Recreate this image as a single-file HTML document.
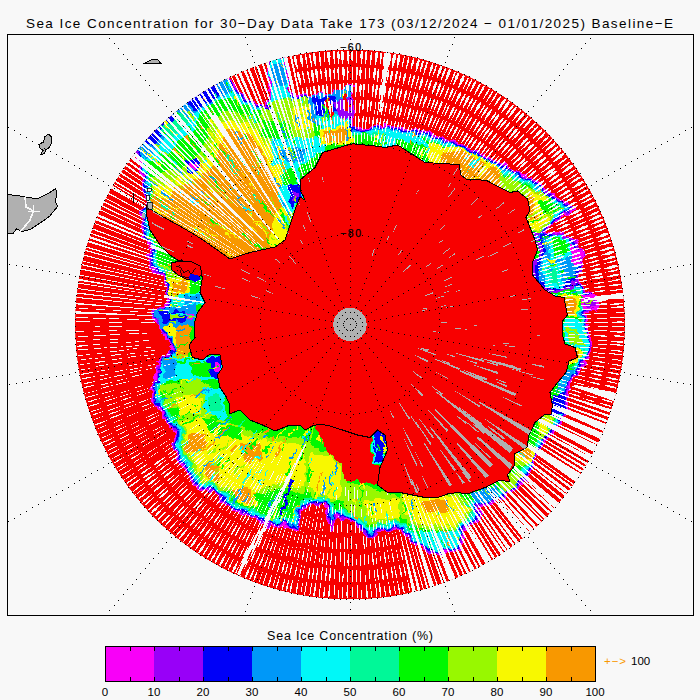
<!DOCTYPE html><html><head><meta charset="utf-8"><title>Sea Ice Concentration</title>
<style>html,body{margin:0;padding:0;background:#f8f8f8;}svg{display:block;font-family:"Liberation Sans",sans-serif;}</style></head><body>
<svg width="700" height="700" viewBox="0 0 700 700" shape-rendering="crispEdges">
<rect width="700" height="700" fill="#f8f8f8"/>
<defs><clipPath id="fr"><rect x="7" y="34" width="686" height="581"/></clipPath>
<clipPath id="disc"><circle cx="350" cy="324.5" r="275"/></clipPath>
<clipPath id="ocean"><path clip-rule="evenodd" d="M0 0H700V700H0Z M146.0 205.0 L150.0 209.0 L165.0 218.0 L182.5 227.5 L200.0 238.0 L217.5 250.0 L230.0 259.0 L250.0 252.5 L275.0 247.0 L285.0 240.0 L290.0 225.0 L295.0 210.0 L300.0 197.0 L305.0 200.0 L301.0 192.0 L300.0 180.0 L315.0 167.5 L322.5 152.5 L347.5 145.0 L352.5 143.8 L375.0 146.0 L385.0 147.5 L397.5 145.0 L415.0 156.0 L425.0 162.5 L450.0 164.0 L459.0 164.0 L461.0 175.0 L467.5 180.0 L475.0 179.0 L487.5 181.0 L500.0 187.5 L510.0 192.5 L517.5 191.0 L527.5 199.0 L530.0 210.0 L526.0 217.5 L530.0 227.5 L535.0 240.0 L537.5 250.0 L532.5 262.5 L532.5 275.0 L545.0 290.0 L555.0 296.0 L564.0 297.5 L567.5 315.0 L562.5 321.0 L562.5 335.0 L565.0 344.0 L575.0 347.5 L577.5 357.5 L569.0 361.0 L566.0 372.5 L557.5 382.5 L550.0 392.5 L552.5 405.0 L551.0 414.0 L544.0 415.0 L535.0 422.5 L529.0 435.0 L527.0 447.5 L514.0 454.0 L515.0 465.0 L507.5 475.0 L510.0 482.0 L500.0 480.0 L485.0 487.5 L475.0 491.0 L467.5 494.0 L457.5 492.5 L447.5 494.0 L437.5 497.5 L425.0 497.5 L412.5 495.0 L400.0 492.5 L387.5 492.5 L377.5 485.0 L380.0 467.5 L387.5 450.0 L385.0 435.0 L377.5 430.0 L370.0 437.5 L357.5 435.0 L342.5 430.0 L330.0 426.0 L320.0 424.0 L312.5 426.0 L305.0 430.0 L300.0 425.0 L290.0 425.0 L275.0 431.0 L262.5 425.0 L250.0 420.0 L240.0 410.0 L229.0 414.0 L230.0 405.0 L225.0 395.0 L220.0 387.5 L217.5 375.0 L222.5 367.5 L220.0 355.0 L210.0 354.0 L202.5 360.0 L192.5 357.5 L189.0 345.0 L195.0 337.5 L194.0 325.0 L197.5 312.5 L205.0 302.5 L200.0 292.5 L202.5 277.5 L198.0 268.0 L188.0 262.0 L177.5 260.0 L170.0 255.0 L160.0 245.0 L150.0 230.0 L146.0 212.0 Z"/></clipPath>
<clipPath id="contclip"><polygon points="146.0,205.0 150.0,209.0 165.0,218.0 182.5,227.5 200.0,238.0 217.5,250.0 230.0,259.0 250.0,252.5 275.0,247.0 285.0,240.0 290.0,225.0 295.0,210.0 300.0,197.0 305.0,200.0 301.0,192.0 300.0,180.0 315.0,167.5 322.5,152.5 347.5,145.0 352.5,143.8 375.0,146.0 385.0,147.5 397.5,145.0 415.0,156.0 425.0,162.5 450.0,164.0 459.0,164.0 461.0,175.0 467.5,180.0 475.0,179.0 487.5,181.0 500.0,187.5 510.0,192.5 517.5,191.0 527.5,199.0 530.0,210.0 526.0,217.5 530.0,227.5 535.0,240.0 537.5,250.0 532.5,262.5 532.5,275.0 545.0,290.0 555.0,296.0 564.0,297.5 567.5,315.0 562.5,321.0 562.5,335.0 565.0,344.0 575.0,347.5 577.5,357.5 569.0,361.0 566.0,372.5 557.5,382.5 550.0,392.5 552.5,405.0 551.0,414.0 544.0,415.0 535.0,422.5 529.0,435.0 527.0,447.5 514.0,454.0 515.0,465.0 507.5,475.0 510.0,482.0 500.0,480.0 485.0,487.5 475.0,491.0 467.5,494.0 457.5,492.5 447.5,494.0 437.5,497.5 425.0,497.5 412.5,495.0 400.0,492.5 387.5,492.5 377.5,485.0 380.0,467.5 387.5,450.0 385.0,435.0 377.5,430.0 370.0,437.5 357.5,435.0 342.5,430.0 330.0,426.0 320.0,424.0 312.5,426.0 305.0,430.0 300.0,425.0 290.0,425.0 275.0,431.0 262.5,425.0 250.0,420.0 240.0,410.0 229.0,414.0 230.0,405.0 225.0,395.0 220.0,387.5 217.5,375.0 222.5,367.5 220.0,355.0 210.0,354.0 202.5,360.0 192.5,357.5 189.0,345.0 195.0,337.5 194.0,325.0 197.5,312.5 205.0,302.5 200.0,292.5 202.5,277.5 198.0,268.0 188.0,262.0 177.5,260.0 170.0,255.0 160.0,245.0 150.0,230.0 146.0,212.0"/></clipPath>
<clipPath id="ext"><polygon points="149.0,206.6 149.0,207.0 149.0,207.4 148.9,207.8 148.8,208.2 148.7,208.5 148.5,208.9 148.3,209.2 148.1,209.5 147.8,209.8 144.2,213.4 146.9,233.9 153.6,248.3 153.8,248.7 153.9,249.1 154.0,249.5 154.0,249.9 154.0,250.3 153.9,250.7 151.8,263.4 165.1,274.4 165.3,274.7 165.6,275.0 165.8,275.3 166.0,275.6 166.2,276.0 166.3,276.3 166.4,276.7 171.4,301.7 171.5,302.1 171.5,302.5 171.5,302.9 171.4,303.2 171.3,303.6 171.2,304.0 171.1,304.3 170.9,304.7 170.6,305.0 170.4,305.3 170.1,305.5 169.8,305.8 169.5,306.0 155.6,313.9 165.9,330.4 166.0,330.5 176.0,348.0 176.2,348.4 176.3,348.7 176.4,349.1 176.5,349.5 176.5,349.9 176.5,350.3 176.4,350.7 176.3,351.1 176.2,351.5 176.0,351.9 175.8,352.2 175.6,352.5 175.3,352.8 175.0,353.1 174.7,353.3 161.2,362.3 159.0,380.5 158.9,380.9 158.8,381.3 154.3,394.7 156.0,398.1 165.8,415.2 178.1,429.9 178.3,430.2 178.5,430.6 178.7,430.9 178.8,431.2 178.9,431.6 179.0,432.0 179.0,432.3 179.0,432.7 179.0,433.1 176.7,449.2 185.9,465.4 199.9,486.3 213.2,488.6 213.6,488.6 214.0,488.8 214.3,488.9 214.7,489.2 215.0,489.4 215.3,489.7 232.2,506.6 251.3,513.7 259.2,516.2 259.5,516.3 259.8,516.4 260.1,516.6 271.7,523.7 282.0,521.1 282.4,521.0 282.8,521.0 283.2,521.0 283.6,521.1 284.0,521.1 284.4,521.3 284.8,521.4 294.6,526.3 301.2,505.8 301.3,505.4 301.5,505.1 301.7,504.7 301.9,504.4 302.2,504.1 302.5,503.9 302.8,503.7 303.1,503.5 303.5,503.3 303.8,503.2 304.2,503.1 304.6,503.0 324.6,501.0 325.0,501.0 325.4,501.0 325.8,501.1 326.2,501.2 326.6,501.3 326.9,501.5 327.3,501.7 327.6,501.9 327.9,502.2 328.1,502.5 328.4,502.9 328.6,503.2 328.7,503.6 328.9,504.0 328.9,504.3 331.6,520.0 333.3,515.6 333.4,515.2 333.6,514.8 333.9,514.5 334.1,514.2 334.4,513.9 334.8,513.7 335.1,513.5 335.5,513.3 335.9,513.2 336.3,513.1 336.7,513.0 337.1,513.0 337.5,513.0 337.9,513.1 338.2,513.2 338.6,513.3 356.6,521.3 357.0,521.5 357.3,521.7 357.6,521.9 357.8,522.2 370.3,534.6 377.5,528.9 377.8,528.7 378.1,528.5 378.5,528.3 378.9,528.2 379.2,528.1 379.6,528.0 399.6,526.0 400.0,526.0 400.4,526.0 400.7,526.1 401.1,526.2 401.5,526.3 401.8,526.4 402.1,526.6 402.4,526.8 402.7,527.1 403.0,527.4 417.3,543.6 437.3,550.9 458.5,546.6 461.0,529.4 461.1,529.0 461.2,528.7 461.4,528.3 461.6,528.0 461.8,527.6 462.0,527.3 462.3,527.1 462.6,526.8 477.2,515.7 474.3,508.5 474.2,508.1 474.1,507.7 474.0,507.4 474.0,507.0 474.0,506.6 474.1,506.2 474.2,505.8 474.3,505.5 474.5,505.1 474.7,504.8 474.9,504.5 475.2,504.2 475.4,503.9 475.7,503.7 476.1,503.5 476.4,503.3 476.8,503.2 498.3,496.4 509.7,488.7 521.9,479.3 531.3,463.3 536.2,448.7 536.4,448.3 536.6,447.9 536.8,447.6 546.8,434.6 546.9,434.4 556.7,422.7 563.9,411.0 563.0,400.3 563.0,400.0 563.0,399.6 563.1,399.2 566.1,384.2 566.2,383.9 566.3,383.5 566.4,383.2 566.6,382.9 566.8,382.6 576.7,369.7 584.3,358.3 587.9,344.7 586.1,330.7 582.1,312.9 582.0,312.5 582.0,312.1 582.0,311.7 582.1,311.3 582.1,310.9 582.3,310.6 582.4,310.2 582.6,309.9 582.8,309.5 583.1,309.2 583.4,309.0 583.7,308.7 584.0,308.5 584.4,308.3 584.7,308.2 594.5,304.9 595.5,300.0 586.0,294.5 585.6,294.2 585.3,294.0 575.3,285.0 575.1,284.7 574.8,284.4 574.6,284.1 574.4,283.8 574.3,283.4 574.1,283.1 574.1,282.7 574.0,282.3 574.0,281.9 574.0,281.6 574.1,281.2 574.2,280.8 574.3,280.5 579.0,269.1 579.9,251.2 572.5,241.3 559.2,236.0 546.0,236.0 545.6,236.0 545.2,235.9 544.8,235.8 544.5,235.7 544.1,235.5 543.8,235.3 543.5,235.1 543.2,234.8 542.9,234.5 542.7,234.2 542.5,233.9 542.3,233.5 542.2,233.2 542.1,232.8 542.0,232.4 542.0,232.0 542.0,231.6 542.1,231.2 542.2,230.8 542.3,230.5 542.5,230.1 542.7,229.8 542.9,229.5 543.2,229.2 548.2,224.2 548.5,223.9 559.5,214.9 559.8,214.7 569.2,208.4 560.1,203.5 559.8,203.3 547.8,195.3 547.5,195.1 532.8,183.4 518.2,175.6 488.2,160.6 463.5,148.7 448.7,143.8 448.5,143.7 424.0,133.9 399.6,131.0 380.0,129.0 353.4,132.0 353.0,132.0 352.7,132.0 352.3,131.9 351.9,131.8 351.5,131.7 351.1,131.5 350.8,131.3 350.5,131.1 350.2,130.8 349.9,130.6 349.7,130.2 349.5,129.9 349.3,129.5 349.2,129.2 349.1,128.8 349.0,128.4 349.0,128.0 349.0,89.9 331.3,95.8 330.9,95.9 330.6,96.0 310.6,99.0 310.3,99.0 309.9,99.0 309.6,99.0 289.6,97.0 289.2,96.9 288.8,96.8 288.5,96.7 288.1,96.5 287.8,96.3 287.5,96.1 287.2,95.8 286.9,95.6 286.7,95.2 286.5,94.9 286.3,94.6 286.2,94.2 286.1,93.8 286.0,93.4 284.0,75.4 284.0,75.0 284.0,60.1 272.0,63.1 272.0,85.0 272.0,85.4 270.0,106.4 269.9,106.8 269.8,107.1 269.7,107.5 269.5,107.9 269.4,108.2 269.1,108.5 268.9,108.8 268.6,109.1 268.3,109.3 268.0,109.5 267.6,109.7 267.2,109.8 266.9,109.9 266.5,110.0 266.1,110.0 265.7,110.0 265.3,109.9 265.0,109.9 264.6,109.7 248.6,103.7 248.3,103.6 248.0,103.4 247.7,103.3 247.4,103.0 233.4,91.0 233.1,90.8 232.9,90.5 232.6,90.2 232.4,89.8 232.3,89.5 229.1,81.4 223.9,80.2 216.7,84.0 208.4,88.8 200.2,93.9 192.3,99.2 184.5,104.9 176.9,110.8 169.6,117.0 162.5,123.4 155.5,130.0 148.9,137.0 142.5,144.1 137.8,149.6 141.7,158.4 141.8,158.8 141.9,159.2 146.9,184.2 147.0,184.6 149.0,206.6"/></clipPath>
<filter id="rough" x="0" y="0" width="700" height="700" filterUnits="userSpaceOnUse"><feTurbulence type="fractalNoise" baseFrequency="0.12" numOctaves="2" seed="4"/><feDisplacementMap in="SourceGraphic" scale="9" xChannelSelector="R" yChannelSelector="G"/></filter>
</defs>
<text x="26" y="28" font-size="13.5" textLength="647" lengthAdjust="spacing" fill="#000">Sea Ice Concentration for 30&#8722;Day Data Take 173 (03/12/2024 &#8722; 01/01/2025) Baseline&#8722;E</text>
<g clip-path="url(#fr)">
<polygon points="7.0,194.3 24.2,196.6 37.2,199.0 48.3,193.4 55.8,188.4 56.7,194.3 55.4,201.8 57.6,206.4 53.0,212.0 50.2,215.7 45.5,219.4 37.2,225.0 29.7,229.7 22.3,231.5 16.7,228.7 13.0,233.4 7.0,233.8" fill="#b0b0b0" stroke="#000" stroke-width="1"/>
<polygon points="44.6,136.7 48.7,134.1 52.0,137.7 51.1,144.2 48.7,147.9 45.5,149.7 44.6,153.5 40.5,154.6 43.1,150.7 40.0,147.9 39.4,144.2 43.7,141.9" fill="#b0b0b0" stroke="#000" stroke-width="1"/>
<polygon points="145.0,63.2 151.2,60.0 157.5,59.5 161.2,63.7 155.0,63.0 150.0,63.7" fill="#b0b0b0" stroke="#000" stroke-width="1"/>
<g clip-path="url(#disc)">
<circle cx="350" cy="324.5" r="275" fill="#f80000"/>
<g filter="url(#rough)">
<polygon points="145.0,207.0 140.0,212.0 143.0,235.0 150.0,250.0 147.5,265.0 162.5,277.5 167.5,302.5 150.0,312.5 162.5,332.5 172.5,350.0 157.5,360.0 155.0,380.0 150.0,395.0 152.5,400.0 162.5,417.5 175.0,432.5 172.5,450.0 182.5,467.5 197.5,490.0 212.5,492.5 230.0,510.0 250.0,517.5 258.0,520.0 271.0,528.0 283.0,525.0 297.0,532.0 305.0,507.0 325.0,505.0 330.0,535.0 337.0,517.0 355.0,525.0 370.0,540.0 380.0,532.0 400.0,530.0 415.0,547.0 437.0,555.0 462.0,550.0 465.0,530.0 482.0,517.0 478.0,507.0 500.0,500.0 512.0,492.0 525.0,482.0 535.0,465.0 540.0,450.0 550.0,437.0 560.0,425.0 568.0,412.0 567.0,400.0 570.0,385.0 580.0,372.0 588.0,360.0 592.0,345.0 590.0,330.0 586.0,312.0 598.0,308.0 600.0,298.0 588.0,291.0 578.0,282.0 583.0,270.0 584.0,250.0 575.0,238.0 560.0,232.0 546.0,232.0 551.0,227.0 562.0,218.0 577.0,208.0 562.0,200.0 550.0,192.0 535.0,180.0 520.0,172.0 490.0,157.0 465.0,145.0 450.0,140.0 425.0,130.0 400.0,127.0 380.0,125.0 353.0,128.0 353.0,84.0 348.0,86.0 330.0,92.0 310.0,95.0 290.0,93.0 288.0,75.0 288.0,55.0 268.0,60.0 268.0,85.0 266.0,106.0 250.0,100.0 236.0,88.0 232.0,78.0 223.3,75.9 214.7,80.5 206.3,85.4 198.0,90.5 190.0,96.0 182.1,101.7 174.4,107.7 167.0,113.9 159.7,120.5 152.7,127.2 146.0,134.2 139.4,141.5 133.2,148.9 138.0,160.0 143.0,185.0 145.0,207.0" fill="#f800f8" />
<polygon points="146.2,206.9 146.2,207.0 146.2,207.1 146.2,207.2 146.1,207.4 146.1,207.5 146.1,207.6 146.0,207.7 145.9,207.8 145.8,207.8 141.3,212.4 144.2,234.7 151.1,249.5 151.1,249.6 151.2,249.7 151.2,249.8 151.2,250.0 151.2,250.1 151.2,250.2 148.8,264.5 163.3,276.6 163.4,276.7 163.4,276.7 163.5,276.8 163.6,276.9 163.6,277.0 163.6,277.2 163.7,277.3 168.7,302.3 168.7,302.4 168.7,302.5 168.7,302.6 168.7,302.7 168.7,302.8 168.6,302.9 168.6,303.0 168.5,303.1 168.4,303.2 168.4,303.3 168.3,303.4 168.2,303.5 168.1,303.5 151.7,312.9 163.5,331.9 163.5,331.9 173.5,349.4 173.6,349.5 173.6,349.6 173.7,349.7 173.7,349.9 173.7,350.0 173.7,350.1 173.7,350.2 173.7,350.3 173.6,350.4 173.6,350.6 173.5,350.7 173.4,350.8 173.4,350.8 173.3,350.9 173.2,351.0 158.6,360.7 156.2,380.1 156.2,380.3 156.1,380.4 151.3,394.9 153.6,399.4 163.5,416.8 175.9,431.7 176.0,431.8 176.0,431.9 176.1,432.0 176.1,432.1 176.2,432.2 176.2,432.3 176.2,432.4 176.2,432.6 176.2,432.7 173.7,449.8 183.5,466.9 198.2,488.9 212.7,491.3 212.8,491.3 212.9,491.4 213.0,491.4 213.2,491.5 213.3,491.6 213.3,491.7 230.7,509.0 250.4,516.4 258.4,518.9 258.5,518.9 258.5,518.9 258.6,519.0 271.2,526.7 282.7,523.8 282.8,523.8 282.9,523.8 283.1,523.8 283.2,523.8 283.3,523.8 283.4,523.9 283.5,523.9 296.3,530.3 303.9,506.6 303.9,506.5 303.9,506.4 304.0,506.3 304.1,506.2 304.2,506.1 304.2,506.1 304.3,506.0 304.4,505.9 304.5,505.9 304.7,505.9 304.8,505.8 304.9,505.8 324.9,503.8 325.0,503.8 325.1,503.8 325.2,503.8 325.4,503.9 325.5,503.9 325.6,503.9 325.7,504.0 325.8,504.1 325.9,504.2 325.9,504.3 326.0,504.4 326.1,504.5 326.1,504.6 326.2,504.7 326.2,504.8 330.5,530.5 335.9,516.6 335.9,516.5 336.0,516.3 336.1,516.3 336.1,516.2 336.2,516.1 336.3,516.0 336.4,515.9 336.5,515.9 336.7,515.9 336.8,515.8 336.9,515.8 337.0,515.8 337.1,515.8 337.3,515.8 337.4,515.9 337.5,515.9 355.5,523.9 355.6,524.0 355.7,524.0 355.8,524.1 355.8,524.2 370.1,538.4 379.3,531.1 379.3,531.0 379.4,530.9 379.5,530.9 379.7,530.9 379.8,530.8 379.9,530.8 399.9,528.8 400.0,528.8 400.1,528.8 400.2,528.8 400.3,528.8 400.4,528.9 400.5,528.9 400.6,529.0 400.7,529.1 400.8,529.1 400.9,529.2 415.7,546.0 437.1,553.8 460.9,549.0 463.8,529.8 463.8,529.7 463.9,529.6 463.9,529.5 464.0,529.4 464.0,529.3 464.1,529.2 464.2,529.1 464.3,529.0 480.5,516.6 476.9,507.4 476.8,507.3 476.8,507.2 476.8,507.1 476.8,507.0 476.8,506.9 476.8,506.8 476.9,506.6 476.9,506.5 476.9,506.4 477.0,506.3 477.1,506.2 477.1,506.2 477.2,506.1 477.3,506.0 477.4,505.9 477.5,505.9 477.6,505.9 499.5,498.9 511.3,491.0 524.1,481.2 533.9,464.5 538.9,449.6 538.9,449.5 539.0,449.4 539.0,449.3 549.0,436.3 549.1,436.2 559.0,424.3 566.8,411.7 565.8,400.1 565.8,400.0 565.8,399.9 565.8,399.8 568.8,384.8 568.8,384.7 568.9,384.6 568.9,384.5 569.0,384.4 569.0,384.3 579.0,371.3 586.9,359.5 590.8,344.9 588.8,330.2 584.8,312.3 584.8,312.1 584.8,312.0 584.8,311.9 584.8,311.8 584.8,311.7 584.9,311.6 584.9,311.5 585.0,311.4 585.1,311.3 585.1,311.2 585.2,311.1 585.3,311.0 585.4,311.0 585.5,310.9 585.6,310.9 597.0,307.1 598.7,298.6 587.4,292.0 587.3,292.0 587.2,291.9 577.2,282.9 577.1,282.8 577.0,282.7 577.0,282.6 576.9,282.5 576.9,282.4 576.8,282.3 576.8,282.2 576.8,282.1 576.8,282.0 576.8,281.9 576.8,281.8 576.9,281.6 576.9,281.5 581.8,269.7 582.8,250.4 574.2,239.0 559.8,233.2 546.0,233.2 545.9,233.2 545.8,233.2 545.7,233.1 545.5,233.1 545.4,233.1 545.3,233.0 545.2,232.9 545.2,232.8 545.1,232.8 545.0,232.7 544.9,232.6 544.9,232.5 544.9,232.3 544.8,232.2 544.8,232.1 544.8,232.0 544.8,231.9 544.8,231.8 544.9,231.7 544.9,231.5 544.9,231.4 545.0,231.3 545.1,231.2 545.2,231.2 550.2,226.2 550.2,226.1 561.2,217.1 561.3,217.0 574.7,208.1 561.4,201.1 561.3,201.0 549.3,193.0 549.3,192.9 534.3,181.0 519.4,173.1 489.5,158.1 464.5,146.1 449.6,141.1 449.6,141.1 424.7,131.2 399.9,128.2 380.0,126.2 353.1,129.2 353.0,129.2 352.9,129.2 352.8,129.2 352.7,129.2 352.6,129.1 352.4,129.1 352.3,129.0 352.2,128.9 352.2,128.9 352.1,128.8 352.0,128.7 351.9,128.6 351.9,128.5 351.9,128.4 351.8,128.2 351.8,128.1 351.8,128.0 351.8,85.8 348.4,87.1 348.4,87.1 330.4,93.1 330.3,93.2 330.2,93.2 310.2,96.2 310.1,96.2 310.0,96.2 309.9,96.2 289.9,94.2 289.8,94.2 289.7,94.1 289.5,94.1 289.4,94.1 289.3,94.0 289.2,93.9 289.2,93.9 289.1,93.8 289.0,93.7 288.9,93.6 288.9,93.5 288.9,93.4 288.8,93.2 288.8,93.1 286.8,75.1 286.8,75.0 286.8,56.5 269.2,60.9 269.2,85.0 269.2,85.1 267.2,106.1 267.2,106.2 267.2,106.3 267.1,106.5 267.1,106.6 267.0,106.7 266.9,106.7 266.9,106.8 266.8,106.9 266.7,107.0 266.6,107.0 266.5,107.1 266.4,107.1 266.3,107.2 266.1,107.2 266.0,107.2 265.9,107.2 265.8,107.2 265.7,107.2 265.6,107.1 249.6,101.1 249.5,101.1 249.4,101.0 249.3,101.0 249.2,100.9 235.2,88.9 235.1,88.8 235.1,88.7 235.0,88.7 234.9,88.6 234.9,88.4 231.1,79.0 223.5,77.2 215.3,81.5 206.9,86.4 198.7,91.5 190.7,96.9 182.8,102.6 175.2,108.6 167.7,114.8 160.5,121.3 153.6,128.1 146.8,135.0 140.3,142.2 134.6,149.1 139.1,159.5 139.1,159.6 139.2,159.8 144.2,184.8 144.2,184.9 146.2,206.9" fill="#9800f8" />
<polygon points="147.4,206.8 147.4,207.0 147.4,207.2 147.4,207.5 147.3,207.7 147.2,207.9 147.1,208.1 147.0,208.3 146.9,208.5 146.7,208.7 142.5,212.9 145.3,234.3 152.2,249.0 152.3,249.2 152.3,249.4 152.4,249.7 152.4,249.9 152.4,250.2 152.4,250.4 150.1,264.0 164.0,275.7 164.2,275.8 164.4,276.0 164.5,276.2 164.6,276.4 164.7,276.6 164.8,276.8 164.9,277.0 169.9,302.0 169.9,302.3 169.9,302.5 169.9,302.7 169.9,302.9 169.8,303.2 169.7,303.4 169.6,303.6 169.5,303.8 169.4,304.0 169.2,304.2 169.1,304.3 168.9,304.5 168.7,304.6 153.4,313.3 164.5,331.2 164.6,331.3 174.6,348.8 174.7,349.0 174.8,349.2 174.8,349.5 174.9,349.7 174.9,350.0 174.9,350.2 174.9,350.4 174.8,350.7 174.7,350.9 174.6,351.1 174.5,351.3 174.4,351.5 174.2,351.7 174.0,351.9 173.8,352.0 159.7,361.4 157.4,380.3 157.3,380.5 157.3,380.8 152.6,394.8 154.6,398.9 164.5,416.1 176.8,431.0 177.0,431.1 177.1,431.3 177.2,431.5 177.3,431.7 177.3,432.0 177.4,432.2 177.4,432.4 177.4,432.6 177.4,432.8 175.0,449.5 184.5,466.2 198.9,487.8 212.9,490.1 213.1,490.2 213.4,490.3 213.6,490.4 213.8,490.5 214.0,490.6 214.2,490.8 231.3,507.9 250.8,515.2 258.7,517.7 258.9,517.8 259.1,517.9 259.3,518.0 271.4,525.4 282.4,522.7 282.7,522.6 282.9,522.6 283.1,522.6 283.4,522.6 283.6,522.7 283.9,522.8 284.1,522.9 295.6,528.6 302.7,506.3 302.8,506.1 302.9,505.8 303.0,505.6 303.2,505.5 303.3,505.3 303.5,505.1 303.7,505.0 303.9,504.9 304.1,504.8 304.3,504.7 304.5,504.6 304.8,504.6 324.8,502.6 325.0,502.6 325.2,502.6 325.5,502.6 325.7,502.7 325.9,502.8 326.2,502.9 326.4,503.0 326.6,503.2 326.7,503.3 326.9,503.5 327.0,503.7 327.1,503.9 327.2,504.1 327.3,504.4 327.4,504.6 330.9,526.0 334.8,516.1 334.9,515.9 335.0,515.7 335.1,515.5 335.3,515.3 335.5,515.2 335.7,515.0 335.9,514.9 336.1,514.8 336.3,514.7 336.6,514.6 336.8,514.6 337.0,514.6 337.3,514.6 337.5,514.7 337.7,514.7 338.0,514.8 356.0,522.8 356.2,522.9 356.4,523.0 356.5,523.2 356.7,523.3 370.2,536.8 378.5,530.1 378.7,530.0 378.9,529.9 379.1,529.8 379.3,529.7 379.5,529.6 379.8,529.6 399.8,527.6 400.0,527.6 400.2,527.6 400.4,527.6 400.7,527.7 400.9,527.8 401.1,527.9 401.3,528.0 401.5,528.1 401.6,528.2 401.8,528.4 416.4,545.0 437.2,552.5 459.9,548.0 462.6,529.6 462.7,529.4 462.7,529.2 462.8,529.0 462.9,528.8 463.1,528.6 463.2,528.4 463.4,528.2 463.5,528.1 479.1,516.2 475.8,507.9 475.7,507.7 475.6,507.4 475.6,507.2 475.6,507.0 475.6,506.8 475.6,506.5 475.7,506.3 475.8,506.1 475.9,505.9 476.0,505.7 476.1,505.5 476.3,505.3 476.5,505.2 476.6,505.0 476.8,504.9 477.1,504.8 477.3,504.7 499.0,497.8 510.6,490.0 523.2,480.4 532.8,464.0 537.7,449.2 537.8,449.0 537.9,448.8 538.1,448.5 548.1,435.5 548.2,435.5 558.0,423.6 565.5,411.4 564.6,400.2 564.6,400.0 564.6,399.8 564.6,399.5 567.6,384.5 567.7,384.3 567.8,384.1 567.9,383.9 568.0,383.7 568.1,383.5 578.0,370.6 585.8,359.0 589.6,344.8 587.6,330.4 583.7,312.5 583.6,312.3 583.6,312.1 583.6,311.8 583.6,311.6 583.7,311.4 583.8,311.1 583.9,310.9 584.0,310.7 584.1,310.5 584.3,310.3 584.4,310.2 584.6,310.0 584.8,309.9 585.0,309.8 585.2,309.7 595.9,306.2 597.3,299.2 586.8,293.1 586.6,292.9 586.4,292.8 576.4,283.8 576.2,283.6 576.1,283.4 576.0,283.3 575.8,283.1 575.8,282.9 575.7,282.6 575.6,282.4 575.6,282.2 575.6,282.0 575.6,281.7 575.7,281.5 575.7,281.3 575.8,281.1 580.6,269.5 581.6,250.7 573.5,240.0 559.5,234.4 546.0,234.4 545.8,234.4 545.5,234.4 545.3,234.3 545.1,234.2 544.9,234.1 544.7,234.0 544.5,233.9 544.3,233.7 544.1,233.5 544.0,233.3 543.9,233.1 543.8,232.9 543.7,232.7 543.6,232.5 543.6,232.2 543.6,232.0 543.6,231.8 543.6,231.5 543.7,231.3 543.8,231.1 543.9,230.9 544.0,230.7 544.1,230.5 544.3,230.3 549.3,225.3 549.5,225.1 560.5,216.1 560.7,216.0 572.3,208.2 560.9,202.1 560.7,202.0 548.7,194.0 548.5,193.9 533.7,182.0 518.9,174.1 488.9,159.2 464.1,147.2 449.2,142.3 449.1,142.2 424.4,132.3 399.7,129.4 380.0,127.4 353.3,130.4 353.0,130.4 352.8,130.4 352.6,130.4 352.3,130.3 352.1,130.2 351.9,130.1 351.7,130.0 351.5,129.9 351.3,129.7 351.2,129.5 351.0,129.3 350.9,129.1 350.8,128.9 350.7,128.7 350.6,128.5 350.6,128.2 350.6,128.0 350.6,87.5 348.9,88.2 348.8,88.3 330.8,94.3 330.6,94.3 330.4,94.4 310.4,97.4 310.2,97.4 310.0,97.4 309.8,97.4 289.8,95.4 289.5,95.4 289.3,95.3 289.1,95.2 288.9,95.1 288.7,95.0 288.5,94.9 288.3,94.7 288.2,94.5 288.0,94.3 287.9,94.1 287.8,93.9 287.7,93.7 287.7,93.5 287.6,93.3 285.6,75.3 285.6,75.0 285.6,58.1 270.4,61.9 270.4,85.0 270.4,85.2 268.4,106.2 268.4,106.5 268.3,106.7 268.2,106.9 268.1,107.1 268.0,107.3 267.9,107.5 267.7,107.7 267.6,107.8 267.4,108.0 267.2,108.1 267.0,108.2 266.7,108.3 266.5,108.3 266.3,108.4 266.1,108.4 265.8,108.4 265.6,108.4 265.4,108.3 265.2,108.2 249.2,102.2 249.0,102.2 248.8,102.1 248.6,102.0 248.4,101.8 234.4,89.8 234.3,89.7 234.1,89.5 234.0,89.3 233.9,89.1 233.8,88.9 230.2,80.0 223.7,78.5 215.9,82.6 207.5,87.4 199.4,92.5 191.3,97.9 183.5,103.6 175.9,109.5 168.5,115.7 161.4,122.2 154.4,128.9 147.7,135.9 141.2,143.0 136.0,149.3 140.2,159.0 140.3,159.3 140.4,159.5 145.4,184.5 145.4,184.8 147.4,206.8" fill="#0000f8" />
<polygon points="148.6,206.7 148.6,207.0 148.6,207.4 148.5,207.7 148.4,208.1 148.3,208.4 148.2,208.7 148.0,209.0 147.8,209.3 147.5,209.5 143.8,213.3 146.5,234.0 153.3,248.5 153.4,248.8 153.5,249.2 153.6,249.5 153.6,249.9 153.6,250.2 153.6,250.6 151.4,263.6 164.8,274.7 165.1,275.0 165.3,275.2 165.5,275.5 165.7,275.8 165.8,276.1 165.9,276.5 166.0,276.8 171.0,301.8 171.1,302.1 171.1,302.5 171.1,302.8 171.0,303.2 171.0,303.5 170.8,303.8 170.7,304.1 170.5,304.4 170.3,304.7 170.1,305.0 169.9,305.2 169.6,305.4 169.3,305.6 155.0,313.8 165.6,330.6 165.6,330.7 175.6,348.2 175.8,348.5 175.9,348.9 176.0,349.2 176.1,349.6 176.1,349.9 176.1,350.3 176.0,350.7 176.0,351.0 175.8,351.3 175.7,351.7 175.5,352.0 175.3,352.3 175.1,352.5 174.8,352.8 174.5,353.0 160.9,362.1 158.6,380.4 158.5,380.8 158.4,381.1 153.9,394.7 155.7,398.3 165.5,415.4 177.8,430.2 178.0,430.5 178.1,430.7 178.3,431.0 178.4,431.4 178.5,431.7 178.6,432.0 178.6,432.3 178.6,432.7 178.6,433.0 176.2,449.3 185.6,465.6 199.6,486.7 213.1,488.9 213.5,489.0 213.8,489.1 214.1,489.3 214.5,489.5 214.8,489.7 215.0,490.0 232.0,506.9 251.2,514.1 259.1,516.6 259.4,516.7 259.6,516.8 259.9,516.9 271.6,524.1 282.1,521.5 282.5,521.4 282.8,521.4 283.2,521.4 283.6,521.4 283.9,521.5 284.3,521.6 284.6,521.8 294.9,526.9 301.6,505.9 301.7,505.6 301.8,505.3 302.0,505.0 302.2,504.7 302.5,504.4 302.7,504.2 303.0,504.0 303.3,503.8 303.6,503.7 304.0,503.6 304.3,503.5 304.6,503.4 324.6,501.4 325.0,501.4 325.4,501.4 325.7,501.5 326.1,501.6 326.4,501.7 326.7,501.8 327.0,502.0 327.3,502.3 327.6,502.5 327.8,502.8 328.0,503.1 328.2,503.4 328.4,503.7 328.5,504.1 328.6,504.4 331.4,521.5 333.6,515.7 333.8,515.4 334.0,515.0 334.2,514.8 334.4,514.5 334.7,514.2 335.0,514.0 335.3,513.8 335.6,513.7 336.0,513.6 336.3,513.5 336.7,513.4 337.0,513.4 337.4,513.4 337.8,513.5 338.1,513.6 338.5,513.7 356.5,521.7 356.8,521.9 357.0,522.0 357.3,522.2 357.5,522.5 370.3,535.2 377.8,529.2 378.0,529.0 378.3,528.8 378.6,528.7 379.0,528.6 379.3,528.5 379.6,528.4 399.6,526.4 400.0,526.4 400.3,526.4 400.7,526.5 401.0,526.5 401.3,526.6 401.6,526.8 401.9,527.0 402.2,527.2 402.5,527.4 402.7,527.6 417.1,543.9 437.3,551.3 458.8,547.0 461.4,529.5 461.5,529.1 461.6,528.8 461.7,528.5 461.9,528.2 462.1,527.9 462.3,527.6 462.5,527.4 462.8,527.1 477.6,515.8 474.7,508.3 474.5,508.0 474.5,507.7 474.4,507.3 474.4,507.0 474.4,506.6 474.5,506.3 474.6,505.9 474.7,505.6 474.8,505.3 475.0,505.0 475.2,504.7 475.4,504.5 475.7,504.2 476.0,504.0 476.3,503.8 476.6,503.7 476.9,503.6 498.4,496.7 509.9,489.1 522.3,479.6 531.7,463.5 536.6,448.9 536.7,448.5 536.9,448.1 537.1,447.8 547.1,434.8 547.2,434.7 557.1,422.9 564.3,411.1 563.4,400.3 563.4,400.0 563.4,399.6 563.5,399.3 566.5,384.3 566.5,384.0 566.7,383.7 566.8,383.4 567.0,383.1 567.1,382.8 577.1,369.9 584.7,358.5 588.3,344.8 586.5,330.6 582.5,312.8 582.4,312.4 582.4,312.1 582.4,311.7 582.5,311.4 582.5,311.0 582.6,310.7 582.8,310.4 583.0,310.1 583.2,309.8 583.4,309.5 583.6,309.3 583.9,309.1 584.2,308.9 584.5,308.7 584.9,308.6 594.9,305.2 596.0,299.8 586.2,294.1 585.9,293.9 585.6,293.7 575.6,284.7 575.3,284.4 575.1,284.2 574.9,283.9 574.8,283.6 574.6,283.3 574.5,283.0 574.5,282.6 574.4,282.3 574.4,281.9 574.4,281.6 574.5,281.3 574.6,280.9 574.7,280.6 579.4,269.2 580.3,251.1 572.7,241.0 559.3,235.6 546.0,235.6 545.6,235.6 545.3,235.5 545.0,235.4 544.6,235.3 544.3,235.2 544.0,235.0 543.7,234.8 543.5,234.5 543.2,234.3 543.0,234.0 542.8,233.7 542.7,233.4 542.6,233.0 542.5,232.7 542.4,232.4 542.4,232.0 542.4,231.6 542.5,231.3 542.6,231.0 542.7,230.6 542.8,230.3 543.0,230.0 543.2,229.7 543.5,229.5 548.5,224.5 548.7,224.2 559.7,215.2 560.0,215.0 570.0,208.3 560.3,203.2 560.0,203.0 548.0,195.0 547.8,194.8 533.0,183.0 518.3,175.2 488.4,160.2 463.6,148.3 448.9,143.4 448.7,143.3 424.1,133.5 399.6,130.6 380.0,128.6 353.4,131.6 353.0,131.6 352.7,131.6 352.3,131.5 352.0,131.5 351.7,131.3 351.3,131.2 351.0,131.0 350.7,130.8 350.5,130.6 350.2,130.3 350.0,130.0 349.8,129.7 349.7,129.4 349.6,129.1 349.5,128.7 349.4,128.4 349.4,128.0 349.4,89.3 349.3,89.3 349.1,89.4 331.1,95.4 330.8,95.5 330.5,95.6 310.5,98.6 310.2,98.6 309.9,98.6 309.6,98.6 289.6,96.6 289.3,96.5 289.0,96.4 288.6,96.3 288.3,96.2 288.0,96.0 287.7,95.8 287.5,95.6 287.2,95.3 287.0,95.0 286.8,94.7 286.7,94.4 286.6,94.1 286.5,93.7 286.4,93.4 284.4,75.4 284.4,75.0 284.4,59.6 271.6,62.8 271.6,85.0 271.6,85.3 269.6,106.3 269.5,106.7 269.5,107.0 269.3,107.4 269.2,107.7 269.0,108.0 268.8,108.2 268.6,108.5 268.3,108.7 268.1,109.0 267.8,109.1 267.4,109.3 267.1,109.4 266.8,109.5 266.4,109.6 266.1,109.6 265.8,109.6 265.4,109.6 265.1,109.5 264.7,109.4 248.7,103.4 248.4,103.2 248.2,103.1 247.9,102.9 247.7,102.7 233.7,90.7 233.4,90.5 233.2,90.2 233.0,90.0 232.8,89.7 232.7,89.3 229.3,81.1 223.8,79.7 216.5,83.6 208.2,88.4 200.0,93.5 192.0,98.9 184.3,104.6 176.7,110.5 169.3,116.7 162.2,123.1 155.3,129.8 148.6,136.7 142.2,143.8 137.4,149.5 141.3,158.6 141.4,158.9 141.5,159.3 146.5,184.3 146.6,184.7 148.6,206.7" fill="#0098f8" />
<polygon points="149.8,206.6 149.8,207.0 149.8,207.5 149.7,208.0 149.6,208.4 149.4,208.9 149.2,209.3 149.0,209.7 148.7,210.0 148.4,210.4 145.1,213.7 147.7,233.6 154.3,248.0 154.5,248.4 154.7,248.9 154.8,249.4 154.8,249.8 154.8,250.3 154.7,250.8 152.7,263.1 165.6,273.8 165.9,274.1 166.2,274.5 166.5,274.8 166.7,275.2 166.9,275.7 167.1,276.1 167.2,276.6 172.2,301.6 172.3,302.0 172.3,302.5 172.3,302.9 172.2,303.4 172.1,303.8 172.0,304.3 171.8,304.7 171.5,305.1 171.3,305.5 171.0,305.8 170.6,306.1 170.3,306.4 169.9,306.7 156.7,314.2 166.6,330.0 166.7,330.1 176.7,347.6 176.9,348.0 177.1,348.5 177.2,349.0 177.3,349.4 177.3,349.9 177.3,350.4 177.2,350.9 177.1,351.3 177.0,351.8 176.8,352.2 176.5,352.6 176.2,353.0 175.9,353.4 175.5,353.7 175.2,354.0 162.0,362.8 159.8,380.6 159.7,381.1 159.6,381.5 155.2,394.6 156.7,397.7 166.5,414.8 178.7,429.4 179.0,429.8 179.2,430.2 179.4,430.6 179.6,431.0 179.7,431.4 179.8,431.8 179.8,432.3 179.8,432.7 179.8,433.2 177.5,449.0 186.6,465.0 200.3,485.6 213.3,487.8 213.8,487.9 214.2,488.0 214.7,488.2 215.1,488.5 215.5,488.8 215.9,489.1 232.7,505.9 251.6,513.0 259.4,515.4 259.8,515.6 260.2,515.7 260.5,515.9 271.8,522.9 281.8,520.3 282.3,520.2 282.8,520.2 283.3,520.2 283.8,520.3 284.2,520.4 284.7,520.5 285.1,520.7 294.1,525.2 300.4,505.5 300.6,505.1 300.8,504.7 301.0,504.3 301.3,503.9 301.6,503.6 302.0,503.3 302.4,503.0 302.8,502.8 303.2,502.6 303.6,502.4 304.1,502.3 304.5,502.2 324.5,500.2 325.0,500.2 325.5,500.2 326.0,500.3 326.4,500.4 326.9,500.6 327.3,500.8 327.7,501.0 328.1,501.3 328.5,501.7 328.8,502.0 329.0,502.4 329.3,502.8 329.5,503.3 329.6,503.7 329.7,504.2 331.9,517.0 332.5,515.3 332.7,514.8 333.0,514.4 333.3,514.0 333.6,513.6 333.9,513.3 334.3,513.0 334.7,512.8 335.2,512.6 335.6,512.4 336.1,512.3 336.6,512.2 337.1,512.2 337.5,512.2 338.0,512.3 338.5,512.4 338.9,512.6 356.9,520.6 357.3,520.8 357.7,521.0 358.1,521.3 358.4,521.6 370.4,533.6 377.0,528.3 377.4,528.0 377.8,527.7 378.2,527.6 378.6,527.4 379.1,527.3 379.5,527.2 399.5,525.2 400.0,525.2 400.4,525.2 400.9,525.3 401.3,525.4 401.8,525.5 402.2,525.7 402.6,525.9 402.9,526.2 403.3,526.5 403.6,526.8 417.8,542.9 437.4,550.0 457.8,546.0 460.3,529.3 460.3,528.8 460.5,528.4 460.7,528.0 460.9,527.6 461.1,527.2 461.4,526.8 461.7,526.5 462.1,526.2 476.2,515.4 473.5,508.8 473.4,508.3 473.3,507.9 473.2,507.4 473.2,507.0 473.2,506.5 473.3,506.0 473.4,505.6 473.6,505.2 473.8,504.7 474.0,504.3 474.3,504.0 474.6,503.6 474.9,503.3 475.3,503.0 475.7,502.8 476.1,502.6 476.5,502.4 497.9,495.6 509.2,488.1 521.3,478.8 530.6,463.0 535.4,448.5 535.6,448.0 535.9,447.5 536.2,447.1 546.2,434.1 546.3,433.9 556.1,422.2 563.1,410.8 562.2,400.4 562.2,400.0 562.2,399.5 562.3,399.1 565.3,384.1 565.4,383.6 565.5,383.2 565.7,382.8 565.9,382.4 566.2,382.1 576.1,369.2 583.6,358.0 587.1,344.7 585.3,330.8 581.3,313.0 581.2,312.6 581.2,312.1 581.2,311.6 581.3,311.2 581.4,310.7 581.5,310.3 581.7,309.8 581.9,309.4 582.2,309.0 582.5,308.7 582.9,308.4 583.2,308.1 583.6,307.8 584.0,307.6 584.5,307.4 593.8,304.3 594.6,300.4 585.6,295.1 585.2,294.9 584.8,294.6 574.8,285.6 574.5,285.2 574.2,284.9 573.9,284.5 573.7,284.1 573.5,283.7 573.4,283.3 573.3,282.8 573.2,282.4 573.2,281.9 573.2,281.5 573.3,281.0 573.4,280.6 573.6,280.2 578.2,268.9 579.1,251.5 572.0,242.0 559.1,236.8 546.0,236.8 545.5,236.8 545.1,236.7 544.6,236.6 544.2,236.4 543.7,236.2 543.3,236.0 543.0,235.7 542.6,235.4 542.3,235.0 542.0,234.7 541.8,234.3 541.6,233.8 541.4,233.4 541.3,232.9 541.2,232.5 541.2,232.0 541.2,231.5 541.3,231.1 541.4,230.6 541.6,230.2 541.8,229.7 542.0,229.3 542.3,229.0 542.6,228.6 547.6,223.6 548.0,223.3 559.0,214.3 559.3,214.0 567.7,208.5 559.7,204.2 559.3,204.0 547.3,196.0 547.0,195.7 532.3,184.0 517.8,176.3 487.9,161.3 463.2,149.5 448.5,144.6 448.2,144.5 423.8,134.7 399.5,131.8 380.0,129.8 353.5,132.8 353.1,132.8 352.6,132.8 352.1,132.7 351.7,132.6 351.2,132.5 350.8,132.3 350.4,132.0 350.0,131.7 349.6,131.4 349.3,131.1 349.0,130.7 348.8,130.3 348.6,129.8 348.4,129.4 348.3,128.9 348.2,128.5 348.2,128.0 348.2,91.0 331.5,96.6 331.1,96.7 330.7,96.7 310.7,99.7 310.3,99.8 309.9,99.8 309.5,99.8 289.5,97.8 289.1,97.7 288.6,97.6 288.2,97.4 287.7,97.2 287.3,97.0 287.0,96.7 286.6,96.4 286.3,96.1 286.0,95.7 285.8,95.3 285.6,94.9 285.4,94.4 285.3,94.0 285.2,93.5 283.2,75.5 283.2,75.0 283.2,61.1 272.8,63.7 272.8,85.0 272.8,85.5 270.8,106.5 270.7,106.9 270.6,107.4 270.4,107.8 270.3,108.2 270.0,108.6 269.7,109.0 269.4,109.3 269.1,109.7 268.7,109.9 268.3,110.2 267.9,110.4 267.5,110.6 267.1,110.7 266.6,110.8 266.1,110.8 265.7,110.8 265.2,110.7 264.8,110.6 264.3,110.5 248.3,104.5 247.9,104.3 247.6,104.1 247.2,103.9 246.9,103.6 232.9,91.6 232.5,91.3 232.2,91.0 232.0,90.6 231.7,90.2 231.5,89.8 228.5,82.1 224.0,81.0 217.1,84.7 208.8,89.5 200.7,94.5 192.7,99.9 185.0,105.5 177.4,111.4 170.1,117.6 163.0,124.0 156.1,130.6 149.5,137.5 143.1,144.6 138.8,149.7 142.4,158.1 142.6,158.6 142.7,159.1 147.7,184.1 147.8,184.6 149.8,206.6" fill="#00f8f8" />
<polygon points="151.5,206.4 151.5,207.0 151.5,207.7 151.4,208.3 151.2,208.9 151.0,209.5 150.7,210.1 150.4,210.6 150.0,211.1 149.6,211.6 146.9,214.3 149.3,233.2 155.9,247.3 156.1,247.9 156.3,248.5 156.4,249.1 156.5,249.8 156.5,250.4 156.4,251.1 154.5,262.4 166.7,272.5 167.1,272.9 167.5,273.4 167.9,273.9 168.2,274.5 168.5,275.0 168.7,275.6 168.9,276.2 173.9,301.2 174.0,301.8 174.0,302.5 174.0,303.1 173.9,303.7 173.7,304.3 173.5,304.9 173.3,305.5 173.0,306.0 172.6,306.5 172.2,307.0 171.7,307.4 171.3,307.8 170.7,308.1 159.1,314.8 168.0,329.1 168.1,329.3 178.1,346.8 178.4,347.4 178.7,348.0 178.8,348.6 179.0,349.2 179.0,349.9 179.0,350.5 178.9,351.2 178.7,351.8 178.5,352.4 178.3,353.0 177.9,353.6 177.5,354.1 177.1,354.6 176.6,355.0 176.1,355.4 163.6,363.8 161.4,380.8 161.3,381.4 161.2,382.1 157.0,394.5 158.2,396.9 167.9,413.8 180.0,428.3 180.4,428.8 180.7,429.3 180.9,429.9 181.2,430.4 181.3,431.0 181.4,431.6 181.5,432.2 181.5,432.8 181.4,433.4 179.3,448.7 188.0,464.1 201.3,484.1 213.6,486.1 214.2,486.2 214.9,486.4 215.5,486.7 216.1,487.1 216.6,487.5 217.1,487.9 233.6,504.4 252.1,511.4 259.9,513.8 260.4,514.0 260.9,514.2 261.4,514.5 272.1,521.0 281.4,518.7 282.1,518.6 282.7,518.5 283.4,518.5 284.0,518.6 284.7,518.7 285.3,518.9 285.9,519.2 293.1,522.8 298.8,505.0 299.0,504.4 299.3,503.9 299.6,503.3 300.0,502.8 300.4,502.4 300.9,501.9 301.4,501.6 302.0,501.3 302.5,501.0 303.1,500.8 303.7,500.6 304.4,500.5 324.4,498.5 325.0,498.5 325.7,498.5 326.3,498.6 326.9,498.8 327.5,499.0 328.1,499.3 328.7,499.6 329.2,500.0 329.7,500.5 330.1,501.0 330.5,501.5 330.8,502.1 331.1,502.7 331.3,503.3 331.4,503.9 332.8,512.1 332.8,512.0 333.4,511.6 333.9,511.3 334.5,511.0 335.1,510.8 335.8,510.6 336.4,510.5 337.1,510.5 337.7,510.5 338.4,510.7 339.0,510.8 339.6,511.1 357.6,519.1 358.2,519.3 358.7,519.6 359.2,520.0 359.6,520.4 370.5,531.3 375.9,526.9 376.4,526.6 377.0,526.2 377.5,526.0 378.1,525.8 378.7,525.6 379.4,525.5 399.4,523.5 400.0,523.5 400.6,523.5 401.2,523.6 401.8,523.8 402.4,523.9 402.9,524.2 403.5,524.5 404.0,524.9 404.4,525.3 404.9,525.7 418.8,541.5 437.5,548.3 456.2,544.5 458.6,529.0 458.7,528.4 458.9,527.8 459.1,527.2 459.4,526.7 459.7,526.2 460.1,525.7 460.6,525.2 461.1,524.8 474.1,514.8 472.0,509.4 471.8,508.8 471.6,508.2 471.5,507.6 471.5,507.0 471.5,506.3 471.6,505.7 471.8,505.1 472.0,504.5 472.3,503.9 472.6,503.4 473.0,502.9 473.4,502.4 473.8,502.0 474.3,501.6 474.9,501.3 475.4,501.0 476.0,500.8 497.2,494.1 508.2,486.7 520.0,477.6 529.1,462.3 533.8,447.9 534.1,447.3 534.4,446.6 534.8,446.0 544.8,433.0 545.0,432.8 554.7,421.2 561.3,410.4 560.5,400.5 560.5,399.9 560.5,399.3 560.6,398.7 563.6,383.7 563.8,383.1 564.0,382.6 564.2,382.0 564.5,381.5 564.8,381.0 574.7,368.2 582.0,357.3 585.4,344.6 583.6,331.1 579.7,313.4 579.5,312.8 579.5,312.1 579.5,311.5 579.6,310.9 579.7,310.3 579.9,309.7 580.2,309.1 580.5,308.5 580.9,308.0 581.3,307.5 581.7,307.1 582.2,306.7 582.8,306.4 583.4,306.1 583.9,305.8 592.4,303.0 592.7,301.3 584.7,296.6 584.2,296.3 583.7,295.8 573.7,286.8 573.2,286.4 572.8,285.9 572.5,285.4 572.2,284.9 571.9,284.3 571.7,283.7 571.6,283.1 571.5,282.5 571.5,281.9 571.5,281.3 571.6,280.7 571.8,280.1 572.0,279.5 576.6,268.5 577.4,252.0 570.9,243.4 558.7,238.5 546.0,238.5 545.4,238.5 544.7,238.4 544.1,238.2 543.5,238.0 542.9,237.7 542.4,237.4 541.9,237.0 541.4,236.6 541.0,236.1 540.6,235.6 540.3,235.1 540.0,234.5 539.8,233.9 539.6,233.3 539.5,232.6 539.5,232.0 539.5,231.4 539.6,230.7 539.8,230.1 540.0,229.5 540.3,228.9 540.6,228.4 541.0,227.9 541.4,227.4 546.4,222.4 546.9,222.0 557.9,213.0 558.4,212.6 564.4,208.6 558.9,205.7 558.4,205.4 546.4,197.4 545.9,197.1 531.4,185.5 517.0,177.8 487.1,162.8 462.6,151.0 447.9,146.2 447.6,146.0 423.4,136.4 399.3,133.5 380.0,131.5 353.7,134.5 353.1,134.5 352.4,134.5 351.8,134.4 351.2,134.2 350.6,134.0 350.0,133.8 349.4,133.4 348.9,133.1 348.4,132.6 348.0,132.1 347.6,131.6 347.3,131.1 347.0,130.5 346.8,129.9 346.6,129.3 346.5,128.6 346.5,128.0 346.5,93.4 332.1,98.2 331.5,98.3 331.0,98.4 311.0,101.4 310.4,101.5 309.9,101.5 309.4,101.5 289.4,99.5 288.7,99.4 288.1,99.2 287.5,99.0 287.0,98.7 286.4,98.4 285.9,98.0 285.4,97.6 285.0,97.2 284.6,96.7 284.3,96.1 284.0,95.5 283.8,95.0 283.6,94.3 283.5,93.7 281.5,75.7 281.5,75.0 281.5,63.3 274.5,65.1 274.5,85.0 274.5,85.6 272.5,106.6 272.4,107.2 272.2,107.8 272.0,108.4 271.8,109.0 271.4,109.5 271.1,110.1 270.7,110.5 270.2,111.0 269.7,111.3 269.2,111.7 268.6,112.0 268.0,112.2 267.4,112.3 266.8,112.5 266.2,112.5 265.6,112.5 264.9,112.4 264.3,112.3 263.7,112.1 247.7,106.1 247.2,105.9 246.7,105.6 246.2,105.3 245.8,104.9 231.8,92.9 231.3,92.5 230.9,92.0 230.5,91.5 230.2,91.0 230.0,90.4 227.2,83.5 224.2,82.8 217.9,86.2 209.7,90.9 201.6,96.0 193.7,101.3 186.0,106.9 178.5,112.7 171.2,118.8 164.2,125.2 157.3,131.8 150.7,138.7 144.3,145.7 140.7,150.0 144.0,157.4 144.2,158.1 144.4,158.7 149.4,183.7 149.5,184.4 151.5,206.4" fill="#00f898" />
<polygon points="153.5,206.2 153.5,207.1 153.5,207.9 153.3,208.7 153.1,209.5 152.8,210.3 152.5,211.0 152.1,211.7 151.6,212.4 151.0,213.0 149.0,215.1 151.3,232.6 157.7,246.4 158.0,247.2 158.3,248.0 158.4,248.8 158.5,249.7 158.5,250.6 158.4,251.4 156.7,261.6 167.9,271.0 168.5,271.5 169.1,272.1 169.6,272.8 170.0,273.5 170.4,274.3 170.6,275.0 170.8,275.8 175.8,300.8 176.0,301.6 176.0,302.5 176.0,303.3 175.9,304.1 175.7,304.9 175.4,305.6 175.1,306.4 174.7,307.1 174.2,307.8 173.6,308.4 173.0,308.9 172.4,309.4 171.7,309.9 161.9,315.5 169.7,328.0 169.9,328.3 179.9,345.8 180.3,346.5 180.6,347.3 180.8,348.2 180.9,349.0 181.0,349.8 181.0,350.7 180.9,351.5 180.7,352.4 180.4,353.2 180.0,353.9 179.6,354.7 179.1,355.4 178.5,356.0 177.9,356.6 177.2,357.1 165.5,364.9 163.4,381.1 163.3,381.9 163.1,382.7 159.2,394.3 160.0,396.0 169.5,412.6 181.5,427.1 182.0,427.7 182.4,428.4 182.8,429.1 183.1,429.8 183.3,430.6 183.4,431.3 183.5,432.1 183.5,432.9 183.4,433.7 181.3,448.3 189.7,463.0 202.5,482.2 213.9,484.1 214.8,484.3 215.6,484.6 216.4,484.9 217.1,485.4 217.9,485.9 218.5,486.5 234.7,502.7 252.8,509.5 260.5,511.9 261.2,512.1 261.8,512.4 262.5,512.8 272.4,518.9 280.9,516.8 281.8,516.6 282.6,516.5 283.5,516.5 284.4,516.6 285.2,516.8 286.0,517.1 286.8,517.4 291.9,520.0 296.9,504.4 297.2,503.6 297.6,502.9 298.0,502.2 298.5,501.5 299.0,500.9 299.7,500.4 300.3,499.9 301.0,499.5 301.8,499.1 302.5,498.9 303.3,498.7 304.2,498.5 324.2,496.5 325.0,496.5 325.9,496.5 326.7,496.7 327.5,496.9 328.3,497.2 329.1,497.6 329.8,498.0 330.5,498.5 331.1,499.1 331.7,499.7 332.2,500.4 332.6,501.2 332.9,502.0 333.2,502.8 333.4,503.6 334.3,509.0 334.6,508.9 335.4,508.7 336.3,508.5 337.1,508.5 338.0,508.6 338.8,508.7 339.7,508.9 340.5,509.2 358.5,517.2 359.1,517.6 359.8,518.0 360.4,518.5 361.0,519.0 370.6,528.6 374.7,525.4 375.3,524.9 376.1,524.5 376.8,524.1 377.6,523.9 378.3,523.7 379.2,523.5 399.2,521.5 400.0,521.5 400.8,521.5 401.6,521.6 402.3,521.8 403.1,522.1 403.8,522.4 404.5,522.8 405.2,523.3 405.8,523.8 406.4,524.4 419.9,539.8 437.7,546.2 454.5,542.8 456.6,528.7 456.8,527.9 457.0,527.2 457.3,526.4 457.7,525.7 458.1,525.0 458.6,524.4 459.2,523.8 459.8,523.2 471.7,514.2 470.1,510.2 469.8,509.4 469.6,508.6 469.5,507.8 469.5,506.9 469.5,506.1 469.7,505.3 469.9,504.5 470.1,503.7 470.5,503.0 470.9,502.3 471.4,501.6 472.0,501.0 472.6,500.5 473.2,500.0 473.9,499.5 474.7,499.2 475.4,498.9 496.3,492.3 507.0,485.1 518.5,476.3 527.2,461.5 531.9,447.3 532.3,446.4 532.7,445.6 533.3,444.8 543.3,431.8 543.5,431.6 553.1,420.0 559.3,409.9 558.5,400.7 558.5,399.9 558.5,399.1 558.7,398.3 561.7,383.3 561.9,382.6 562.1,381.8 562.4,381.1 562.8,380.5 563.3,379.8 573.1,367.0 580.1,356.5 583.4,344.4 581.6,331.5 577.7,313.8 577.6,313.0 577.5,312.2 577.5,311.4 577.6,310.5 577.8,309.7 578.1,308.9 578.4,308.2 578.8,307.5 579.3,306.8 579.8,306.1 580.4,305.6 581.1,305.1 581.8,304.6 582.5,304.2 583.3,303.9 589.7,301.8 583.7,298.3 583.0,297.9 582.3,297.3 572.3,288.3 571.7,287.8 571.2,287.1 570.8,286.5 570.4,285.8 570.1,285.0 569.8,284.3 569.6,283.5 569.5,282.7 569.5,281.9 569.6,281.1 569.7,280.3 569.9,279.5 570.2,278.7 574.6,268.1 575.4,252.6 569.6,245.0 558.4,240.5 546.0,240.5 545.2,240.5 544.3,240.3 543.5,240.1 542.7,239.9 542.0,239.5 541.3,239.1 540.6,238.6 540.0,238.0 539.4,237.4 538.9,236.7 538.5,236.0 538.1,235.3 537.9,234.5 537.7,233.7 537.5,232.8 537.5,232.0 537.5,231.2 537.7,230.3 537.9,229.5 538.1,228.7 538.5,228.0 538.9,227.3 539.4,226.6 540.0,226.0 545.0,221.0 545.6,220.4 556.6,211.4 557.3,210.9 560.5,208.8 558.0,207.5 557.3,207.1 545.3,199.1 544.7,198.6 530.3,187.1 516.1,179.6 486.3,164.6 461.8,152.9 447.3,148.1 446.8,147.9 422.9,138.3 399.1,135.4 380.0,133.5 353.9,136.4 353.1,136.5 352.3,136.5 351.4,136.4 350.6,136.2 349.8,135.9 349.1,135.5 348.3,135.1 347.7,134.6 347.0,134.0 346.5,133.4 346.0,132.8 345.5,132.0 345.2,131.3 344.9,130.5 344.7,129.7 344.5,128.8 344.5,128.0 344.5,96.1 332.7,100.1 332.0,100.3 331.3,100.4 311.3,103.4 310.6,103.5 309.9,103.5 309.2,103.5 289.2,101.5 288.3,101.3 287.5,101.1 286.8,100.9 286.0,100.5 285.3,100.1 284.6,99.6 284.0,99.0 283.5,98.4 283.0,97.8 282.5,97.1 282.2,96.3 281.9,95.6 281.7,94.8 281.6,93.9 279.6,75.9 279.5,75.0 279.5,65.9 276.5,66.6 276.5,85.0 276.5,85.8 274.5,106.8 274.3,107.6 274.1,108.4 273.9,109.2 273.5,109.9 273.1,110.6 272.6,111.3 272.1,111.9 271.5,112.5 270.8,113.0 270.2,113.4 269.4,113.8 268.7,114.1 267.9,114.3 267.1,114.4 266.2,114.5 265.4,114.5 264.6,114.4 263.8,114.2 263.0,114.0 247.0,108.0 246.3,107.7 245.7,107.3 245.1,106.9 244.5,106.5 230.5,94.5 229.9,93.9 229.3,93.3 228.9,92.6 228.4,91.9 228.1,91.2 225.7,85.2 224.5,84.9 218.9,87.9 210.7,92.6 202.7,97.6 194.8,102.9 187.2,108.5 179.8,114.3 172.5,120.4 165.5,126.7 158.7,133.2 152.2,140.0 145.9,147.0 143.1,150.4 145.8,156.6 146.1,157.5 146.3,158.3 151.3,183.3 151.5,184.2 153.5,206.2" fill="#00f800" />
<polygon points="155.7,167.2 161.3,160.5 167.2,154.0 173.2,147.7 179.5,141.7 186.0,135.8 192.7,130.2 199.5,124.8 206.6,119.7 213.8,114.8 221.2,110.2 228.8,105.8 236.5,101.7 225.1,79.4 223.7,79.1 216.2,83.1 207.8,87.9 199.7,93.0 191.7,98.4 183.9,104.1 176.3,110.0 168.9,116.2 161.8,122.6 154.8,129.3 148.1,136.3 141.7,143.4 136.7,149.4 138.2,153.0 155.7,167.2" fill="#00f8f8" />
<polygon points="146.4,159.6 152.3,152.6 158.4,145.8 164.7,139.2 171.3,132.9 178.1,126.8 185.1,120.9 192.3,115.3 199.7,109.9 207.3,104.8 215.1,99.9 223.0,95.3 231.1,91.1 223.9,77.1 223.5,77.0 215.2,81.4 206.8,86.2 198.6,91.3 190.5,96.8 182.7,102.5 175.0,108.5 167.6,114.7 160.4,121.2 153.4,127.9 146.7,134.9 140.2,142.1 134.3,149.1 134.9,150.3 146.4,159.6" fill="#0098f8" />
<polygon points="152.3,146.5 158.7,139.7 165.2,133.2 172.0,126.8 179.0,120.7 171.3,111.6 167.6,114.7 160.4,121.2 153.4,127.9 146.7,134.9 143.4,138.5 152.3,146.5" fill="#0000f8" />
<polygon points="194.8,110.9 203.6,104.8 212.7,99.0 222.0,93.6 215.2,81.4 206.8,86.2 198.6,91.3 190.5,96.8 186.6,99.6 194.8,110.9" fill="#0000f8" />
<polygon points="170.8,138.9 177.4,132.8 184.2,126.9 191.2,121.2 182.5,110.2 175.2,116.1 168.0,122.4 161.1,128.8 170.8,138.9" fill="#00f898" />
<polygon points="182.6,274.4 183.4,275.0 213.4,295.0 216.0,296.6 218.9,297.9 221.8,298.9 224.9,299.6 228.0,299.9 231.1,300.0 234.2,299.7 237.3,299.1 256.6,294.3 280.9,289.4 283.7,288.7 286.4,287.7 289.0,286.5 291.5,285.1 293.8,283.4 296.0,281.4 297.9,279.3 299.7,277.0 301.2,274.6 302.5,272.0 303.5,269.3 304.3,266.5 304.8,263.7 305.0,260.8 304.9,257.9 304.6,255.0 304.0,252.2 303.1,249.5 300.2,241.6 301.8,233.7 308.9,216.1 309.8,213.4 310.5,210.7 310.9,207.8 311.0,205.0 311.0,192.0 310.9,189.3 310.5,186.7 309.9,184.1 309.1,181.6 308.1,179.2 299.6,161.3 294.1,146.5 292.7,143.3 291.0,140.4 283.0,128.4 281.2,126.0 279.2,123.8 268.1,112.7 267.5,112.8 266.9,112.9 266.2,113.0 265.5,113.0 264.8,112.9 264.2,112.8 263.5,112.6 247.5,106.6 247.0,106.3 246.4,106.0 245.9,105.7 245.4,105.3 240.8,101.4 231.9,99.6 228.9,99.1 226.0,99.0 223.0,99.2 220.0,99.6 217.2,100.3 214.4,101.4 211.7,102.6 209.1,104.2 206.8,106.0 204.6,108.0 202.6,110.2 200.8,112.7 199.3,115.2 198.1,117.9 197.2,120.8 191.9,139.1 188.0,147.0 181.8,152.1 177.1,155.4 167.3,158.0 164.6,158.9 161.9,160.0 159.4,161.3 157.1,162.9 156.9,163.1 156.0,163.0 153.0,163.1 150.0,163.4 147.1,164.1 146.0,164.4 149.9,183.6 150.0,184.4 152.0,206.4 152.0,207.0 152.0,207.7 151.9,208.4 151.7,209.1 151.5,209.7 151.2,210.3 150.8,210.9 150.4,211.4 149.9,211.9 147.4,214.5 149.8,233.0 156.3,247.0 156.6,247.7 156.8,248.4 156.9,249.1 157.0,249.8 157.0,250.5 156.9,251.2 156.2,255.6 182.6,274.4" fill="#00f800" />
<polygon points="153.8,237.8 155.1,238.8 190.1,263.8 190.6,264.1 220.6,284.1 222.1,285.0 223.7,285.8 225.4,286.4 227.1,286.8 228.9,287.0 230.6,287.0 232.4,286.8 234.1,286.5 253.7,281.6 278.3,276.7 279.9,276.3 281.5,275.7 282.9,275.0 284.3,274.2 285.7,273.2 286.9,272.1 288.0,270.9 289.0,269.6 289.9,268.3 290.6,266.8 291.2,265.3 291.6,263.7 291.9,262.1 292.0,260.4 292.0,258.8 291.8,257.2 291.4,255.6 290.9,254.0 286.7,242.7 289.3,229.9 296.8,211.3 297.3,209.8 297.7,208.2 297.9,206.6 298.0,205.0 298.0,192.0 297.9,190.5 297.7,189.0 297.4,187.5 296.9,186.1 296.4,184.7 287.7,166.4 281.9,151.0 281.1,149.2 280.1,147.6 272.1,135.6 271.1,134.2 270.0,133.0 258.0,121.0 256.8,119.9 255.4,118.9 254.0,118.0 252.5,117.3 250.9,116.7 249.3,116.3 229.3,112.3 227.7,112.1 226.0,112.0 224.3,112.1 222.6,112.3 221.0,112.8 219.4,113.3 217.9,114.1 216.4,114.9 215.1,116.0 213.9,117.1 212.7,118.4 211.7,119.7 210.9,121.2 210.2,122.7 209.7,124.3 204.1,143.8 198.4,155.2 189.7,162.5 182.7,167.3 170.6,170.6 169.1,171.1 167.6,171.7 166.2,172.5 164.8,173.4 163.6,174.4 162.5,175.5 161.4,176.8 161.1,177.2 160.5,176.9 158.9,176.4 157.2,176.1 155.5,176.0 153.9,176.0 152.2,176.2 150.5,176.6 150.0,176.8 151.3,183.3 151.5,184.2 153.5,206.2 153.5,207.1 153.5,207.9 153.3,208.7 153.1,209.5 152.8,210.3 152.5,211.0 152.1,211.7 151.6,212.4 151.0,213.0 149.0,215.1 151.3,232.6 153.6,237.6 153.8,237.8" fill="#98f800" />
<polygon points="157.9,230.5 158.4,231.2 159.1,231.8 159.8,232.3 194.8,257.3 195.0,257.5 225.0,277.5 225.8,278.0 226.7,278.4 227.6,278.7 228.5,278.9 229.4,279.0 230.3,279.0 231.3,278.9 232.2,278.7 252.0,273.8 276.8,268.8 277.6,268.6 278.4,268.3 279.2,268.0 279.9,267.5 280.6,267.0 281.3,266.4 281.9,265.8 282.4,265.1 282.9,264.4 283.3,263.6 283.6,262.8 283.8,262.0 283.9,261.1 284.0,260.2 284.0,259.4 283.9,258.5 283.7,257.7 283.4,256.8 278.3,243.3 281.6,227.6 289.4,208.3 289.6,207.5 289.8,206.7 290.0,205.9 290.0,205.0 290.0,192.0 290.0,191.2 289.9,190.4 289.7,189.6 289.4,188.9 289.1,188.1 280.3,169.5 274.4,153.8 274.0,152.9 273.5,152.0 265.5,140.0 265.0,139.3 264.4,138.6 252.4,126.6 251.7,126.0 251.0,125.5 250.2,125.1 249.4,124.7 248.6,124.4 247.8,124.2 227.8,120.2 226.9,120.0 226.0,120.0 225.1,120.0 224.2,120.2 223.3,120.4 222.5,120.7 221.7,121.1 220.9,121.6 220.2,122.1 219.6,122.7 219.0,123.4 218.5,124.1 218.0,124.9 217.6,125.7 217.3,126.5 211.6,146.7 204.8,160.3 194.5,168.8 186.1,174.7 172.7,178.3 171.9,178.6 171.1,178.9 170.3,179.3 169.6,179.8 169.0,180.3 168.4,180.9 167.8,181.6 167.3,182.3 163.9,187.8 159.5,185.2 158.7,184.8 157.9,184.5 157.1,184.2 156.2,184.1 155.3,184.0 154.4,184.0 153.5,184.1 153.0,184.2 155.0,206.1 155.0,207.1 154.9,208.0 154.8,209.0 154.6,209.9 154.2,210.9 153.8,211.7 153.3,212.6 152.7,213.4 152.1,214.1 150.6,215.6 151.4,222.1 157.9,230.5" fill="#f8f800" />
<polygon points="165.0,225.0 200.0,250.0 230.0,270.0 250.0,265.0 275.0,260.0 269.0,244.0 273.0,225.0 281.0,205.0 281.0,192.0 272.0,173.0 266.0,157.0 258.0,145.0 246.0,133.0 226.0,129.0 220.0,150.0 212.0,166.0 200.0,176.0 190.0,183.0 175.0,187.0 167.0,200.0 155.0,193.0 151.2,198.4 152.0,206.4 152.0,207.0 152.0,207.7 151.9,208.1 165.0,225.0" fill="#f89800" />
<polygon points="289.0,95.0 289.0,94.7 288.9,94.7 288.7,94.6 288.6,94.4 288.5,94.3 288.3,94.1 288.2,94.0 288.2,93.8 288.1,93.6 288.0,93.4 288.0,93.2 286.0,75.2 286.0,75.0 286.0,57.6 270.0,61.6 270.0,85.0 270.0,85.2 268.2,103.9 289.0,95.0" fill="#00f8f8" />
<polygon points="274.0,88.0 285.0,85.0 284.0,63.0 272.0,66.0 274.0,88.0" fill="#0098f8" />
<polygon points="262.0,139.0 300.0,142.0 314.0,139.0 312.0,97.7 310.4,98.0 310.2,98.0 309.9,98.0 309.7,98.0 305.1,97.5 269.6,100.3 269.0,106.3 268.9,106.6 268.9,106.9 268.8,107.1 268.7,107.4 268.5,107.6 268.3,107.9 268.2,108.1 267.9,108.3 267.7,108.5 267.5,108.6 267.2,108.7 266.9,108.9 266.7,108.9 266.4,109.0 266.1,109.0 265.8,109.0 265.5,109.0 265.2,108.9 264.9,108.8 260.3,107.1 262.0,139.0" fill="#98f800" />
<polygon points="264.0,139.0 292.0,139.0 290.0,125.0 262.0,118.0 264.0,139.0" fill="#00f800" />
<polygon points="296.0,130.0 311.0,129.0 310.0,106.0 294.0,107.0 296.0,130.0" fill="#f8f800" />
<polygon points="274.0,165.0 300.0,165.0 326.0,150.0 324.0,137.0 270.0,139.0 274.0,165.0" fill="#00f8f8" />
<polygon points="284.0,162.0 300.0,162.0 310.0,148.0 282.0,150.0 284.0,162.0" fill="#0098f8" />
<polygon points="281.0,206.0 294.0,214.0 302.0,200.0 300.0,164.0 282.0,166.0 281.0,206.0" fill="#00f8f8" />
<polygon points="284.0,186.0 295.0,185.0 294.0,168.0 283.0,170.0 284.0,186.0" fill="#00f800" />
<polygon points="288.0,202.0 294.0,210.0 301.0,202.0 300.0,184.0 289.0,186.0 288.0,202.0" fill="#0000f8" />
<polygon points="293.0,202.0 297.0,202.0 298.0,192.0 292.0,192.0 293.0,202.0" fill="#9800f8" />
<polygon points="276.0,248.0 288.0,244.0 285.0,212.0 274.0,214.0 276.0,248.0" fill="#f8f800" />
<polygon points="308.0,120.0 325.0,128.0 352.0,127.0 352.0,86.2 349.2,86.6 348.4,86.9 348.3,86.9 330.3,92.9 330.2,93.0 330.1,93.0 310.1,96.0 310.1,96.0 310.0,96.0 309.9,96.0 308.0,95.8 308.0,120.0" fill="#0098f8" />
<polygon points="318.0,116.0 338.0,112.0 335.0,95.0 312.0,98.0 318.0,116.0" fill="#0000f8" />
<polygon points="338.0,120.0 352.0,118.0 352.0,97.0 335.0,100.0 338.0,120.0" fill="#9800f8" />
<polygon points="322.0,128.0 350.0,127.0 350.0,118.0 315.0,116.0 322.0,128.0" fill="#00f8f8" />
<polygon points="325.0,100.0 331.0,99.0 333.0,118.0 328.0,118.0" fill="#f80000" />
<polygon points="343.0,95.0 348.0,95.0 349.0,112.0 345.0,112.0" fill="#f80000" />
<polygon points="188.7,160.0 188.4,160.1 188.1,160.1 187.8,160.2 187.6,160.4 187.3,160.5 187.1,160.7 186.8,160.9 186.6,161.2 186.5,161.4 186.3,161.7 186.2,161.9 186.1,162.2 186.0,162.5 186.0,162.8 186.0,163.1 186.0,163.4 187.0,170.4 187.1,170.7 187.2,171.0 187.3,171.3 187.4,171.5 187.6,171.8 187.8,172.0 188.0,172.2 188.2,172.4 188.5,172.6 188.7,172.7 189.0,172.8 189.3,172.9 189.6,173.0 189.9,173.0 190.2,173.0 190.5,173.0 196.5,172.0 196.8,171.9 197.1,171.8 197.3,171.7 197.6,171.5 197.8,171.4 198.1,171.2 198.3,171.0 198.4,170.7 198.6,170.5 198.7,170.2 198.8,170.0 198.9,169.7 199.0,169.4 199.0,169.1 199.0,168.8 199.0,168.5 198.0,162.5 197.9,162.2 197.8,161.9 197.7,161.7 197.5,161.4 197.4,161.1 197.2,160.9 196.9,160.7 196.7,160.5 196.4,160.4 196.2,160.2 195.9,160.1 195.6,160.1 195.3,160.0 195.0,160.0 189.0,160.0 188.7,160.0" fill="#0000f8" />
<polygon points="190.0,170.0 196.0,169.0 195.0,163.0 189.0,163.0 190.0,170.0" fill="#f800f8" />
<polygon points="323.6,127.0 323.3,127.1 323.0,127.2 322.7,127.3 322.4,127.4 322.2,127.6 322.0,127.8 321.8,128.0 321.6,128.2 321.4,128.5 321.3,128.8 321.2,129.0 321.1,129.3 321.0,129.6 321.0,129.9 321.0,130.2 322.0,143.2 322.0,143.5 322.1,143.8 322.2,144.1 322.3,144.4 322.5,144.6 322.6,144.9 322.8,145.1 323.1,145.3 323.3,145.5 323.5,145.6 323.8,145.8 324.1,145.9 324.4,145.9 324.7,146.0 325.0,146.0 325.2,146.0 349.2,144.0 349.5,144.0 349.8,143.9 350.1,143.8 350.4,143.7 350.6,143.5 350.9,143.3 351.1,143.2 351.3,142.9 351.5,142.7 351.6,142.5 351.8,142.2 351.9,141.9 351.9,141.6 352.0,141.3 352.0,141.0 352.0,140.8 351.2,131.6 351.1,131.5 350.8,131.3 350.5,131.1 350.2,130.8 349.9,130.6 349.7,130.2 349.5,129.9 349.3,129.5 349.2,129.2 349.1,128.8 349.0,128.4 349.0,128.0 349.0,126.2 348.7,126.1 348.4,126.0 348.2,126.0 347.9,126.0 323.9,127.0 323.6,127.0" fill="#f8f800" />
<polygon points="325.0,143.0 349.0,141.0 348.0,129.0 324.0,130.0 325.0,143.0" fill="#f89800" />
<polygon points="168.0,281.0 184.0,280.0 182.0,264.0 165.0,266.0 168.0,281.0" fill="#98f800" />
<polygon points="170.5,278.0 170.2,278.1 170.0,278.2 169.7,278.3 169.4,278.4 169.2,278.6 169.0,278.8 168.8,279.0 168.6,279.2 168.4,279.4 168.3,279.7 168.2,280.0 168.1,280.2 168.0,280.5 168.0,280.8 168.0,281.1 168.0,281.4 169.1,290.3 170.9,299.1 171.0,299.2 171.2,299.4 171.5,299.6 171.7,299.7 172.0,299.8 172.3,299.9 172.6,300.0 172.9,300.0 173.2,300.0 187.2,299.0 187.5,299.0 187.8,298.9 188.1,298.8 188.3,298.7 188.6,298.5 188.8,298.4 189.1,298.2 189.3,298.0 189.4,297.7 189.6,297.5 189.7,297.2 189.8,297.0 189.9,296.7 190.0,296.4 190.0,296.1 190.0,295.8 189.0,279.8 189.0,279.5 188.9,279.2 188.8,278.9 188.7,278.7 188.6,278.4 188.4,278.2 188.2,278.0 188.0,277.7 187.7,277.6 187.5,277.4 187.2,277.3 187.0,277.2 186.7,277.1 186.4,277.0 186.1,277.0 185.8,277.0 170.8,278.0 170.5,278.0" fill="#f8f800" />
<polygon points="173.0,297.0 187.0,296.0 186.0,280.0 171.0,281.0 173.0,297.0" fill="#f89800" />
<polygon points="178.0,308.0 206.0,306.0 205.0,290.0 175.0,297.0 178.0,308.0" fill="#00f8f8" />
<polygon points="186.0,305.0 201.0,304.0 200.0,294.0 185.0,296.0 186.0,305.0" fill="#0098f8" />
<polygon points="157.5,320.7 161.4,327.0 196.0,326.0 197.0,306.0 164.1,306.7 154.2,312.4 157.5,320.7" fill="#0098f8" />
<polygon points="163.0,323.0 186.0,322.0 185.0,310.0 160.0,311.0 163.0,323.0" fill="#0000f8" />
<polygon points="171.0,320.0 178.0,320.0 178.0,313.0 170.0,313.0 171.0,320.0" fill="#98f800" />
<polygon points="187.0,320.0 194.0,320.0 194.0,312.0 186.0,312.0 187.0,320.0" fill="#f800f8" />
<polygon points="176.0,325.0 164.2,325.8 166.7,329.9 166.8,330.0 176.0,346.0 176.0,325.0" fill="#f8f800" />
<polygon points="176.7,347.2 176.8,347.5 177.1,348.0 177.2,348.4 177.4,348.9 177.5,349.4 177.5,349.9 177.5,350.4 177.4,350.9 177.3,351.4 177.1,351.9 176.9,352.3 176.8,352.5 177.0,358.0 188.0,361.0 192.0,345.0 189.0,325.0 176.0,326.0 176.7,347.2" fill="#f89800" />
<polygon points="158.0,382.0 184.0,380.0 182.0,358.0 170.2,355.2 160.3,361.7 158.0,380.4 158.0,380.5 158.0,382.0" fill="#00f8f8" />
<polygon points="163.0,377.0 176.0,376.0 175.0,360.0 165.2,358.5 162.1,360.5 163.0,377.0" fill="#0098f8" />
<polygon points="184.0,381.0 222.0,380.0 222.0,356.0 182.0,358.0 184.0,381.0" fill="#00f8f8" />
<polygon points="192.0,377.0 212.0,376.0 210.0,360.0 190.0,362.0 192.0,377.0" fill="#00f800" />
<polygon points="210.0,378.0 220.0,380.0 221.0,357.0 208.0,358.0 210.0,378.0" fill="#0000f8" />
<polygon points="215.0,372.0 220.0,372.0 220.0,362.0 214.0,362.0 215.0,372.0" fill="#f800f8" />
<polygon points="164.9,404.5 165.2,405.1 190.0,415.0 225.0,415.0 222.0,395.0 200.0,380.0 162.4,384.7 161.0,388.9 164.9,404.5" fill="#98f800" />
<polygon points="180.0,416.0 202.0,414.0 200.0,394.0 176.0,396.0 180.0,416.0" fill="#f8f800" />
<polygon points="206.0,420.0 228.0,418.0 222.0,386.0 202.0,388.0 206.0,420.0" fill="#00f8f8" />
<polygon points="210.0,411.0 222.0,410.0 220.0,395.0 208.0,396.0 210.0,411.0" fill="#00f898" />
<polygon points="180.1,415.1 179.6,415.2 179.2,415.3 178.7,415.5 178.3,415.8 177.9,416.1 177.5,416.4 177.2,416.7 176.9,417.1 176.7,417.5 176.4,418.0 176.3,418.4 176.1,418.9 176.0,419.4 176.0,419.8 176.0,420.3 176.0,420.4 181.5,427.1 182.0,427.7 182.4,428.4 182.8,429.1 183.1,429.8 183.3,430.6 183.4,431.3 183.5,432.1 183.5,432.9 183.4,433.7 181.5,447.2 183.4,451.9 189.7,463.0 202.5,482.2 213.9,484.1 214.8,484.3 215.6,484.6 216.4,484.9 217.1,485.4 217.9,485.9 218.5,486.5 222.5,490.5 223.6,490.8 224.0,490.9 244.0,494.9 244.5,495.0 245.1,495.0 245.6,495.0 262.6,493.0 263.3,492.8 284.7,487.3 298.1,492.6 298.6,492.8 299.1,492.9 299.5,493.0 300.0,493.0 300.5,493.0 301.0,492.9 301.4,492.8 301.9,492.6 302.3,492.4 302.7,492.2 303.1,491.9 303.5,491.6 303.8,491.2 304.1,490.8 304.4,490.4 314.4,472.4 314.6,472.0 314.8,471.5 314.9,471.0 315.0,470.5 315.0,470.0 315.0,469.5 314.9,469.0 309.9,444.0 309.8,443.5 309.6,443.0 309.4,442.6 309.1,442.2 308.8,441.7 308.4,441.4 308.1,441.0 307.6,440.8 307.2,440.5 306.7,440.3 306.2,440.2 305.7,440.1 285.7,437.1 285.4,437.0 263.1,435.1 236.8,425.3 206.9,413.4 206.4,413.2 206.0,413.1 205.5,413.0 205.0,413.0 204.6,413.0 180.6,415.0 180.1,415.1" fill="#98f800" />
<polygon points="181.3,424.4 182.7,426.1 183.2,426.8 183.7,427.6 184.1,428.5 184.5,429.3 184.7,430.2 184.9,431.1 185.0,432.1 185.0,433.0 184.9,433.9 184.0,440.1 190.0,455.0 205.0,480.0 213.3,482.5 214.1,482.6 215.2,482.9 216.1,483.2 217.1,483.6 217.1,483.6 225.0,486.0 245.0,490.0 262.0,488.0 285.0,482.0 300.0,488.0 310.0,470.0 305.0,445.0 285.0,442.0 262.0,440.0 235.0,430.0 205.0,418.0 181.0,420.0 181.3,424.4" fill="#f8f800" />
<polygon points="235.7,485.0 235.4,485.1 235.1,485.1 234.8,485.2 234.6,485.4 234.3,485.5 234.1,485.7 233.9,485.9 233.7,486.1 233.5,486.4 233.3,486.6 233.2,486.9 233.1,487.2 233.0,487.5 233.0,487.8 233.0,488.1 233.0,488.4 234.5,500.4 235.5,501.4 250.5,507.0 253.0,507.0 253.3,507.0 253.6,506.9 253.9,506.9 254.1,506.8 254.4,506.7 254.6,506.5 254.9,506.3 255.1,506.2 255.3,505.9 255.5,505.7 255.6,505.5 255.7,505.2 255.8,504.9 255.9,504.7 256.0,504.4 256.0,504.1 256.0,503.8 255.0,487.8 255.0,487.5 254.9,487.2 254.8,486.9 254.7,486.7 254.5,486.4 254.4,486.1 254.2,485.9 253.9,485.7 253.7,485.5 253.4,485.4 253.2,485.2 252.9,485.1 252.6,485.1 252.3,485.0 252.0,485.0 236.0,485.0 235.7,485.0" fill="#f8f800" />
<polygon points="205.0,452.0 205.0,434.0 186.9,434.0 186.9,434.2 185.0,447.6 187.5,452.0 205.0,452.0" fill="#f89800" />
<polygon points="206.9,479.4 210.5,480.0 219.0,480.0 219.0,464.0 205.0,464.0 206.9,479.4" fill="#f89800" />
<polygon points="243.0,460.0 261.0,460.0 261.0,444.0 241.0,444.0 243.0,460.0" fill="#f89800" />
<polygon points="234.1,497.2 236.6,499.7 248.2,504.0 253.0,504.0 253.0,488.0 233.0,488.0 234.1,497.2" fill="#f89800" />
<polygon points="210.0,432.0 241.0,440.0 241.0,430.0 201.0,416.0 210.0,432.0" fill="#00f800" />
<polygon points="310.2,448.0 309.8,448.0 309.4,448.0 309.1,448.1 308.7,448.2 308.3,448.4 308.0,448.5 307.7,448.8 307.4,449.0 307.1,449.3 306.8,449.6 306.6,449.9 306.4,450.2 306.3,450.6 306.1,451.0 306.1,451.3 306.0,451.7 304.0,479.7 304.0,480.1 304.0,480.5 304.1,480.9 304.2,481.3 310.0,498.0 324.2,496.5 325.0,496.5 325.9,496.5 326.7,496.7 327.5,496.9 328.3,497.2 329.1,497.6 329.8,498.0 330.5,498.5 331.1,499.1 331.7,499.7 332.2,500.4 332.6,501.2 332.9,502.0 333.2,502.7 342.3,502.0 342.7,501.9 343.1,501.9 343.5,501.7 343.8,501.6 344.2,501.4 344.5,501.1 344.8,500.9 345.1,500.6 345.3,500.3 345.5,499.9 345.7,499.6 345.8,499.2 345.9,498.8 346.0,498.4 346.0,498.0 346.0,468.0 346.0,467.6 345.9,467.3 345.8,466.9 345.7,466.5 345.6,466.2 345.4,465.9 345.2,465.6 344.9,465.3 332.9,452.3 332.7,452.0 332.4,451.8 332.0,451.6 331.7,451.4 331.3,451.2 331.0,451.1 330.6,451.0 310.6,448.0 310.2,448.0" fill="#98f800" />
<polygon points="308.0,480.0 313.6,496.1 324.0,495.0 325.0,495.0 326.0,495.1 327.0,495.2 328.0,495.5 328.9,495.8 329.8,496.2 330.7,496.8 331.5,497.4 332.2,498.1 332.7,498.7 342.0,498.0 342.0,468.0 330.0,455.0 310.0,452.0 308.0,480.0" fill="#f8f800" />
<polygon points="342.0,505.0 348.9,513.0 358.5,517.2 359.1,517.6 359.8,518.0 360.4,518.5 361.0,519.0 365.3,523.3 373.9,526.0 374.7,525.4 375.3,524.9 376.1,524.5 376.8,524.1 377.6,523.9 378.3,523.7 379.2,523.5 399.2,521.5 400.0,521.5 400.0,521.5 400.0,495.0 345.0,482.0 342.0,505.0" fill="#98f800" />
<polygon points="368.0,518.0 400.0,520.0 400.0,498.0 365.0,500.0 368.0,518.0" fill="#f8f800" />
<polygon points="404.6,491.0 404.2,491.1 403.8,491.2 403.5,491.3 403.1,491.5 402.8,491.7 402.5,491.9 402.2,492.2 401.9,492.5 401.7,492.8 401.5,493.1 401.3,493.5 401.2,493.8 401.1,494.2 398.1,509.2 398.0,509.6 398.0,510.0 398.0,510.4 398.1,510.8 398.2,511.1 398.3,511.5 398.5,511.9 398.7,512.2 398.9,512.5 399.2,512.8 399.4,513.1 417.4,528.1 417.8,528.3 418.1,528.5 418.5,528.7 418.8,528.8 419.2,528.9 419.6,529.0 420.0,529.0 455.0,529.0 455.4,529.0 455.8,528.9 456.2,528.8 456.5,528.7 456.6,528.7 456.8,527.9 457.0,527.2 457.3,526.4 457.7,525.7 458.1,525.0 458.6,524.4 459.2,523.8 459.8,523.2 470.8,514.9 471.6,514.0 470.1,510.2 469.8,509.4 469.6,508.6 469.5,507.8 469.5,506.9 469.5,506.1 469.7,505.3 469.9,504.5 470.0,504.3 457.8,492.2 457.5,491.9 457.2,491.7 456.9,491.5 456.5,491.3 456.2,491.2 455.8,491.1 455.4,491.0 455.0,491.0 405.0,491.0 404.6,491.0" fill="#98f800" />
<polygon points="402.0,510.0 420.0,525.0 455.0,525.0 468.9,511.1 468.7,510.7 468.4,509.8 468.2,508.9 468.1,508.1 455.0,495.0 405.0,495.0 402.0,510.0" fill="#f8f800" />
<polygon points="424.0,514.0 448.0,513.0 448.0,500.0 422.0,500.0 424.0,514.0" fill="#f89800" />
<polygon points="423.5,545.8 437.3,550.9 458.0,546.7 458.0,530.0 420.0,532.0 423.5,545.8" fill="#00f8f8" />
<polygon points="372.0,447.0 373.0,463.0 383.0,463.0 389.0,450.0 388.0,434.0 378.0,428.0 371.0,432.0 372.0,447.0" fill="#00f8f8" />
<polygon points="374.0,446.9 374.0,446.9 374.9,461.0 381.7,461.0 387.0,449.6 386.1,435.2 378.0,430.3 373.1,433.1 374.0,446.9" fill="#0000f8" />
<polygon points="380.0,150.0 436.0,170.0 432.0,150.0 420.0,136.0 380.0,130.0 380.0,150.0" fill="#00f8f8" />
<polygon points="396.0,150.0 432.0,166.0 428.0,148.0 396.0,138.0 396.0,150.0" fill="#00f800" />
<polygon points="430.0,166.0 444.0,170.0 442.0,146.0 428.0,142.0 430.0,166.0" fill="#f8f800" />
<polygon points="439.1,150.1 438.8,150.2 438.6,150.4 438.3,150.5 438.1,150.7 437.9,150.9 437.7,151.1 437.5,151.4 437.3,151.6 437.2,151.9 437.1,152.2 437.0,152.5 437.0,152.8 437.0,153.1 437.0,153.4 437.1,153.7 437.2,153.9 442.2,168.9 442.3,169.2 442.4,169.5 442.5,169.7 442.7,169.9 442.9,170.1 443.1,170.3 443.4,170.5 443.6,170.7 443.9,170.8 444.1,170.9 444.4,170.9 444.7,171.0 445.0,171.0 445.3,171.0 445.5,171.0 453.7,169.5 455.1,175.7 455.1,175.9 455.3,176.2 455.4,176.5 455.5,176.7 462.5,186.7 462.7,187.0 462.9,187.2 463.2,187.4 463.4,187.5 463.6,187.7 463.9,187.8 464.2,187.9 464.5,188.0 464.8,188.0 465.1,188.0 465.4,188.0 465.7,187.9 465.9,187.8 466.2,187.7 466.5,187.6 472.6,184.1 485.4,185.9 505.3,190.9 505.6,191.0 505.9,191.0 506.2,191.0 506.4,191.0 506.7,190.9 507.0,190.8 507.3,190.7 507.6,190.6 507.8,190.4 508.0,190.2 508.2,190.0 508.4,189.8 508.6,189.5 508.7,189.3 508.8,189.0 508.9,188.7 509.0,188.4 509.0,188.1 509.0,187.8 509.0,187.5 508.9,187.2 508.8,186.9 502.8,170.9 502.7,170.7 502.6,170.4 502.4,170.2 502.2,170.0 502.0,169.8 501.8,169.6 501.5,169.4 486.5,160.4 486.4,160.4 471.4,152.4 471.2,152.2 470.9,152.2 455.9,147.2 455.6,147.1 455.3,147.0 455.0,147.0 454.7,147.0 454.4,147.1 439.4,150.1 439.1,150.1" fill="#f8f800" />
<polygon points="445.0,168.0 456.0,166.0 458.0,175.0 465.0,185.0 472.0,181.0 486.0,183.0 506.0,188.0 500.0,172.0 485.0,163.0 470.0,155.0 455.0,150.0 440.0,153.0 445.0,168.0" fill="#f89800" />
<polygon points="500.0,190.0 515.0,196.0 527.0,196.0 520.0,182.0 500.0,172.0 500.0,190.0" fill="#98f800" />
<polygon points="527.7,187.1 527.4,187.0 527.1,187.0 526.8,187.0 526.5,187.0 526.2,187.1 525.9,187.2 525.7,187.3 525.4,187.5 525.2,187.6 524.9,187.8 524.7,188.0 524.6,188.3 524.4,188.5 524.3,188.8 524.2,189.1 524.1,189.3 524.0,189.6 524.0,189.9 523.0,225.9 523.0,226.2 523.0,226.5 523.1,226.8 523.2,227.1 523.3,227.3 523.5,227.6 523.6,227.8 523.8,228.0 524.0,228.2 524.2,228.4 524.5,228.6 524.7,228.7 525.0,228.8 525.3,228.9 525.6,229.0 539.6,231.0 539.9,231.0 540.2,231.0 540.5,231.0 540.8,230.9 541.1,230.8 541.3,230.7 541.6,230.5 541.8,230.4 542.1,230.2 542.3,230.0 554.3,216.0 554.5,215.7 554.6,215.5 554.7,215.2 554.9,214.9 554.9,214.6 555.0,214.4 555.0,214.1 555.0,213.8 555.0,213.5 554.9,213.2 554.8,212.9 548.0,195.5 547.8,195.3 547.5,195.1 544.4,192.6 527.9,187.2 527.7,187.1" fill="#98f800" />
<polygon points="526.0,226.0 540.0,228.0 552.0,214.0 545.0,196.0 527.0,190.0 526.0,226.0" fill="#f8f800" />
<polygon points="527.0,221.0 536.0,220.0 534.0,199.0 525.0,198.0 527.0,221.0" fill="#f89800" />
<polygon points="542.0,214.0 552.0,216.0 556.0,204.0 540.0,200.0 542.0,214.0" fill="#00f800" />
<polygon points="540.0,250.0 534.0,262.0 530.0,280.0 545.0,292.0 560.0,293.0 577.0,283.0 577.2,282.6 577.1,282.5 577.1,282.4 577.1,282.4 577.0,282.3 577.0,282.2 577.0,282.1 577.0,282.0 577.0,281.9 577.0,281.8 577.0,281.7 577.1,281.6 582.0,269.8 583.0,250.3 574.4,238.8 559.8,233.0 546.0,233.0 545.9,233.0 545.8,233.0 545.7,233.0 545.6,232.9 545.5,232.9 545.4,232.8 545.4,232.8 545.3,232.7 545.2,232.6 545.2,232.6 545.1,232.5 545.1,232.4 545.0,232.3 545.0,232.2 545.0,232.1 545.0,232.0 545.0,231.9 545.0,231.8 545.0,231.7 545.1,231.6 545.1,231.5 545.2,231.4 545.2,231.4 545.3,231.3 545.6,231.0 533.0,232.0 540.0,250.0" fill="#9800f8" />
<polygon points="542.8,248.9 542.9,249.2 542.9,249.4 543.0,249.7 543.0,250.0 543.0,250.3 542.9,250.6 542.9,250.8 542.8,251.1 542.7,251.3 536.8,263.0 533.3,278.8 546.1,289.1 559.3,289.9 574.7,280.9 580.0,269.3 580.9,251.9 573.1,241.4 561.2,235.9 545.9,234.0 537.3,234.7 542.8,248.9" fill="#0000f8" />
<polygon points="545.6,247.8 545.8,248.4 545.9,248.9 546.0,249.4 546.0,250.0 546.0,250.6 545.9,251.1 545.8,251.6 545.6,252.2 545.4,252.7 539.7,264.0 536.7,277.7 547.3,286.1 558.6,286.9 572.3,278.8 577.1,268.5 577.9,252.9 571.1,243.8 560.3,238.8 545.9,237.0 541.5,237.4 545.6,247.8" fill="#0098f8" />
<polygon points="550.7,236.0 550.4,236.1 550.1,236.1 549.8,236.2 549.6,236.4 549.3,236.5 549.1,236.7 548.9,236.9 548.7,237.1 548.5,237.4 548.3,237.6 548.2,237.9 548.1,238.2 548.0,238.5 548.0,238.8 548.0,239.1 548.0,239.4 550.0,256.4 550.1,256.6 550.1,256.9 550.3,257.2 550.4,257.5 550.5,257.7 550.7,258.0 550.9,258.2 551.2,258.4 551.4,258.5 551.7,258.7 551.9,258.8 552.2,258.9 552.5,259.0 552.8,259.0 553.1,259.0 553.4,259.0 568.4,257.0 568.7,256.9 569.0,256.8 569.2,256.7 569.5,256.6 569.8,256.4 570.0,256.3 570.2,256.0 570.4,255.8 570.6,255.6 570.7,255.3 570.8,255.1 570.9,254.8 571.0,254.5 571.0,254.2 571.0,253.9 571.0,253.6 569.0,238.8 561.9,236.0 551.0,236.0 550.7,236.0" fill="#00f8f8" />
<polygon points="553.0,256.0 568.0,254.0 566.0,239.0 551.0,239.0 553.0,256.0" fill="#00f800" />
<polygon points="545.0,288.0 562.0,289.0 560.0,262.0 543.0,262.0 545.0,288.0" fill="#00f8f8" />
<polygon points="549.0,284.0 558.0,284.0 557.0,268.0 548.0,268.0 549.0,284.0" fill="#00f898" />
<polygon points="571.0,264.0 581.0,266.0 582.0,250.0 570.0,246.0 571.0,264.0" fill="#f800f8" />
<polygon points="562.9,294.0 562.7,294.0 562.4,294.1 562.1,294.1 561.8,294.2 561.6,294.4 561.3,294.5 561.1,294.7 560.9,294.9 560.7,295.1 560.5,295.3 560.4,295.6 560.2,295.8 560.1,296.1 560.1,296.4 560.0,296.7 560.0,296.9 560.0,297.2 560.0,297.5 563.0,314.5 563.1,314.8 563.2,315.1 563.3,315.4 563.5,315.6 563.7,315.9 563.9,316.1 564.1,316.3 564.3,316.5 564.6,316.6 564.8,316.8 565.1,316.9 565.4,316.9 565.7,317.0 566.0,317.0 576.0,317.0 576.3,317.0 576.6,316.9 576.9,316.9 577.1,316.8 577.4,316.6 577.7,316.5 577.9,316.3 578.1,316.1 578.3,315.9 578.5,315.7 578.6,315.4 578.8,315.1 578.9,314.9 578.9,314.6 579.0,314.3 579.0,314.0 579.0,298.0 579.0,297.7 578.9,297.4 578.9,297.1 578.8,296.8 578.6,296.6 578.5,296.3 578.3,296.1 578.1,295.9 577.9,295.7 577.6,295.5 577.4,295.3 577.1,295.2 576.8,295.1 576.5,295.0 576.2,295.0 563.2,294.0 562.9,294.0" fill="#f8f800" />
<polygon points="566.0,314.0 576.0,314.0 576.0,298.0 563.0,297.0 566.0,314.0" fill="#f89800" />
<polygon points="583.0,309.0 598.1,307.3 600.0,298.0 597.7,296.7 580.0,294.0 583.0,309.0" fill="#f800f8" />
<polygon points="586.0,306.0 595.0,306.0 596.0,300.0 585.0,297.0 586.0,306.0" fill="#9800f8" />
<polygon points="564.0,342.0 580.0,350.0 586.8,348.9 587.9,344.7 586.2,332.0 580.0,322.0 563.0,318.0 564.0,342.0" fill="#00f8f8" />
<polygon points="570.0,344.0 584.0,345.0 578.0,330.0 566.0,325.0 570.0,344.0" fill="#98f800" />
<polygon points="566.0,348.0 565.7,348.0 565.4,348.1 565.1,348.1 564.8,348.2 564.6,348.4 564.3,348.5 564.1,348.7 563.9,348.9 563.7,349.1 563.5,349.4 563.3,349.6 563.2,349.9 563.1,350.1 563.1,350.4 563.0,350.7 563.0,351.0 563.0,351.3 563.1,351.6 565.1,361.6 565.1,361.9 565.2,362.2 565.4,362.4 565.5,362.7 565.7,362.9 565.9,363.1 566.1,363.3 566.4,363.5 566.6,363.7 566.9,363.8 567.2,363.9 567.4,363.9 567.7,364.0 568.0,364.0 568.3,364.0 577.3,363.0 577.6,362.9 577.9,362.9 578.2,362.8 578.4,362.6 578.7,362.5 578.9,362.3 579.1,362.1 579.3,361.9 579.5,361.7 579.6,361.5 579.8,361.2 579.9,360.9 579.9,360.7 580.0,360.4 581.0,352.4 581.0,352.1 581.0,351.8 581.0,351.5 580.9,351.2 580.8,350.9 580.7,350.6 580.5,350.4 580.3,350.1 580.1,349.9 579.9,349.7 579.7,349.5 579.4,349.3 579.1,349.2 578.8,349.1 578.5,349.1 578.2,349.0 566.2,348.0 566.0,348.0" fill="#f8f800" />
<polygon points="568.0,361.0 577.0,360.0 578.0,352.0 566.0,351.0 568.0,361.0" fill="#f89800" />
<polygon points="556.0,392.0 566.8,385.7 567.1,384.4 567.1,384.1 567.2,383.9 567.3,383.6 567.5,383.4 567.6,383.2 570.1,380.0 575.0,368.0 560.0,370.0 556.0,392.0" fill="#0098f8" />
<polygon points="552.0,414.0 565.6,412.1 566.0,411.5 565.0,400.2 565.0,400.0 565.0,399.8 565.0,399.6 566.0,394.8 566.0,392.0 551.0,395.0 552.0,414.0" fill="#0000f8" />
<polygon points="512.7,445.0 512.4,445.1 512.1,445.1 511.9,445.2 511.6,445.4 511.3,445.5 511.1,445.7 510.9,445.9 510.7,446.1 510.5,446.3 510.4,446.6 510.2,446.9 510.1,447.1 510.1,447.4 510.0,447.7 510.0,448.0 510.0,448.3 510.1,448.6 513.1,463.6 513.1,463.9 513.2,464.1 513.3,464.4 513.5,464.6 513.7,464.9 513.8,465.1 514.1,465.3 514.3,465.5 514.5,465.6 514.8,465.7 515.0,465.8 515.3,465.9 515.6,466.0 515.9,466.0 516.2,466.0 516.4,466.0 531.1,463.8 531.3,463.3 536.2,448.7 536.2,448.6 535.9,447.3 535.8,447.0 535.7,446.7 535.6,446.5 535.4,446.2 535.3,446.0 535.1,445.8 534.8,445.6 534.6,445.5 534.4,445.3 534.1,445.2 533.8,445.1 533.6,445.1 533.3,445.0 533.0,445.0 513.0,445.0 512.7,445.0" fill="#98f800" />
<polygon points="516.0,463.0 532.3,460.6 534.5,453.9 533.0,448.0 513.0,448.0 516.0,463.0" fill="#f8f800" />
<polygon points="519.0,459.0 531.0,458.0 530.0,450.0 518.0,450.0 519.0,459.0" fill="#f89800" />
<polygon points="540.0,440.0 543.6,438.8 546.8,434.6 546.9,434.4 554.1,425.8 553.0,414.0 536.0,415.0 540.0,440.0" fill="#98f800" />
<polygon points="540.0,434.0 549.0,432.0 549.0,432.0 548.0,419.0 538.0,420.0 540.0,434.0" fill="#f8f800" />
<polygon points="503.2,493.1 509.7,488.7 521.9,479.3 524.3,475.3 520.0,470.0 497.0,480.0 503.2,493.1" fill="#98f800" />
<polygon points="477.0,504.2 477.1,504.1 498.7,497.3 499.5,496.7 495.0,486.0 470.0,492.0 477.0,504.2" fill="#0098f8" />
<g clip-path="url(#ext)">
<path d="M260.8 525.7L268.3 509.4L268.9 509.6L261.9 526.3Z" fill="#98f800"/>
<path d="M195.9 367.3L202.9 365.6L203.0 366.1L196.2 368.3Z" fill="#00f800"/>
<path d="M227.0 154.4L239.3 172.2L238.3 172.9L225.0 155.8Z" fill="#00f898"/>
<path d="M278.0 145.9L285.1 164.5L284.2 164.8L276.2 146.6Z" fill="#f8f800"/>
<path d="M271.8 234.0L276.7 240.1L276.3 240.5L270.9 234.9Z" fill="#98f800"/>
<path d="M285.5 474.3L291.8 460.7L292.7 461.1L287.3 475.1Z" fill="#00f800"/>
<path d="M210.6 175.9L224.6 191.5L223.7 192.4L208.8 177.6Z" fill="#00f800"/>
<path d="M149.4 138.7L164.8 153.3L164.3 153.8L148.5 139.7Z" fill="#00f8f8"/>
<path d="M378.7 450.3L377.7 443.5L378.7 443.2L380.8 449.8Z" fill="#00f800"/>
<path d="M569.9 331.2L559.6 330.5L559.6 329.8L569.9 329.7Z" fill="#f8f800"/>
<path d="M162.4 359.8L182.8 356.1L182.9 356.6L162.6 360.8Z" fill="#f89800"/>
<path d="M292.6 173.6L298.1 188.7L297.5 189.0L291.4 174.1Z" fill="#00f800"/>
<path d="M555.9 263.6L548.2 265.5L548.0 264.7L555.4 262.1Z" fill="#00f800"/>
<path d="M292.3 95.1L294.1 104.5L293.0 104.8L290.1 95.6Z" fill="#0098f8"/>
<path d="M298.9 460.1L305.7 443.2L306.7 443.6L300.9 460.8Z" fill="#00f800"/>
<path d="M360.9 452.1L359.7 435.4L360.5 435.4L362.3 452.0Z" fill="#00f800"/>
<path d="M349.1 475.4L349.7 459.4L350.8 459.4L351.4 475.4Z" fill="#00f800"/>
<path d="M255.9 221.3L269.8 236.9L269.1 237.5L254.6 222.4Z" fill="#f8f800"/>
<path d="M204.6 484.7L218.9 469.4L219.6 470.0L205.9 485.9Z" fill="#98f800"/>
<path d="M208.7 453.4L220.0 443.7L220.7 444.4L210.1 454.9Z" fill="#98f800"/>
<path d="M547.6 185.9L529.4 198.3L529.1 197.8L546.8 184.8Z" fill="#f89800"/>
<path d="M281.6 142.6L284.3 150.5L283.8 150.6L280.6 143.0Z" fill="#f8f800"/>
<path d="M162.7 151.8L175.1 163.7L174.5 164.3L161.6 153.0Z" fill="#00f800"/>
<path d="M325.4 103.5L327.2 122.6L326.4 122.7L323.8 103.7Z" fill="#00f800"/>
<path d="M298.0 114.2L300.4 125.9L299.5 126.1L296.1 114.7Z" fill="#0098f8"/>
<path d="M306.1 119.2L308.9 134.1L307.9 134.3L304.2 119.6Z" fill="#00f8f8"/>
<path d="M297.0 508.5L298.7 503.7L299.2 503.9L298.1 508.8Z" fill="#f89800"/>
<path d="M283.0 504.2L288.5 490.6L289.2 490.9L284.6 504.8Z" fill="#00f8f8"/>
<path d="M274.7 178.8L276.7 183.9L275.6 184.4L272.5 180.0Z" fill="#00f898"/>
<path d="M265.8 457.6L276.1 441.6L276.6 441.8L266.7 458.1Z" fill="#0098f8"/>
<path d="M362.9 489.8L361.8 472.6L362.6 472.5L364.3 489.7Z" fill="#f8f800"/>
<path d="M147.5 177.8L157.5 185.7L156.8 186.7L146.0 179.8Z" fill="#0098f8"/>
<path d="M457.9 544.1L451.3 529.5L452.4 529.0L460.0 543.0Z" fill="#98f800"/>
<path d="M472.2 515.0L465.6 503.8L466.6 503.2L474.1 513.8Z" fill="#00f898"/>
<path d="M287.6 125.1L291.6 139.5L290.5 139.8L285.4 125.8Z" fill="#98f800"/>
<path d="M188.6 109.9L197.5 122.6L196.6 123.3L186.8 111.3Z" fill="#98f800"/>
<path d="M268.7 521.7L272.0 514.9L272.9 515.3L270.5 522.5Z" fill="#98f800"/>
<path d="M171.1 403.2L183.4 398.1L183.8 398.8L171.8 404.6Z" fill="#00f800"/>
<path d="M577.4 333.4L568.6 332.8L568.7 332.3L577.4 332.3Z" fill="#00f8f8"/>
<path d="M248.2 438.8L257.5 428.7L258.0 429.1L249.1 439.6Z" fill="#00f8f8"/>
<path d="M316.2 118.5L316.7 123.8L315.9 123.9L314.6 118.8Z" fill="#f89800"/>
<path d="M241.9 503.1L249.0 492.0L249.7 492.4L243.2 503.9Z" fill="#0098f8"/>
<path d="M153.3 122.9L167.7 138.3L167.0 139.1L151.8 124.3Z" fill="#00f8f8"/>
<path d="M307.3 481.6L310.4 472.1L311.6 472.4L309.7 482.2Z" fill="#00f800"/>
<path d="M233.7 143.3L236.8 148.6L236.3 148.9L232.8 143.9Z" fill="#f8f800"/>
<path d="M353.0 512.1L353.1 496.6L353.9 496.6L354.6 512.1Z" fill="#f8f800"/>
<path d="M292.3 439.2L297.2 430.0L297.7 430.2L293.3 439.6Z" fill="#00f800"/>
<path d="M209.7 154.0L212.9 158.4L212.4 158.8L208.6 154.9Z" fill="#98f800"/>
<path d="M424.2 523.7L418.7 507.6L419.7 507.3L426.2 523.0Z" fill="#f8f800"/>
<path d="M206.2 169.6L217.0 182.0L216.1 182.9L204.4 171.3Z" fill="#f89800"/>
<path d="M298.2 99.1L299.1 105.3L297.9 105.5L295.9 99.6Z" fill="#f8f800"/>
<path d="M169.8 290.5L186.0 294.0L185.8 295.0L169.4 292.5Z" fill="#f8f800"/>
<path d="M277.7 77.9L278.7 83.4L277.5 83.8L275.2 78.6Z" fill="#f8f800"/>
<path d="M216.6 164.4L229.6 180.6L228.7 181.3L214.9 165.8Z" fill="#98f800"/>
<path d="M387.2 527.9L385.0 512.9L386.2 512.7L389.6 527.5Z" fill="#00f8f8"/>
<path d="M359.2 453.6L358.9 444.2L359.7 444.1L360.9 453.5Z" fill="#f8f800"/>
<path d="M224.4 195.0L232.1 203.3L231.7 203.7L223.6 195.8Z" fill="#98f800"/>
<path d="M193.4 406.0L209.7 397.8L209.9 398.2L193.9 406.9Z" fill="#00f800"/>
<path d="M208.5 181.3L219.8 193.2L219.3 193.7L207.4 182.3Z" fill="#98f800"/>
<path d="M226.0 232.8L232.0 237.8L231.4 238.6L224.8 234.4Z" fill="#f8f800"/>
<path d="M383.9 133.2L380.6 149.9L379.7 149.8L382.2 132.9Z" fill="#98f800"/>
<path d="M279.5 522.8L284.2 510.9L285.0 511.2L281.1 523.4Z" fill="#f8f800"/>
<path d="M153.6 392.8L161.0 390.6L161.3 391.5L154.2 394.4Z" fill="#f8f800"/>
<path d="M358.8 506.2L358.5 494.5L359.2 494.5L360.1 506.1Z" fill="#00f898"/>
<path d="M376.0 450.2L372.6 432.2L373.3 432.1L377.5 449.9Z" fill="#00f8f8"/>
<path d="M197.8 170.9L205.7 179.2L205.3 179.6L197.0 171.7Z" fill="#98f800"/>
<path d="M171.7 421.7L189.6 412.3L190.0 412.8L172.3 422.9Z" fill="#00f800"/>
<path d="M175.3 361.2L190.6 358.5L190.9 359.6L175.8 363.5Z" fill="#00f800"/>
<path d="M282.0 63.5L284.2 73.5L283.4 73.7L280.4 63.9Z" fill="#f8f800"/>
<path d="M342.5 460.1L343.8 445.3L345.1 445.4L345.0 460.2Z" fill="#0098f8"/>
<path d="M449.7 547.9L441.9 529.2L442.8 528.8L451.6 547.0Z" fill="#f89800"/>
<path d="M374.6 512.2L374.0 503.1L375.3 503.0L377.1 511.9Z" fill="#0098f8"/>
<path d="M280.4 209.9L290.1 226.6L289.0 227.3L278.3 211.2Z" fill="#00f800"/>
<path d="M266.5 465.4L276.1 449.5L276.6 449.8L267.4 466.0Z" fill="#f8f800"/>
<path d="M167.1 261.3L174.7 264.4L174.3 265.4L166.5 263.2Z" fill="#f89800"/>
<path d="M548.6 426.1L538.0 420.3L538.3 419.5L549.3 424.6Z" fill="#0098f8"/>
<path d="M329.4 87.5L330.8 107.6L330.0 107.7L327.8 87.7Z" fill="#98f800"/>
<path d="M216.8 144.4L225.4 156.8L224.6 157.4L215.2 145.6Z" fill="#00f800"/>
<path d="M360.4 487.2L359.3 465.9L360.0 465.9L361.9 487.1Z" fill="#f8f800"/>
<path d="M435.8 527.5L432.8 519.1L433.7 518.7L437.7 526.7Z" fill="#f8f800"/>
<path d="M548.6 236.2L531.3 243.6L531.0 243.0L548.1 235.0Z" fill="#00f800"/>
<path d="M183.9 356.6L195.1 354.9L195.3 355.9L184.3 358.7Z" fill="#f8f800"/>
<path d="M223.7 225.3L229.2 230.3L228.4 231.3L222.2 227.2Z" fill="#98f800"/>
<path d="M288.8 489.6L293.8 476.7L294.3 476.9L289.8 489.9Z" fill="#98f800"/>
<path d="M591.0 335.3L578.7 334.5L578.7 333.9L591.1 334.1Z" fill="#98f800"/>
<path d="M346.5 116.9L346.0 123.4L344.9 123.4L344.2 117.0Z" fill="#f8f800"/>
<path d="M152.0 157.8L168.2 172.0L167.7 172.6L150.9 159.1Z" fill="#f8f800"/>
<path d="M203.5 447.8L214.2 439.5L214.9 440.4L205.0 449.6Z" fill="#f89800"/>
<path d="M324.7 505.7L327.8 487.0L329.0 487.1L327.1 506.1Z" fill="#98f800"/>
<path d="M208.7 222.4L216.8 228.6L216.4 229.1L208.0 223.5Z" fill="#98f800"/>
<path d="M254.6 439.4L262.2 431.0L263.0 431.7L256.3 440.8Z" fill="#f8f800"/>
<path d="M266.8 516.5L275.1 498.2L276.0 498.5L268.5 517.3Z" fill="#00f898"/>
<path d="M181.0 381.0L191.9 377.8L192.1 378.5L181.5 382.6Z" fill="#f8f800"/>
<path d="M228.6 165.1L238.8 179.0L238.2 179.4L227.5 166.0Z" fill="#00f898"/>
<path d="M441.0 527.5L436.8 517.1L437.6 516.7L442.7 526.8Z" fill="#f89800"/>
<path d="M162.7 278.7L179.6 283.2L179.4 284.1L162.3 280.5Z" fill="#98f800"/>
<path d="M171.4 312.9L190.2 314.4L190.2 315.2L171.3 314.5Z" fill="#98f800"/>
<path d="M194.0 227.9L205.1 235.3L204.6 236.1L193.0 229.6Z" fill="#00f8f8"/>
<path d="M552.1 243.0L541.8 246.5L541.4 245.5L551.2 240.8Z" fill="#f8f800"/>
<path d="M252.1 479.9L260.7 466.9L261.4 467.3L253.4 480.8Z" fill="#00f8f8"/>
<path d="M398.8 515.8L396.3 505.1L396.9 504.9L400.0 515.5Z" fill="#f8f800"/>
<path d="M364.2 497.9L364.2 492.2L365.1 492.1L366.1 497.8Z" fill="#98f800"/>
<path d="M551.2 214.9L536.8 222.3L536.3 221.5L550.3 213.3Z" fill="#98f800"/>
<path d="M205.1 159.9L210.9 167.4L210.0 168.2L203.2 161.6Z" fill="#00f8f8"/>
<path d="M348.7 119.9L348.4 141.8L347.4 141.8L346.7 119.9Z" fill="#f8f800"/>
<path d="M213.4 119.0L220.4 130.3L219.6 130.9L211.7 120.1Z" fill="#f8f800"/>
<path d="M243.6 133.3L250.3 146.0L249.7 146.3L242.4 134.0Z" fill="#00f800"/>
<path d="M270.7 104.8L273.5 113.7L272.8 114.0L269.2 105.3Z" fill="#0098f8"/>
<path d="M433.1 541.5L431.1 534.8L432.1 534.4L435.2 540.7Z" fill="#00f800"/>
<path d="M264.0 439.2L269.3 433.1L270.2 433.8L265.8 440.6Z" fill="#0098f8"/>
<path d="M272.1 135.8L279.8 155.5L278.7 155.9L270.1 136.7Z" fill="#0098f8"/>
<path d="M158.6 264.0L178.5 270.6L178.2 271.5L158.1 265.7Z" fill="#98f800"/>
<path d="M311.9 136.2L313.2 145.3L312.3 145.5L309.9 136.6Z" fill="#98f800"/>
<path d="M569.8 246.3L554.8 251.1L554.4 249.9L569.0 243.9Z" fill="#00f800"/>
<path d="M160.4 203.5L176.6 214.4L176.1 215.3L159.3 205.2Z" fill="#00f898"/>
<path d="M263.6 434.0L269.7 426.8L270.3 427.4L264.9 435.0Z" fill="#f89800"/>
<path d="M174.2 355.9L186.9 354.2L187.1 355.4L174.7 358.4Z" fill="#98f800"/>
<path d="M269.5 508.7L276.2 494.5L277.1 495.0L271.4 509.6Z" fill="#0098f8"/>
<path d="M362.3 506.6L361.2 486.0L361.9 485.9L363.7 506.5Z" fill="#00f800"/>
<path d="M156.5 196.3L167.9 204.3L167.5 204.9L155.7 197.6Z" fill="#00f800"/>
<path d="M328.9 486.1L331.3 469.8L332.1 469.9L330.4 486.3Z" fill="#0098f8"/>
<path d="M240.6 190.6L243.5 194.9L242.7 195.6L239.1 191.9Z" fill="#f89800"/>
<path d="M236.3 95.5L242.4 108.6L241.5 109.1L234.6 96.3Z" fill="#f8f800"/>
<path d="M218.6 133.0L229.5 149.9L228.5 150.6L216.5 134.4Z" fill="#f8f800"/>
<path d="M226.7 83.3L231.3 93.0L230.8 93.3L225.6 83.8Z" fill="#00f800"/>
<path d="M155.3 142.4L169.5 156.1L168.9 156.7L154.1 143.5Z" fill="#98f800"/>
<path d="M495.3 503.4L482.7 487.1L483.6 486.4L497.1 502.0Z" fill="#98f800"/>
<path d="M335.0 474.5L336.8 459.0L337.4 459.0L336.2 474.7Z" fill="#0098f8"/>
<path d="M386.7 135.3L384.0 147.3L383.1 147.1L385.0 135.0Z" fill="#00f800"/>
<path d="M235.9 196.4L248.3 210.6L247.9 211.0L235.1 197.1Z" fill="#0098f8"/>
<path d="M169.7 216.6L176.3 221.0L175.9 221.6L168.9 217.9Z" fill="#00f800"/>
<path d="M189.3 315.9L195.6 316.7L195.6 317.7L189.2 317.9Z" fill="#98f800"/>
<path d="M200.9 190.9L210.2 199.5L209.8 199.9L200.2 191.7Z" fill="#0098f8"/>
<path d="M246.7 198.6L250.6 203.9L250.1 204.3L245.6 199.5Z" fill="#98f800"/>
<path d="M543.7 217.4L528.9 225.1L528.5 224.4L542.8 215.9Z" fill="#00f800"/>
<path d="M412.5 509.3L409.6 499.5L410.4 499.2L414.1 508.7Z" fill="#0098f8"/>
<path d="M168.6 311.3L188.5 313.0L188.4 313.9L168.4 312.9Z" fill="#00f8f8"/>
<path d="M333.9 115.2L334.4 127.7L333.2 127.8L331.5 115.4Z" fill="#00f898"/>
<path d="M269.4 197.0L275.7 207.6L275.2 207.9L268.2 197.7Z" fill="#98f800"/>
<path d="M348.3 131.3L347.9 142.0L346.8 142.0L346.2 131.3Z" fill="#0098f8"/>
<path d="M143.4 234.1L163.3 243.4L162.8 244.5L142.4 236.3Z" fill="#98f800"/>
<path d="M302.7 460.4L310.1 440.6L311.2 441.0L305.1 461.2Z" fill="#98f800"/>
<path d="M255.0 119.2L262.4 136.2L261.6 136.6L253.3 120.0Z" fill="#00f800"/>
<path d="M262.8 136.6L267.3 147.7L266.2 148.2L260.5 137.7Z" fill="#98f800"/>
<path d="M281.4 149.4L283.7 156.7L282.5 157.2L279.1 150.3Z" fill="#0098f8"/>
<path d="M369.4 519.1L367.9 500.9L368.6 500.9L370.8 519.0Z" fill="#00f800"/>
<path d="M286.2 208.6L291.5 218.6L291.0 218.8L285.3 209.1Z" fill="#98f800"/>
<path d="M407.6 526.0L404.9 515.4L405.6 515.1L409.0 525.6Z" fill="#98f800"/>
<path d="M211.9 188.7L216.0 193.2L215.6 193.7L211.0 189.7Z" fill="#f8f800"/>
<path d="M171.9 297.9L188.4 300.6L188.3 301.1L171.8 298.9Z" fill="#f8f800"/>
<path d="M242.4 233.4L258.4 247.4L257.9 248.1L241.3 234.8Z" fill="#00f800"/>
<path d="M237.6 151.3L246.1 165.2L245.3 165.7L235.9 152.4Z" fill="#00f898"/>
<path d="M274.7 176.1L281.2 189.8L280.3 190.2L273.0 177.0Z" fill="#0098f8"/>
<path d="M207.1 127.7L217.6 142.8L216.9 143.3L205.8 128.7Z" fill="#f8f800"/>
<path d="M290.4 145.9L294.6 159.6L293.6 159.9L288.5 146.5Z" fill="#98f800"/>
<path d="M182.6 171.8L193.5 182.5L192.7 183.4L180.9 173.6Z" fill="#98f800"/>
<path d="M196.3 394.7L212.1 387.8L212.5 388.6L197.0 396.3Z" fill="#0098f8"/>
<path d="M224.6 447.4L231.6 441.1L232.2 441.7L225.9 448.6Z" fill="#f8f800"/>
<path d="M490.8 165.1L481.7 174.9L481.0 174.2L489.5 163.9Z" fill="#f8f800"/>
<path d="M579.3 278.5L564.9 280.8L564.6 279.6L578.8 276.0Z" fill="#00f800"/>
<path d="M468.1 163.6L463.4 169.5L463.0 169.1L467.1 162.9Z" fill="#f8f800"/>
<path d="M504.0 492.6L499.3 486.8L499.9 486.2L505.3 491.4Z" fill="#f89800"/>
<path d="M236.7 131.2L243.2 143.3L242.2 143.9L234.6 132.4Z" fill="#0098f8"/>
<path d="M281.3 450.1L288.7 437.1L289.1 437.3L282.2 450.6Z" fill="#00f800"/>
<path d="M365.3 524.4L365.0 515.5L365.8 515.4L366.9 524.3Z" fill="#00f8f8"/>
<path d="M188.1 125.4L194.3 133.8L193.4 134.5L186.4 126.8Z" fill="#00f800"/>
<path d="M178.8 336.7L188.1 336.4L188.2 337.3L178.9 338.5Z" fill="#00f898"/>
<path d="M271.7 118.5L278.8 138.0L278.2 138.2L270.4 118.9Z" fill="#00f800"/>
<path d="M553.9 269.3L548.9 270.3L548.7 269.6L553.5 267.9Z" fill="#0098f8"/>
<path d="M167.1 267.6L180.2 272.1L179.9 272.9L166.6 269.3Z" fill="#00f898"/>
<path d="M177.9 316.4L184.1 317.3L184.0 318.6L177.8 319.0Z" fill="#98f800"/>
<path d="M175.9 167.1L191.9 182.2L191.2 182.9L174.6 168.6Z" fill="#0098f8"/>
<path d="M252.4 163.5L259.1 175.0L258.5 175.4L251.2 164.2Z" fill="#00f898"/>
<path d="M331.5 485.0L333.5 470.1L334.1 470.1L332.8 485.2Z" fill="#00f8f8"/>
<path d="M208.3 235.7L214.0 239.7L213.5 240.5L207.4 237.2Z" fill="#98f800"/>
<path d="M163.2 190.5L176.0 200.4L175.3 201.4L161.8 192.5Z" fill="#0098f8"/>
<path d="M295.1 137.0L297.2 145.5L296.3 145.8L293.3 137.5Z" fill="#00f800"/>
<path d="M210.0 420.1L227.2 408.8L227.6 409.4L210.9 421.4Z" fill="#00f800"/>
<path d="M173.8 147.1L185.9 159.9L185.1 160.7L172.2 148.7Z" fill="#f89800"/>
<path d="M280.5 166.0L283.2 173.1L282.5 173.4L279.1 166.6Z" fill="#00f898"/>
<path d="M366.0 131.2L363.8 151.1L362.6 151.0L363.5 131.0Z" fill="#00f800"/>
<path d="M164.9 304.4L186.2 306.9L186.1 307.5L164.8 305.5Z" fill="#f8f800"/>
<path d="M337.1 465.1L339.4 444.4L340.3 444.5L339.1 465.3Z" fill="#f89800"/>
<path d="M455.4 508.0L452.3 501.7L453.1 501.3L457.0 507.1Z" fill="#f8f800"/>
<path d="M226.8 251.7L233.3 256.0L232.8 256.9L225.8 253.4Z" fill="#f8f800"/>
<path d="M251.9 213.1L265.9 229.6L265.2 230.3L250.4 214.5Z" fill="#f8f800"/>
<path d="M238.6 458.1L250.7 444.0L251.1 444.4L239.5 458.9Z" fill="#98f800"/>
<path d="M304.7 445.6L310.1 431.8L310.7 432.0L305.8 446.0Z" fill="#0098f8"/>
<path d="M343.8 84.1L344.0 104.6L343.1 104.6L342.1 84.2Z" fill="#98f800"/>
<path d="M236.0 427.7L245.5 419.7L246.1 420.4L237.3 429.1Z" fill="#00f898"/>
<path d="M182.3 119.9L190.4 130.4L189.8 130.9L181.1 120.9Z" fill="#f89800"/>
<path d="M235.5 473.0L243.9 463.0L244.9 463.7L237.5 474.5Z" fill="#98f800"/>
<path d="M181.3 424.2L199.6 413.9L200.2 414.8L182.4 426.1Z" fill="#00f800"/>
<path d="M219.1 467.1L229.0 457.1L230.0 457.9L221.0 468.7Z" fill="#00f800"/>
<path d="M284.4 513.2L288.6 502.0L289.1 502.2L285.5 513.6Z" fill="#00f898"/>
<path d="M315.4 109.7L317.8 126.1L317.2 126.2L314.3 109.9Z" fill="#0098f8"/>
<path d="M196.8 142.6L210.1 159.0L209.4 159.6L195.4 143.8Z" fill="#00f800"/>
<path d="M163.7 392.4L184.1 385.3L184.3 386.0L164.2 393.9Z" fill="#00f800"/>
<path d="M420.3 545.4L416.0 531.0L416.6 530.8L421.5 545.0Z" fill="#00f8f8"/>
<path d="M213.0 463.5L217.4 459.8L218.3 460.6L214.7 465.2Z" fill="#98f800"/>
<path d="M309.3 103.4L312.1 121.2L311.1 121.4L307.2 103.8Z" fill="#f8f800"/>
<path d="M280.4 156.5L288.3 176.5L287.4 176.8L278.6 157.2Z" fill="#f89800"/>
<path d="M221.5 426.5L230.8 419.6L231.3 420.2L222.6 427.8Z" fill="#00f898"/>
<path d="M570.8 297.7L565.6 298.1L565.5 297.6L570.7 296.7Z" fill="#98f800"/>
<path d="M311.9 499.8L314.0 492.1L314.9 492.3L313.7 500.2Z" fill="#00f800"/>
<path d="M254.1 149.1L261.5 163.4L260.6 163.8L252.5 150.0Z" fill="#00f800"/>
<path d="M209.5 176.8L216.6 184.7L216.2 185.1L208.5 177.6Z" fill="#0098f8"/>
<path d="M187.0 110.9L197.3 125.1L196.7 125.5L185.7 111.9Z" fill="#00f800"/>
<path d="M577.0 292.7L557.1 295.1L557.0 294.3L576.8 291.0Z" fill="#0098f8"/>
<path d="M203.9 484.7L215.2 472.9L215.9 473.6L205.4 486.0Z" fill="#00f8f8"/>
<path d="M144.9 186.6L154.7 193.7L154.3 194.3L144.0 187.9Z" fill="#f89800"/>
<path d="M289.7 459.1L296.9 443.7L297.6 444.1L291.1 459.8Z" fill="#0098f8"/>
<path d="M163.1 422.8L180.2 414.2L180.6 415.1L164.0 424.5Z" fill="#00f8f8"/>
<path d="M250.7 115.5L253.4 122.4L252.4 122.9L248.7 116.4Z" fill="#00f8f8"/>
<path d="M181.9 191.3L198.7 205.1L198.2 205.8L180.8 192.7Z" fill="#00f8f8"/>
<path d="M168.8 155.5L179.3 165.9L178.5 166.8L167.3 157.1Z" fill="#00f8f8"/>
<path d="M203.2 226.8L218.9 237.6L218.4 238.3L202.3 228.1Z" fill="#f8f800"/>
<path d="M260.3 223.3L269.1 233.6L268.7 234.1L259.3 224.1Z" fill="#98f800"/>
<path d="M204.0 97.3L213.5 112.8L212.9 113.2L202.7 98.2Z" fill="#f89800"/>
<path d="M242.8 170.9L254.4 188.0L253.9 188.3L241.8 171.6Z" fill="#f8f800"/>
<path d="M217.5 454.2L233.2 439.2L233.7 439.7L218.5 455.1Z" fill="#98f800"/>
<path d="M247.1 488.6L258.3 471.6L259.2 472.1L249.0 489.7Z" fill="#f8f800"/>
<path d="M567.2 385.5L561.4 383.3L561.7 382.3L567.7 383.4Z" fill="#00f8f8"/>
<path d="M163.3 119.8L177.2 135.8L176.4 136.5L161.7 121.3Z" fill="#f8f800"/>
<path d="M252.7 495.0L257.6 487.6L258.7 488.2L254.9 496.3Z" fill="#f8f800"/>
<path d="M188.9 396.9L206.3 389.4L206.7 390.1L189.6 398.3Z" fill="#f89800"/>
<path d="M214.2 465.5L224.7 455.0L225.2 455.5L215.2 466.4Z" fill="#00f8f8"/>
<path d="M212.8 218.2L218.1 223.0L217.3 224.0L211.3 220.1Z" fill="#00f800"/>
<path d="M244.6 203.8L253.3 214.1L252.8 214.5L243.7 204.6Z" fill="#00f8f8"/>
<path d="M314.8 498.7L316.9 491.1L318.1 491.3L317.3 499.2Z" fill="#f8f800"/>
<path d="M310.1 466.0L313.2 455.6L313.7 455.7L311.1 466.3Z" fill="#00f8f8"/>
<path d="M199.2 472.9L205.4 467.2L205.9 467.6L200.1 473.8Z" fill="#0098f8"/>
<path d="M246.4 149.4L252.5 160.3L251.9 160.6L245.3 150.1Z" fill="#f89800"/>
<path d="M368.7 515.2L367.6 501.1L368.5 501.0L370.3 515.0Z" fill="#f8f800"/>
<path d="M361.6 521.3L360.9 501.3L362.0 501.2L363.9 521.2Z" fill="#98f800"/>
<path d="M473.6 149.6L465.7 160.4L465.1 159.9L472.5 148.8Z" fill="#00f8f8"/>
<path d="M204.2 436.0L211.0 431.2L211.5 431.8L205.1 437.2Z" fill="#f8f800"/>
<path d="M417.4 130.0L411.7 145.2L410.6 144.8L415.3 129.3Z" fill="#f89800"/>
<path d="M335.7 454.9L337.4 442.2L338.0 442.2L337.0 455.1Z" fill="#f8f800"/>
<path d="M163.7 272.9L172.3 275.6L172.2 276.2L163.4 274.2Z" fill="#00f800"/>
<path d="M167.5 405.4L177.8 401.2L178.1 401.8L168.1 406.6Z" fill="#00f898"/>
<path d="M184.8 269.0L197.6 273.5L197.4 274.0L184.4 270.0Z" fill="#0098f8"/>
<path d="M304.5 481.2L309.8 464.7L311.0 465.0L306.9 481.9Z" fill="#00f800"/>
<path d="M183.1 172.5L197.4 186.0L196.9 186.5L182.0 173.6Z" fill="#98f800"/>
<path d="M575.0 370.6L566.9 368.5L567.1 367.6L575.3 368.9Z" fill="#00f800"/>
<path d="M253.6 192.9L259.3 201.4L258.5 201.9L252.0 194.1Z" fill="#00f898"/>
<path d="M271.6 518.2L277.5 504.5L278.4 504.8L273.2 518.9Z" fill="#f8f800"/>
<path d="M414.1 530.8L408.1 510.0L409.2 509.6L416.3 530.1Z" fill="#00f898"/>
<path d="M175.3 351.8L185.5 350.5L185.6 351.1L175.5 353.0Z" fill="#f8f800"/>
<path d="M303.1 440.9L310.7 423.2L311.7 423.6L305.2 441.8Z" fill="#00f8f8"/>
<path d="M176.4 328.6L184.2 329.0L184.2 330.2L176.5 331.1Z" fill="#0098f8"/>
<path d="M241.3 451.5L251.3 440.5L252.3 441.3L243.2 453.1Z" fill="#00f8f8"/>
<path d="M494.7 156.1L480.6 171.8L479.8 171.1L493.1 154.7Z" fill="#98f800"/>
<path d="M370.6 484.6L368.7 467.4L369.6 467.3L372.3 484.4Z" fill="#00f8f8"/>
<path d="M276.7 437.0L286.1 423.3L286.9 423.8L278.3 438.0Z" fill="#f8f800"/>
<path d="M178.9 329.7L194.0 329.5L194.0 330.1L178.9 330.9Z" fill="#f89800"/>
<path d="M518.1 479.2L514.3 475.3L514.8 474.7L519.1 478.1Z" fill="#00f898"/>
<path d="M262.6 452.7L270.2 442.4L271.1 442.9L264.3 453.9Z" fill="#00f800"/>
<path d="M572.6 344.0L566.1 343.1L566.2 342.3L572.8 342.4Z" fill="#00f898"/>
<path d="M320.7 476.9L323.3 465.6L324.1 465.8L322.5 477.3Z" fill="#f8f800"/>
<path d="M546.6 232.5L536.4 236.8L535.9 235.8L545.7 230.5Z" fill="#0098f8"/>
<path d="M324.7 115.7L325.4 125.6L324.5 125.7L322.8 115.9Z" fill="#98f800"/>
<path d="M444.8 549.8L440.4 538.7L440.9 538.5L445.8 549.4Z" fill="#00f800"/>
<path d="M305.0 108.3L305.8 113.8L305.0 114.0L303.5 108.6Z" fill="#98f800"/>
<path d="M190.8 456.1L204.5 445.2L205.0 445.8L191.9 457.4Z" fill="#00f8f8"/>
<path d="M247.8 507.5L256.6 492.5L257.5 493.0L249.5 508.4Z" fill="#f89800"/>
<path d="M197.7 417.9L203.2 415.1L203.8 416.1L198.8 419.8Z" fill="#00f898"/>
<path d="M150.6 140.8L161.5 151.4L160.8 152.1L149.3 142.2Z" fill="#98f800"/>
<path d="M554.6 210.3L546.8 214.2L546.4 213.5L553.8 208.9Z" fill="#98f800"/>
<path d="M152.8 402.1L170.9 395.5L171.4 396.6L153.7 404.3Z" fill="#0098f8"/>
<path d="M228.3 487.8L238.0 475.5L238.8 476.1L229.9 488.9Z" fill="#f8f800"/>
<path d="M279.1 188.4L285.6 201.6L285.0 201.9L277.9 189.1Z" fill="#00f8f8"/>
<path d="M189.1 130.4L198.2 142.1L197.2 142.9L187.3 132.0Z" fill="#00f800"/>
<path d="M558.2 264.1L538.7 269.5L538.6 269.0L557.9 263.0Z" fill="#98f800"/>
<path d="M212.3 441.3L227.6 428.6L228.0 429.1L213.1 442.3Z" fill="#0098f8"/>
<path d="M279.6 112.7L284.5 128.6L283.6 128.9L277.8 113.3Z" fill="#00f898"/>
<path d="M316.7 440.0L321.2 425.9L322.2 426.2L318.7 440.6Z" fill="#f8f800"/>
<path d="M164.8 201.5L179.2 211.3L178.9 211.8L164.3 202.4Z" fill="#f8f800"/>
<path d="M214.1 429.2L230.8 416.9L231.5 417.8L215.5 431.0Z" fill="#0098f8"/>
<path d="M213.4 92.8L221.5 107.1L220.8 107.5L212.2 93.6Z" fill="#00f898"/>
<path d="M192.7 364.3L199.8 362.9L200.0 363.6L193.0 365.8Z" fill="#f89800"/>
<path d="M286.0 215.3L292.2 226.9L291.2 227.5L283.9 216.5Z" fill="#00f8f8"/>
<path d="M422.4 531.6L420.9 526.4L421.4 526.2L423.5 531.2Z" fill="#98f800"/>
<path d="M192.5 226.2L207.5 236.0L207.0 236.9L191.4 227.9Z" fill="#f8f800"/>
<path d="M552.5 429.3L547.5 426.2L548.0 425.4L553.4 427.6Z" fill="#98f800"/>
<path d="M309.1 439.4L314.9 424.1L315.8 424.4L310.9 440.0Z" fill="#98f800"/>
<path d="M252.6 450.0L257.0 444.8L257.4 445.1L253.5 450.7Z" fill="#f8f800"/>
<path d="M425.5 148.3L419.4 161.2L418.2 160.7L423.1 147.3Z" fill="#f8f800"/>
<path d="M271.6 440.0L275.5 435.2L276.6 435.9L273.7 441.4Z" fill="#f89800"/>
<path d="M572.4 293.6L551.2 296.2L551.1 295.4L572.2 292.0Z" fill="#00f8f8"/>
<path d="M266.9 237.4L276.3 247.6L275.7 248.1L265.9 238.4Z" fill="#00f800"/>
<path d="M552.1 428.4L534.2 418.8L534.6 418.0L552.9 426.8Z" fill="#00f898"/>
<path d="M214.3 469.9L221.9 462.3L222.5 462.9L215.6 471.1Z" fill="#98f800"/>
<path d="M333.4 496.1L334.7 485.2L335.3 485.3L334.6 496.2Z" fill="#00f898"/>
<path d="M204.5 370.0L219.1 365.9L219.5 367.1L205.3 372.4Z" fill="#00f800"/>
<path d="M330.5 123.7L332.0 141.4L331.4 141.5L329.4 123.8Z" fill="#00f898"/>
<path d="M142.6 148.0L155.1 159.1L154.5 159.7L141.5 149.2Z" fill="#f8f800"/>
<path d="M212.8 466.7L219.7 460.1L220.3 460.7L214.0 467.9Z" fill="#98f800"/>
<path d="M171.2 179.5L183.0 189.6L182.5 190.4L170.0 180.9Z" fill="#98f800"/>
<path d="M209.9 369.4L219.6 366.5L219.8 367.0L210.2 370.4Z" fill="#f8f800"/>
<path d="M316.8 490.4L321.1 471.0L322.2 471.2L319.0 490.8Z" fill="#f89800"/>
<path d="M259.0 483.3L266.8 470.5L267.5 470.9L260.4 484.1Z" fill="#00f8f8"/>
<path d="M319.7 443.2L324.8 424.0L325.4 424.1L320.8 443.5Z" fill="#f89800"/>
<path d="M288.9 436.1L296.2 423.3L296.8 423.7L290.1 436.8Z" fill="#f8f800"/>
<path d="M339.7 488.7L341.6 466.8L342.9 466.8L342.3 488.8Z" fill="#98f800"/>
<path d="M274.5 456.2L285.0 438.7L285.8 439.2L276.2 457.2Z" fill="#f89800"/>
<path d="M253.0 113.7L260.3 130.7L259.2 131.2L250.8 114.8Z" fill="#98f800"/>
<path d="M299.7 106.2L301.7 117.3L300.7 117.5L297.6 106.7Z" fill="#98f800"/>
<path d="M328.5 105.8L329.6 121.4L328.6 121.5L326.5 106.0Z" fill="#f8f800"/>
<path d="M226.1 178.5L236.0 190.9L235.2 191.6L224.4 180.0Z" fill="#00f8f8"/>
<path d="M543.0 430.0L532.4 423.9L532.6 423.4L543.5 429.1Z" fill="#00f800"/>
<path d="M251.8 225.7L257.0 231.6L256.2 232.3L250.3 227.2Z" fill="#f8f800"/>
<path d="M198.7 125.4L202.5 131.1L201.9 131.6L197.5 126.4Z" fill="#f89800"/>
<path d="M148.7 203.4L166.8 214.9L166.2 215.9L147.5 205.4Z" fill="#f8f800"/>
<path d="M253.9 460.3L259.5 453.3L260.4 453.9L255.8 461.6Z" fill="#00f8f8"/>
<path d="M211.8 153.2L220.8 165.0L220.0 165.6L210.3 154.4Z" fill="#00f800"/>
<path d="M185.5 135.9L196.6 149.1L196.2 149.4L184.6 136.7Z" fill="#f89800"/>
<path d="M229.0 451.2L236.0 444.6L237.0 445.5L230.8 453.0Z" fill="#f89800"/>
<path d="M448.0 529.0L445.8 523.4L446.7 522.9L449.8 528.2Z" fill="#f8f800"/>
<path d="M264.6 113.3L272.2 132.8L271.6 133.1L263.4 113.8Z" fill="#98f800"/>
<path d="M331.9 118.4L332.3 128.5L331.2 128.6L329.7 118.6Z" fill="#f89800"/>
<path d="M295.0 195.7L297.9 203.1L297.3 203.4L293.9 196.2Z" fill="#98f800"/>
<path d="M180.5 448.0L188.1 442.8L188.4 443.2L181.2 448.9Z" fill="#00f800"/>
<path d="M177.9 313.4L197.2 314.9L197.2 315.5L177.8 314.6Z" fill="#00f898"/>
<path d="M267.5 138.9L269.4 143.9L268.8 144.2L266.3 139.5Z" fill="#98f800"/>
<path d="M194.4 487.4L204.5 477.4L205.0 477.9L195.6 488.5Z" fill="#f8f800"/>
<path d="M162.3 308.7L170.4 310.0L170.3 311.3L162.1 311.3Z" fill="#98f800"/>
<path d="M238.8 449.6L243.2 445.3L243.9 446.0L240.2 450.9Z" fill="#00f8f8"/>
<path d="M173.1 345.2L189.4 343.6L189.5 344.2L173.3 346.5Z" fill="#00f800"/>
<path d="M191.0 166.8L199.3 175.8L198.5 176.7L189.3 168.5Z" fill="#0098f8"/>
<path d="M177.3 150.4L185.3 159.2L184.6 159.9L175.8 151.9Z" fill="#f8f800"/>
<path d="M231.6 503.0L243.6 485.5L244.3 486.0L233.0 503.9Z" fill="#0098f8"/>
<path d="M207.4 468.7L220.7 455.7L221.1 456.1L208.4 469.6Z" fill="#00f8f8"/>
<path d="M160.4 388.9L167.6 387.0L168.0 388.2L161.2 391.2Z" fill="#98f800"/>
<path d="M391.8 521.2L389.3 507.1L390.2 506.9L393.8 520.7Z" fill="#f8f800"/>
<path d="M323.4 491.7L325.7 478.6L326.2 478.7L324.4 491.9Z" fill="#f8f800"/>
<path d="M532.3 463.8L515.2 450.4L515.5 449.9L533.1 462.8Z" fill="#00f898"/>
<path d="M194.9 405.3L203.6 401.2L204.0 401.9L195.7 406.8Z" fill="#f8f800"/>
<path d="M300.2 92.3L303.7 110.1L303.0 110.3L298.8 92.6Z" fill="#00f8f8"/>
<path d="M245.1 452.7L256.4 439.3L256.8 439.7L246.0 453.4Z" fill="#00f800"/>
<path d="M172.4 295.1L179.3 296.7L179.1 297.7L172.1 297.0Z" fill="#98f800"/>
<path d="M254.9 148.5L257.5 154.3L256.5 154.9L253.0 149.6Z" fill="#00f898"/>
<path d="M278.9 216.4L287.3 229.8L286.5 230.4L277.2 217.5Z" fill="#0098f8"/>
<path d="M388.0 523.6L385.7 510.2L386.2 510.2L389.0 523.4Z" fill="#98f800"/>
<path d="M251.6 443.4L257.7 436.9L258.7 437.8L253.6 445.0Z" fill="#00f800"/>
<path d="M247.7 507.1L255.6 493.9L256.4 494.3L249.3 508.0Z" fill="#98f800"/>
<path d="M292.3 166.4L299.1 185.8L298.5 186.0L291.0 166.9Z" fill="#00f800"/>
<path d="M180.2 446.7L185.6 443.3L186.2 444.1L181.3 448.2Z" fill="#00f8f8"/>
<path d="M165.2 130.3L174.3 140.7L173.4 141.5L163.4 132.0Z" fill="#00f800"/>
<path d="M234.9 478.7L239.6 473.1L240.2 473.5L236.1 479.6Z" fill="#00f8f8"/>
<path d="M203.8 466.0L213.7 457.0L214.3 457.7L205.0 467.3Z" fill="#0098f8"/>
<path d="M278.2 150.7L284.0 165.3L283.5 165.5L277.1 151.1Z" fill="#f89800"/>
<path d="M379.6 130.3L376.3 149.8L375.4 149.7L377.9 130.1Z" fill="#f8f800"/>
<path d="M564.7 270.8L558.5 271.8L558.2 270.7L564.1 268.6Z" fill="#00f800"/>
<path d="M554.8 259.5L542.5 262.8L542.2 261.6L554.0 257.2Z" fill="#f8f800"/>
<path d="M240.7 484.7L250.9 470.6L251.8 471.2L242.5 485.9Z" fill="#00f8f8"/>
<path d="M199.5 160.9L214.1 177.2L213.6 177.7L198.4 161.9Z" fill="#f89800"/>
<path d="M161.5 278.4L180.4 283.4L180.1 284.3L161.1 280.2Z" fill="#f8f800"/>
<path d="M550.8 419.2L543.1 415.2L543.4 414.5L551.4 417.8Z" fill="#f8f800"/>
<path d="M541.0 211.8L523.9 221.3L523.2 220.2L539.7 209.6Z" fill="#98f800"/>
<path d="M404.1 511.7L402.2 503.2L403.4 502.8L406.5 511.0Z" fill="#00f800"/>
<path d="M283.5 127.5L289.0 145.1L288.1 145.4L281.7 128.1Z" fill="#0098f8"/>
<path d="M365.1 445.2L364.7 437.4L365.9 437.2L367.6 444.9Z" fill="#98f800"/>
<path d="M183.6 179.4L189.7 185.5L188.9 186.4L182.0 181.2Z" fill="#98f800"/>
<path d="M216.6 224.1L222.2 228.9L221.7 229.6L215.5 225.6Z" fill="#98f800"/>
<path d="M560.1 195.0L541.9 205.6L541.2 204.5L558.7 192.8Z" fill="#00f800"/>
<path d="M546.1 431.8L537.8 426.8L538.3 425.9L547.0 430.1Z" fill="#f8f800"/>
<path d="M439.1 515.8L434.7 505.7L435.3 505.4L440.3 515.3Z" fill="#00f898"/>
<path d="M190.6 414.1L206.7 405.3L206.9 405.7L191.1 415.0Z" fill="#00f8f8"/>
<path d="M354.8 519.2L354.7 498.6L355.6 498.6L356.8 519.1Z" fill="#f89800"/>
<path d="M214.7 432.4L228.2 422.2L228.9 423.0L216.1 434.1Z" fill="#f8f800"/>
<path d="M303.9 436.6L309.0 425.6L310.0 426.0L306.0 437.4Z" fill="#f8f800"/>
<path d="M265.6 207.1L271.3 215.7L270.4 216.4L263.9 208.3Z" fill="#98f800"/>
<path d="M205.4 115.0L214.8 129.3L214.1 129.8L204.0 115.9Z" fill="#98f800"/>
<path d="M357.9 467.3L357.1 450.3L357.7 450.3L359.0 467.3Z" fill="#00f898"/>
<path d="M565.5 207.7L560.3 210.0L559.9 209.2L564.6 206.1Z" fill="#0098f8"/>
<path d="M247.5 514.3L252.8 505.2L253.4 505.5L248.7 514.9Z" fill="#00f800"/>
<path d="M431.0 552.2L425.7 535.6L426.9 535.2L433.4 551.3Z" fill="#00f898"/>
<path d="M293.2 150.2L296.7 161.5L296.2 161.7L292.2 150.5Z" fill="#00f800"/>
<path d="M226.9 482.2L232.2 475.8L232.6 476.1L227.7 482.8Z" fill="#f8f800"/>
<path d="M298.1 100.7L301.1 115.3L300.2 115.5L296.4 101.1Z" fill="#f8f800"/>
<path d="M322.0 495.8L325.2 477.5L325.9 477.6L323.4 496.0Z" fill="#0098f8"/>
<path d="M173.4 108.2L180.4 117.3L179.9 117.7L172.3 109.0Z" fill="#00f800"/>
<path d="M155.7 208.6L160.9 212.2L160.4 213.0L154.8 210.2Z" fill="#f8f800"/>
<path d="M282.2 200.1L291.2 217.1L290.7 217.4L281.2 200.7Z" fill="#0098f8"/>
<path d="M524.8 458.3L515.1 450.2L515.8 449.3L526.2 456.4Z" fill="#00f8f8"/>
<path d="M192.0 194.5L197.8 200.0L197.1 200.9L190.5 196.3Z" fill="#0098f8"/>
<path d="M433.5 136.8L427.3 149.7L426.5 149.4L431.9 136.1Z" fill="#f8f800"/>
<path d="M291.8 522.4L297.7 503.8L298.6 504.0L293.6 522.9Z" fill="#f8f800"/>
<path d="M287.3 194.6L290.7 202.2L290.3 202.4L286.4 195.0Z" fill="#00f8f8"/>
<path d="M168.5 323.2L174.6 323.5L174.6 324.1L168.5 324.4Z" fill="#98f800"/>
<path d="M418.0 530.7L416.5 524.5L417.6 524.1L420.2 530.0Z" fill="#f89800"/>
<path d="M168.4 408.2L179.6 403.4L180.0 404.1L169.1 409.6Z" fill="#f89800"/>
<path d="M251.8 107.1L258.0 121.9L257.2 122.3L250.1 107.9Z" fill="#00f8f8"/>
<path d="M243.2 115.7L248.3 126.2L247.9 126.5L242.3 116.2Z" fill="#00f800"/>
<path d="M385.3 455.2L380.6 436.1L381.9 435.7L387.8 454.5Z" fill="#f8f800"/>
<path d="M256.7 159.1L260.5 166.8L259.5 167.4L254.7 160.2Z" fill="#98f800"/>
<path d="M200.8 416.8L210.9 411.0L211.4 411.9L201.8 418.5Z" fill="#f8f800"/>
<path d="M289.0 150.7L291.0 158.3L289.8 158.7L286.6 151.6Z" fill="#f8f800"/>
<path d="M564.6 207.6L547.9 216.3L547.5 215.7L563.9 206.3Z" fill="#98f800"/>
<path d="M481.4 157.0L468.8 172.3L468.0 171.6L479.6 155.6Z" fill="#00f8f8"/>
<path d="M488.6 165.7L474.0 181.8L473.2 181.1L487.0 164.3Z" fill="#f8f800"/>
<path d="M262.5 201.1L273.6 217.7L272.6 218.5L260.3 202.6Z" fill="#00f800"/>
<path d="M199.0 195.6L209.7 205.0L209.4 205.4L198.4 196.4Z" fill="#00f800"/>
<path d="M230.1 183.5L237.0 192.1L236.6 192.5L229.2 184.3Z" fill="#f89800"/>
<path d="M227.8 498.5L233.1 491.6L233.7 492.0L229.0 499.3Z" fill="#98f800"/>
<path d="M370.4 514.9L369.4 502.9L370.1 502.8L371.8 514.8Z" fill="#00f800"/>
<path d="M570.3 294.1L552.9 296.2L552.8 295.6L570.1 292.8Z" fill="#00f800"/>
<path d="M452.5 512.7L445.5 499.3L445.9 499.0L453.4 512.2Z" fill="#0098f8"/>
<path d="M223.1 225.6L238.2 237.9L237.5 238.9L221.6 227.5Z" fill="#f8f800"/>
<path d="M337.8 443.4L339.3 430.6L339.8 430.6L338.8 443.5Z" fill="#0098f8"/>
<path d="M216.7 463.9L223.7 457.1L224.3 457.7L217.9 465.1Z" fill="#00f800"/>
<path d="M593.0 302.0L574.0 303.4L573.9 302.4L592.8 300.0Z" fill="#98f800"/>
<path d="M186.4 204.5L197.6 213.2L197.1 214.0L185.3 206.0Z" fill="#f89800"/>
<path d="M183.8 107.0L191.0 117.1L190.3 117.7L182.4 108.1Z" fill="#f8f800"/>
<path d="M255.5 241.6L264.3 249.8L263.7 250.5L254.3 243.0Z" fill="#00f800"/>
<path d="M217.7 434.8L231.4 423.8L232.0 424.5L218.8 436.2Z" fill="#f89800"/>
<path d="M201.6 447.4L209.6 441.3L210.3 442.1L202.9 449.0Z" fill="#f8f800"/>
<path d="M206.9 192.7L217.7 203.1L217.1 203.8L205.8 194.0Z" fill="#98f800"/>
<path d="M249.9 462.1L259.3 449.8L259.9 450.3L251.3 463.1Z" fill="#f89800"/>
</g>
<polygon points="314.0,420.0 327.0,452.0 342.0,462.0 345.0,480.0 365.0,482.0 378.0,486.0 381.0,467.0 372.0,462.0 370.0,430.0" fill="#f80000" />
<polygon points="292.0,478.0 294.0,479.0 281.0,516.0 279.0,515.0" fill="#0000f8" />
</g>
</g>
<g clip-path="url(#disc)"><g clip-path="url(#ocean)">
<path d="M352.6 50.7L353.0 55.4L352.2 64.0L351.8 64.0L351.2 55.4L351.6 50.7ZM352.9 67.0L353.2 71.7L352.5 80.3L352.2 80.3L351.7 71.7L352.0 67.0ZM352.6 83.3L353.0 88.0L352.2 96.6L351.9 96.6L351.2 88.0L351.7 83.3ZM351.9 99.6L352.2 104.3L351.5 112.9L351.2 112.9L350.6 104.3L351.0 99.6ZM351.7 115.9L352.0 120.6L351.4 129.2L351.1 129.2L350.6 120.6L350.9 115.9ZM351.5 132.2L351.6 136.9L351.2 145.5L351.1 145.5L350.8 136.9L351.0 132.2ZM352.0 148.5L352.1 153.2L351.8 161.8L351.6 161.8L351.4 153.2L351.6 148.5ZM351.8 164.8L352.0 169.5L351.5 178.1L351.3 178.1L351.0 169.5L351.2 164.8ZM357.1 50.8L357.4 55.5L356.4 64.1L356.0 64.1L355.5 55.4L356.0 50.8ZM357.6 67.1L357.9 71.8L356.8 80.4L356.4 80.4L355.8 71.7L356.4 67.1ZM356.6 83.4L357.0 88.1L355.9 96.7L355.5 96.7L354.9 88.0L355.5 83.4ZM356.2 99.7L356.4 104.3L355.6 113.0L355.3 113.0L355.0 104.3L355.4 99.7ZM356.2 116.0L356.5 120.7L355.6 129.3L355.3 129.3L354.9 120.6L355.3 116.0ZM355.1 132.3L355.3 136.9L354.6 145.6L354.3 145.6L354.0 136.9L354.4 132.3ZM355.3 148.6L355.4 153.2L354.7 161.9L354.5 161.9L354.3 153.2L354.6 148.6ZM362.7 51.0L363.1 55.7L361.6 64.3L361.0 64.2L360.3 55.5L361.1 50.9ZM361.3 67.2L361.7 71.9L360.3 80.5L359.8 80.5L359.2 71.8L359.9 67.2ZM361.4 83.6L361.8 88.2L360.4 96.8L359.9 96.8L359.2 88.1L360.0 83.5ZM360.6 99.8L360.7 104.5L359.7 113.1L359.4 113.1L359.3 104.4L359.8 99.8ZM359.4 116.1L359.6 120.8L358.6 129.4L358.2 129.4L358.0 120.7L358.5 116.1ZM358.2 132.4L358.3 137.0L357.5 145.7L357.2 145.6L357.2 137.0L357.6 132.3ZM357.5 148.7L357.5 153.3L356.8 161.9L356.7 161.9L356.8 153.3L357.1 148.6ZM356.8 164.9L356.8 169.6L356.2 178.2L356.0 178.2L356.2 169.6L356.5 164.9ZM367.0 51.2L367.3 55.9L365.8 64.5L365.3 64.4L364.8 55.8L365.7 51.1ZM366.3 67.5L366.5 72.2L365.2 80.8L364.8 80.8L364.6 72.1L365.3 67.5ZM364.6 83.7L364.7 88.4L363.5 97.0L363.1 97.0L362.9 88.3L363.6 83.7ZM364.1 100.0L364.2 104.7L362.9 113.3L362.6 113.3L362.4 104.6L363.1 100.0ZM363.7 116.3L363.7 121.0L362.5 129.6L362.2 129.6L362.1 120.9L362.8 116.3ZM362.1 132.6L362.1 137.2L361.1 145.8L360.8 145.8L360.8 137.2L361.4 132.5ZM360.7 148.8L360.7 153.5L359.7 162.1L359.4 162.1L359.4 153.4L360.0 148.8ZM360.3 165.1L360.2 169.8L359.3 178.4L359.1 178.4L359.3 169.7L359.8 165.1ZM372.2 51.6L372.2 56.3L370.8 64.8L370.4 64.8L370.4 56.1L371.1 51.5ZM370.4 67.8L370.5 72.5L369.0 81.0L368.6 81.0L368.5 72.3L369.3 67.7ZM369.1 84.1L369.1 88.7L367.9 97.3L367.6 97.3L367.7 88.6L368.4 84.0ZM368.7 100.4L368.8 105.1L367.2 113.6L366.8 113.6L366.6 104.9L367.4 100.3ZM366.7 116.6L366.7 121.2L365.4 129.8L365.2 129.8L365.3 121.1L366.0 116.5ZM364.9 132.8L364.7 137.4L363.7 146.0L363.6 146.0L363.9 137.4L364.4 132.7ZM363.9 149.1L363.8 153.7L362.7 162.3L362.4 162.3L362.6 153.6L363.3 149.0ZM362.4 165.3L362.3 169.9L361.2 178.5L361.0 178.5L361.3 169.9L361.9 165.2ZM377.6 52.1L377.9 56.8L375.7 65.3L375.1 65.2L374.6 56.5L375.8 51.9ZM375.9 68.3L376.0 73.0L374.1 81.5L373.6 81.4L373.4 72.7L374.4 68.2ZM374.1 84.5L374.2 89.2L372.4 97.7L372.0 97.7L371.9 89.0L372.9 84.4ZM371.7 100.6L371.6 105.3L370.1 113.9L369.8 113.8L370.0 105.2L370.8 100.6ZM370.1 116.9L369.8 121.5L368.7 130.1L368.5 130.1L368.9 121.4L369.6 116.8ZM368.2 133.1L368.0 137.7L366.8 146.3L366.6 146.3L367.0 137.6L367.7 133.0ZM367.4 149.4L367.2 154.0L365.9 162.6L365.6 162.6L366.0 153.9L366.7 149.3ZM366.0 165.6L365.7 170.3L364.5 178.8L364.3 178.8L364.7 170.2L365.4 165.5ZM382.0 52.6L382.0 57.3L380.1 65.7L379.6 65.7L379.6 57.0L380.7 52.4ZM379.4 68.7L379.5 73.4L377.5 81.9L377.0 81.8L376.9 73.1L378.0 68.5ZM377.7 84.9L377.7 89.6L375.8 98.1L375.4 98.0L375.4 89.3L376.5 84.8ZM376.4 101.2L376.2 105.8L374.6 114.3L374.3 114.3L374.7 105.6L375.6 101.1ZM374.0 117.3L373.9 122.0L372.2 130.5L371.8 130.4L372.1 121.7L373.0 117.2ZM372.2 133.5L371.9 138.1L370.6 146.7L370.4 146.7L371.0 138.0L371.8 133.4ZM369.9 149.6L369.7 154.3L368.2 162.8L368.0 162.8L368.5 154.2L369.3 149.6ZM368.0 165.8L367.7 170.5L366.4 179.0L366.2 179.0L366.8 170.4L367.5 165.8ZM386.1 53.1L386.1 57.8L383.9 66.2L383.4 66.1L383.5 57.4L384.6 52.9ZM383.9 69.2L383.7 73.9L381.8 82.4L381.4 82.3L381.7 73.6L382.7 69.1ZM381.7 85.4L381.7 90.1L379.6 98.5L379.1 98.5L379.2 89.8L380.3 85.2ZM379.6 101.6L379.4 106.2L377.6 114.7L377.3 114.7L377.8 106.0L378.7 101.4ZM377.8 117.8L377.6 122.4L375.8 130.9L375.4 130.9L375.8 122.2L376.8 117.6ZM375.4 133.9L375.2 138.5L373.4 147.0L373.1 147.0L373.7 138.4L374.6 133.8ZM391.4 53.8L391.3 58.5L388.9 66.9L388.3 66.8L388.4 58.1L389.8 53.6ZM389.2 70.0L389.0 74.7L386.8 83.1L386.4 83.0L386.9 74.4L388.0 69.8ZM386.3 86.0L386.1 90.7L384.0 99.2L383.6 99.1L384.1 90.4L385.3 85.9ZM383.8 102.1L383.5 106.8L381.5 115.3L381.1 115.2L381.6 106.5L382.7 102.0ZM381.2 118.2L380.8 122.9L379.0 131.4L378.7 131.3L379.4 122.7L380.4 118.1ZM378.8 134.4L378.5 139.0L376.6 147.5L376.3 147.4L377.0 138.8L378.0 134.2ZM376.7 150.5L376.3 155.2L374.5 163.7L374.2 163.6L375.0 155.0L376.0 150.4ZM373.9 166.6L373.5 171.2L371.8 179.7L371.6 179.7L372.5 171.1L373.4 166.5ZM395.7 54.5L395.7 59.3L392.9 67.6L392.3 67.5L392.4 58.7L393.9 54.2ZM393.0 70.6L392.7 75.3L390.4 83.7L390.0 83.6L390.5 74.9L391.8 70.4ZM391.1 86.8L390.8 91.5L388.4 99.9L388.0 99.8L388.5 91.1L389.8 86.6ZM387.2 102.7L386.7 107.3L384.7 115.8L384.4 115.7L385.2 107.1L386.3 102.5ZM384.8 118.8L384.3 123.5L382.4 131.9L382.1 131.9L383.1 123.3L384.1 118.7ZM381.7 134.8L381.2 139.5L379.4 147.9L379.2 147.9L380.2 139.3L381.2 134.7ZM378.9 150.9L378.3 155.5L376.5 164.0L376.4 163.9L377.4 155.4L378.3 150.8ZM376.1 167.0L375.5 171.6L373.9 180.1L373.7 180.0L374.9 171.5L375.8 166.9ZM400.3 55.4L400.2 60.1L397.3 68.3L396.7 68.2L397.0 59.5L398.5 55.0ZM397.7 71.5L397.4 76.1L394.8 84.5L394.3 84.4L394.9 75.7L396.3 71.2ZM393.8 87.3L393.2 91.9L391.2 100.4L390.9 100.3L392.0 91.7L393.1 87.2ZM391.6 103.5L391.1 108.1L388.9 116.5L388.6 116.5L389.6 107.8L390.8 103.3ZM388.1 119.4L387.6 124.1L385.3 132.4L385.0 132.4L385.8 123.7L387.1 119.2ZM385.6 135.5L385.0 140.2L382.9 148.5L382.6 148.5L383.6 139.9L384.8 135.4ZM382.6 151.5L381.9 156.1L380.0 164.6L379.9 164.6L381.2 156.0L382.2 151.5ZM379.2 167.5L378.5 172.1L376.7 180.6L376.6 180.5L377.9 172.0L378.9 167.4ZM404.8 56.2L404.2 60.9L401.9 69.2L401.6 69.2L402.7 60.6L403.9 56.1ZM401.4 72.2L400.8 76.8L398.5 85.2L398.2 85.1L399.4 76.5L400.6 72.0ZM398.9 88.3L398.4 93.0L395.9 101.3L395.5 101.2L396.5 92.6L397.8 88.1ZM394.9 104.1L394.4 108.8L392.0 117.1L391.7 117.0L392.8 108.4L394.0 104.0ZM392.3 120.2L391.6 124.8L389.5 133.2L389.3 133.2L390.6 124.6L391.8 120.1ZM389.0 136.2L388.3 140.8L386.1 149.2L385.9 149.1L387.2 140.6L388.4 136.1ZM385.6 152.1L384.9 156.7L382.8 165.1L382.6 165.1L384.0 156.6L385.2 152.0ZM382.3 168.1L381.6 172.7L379.4 181.1L379.2 181.0L380.6 172.5L381.7 168.0ZM379.0 184.1L378.2 188.7L376.2 197.1L376.1 197.0L377.6 188.5L378.7 184.0ZM409.5 57.2L408.9 61.9L406.3 70.2L405.9 70.1L407.0 61.5L408.4 57.0ZM406.0 73.2L405.5 77.8L402.8 86.1L402.4 86.0L403.4 77.4L404.9 72.9ZM402.3 89.0L401.7 93.7L399.1 102.0L398.7 101.9L399.9 93.3L401.3 88.8ZM399.0 105.0L398.5 109.7L395.8 117.9L395.3 117.8L396.3 109.2L397.8 104.7ZM396.0 121.0L395.3 125.7L392.9 134.0L392.6 133.9L393.9 125.3L395.3 120.9ZM391.8 136.8L391.1 141.4L388.7 149.7L388.4 149.7L389.6 141.1L390.9 136.6ZM388.1 152.7L387.3 157.3L385.2 165.6L385.0 165.6L386.7 157.1L387.8 152.6ZM414.3 58.4L413.7 63.0L410.9 71.2L410.5 71.1L411.6 62.5L413.2 58.1ZM411.2 74.4L410.4 79.0L407.8 87.2L407.5 87.2L408.9 78.6L410.3 74.2ZM407.1 90.2L406.5 94.8L403.7 103.0L403.3 102.9L404.5 94.3L406.0 89.9ZM402.5 105.8L401.9 110.5L399.1 118.7L398.7 118.6L399.9 110.0L401.4 105.6ZM399.5 121.9L398.8 126.5L396.1 134.7L395.8 134.7L397.3 126.1L398.7 121.7ZM395.5 137.7L394.7 142.3L392.1 150.5L391.9 150.5L393.3 141.9L394.7 137.5ZM391.4 153.4L390.5 158.0L388.1 166.3L387.9 166.3L389.6 157.8L390.9 153.3ZM387.8 169.3L386.9 173.9L384.5 182.2L384.3 182.2L386.0 173.7L387.3 169.2ZM383.9 185.2L383.0 189.7L380.7 198.1L380.6 198.0L382.3 189.6L383.6 185.1ZM419.8 59.7L419.2 64.4L415.9 72.5L415.3 72.3L416.4 63.7L418.2 59.3ZM415.1 75.4L414.4 80.0L411.4 88.1L410.9 88.0L412.2 79.4L413.9 75.0ZM410.9 91.1L410.0 95.7L407.4 103.9L407.1 103.9L408.8 95.4L410.2 90.9ZM406.9 106.9L406.1 111.5L403.4 119.7L403.1 119.7L404.8 111.2L406.2 106.7ZM402.1 122.5L401.2 127.1L398.6 135.3L398.4 135.3L400.1 126.8L401.5 122.3ZM398.6 138.4L397.6 143.0L395.1 151.3L394.9 151.2L396.8 142.8L398.1 138.3ZM394.7 154.3L393.8 158.8L391.2 167.1L391.0 167.1L392.9 158.6L394.2 154.2ZM390.2 169.9L389.2 174.5L386.7 182.8L386.6 182.7L388.4 174.3L389.7 169.8ZM423.8 60.8L423.1 65.5L419.9 73.5L419.4 73.4L420.8 64.8L422.6 60.5ZM419.2 76.5L418.3 81.1L415.4 89.2L415.1 89.1L416.8 80.6L418.4 76.2ZM415.3 92.3L414.4 96.9L411.5 105.1L411.2 105.0L413.0 96.5L414.5 92.1ZM411.2 108.1L410.4 112.7L407.3 120.8L406.8 120.7L408.3 112.1L410.1 107.8ZM405.6 123.4L404.7 128.0L401.8 136.2L401.6 136.1L403.4 127.7L404.9 123.2ZM402.1 139.4L401.2 144.0L398.3 152.1L398.0 152.0L399.7 143.6L401.3 139.2ZM397.0 154.9L396.0 159.4L393.4 167.7L393.2 167.6L395.2 159.2L396.6 154.8ZM427.9 62.0L427.0 66.6L423.7 74.7L423.3 74.5L424.9 66.0L426.7 61.7ZM423.6 77.7L422.9 82.4L419.4 90.4L418.9 90.2L420.3 81.6L422.2 77.3ZM418.5 93.2L417.7 97.8L414.4 105.9L413.9 105.8L415.5 97.2L417.3 92.9ZM414.6 109.1L413.5 113.6L410.6 121.8L410.3 121.7L412.4 113.3L413.9 108.9ZM410.1 124.8L409.1 129.3L406.0 137.4L405.7 137.3L407.6 128.9L409.3 124.5ZM405.3 140.3L404.1 144.8L401.3 153.0L401.1 153.0L403.2 144.6L404.7 140.2ZM400.2 155.8L399.2 160.4L396.2 168.5L396.0 168.4L397.9 160.0L399.5 155.6ZM395.4 171.4L394.3 175.9L391.5 184.1L391.4 184.1L393.6 175.7L395.1 171.3ZM433.6 63.8L432.8 68.4L429.2 76.3L428.7 76.2L430.3 67.6L432.3 63.3ZM428.1 79.1L427.0 83.7L423.8 91.7L423.6 91.6L425.6 83.2L427.3 78.9ZM423.3 94.7L422.3 99.3L419.0 107.3L418.6 107.2L420.5 98.7L422.3 94.4ZM418.4 110.3L417.4 114.8L414.1 122.8L413.7 122.7L415.6 114.3L417.4 109.9ZM412.7 125.6L411.6 130.1L408.6 138.2L408.4 138.1L410.7 129.8L412.3 125.4ZM408.5 141.3L407.2 145.8L404.3 153.9L404.1 153.9L406.4 145.5L408.0 141.2ZM403.0 156.7L401.8 161.2L398.9 169.3L398.7 169.3L401.0 160.9L402.6 156.5ZM398.6 172.4L397.3 176.8L394.4 185.0L394.3 185.0L396.7 176.7L398.2 172.3ZM393.1 187.7L391.9 192.2L389.0 200.4L388.9 200.4L391.3 192.0L392.8 187.6ZM437.1 64.9L436.0 69.5L432.6 77.4L432.3 77.3L434.4 68.9L436.2 64.6ZM431.8 80.4L430.8 84.9L427.3 92.9L427.0 92.8L429.0 84.3L430.9 80.0ZM427.3 96.0L426.3 100.6L422.6 108.5L422.2 108.3L424.0 99.8L426.0 95.6ZM422.0 111.5L420.9 116.0L417.6 124.0L417.3 123.9L419.4 115.5L421.2 111.2ZM416.5 126.8L415.3 131.3L412.0 139.3L411.8 139.2L414.0 130.8L415.7 126.5ZM400.9 173.1L399.6 177.6L396.5 185.7L396.4 185.6L398.8 177.3L400.5 173.0ZM442.1 66.7L441.2 71.3L437.1 79.0L436.5 78.8L438.2 70.2L440.4 66.1ZM437.1 82.2L436.1 86.8L432.2 94.5L431.6 94.4L433.5 85.8L435.6 81.7ZM431.5 97.5L430.2 102.0L426.8 109.9L426.5 109.8L428.8 101.5L430.7 97.2ZM425.0 112.5L423.7 116.9L420.3 124.9L420.1 124.9L422.5 116.5L424.3 112.2ZM420.1 128.0L418.8 132.5L415.4 140.5L415.1 140.4L417.4 132.0L419.2 127.7ZM415.0 143.5L413.7 148.0L410.3 156.0L410.0 155.9L412.4 147.5L414.3 143.3ZM409.2 158.8L407.9 163.2L404.6 171.2L404.4 171.2L407.0 162.9L408.7 158.6ZM446.2 68.2L445.1 72.7L441.2 80.5L440.7 80.3L442.9 71.9L445.0 67.7ZM441.4 83.8L440.3 88.3L436.3 96.1L435.8 95.9L438.0 87.5L440.1 83.3ZM435.4 98.9L434.2 103.4L430.4 111.3L430.1 111.1L432.4 102.8L434.4 98.6ZM428.8 113.9L427.5 118.3L424.0 126.2L423.7 126.2L426.2 117.9L428.1 113.6ZM423.9 129.4L422.6 133.9L419.0 141.8L418.7 141.7L421.1 133.4L423.1 129.1ZM417.4 144.4L415.9 148.8L412.6 156.8L412.4 156.7L415.2 148.5L417.0 144.2ZM412.0 159.8L410.6 164.2L407.2 172.2L407.0 172.1L409.7 163.9L411.6 159.6ZM450.9 70.0L449.9 74.6L445.5 82.1L444.9 81.9L446.8 73.4L449.2 69.3ZM444.8 85.1L443.5 89.6L439.7 97.4L439.3 97.2L441.9 88.9L443.9 84.7ZM438.5 100.1L437.2 104.6L433.4 112.4L433.1 112.3L435.5 104.0L437.6 99.8ZM433.2 115.5L431.9 120.1L427.9 127.8L427.5 127.6L429.9 119.2L432.0 115.1ZM426.4 130.4L425.0 134.8L421.4 142.7L421.1 142.6L423.8 134.4L425.8 130.1ZM420.6 145.6L419.2 150.1L415.5 157.9L415.2 157.8L417.8 149.5L419.8 145.3ZM414.3 160.7L412.7 165.0L409.3 173.0L409.2 173.0L412.1 164.8L414.0 160.5ZM409.1 176.1L407.6 180.5L404.0 188.4L403.8 188.4L406.7 180.2L408.6 175.9ZM403.1 191.3L401.5 195.7L398.1 203.6L397.9 203.5L400.8 195.4L402.7 191.1ZM455.8 72.0L454.4 76.4L450.4 84.1L450.1 84.0L452.8 75.7L454.9 71.6ZM449.6 87.0L448.1 91.5L444.2 99.2L443.8 99.0L446.5 90.8L448.7 86.7ZM442.7 101.8L441.5 106.3L437.3 114.0L436.8 113.8L439.3 105.4L441.5 101.3ZM436.8 117.0L435.4 121.5L431.5 129.2L431.2 129.1L433.9 120.9L436.0 116.7ZM429.7 131.7L428.2 136.2L424.4 143.9L424.2 143.8L427.0 135.6L429.0 131.4ZM423.9 146.9L422.4 151.4L418.5 159.1L418.2 159.0L421.0 150.8L423.1 146.6ZM411.3 177.0L409.7 181.4L406.0 189.3L405.9 189.2L408.8 181.1L410.8 176.8ZM459.3 73.4L458.0 78.0L453.5 85.5L453.0 85.2L455.3 76.8L457.8 72.8ZM453.8 88.8L452.4 93.3L448.1 100.9L447.6 100.7L450.2 92.4L452.6 88.3ZM447.0 103.7L445.4 108.0L441.5 115.8L441.2 115.7L444.3 107.5L446.4 103.4ZM439.8 118.3L438.3 122.7L434.3 130.4L434.0 130.3L436.8 122.1L439.0 118.0ZM434.1 133.6L432.6 138.0L428.5 145.7L428.1 145.5L430.9 137.3L433.2 133.2ZM426.8 148.2L425.2 152.6L421.4 160.3L421.2 160.3L424.3 152.2L426.3 148.0ZM420.5 163.2L418.9 167.6L415.0 175.3L414.8 175.2L417.7 167.1L419.9 163.0ZM414.1 178.2L412.5 182.6L408.7 190.4L408.5 190.3L411.6 182.2L413.7 178.0ZM407.5 193.1L405.8 197.5L402.1 205.3L402.0 205.2L405.2 197.2L407.2 193.0ZM464.9 76.0L463.6 80.5L458.8 87.8L458.2 87.5L460.6 79.1L463.2 75.2ZM456.9 90.2L455.3 94.6L451.1 102.2L450.9 102.1L453.9 94.0L456.1 89.9ZM450.0 105.0L448.5 109.4L444.2 117.0L443.9 116.8L446.8 108.7L449.1 104.6ZM443.9 120.1L442.3 124.5L438.1 132.1L437.8 132.0L440.8 123.9L443.1 119.8ZM436.6 134.7L434.9 139.1L430.9 146.7L430.6 146.6L433.7 138.5L435.9 134.4ZM430.2 149.7L428.5 154.1L424.5 161.7L424.2 161.6L427.3 153.5L429.5 149.4ZM416.6 179.4L414.8 183.7L411.0 191.4L410.9 191.4L414.3 183.4L416.3 179.2ZM468.9 77.9L467.3 82.3L462.9 89.7L462.6 89.6L465.7 81.5L468.1 77.5ZM461.5 92.4L460.1 96.9L455.3 104.2L454.9 104.0L457.6 95.7L460.2 91.7ZM454.8 107.3L453.3 111.7L448.7 119.1L448.3 118.9L451.1 110.6L453.6 106.7ZM446.7 121.4L445.0 125.8L440.8 133.4L440.5 133.2L443.7 125.2L446.0 121.1ZM439.7 136.2L437.9 140.5L433.8 148.1L433.6 148.0L436.9 140.0L439.2 135.9ZM433.5 151.3L431.8 155.6L427.6 163.2L427.3 163.1L430.6 155.1L432.9 151.0ZM426.0 165.7L424.2 170.1L420.1 177.7L419.8 177.6L423.1 169.5L425.4 165.5ZM418.8 180.4L417.0 184.7L412.9 192.3L412.8 192.2L416.2 184.3L418.3 180.2ZM411.6 195.0L409.8 199.3L405.8 207.0L405.7 206.9L409.2 199.0L411.3 194.9ZM472.4 79.6L470.7 83.9L466.2 91.3L465.8 91.2L469.0 83.1L471.4 79.1ZM465.8 94.5L464.2 98.9L459.5 106.2L459.1 106.0L462.1 97.9L464.7 94.0ZM457.5 108.6L455.7 112.9L451.3 120.4L451.1 120.3L454.5 112.3L456.8 108.2ZM450.7 123.4L448.9 127.7L444.5 135.2L444.2 135.0L447.4 127.0L449.8 123.0ZM443.5 138.0L441.6 142.3L437.4 149.8L437.2 149.7L440.7 141.8L443.0 137.8ZM435.8 152.4L434.0 156.7L429.7 164.2L429.5 164.1L432.8 156.1L435.2 152.1ZM428.6 167.0L426.6 171.3L422.5 178.8L422.4 178.8L425.9 170.9L428.2 166.8ZM421.3 181.6L419.4 185.9L415.3 193.5L415.1 193.4L418.7 185.5L420.9 181.4ZM414.1 196.2L412.2 200.5L408.1 208.1L407.9 208.0L411.5 200.1L413.7 196.0ZM476.4 81.6L474.8 86.0L469.9 93.2L469.5 93.0L472.5 84.9L475.2 81.0ZM469.8 96.5L468.2 101.0L463.2 108.1L462.7 107.8L465.6 99.6L468.4 95.8ZM461.4 110.6L459.7 114.9L455.0 122.2L454.6 122.0L457.8 114.0L460.4 110.0ZM454.1 125.2L452.3 129.5L447.7 136.8L447.4 136.7L450.8 128.7L453.3 124.7ZM446.3 139.4L444.4 143.7L440.0 151.2L439.8 151.0L443.3 143.2L445.7 139.1ZM439.2 154.1L437.3 158.4L432.8 165.8L432.5 165.7L436.0 157.7L438.4 153.7ZM431.5 168.5L429.6 172.8L425.2 180.2L425.0 180.1L428.6 172.2L431.0 168.2ZM480.8 84.0L479.1 88.3L474.2 95.5L473.8 95.3L477.1 87.2L479.7 83.4ZM473.4 98.5L471.6 102.8L466.7 110.0L466.4 109.8L469.8 101.8L472.4 98.0ZM465.0 112.5L463.1 116.8L458.5 124.1L458.2 123.9L461.8 116.0L464.3 112.1ZM458.1 127.3L456.3 131.6L451.4 138.8L451.0 138.6L454.4 130.6L457.0 126.7ZM449.4 141.1L447.5 145.4L442.9 152.7L442.6 152.6L446.2 144.7L448.7 140.7ZM442.2 155.7L440.1 159.9L435.7 167.3L435.6 167.3L439.4 159.5L441.8 155.5ZM433.9 169.8L431.9 174.0L427.4 181.4L427.3 181.3L431.0 173.5L433.4 169.5ZM426.5 184.3L424.4 188.4L420.0 195.9L419.9 195.9L423.8 188.1L426.1 184.1ZM484.9 86.3L483.1 90.6L478.0 97.6L477.6 97.4L481.0 89.4L483.8 85.6ZM476.8 100.4L475.0 104.7L470.0 111.8L469.6 111.6L473.1 103.7L475.8 99.8ZM469.1 114.7L467.0 118.9L462.3 126.2L462.1 126.1L465.9 118.3L468.5 114.4ZM461.2 129.0L459.1 133.2L454.4 140.5L454.2 140.4L458.1 132.6L460.6 128.7ZM453.3 143.3L451.4 147.5L446.5 154.7L446.2 154.6L449.9 146.7L452.5 142.8ZM444.9 157.2L442.8 161.4L438.2 168.8L438.1 168.7L442.1 161.0L444.5 157.0ZM429.1 185.8L427.0 190.0L422.4 197.3L422.2 197.2L426.2 189.4L428.7 185.5ZM489.8 89.1L487.8 93.3L482.7 100.4L482.4 100.2L486.2 92.4L488.9 88.6ZM481.4 103.0L479.6 107.4L474.2 114.2L473.7 113.9L477.1 105.9L480.0 102.2ZM472.5 116.7L470.4 120.9L465.5 128.0L465.2 127.9L469.1 120.1L471.7 116.3ZM464.5 130.9L462.4 135.1L457.5 142.3L457.3 142.1L461.2 134.4L463.8 130.5ZM455.7 144.7L453.5 148.8L448.8 156.0L448.6 155.9L452.6 148.3L455.2 144.4ZM447.7 158.9L445.6 163.0L440.7 170.2L440.4 170.0L444.3 162.3L446.9 158.4ZM439.8 173.1L437.6 177.2L432.9 184.5L432.8 184.4L437.0 176.9L439.5 172.9ZM431.0 186.8L428.8 190.9L424.1 198.2L424.0 198.2L428.1 190.6L430.6 186.6ZM422.9 201.0L420.6 205.1L416.0 212.4L415.9 212.3L420.0 204.7L422.5 200.8ZM493.4 91.3L491.4 95.5L486.2 102.4L485.9 102.2L489.8 94.5L492.5 90.7ZM485.2 105.3L483.0 109.5L478.0 116.5L477.7 116.4L481.8 108.7L484.5 104.9ZM476.7 119.3L474.6 123.4L469.5 130.5L469.3 130.3L473.3 122.6L476.0 118.8ZM468.2 133.1L466.2 137.4L460.9 144.3L460.5 144.0L464.3 136.2L467.1 132.5ZM459.4 146.9L457.3 151.1L452.3 158.1L452.0 157.9L456.0 150.2L458.7 146.5ZM441.9 174.4L439.7 178.5L434.8 185.7L434.7 185.6L438.8 178.0L441.4 174.1ZM497.2 93.7L495.1 97.8L489.8 104.7L489.5 104.5L493.5 96.8L496.4 93.1ZM488.5 107.4L486.4 111.6L481.0 118.4L480.6 118.1L484.4 110.3L487.3 106.7ZM480.5 121.7L478.5 125.9L473.0 132.7L472.6 132.4L476.5 124.6L479.5 121.0ZM471.1 135.0L468.8 139.1L463.7 146.1L463.5 145.9L467.7 138.3L470.4 134.6ZM462.0 148.5L459.8 152.6L454.6 159.6L454.4 159.4L458.5 151.8L461.3 148.1ZM453.6 162.5L451.3 166.6L446.3 173.6L446.1 173.5L450.4 166.0L453.1 162.2ZM444.8 176.2L442.6 180.3L437.5 187.3L437.3 187.2L441.5 179.6L444.2 175.8ZM501.4 96.4L499.2 100.5L493.7 107.2L493.4 107.0L497.4 99.3L500.4 95.7ZM492.3 109.9L490.2 114.1L484.5 120.7L484.1 120.4L487.9 112.5L491.0 109.0ZM483.9 123.9L481.8 128.1L476.3 134.8L475.9 134.5L479.9 126.8L482.9 123.2ZM474.1 137.0L472.0 141.1L466.5 147.9L466.2 147.6L470.2 140.0L473.2 136.3ZM465.7 150.9L463.4 155.0L458.1 161.9L457.9 161.7L462.2 154.2L465.0 150.5ZM456.6 164.4L454.2 168.5L449.1 175.4L448.9 175.3L453.3 167.8L456.1 164.1ZM438.2 191.4L435.8 195.4L430.8 202.4L430.6 202.3L435.1 194.9L437.8 191.1ZM506.1 99.6L504.1 103.8L498.1 110.2L497.6 109.8L501.4 101.9L504.6 98.5ZM496.6 112.8L494.3 116.9L488.7 123.5L488.4 123.3L492.7 115.8L495.7 112.2ZM487.4 126.3L485.1 130.3L479.6 137.0L479.3 136.8L483.7 129.3L486.6 125.7ZM477.6 139.3L475.4 143.4L469.8 150.1L469.4 149.8L473.6 142.2L476.6 138.6ZM468.6 152.9L466.3 157.0L460.9 163.7L460.6 163.5L465.0 156.0L467.9 152.4ZM459.4 166.4L457.1 170.4L451.6 177.2L451.4 177.0L455.8 169.5L458.7 165.9ZM450.2 179.8L447.8 183.8L442.5 190.6L442.3 190.5L446.9 183.2L449.7 179.5ZM440.6 193.0L438.1 196.9L433.0 203.9L432.8 203.8L437.4 196.4L440.2 192.7ZM509.9 102.2L507.7 106.4L501.7 112.7L501.3 112.4L505.3 104.7L508.6 101.3ZM499.6 114.9L497.3 119.0L491.5 125.5L491.2 125.2L495.4 117.6L498.5 114.2ZM490.5 128.4L488.2 132.5L482.4 139.0L482.0 138.7L486.3 131.1L489.4 127.7ZM481.4 142.0L479.1 146.0L473.3 152.6L473.0 152.3L477.3 144.8L480.4 141.3ZM471.1 154.7L468.8 158.7L463.2 165.3L462.9 165.1L467.3 157.7L470.3 154.1ZM462.4 168.4L459.9 172.4L454.4 179.1L454.1 178.9L458.7 171.5L461.7 167.9ZM443.2 194.8L440.6 198.7L435.3 205.5L435.2 205.4L439.9 198.2L442.8 194.5ZM513.9 105.2L511.6 109.3L505.7 115.6L505.3 115.3L509.6 107.8L512.8 104.4ZM504.1 118.2L501.7 122.2L495.8 128.6L495.4 128.3L499.8 120.8L503.0 117.4ZM493.4 130.6L491.0 134.5L485.3 141.1L485.0 140.9L489.5 133.5L492.6 130.0ZM484.2 144.0L481.7 148.0L476.0 154.5L475.6 154.2L480.2 146.8L483.3 143.3ZM474.3 157.0L471.8 160.9L466.2 167.5L465.9 167.3L470.5 160.0L473.6 156.5ZM464.6 170.1L462.0 174.0L456.6 180.7L456.4 180.6L461.3 173.4L464.2 169.8ZM454.6 183.0L452.1 186.9L446.6 193.6L446.4 193.4L451.2 186.2L454.1 182.6ZM516.8 107.4L514.5 111.5L508.4 117.7L507.9 117.3L512.3 109.8L515.6 106.5ZM506.9 120.3L504.5 124.4L498.4 130.6L498.0 130.3L502.4 122.8L505.7 119.4ZM497.5 133.7L495.1 137.7L489.1 144.0L488.7 143.7L493.3 136.3L496.5 132.9ZM487.4 146.4L484.8 150.3L479.0 156.8L478.8 156.6L483.6 149.4L486.7 145.9ZM477.2 159.2L474.6 163.0L468.9 169.6L468.7 169.4L473.6 162.2L476.6 158.7ZM467.6 172.3L464.9 176.1L459.3 182.8L459.2 182.7L464.2 175.6L467.2 172.0ZM457.0 184.7L454.3 188.5L448.8 195.2L448.7 195.1L453.7 188.1L456.6 184.5ZM447.6 198.1L444.9 201.9L439.4 208.6L439.3 208.5L444.3 201.5L447.3 197.9ZM521.3 110.9L518.9 114.9L512.7 121.0L512.3 120.7L516.8 113.3L520.2 110.0ZM510.4 123.0L507.9 127.0L501.8 133.2L501.5 133.0L506.2 125.6L509.4 122.3ZM500.9 136.3L498.2 140.2L492.4 146.5L492.1 146.3L497.0 139.2L500.2 135.8ZM490.0 148.5L487.4 152.4L481.6 158.8L481.3 158.6L486.3 151.5L489.4 148.0ZM480.4 161.7L477.8 165.6L471.9 171.9L471.6 171.7L476.4 164.5L479.7 161.1ZM469.6 173.9L466.9 177.7L461.2 184.3L461.1 184.2L466.2 177.2L469.2 173.6ZM459.6 186.8L456.9 190.6L451.2 197.1L451.1 197.0L456.2 190.0L459.2 186.5ZM524.7 113.7L522.3 117.7L515.8 123.6L515.4 123.2L519.9 115.8L523.4 112.6ZM514.5 126.4L511.9 130.3L505.7 136.4L505.4 136.1L510.2 128.9L513.5 125.6ZM503.9 138.8L501.3 142.7L495.2 148.9L494.9 148.6L499.9 141.5L503.2 138.2ZM493.1 151.0L490.5 154.9L484.4 161.1L484.2 160.9L489.1 153.7L492.4 150.4ZM483.0 163.8L480.3 167.6L474.3 173.8L474.0 173.6L479.0 166.5L482.3 163.2ZM472.9 176.6L470.1 180.3L464.2 186.7L464.1 186.6L469.2 179.6L472.4 176.2ZM462.3 189.0L459.5 192.7L453.7 199.1L453.6 199.0L458.8 192.1L461.9 188.7ZM451.9 201.6L449.1 205.3L443.3 211.7L443.2 211.6L448.4 204.7L451.5 201.2ZM441.5 214.1L438.6 217.8L432.9 224.2L432.8 224.2L438.1 217.3L441.2 213.8ZM528.4 116.8L525.8 120.7L519.5 126.7L519.1 126.4L524.0 119.2L527.5 116.0ZM518.0 129.4L515.5 133.3L509.0 139.1L508.5 138.8L513.3 131.4L516.8 128.3ZM506.8 141.2L504.1 145.1L497.9 151.1L497.6 150.8L502.5 143.7L505.9 140.4ZM496.6 154.0L493.9 157.7L487.8 163.9L487.5 163.7L492.7 156.7L496.0 153.4ZM485.9 166.2L483.2 170.0L477.0 176.1L476.7 175.9L481.7 168.8L485.1 165.5ZM474.8 178.2L472.0 181.9L466.0 188.2L465.8 188.0L471.1 181.1L474.3 177.8ZM464.8 191.1L462.0 194.8L455.9 201.0L455.8 200.9L461.0 194.0L464.2 190.6ZM453.6 203.0L450.8 206.7L444.9 213.0L444.8 212.9L450.1 206.1L453.3 202.7ZM531.7 119.6L529.0 123.5L522.6 129.3L522.2 129.0L527.2 121.9L530.7 118.8ZM520.6 131.6L517.8 135.4L511.5 141.3L511.2 141.1L516.3 134.0L519.7 130.8ZM510.2 144.2L507.5 148.0L501.1 153.9L500.8 153.6L505.8 146.5L509.3 143.4ZM499.2 156.2L496.3 159.9L490.2 166.0L490.0 165.8L495.3 159.0L498.6 155.7ZM488.3 168.4L485.5 172.1L479.3 178.2L479.1 177.9L484.3 171.0L487.7 167.8ZM478.0 181.0L475.1 184.6L469.0 190.8L468.8 190.6L474.2 183.9L477.5 180.6ZM467.0 193.0L464.1 196.6L458.1 202.9L457.9 202.8L463.4 196.1L466.6 192.7ZM455.8 204.9L452.9 208.5L446.9 214.7L446.7 214.6L452.2 207.9L455.4 204.5ZM535.8 123.4L533.0 127.1L526.5 132.9L526.2 132.6L531.4 125.7L534.9 122.6ZM524.2 134.9L521.4 138.6L515.0 144.5L514.7 144.2L520.0 137.4L523.5 134.2ZM513.2 146.9L510.3 150.5L504.0 156.5L503.8 156.3L509.2 149.5L512.6 146.3ZM501.9 158.6L499.1 162.4L492.7 168.2L492.4 168.0L497.7 161.1L501.1 157.9ZM491.0 170.8L488.0 174.4L481.9 180.4L481.7 180.3L487.2 173.6L490.5 170.3ZM480.0 182.8L477.1 186.4L470.9 192.5L470.7 192.3L476.2 185.6L479.5 182.4ZM469.2 195.0L466.2 198.6L460.1 204.7L459.9 204.6L465.5 197.9L468.8 194.6ZM447.2 219.1L444.2 222.6L438.1 228.8L438.0 228.7L443.6 222.1L446.9 218.8ZM538.7 126.1L535.8 129.8L529.3 135.5L529.0 135.3L534.4 128.5L537.9 125.4ZM528.2 138.6L525.4 142.4L518.7 147.9L518.3 147.5L523.5 140.5L527.1 137.6ZM516.2 149.7L513.4 153.5L506.8 159.1L506.4 158.7L511.6 151.8L515.2 148.8ZM505.3 161.8L502.4 165.5L495.9 171.2L495.6 171.0L501.0 164.1L504.5 161.1ZM494.1 173.7L491.2 177.3L484.7 183.1L484.4 182.8L489.9 176.1L493.4 173.0ZM482.9 185.5L479.9 189.1L473.5 194.9L473.3 194.7L478.8 188.1L482.3 184.9ZM471.5 197.1L468.4 200.7L462.2 206.7L462.0 206.5L467.7 200.0L471.1 196.8ZM460.1 208.8L457.0 212.3L450.8 218.3L450.7 218.2L456.3 211.7L459.7 208.4ZM542.7 130.0L539.9 133.8L533.0 139.1L532.5 138.6L537.7 131.6L541.5 128.8ZM530.8 141.1L527.8 144.8L521.2 150.4L520.9 150.1L526.4 143.3L530.0 140.3ZM519.7 153.1L516.7 156.6L510.2 162.4L510.0 162.2L515.7 155.7L519.2 152.6ZM508.1 164.6L505.1 168.2L498.6 173.8L498.3 173.6L503.8 166.9L507.4 163.9ZM496.1 175.6L493.1 179.2L486.7 185.0L486.4 184.8L492.0 178.2L495.5 175.1ZM485.2 187.8L482.2 191.3L475.7 197.1L475.5 196.8L481.1 190.2L484.6 187.2ZM473.9 199.5L470.7 202.9L464.4 208.8L464.3 208.7L470.1 202.3L473.5 199.1ZM545.7 133.0L542.7 136.6L536.0 142.1L535.7 141.8L541.2 135.1L544.9 132.2ZM534.2 144.6L531.4 148.3L524.4 153.6L524.0 153.1L529.3 146.2L533.1 143.4ZM522.6 156.0L519.7 159.7L512.8 165.1L512.5 164.7L518.0 158.0L521.7 155.1ZM510.5 167.0L507.5 170.5L500.9 176.2L500.7 176.0L506.5 169.5L510.0 166.4ZM498.9 178.4L495.8 181.9L489.3 187.6L489.0 187.4L494.8 180.9L498.3 177.8ZM475.9 201.5L472.8 205.0L466.3 210.7L466.1 210.5L471.9 204.1L475.4 201.0ZM452.3 224.0L449.1 227.4L442.7 233.2L442.6 233.1L448.5 226.8L452.0 223.7ZM549.2 136.7L546.1 140.1L539.3 145.6L539.1 145.3L544.9 138.9L548.5 136.0ZM536.8 147.2L533.6 150.7L527.0 156.2L526.8 156.0L532.6 149.6L536.2 146.6ZM525.7 159.2L522.7 162.8L515.7 168.0L515.4 167.7L521.0 161.0L524.7 158.2ZM513.5 170.1L510.4 173.6L503.7 179.1L503.5 178.9L509.4 172.5L513.0 169.5ZM501.9 181.5L498.8 185.0L492.0 190.4L491.8 190.2L497.6 183.7L501.2 180.8ZM489.7 192.4L486.5 195.7L479.9 201.4L479.8 201.3L485.8 195.0L489.4 192.0ZM477.8 203.5L474.5 206.8L468.0 212.5L467.9 212.4L474.0 206.2L477.5 203.1ZM552.4 140.1L549.2 143.5L542.3 148.8L542.1 148.5L547.9 142.1L551.6 139.3ZM539.8 150.5L536.6 153.9L529.8 159.3L529.6 159.1L535.6 152.8L539.3 149.9ZM527.8 161.5L524.7 165.0L517.8 170.3L517.5 169.9L523.2 163.4L527.0 160.6ZM515.9 172.7L512.8 176.2L505.9 181.4L505.6 181.1L511.3 174.6L515.1 171.8ZM503.8 183.6L500.7 187.0L493.8 192.4L493.6 192.1L499.5 185.7L503.2 182.9ZM491.7 194.5L488.4 197.7L481.8 203.4L481.7 203.3L487.8 197.2L491.4 194.2ZM479.8 205.6L476.5 209.0L469.9 214.5L469.7 214.3L475.8 208.2L479.4 205.2ZM467.7 216.5L464.4 219.8L457.8 225.4L457.6 225.3L463.8 219.2L467.3 216.1ZM555.4 143.5L552.4 147.0L545.1 151.9L544.7 151.5L550.4 144.9L554.4 142.3ZM543.1 154.1L540.0 157.7L532.8 162.6L532.4 162.2L538.2 155.6L542.0 153.0ZM530.9 164.9L527.6 168.2L520.8 173.6L520.6 173.4L526.7 167.3L530.4 164.4ZM518.7 175.7L515.4 179.1L508.5 184.3L508.3 184.0L514.3 177.8L518.0 175.0ZM506.5 186.6L503.2 189.9L496.3 195.2L496.1 194.9L502.2 188.7L505.9 185.9ZM494.0 197.1L490.8 200.4L483.9 205.7L483.7 205.5L489.8 199.4L493.5 196.5ZM482.1 208.2L478.8 211.5L472.0 216.9L471.9 216.7L478.1 210.7L481.7 207.8ZM469.7 218.8L466.4 222.0L459.6 227.5L459.5 227.4L465.8 221.4L469.4 218.4ZM558.6 147.1L555.5 150.6L548.2 155.4L547.8 155.0L553.6 148.5L557.6 146.0ZM546.4 158.0L543.3 161.5L536.0 166.2L535.6 165.8L541.4 159.3L545.4 156.8ZM533.9 168.5L530.6 171.8L523.6 176.9L523.4 176.6L529.6 170.6L533.4 167.8ZM520.9 178.3L517.5 181.5L510.6 186.8L510.5 186.6L516.7 180.5L520.4 177.7ZM508.8 189.3L505.5 192.6L498.6 197.7L498.4 197.5L504.5 191.4L508.3 188.6ZM484.2 210.7L480.9 213.9L474.0 219.1L473.8 219.0L480.1 213.0L483.8 210.2ZM471.6 221.0L468.1 224.1L461.4 229.5L461.3 229.4L467.7 223.6L471.4 220.7ZM459.3 231.7L455.9 234.8L449.1 240.2L449.0 240.1L455.4 234.3L459.1 231.4ZM561.6 150.7L558.4 154.2L551.0 158.8L550.6 158.3L556.5 151.9L560.5 149.4ZM549.3 161.5L546.0 164.8L538.8 169.6L538.5 169.3L544.7 163.1L548.6 160.6ZM536.2 171.2L532.9 174.6L525.7 179.3L525.4 179.0L531.4 172.7L535.4 170.2ZM524.0 182.0L520.6 185.2L513.6 190.2L513.4 190.0L519.7 184.1L523.5 181.4ZM511.3 192.3L508.0 195.5L500.9 200.5L500.6 200.2L506.8 194.1L510.7 191.5ZM498.8 202.7L495.4 205.9L488.4 211.0L488.3 210.8L494.7 205.0L498.4 202.2ZM486.0 212.8L482.5 215.9L475.6 221.1L475.5 221.0L482.0 215.3L485.7 212.5ZM473.2 222.9L469.7 226.0L462.9 231.3L462.8 231.1L469.2 225.3L472.9 222.5ZM564.4 154.3L561.3 157.8L553.7 162.1L553.3 161.6L559.2 155.1L563.3 152.8ZM552.2 165.1L548.9 168.3L541.5 173.0L541.3 172.7L547.5 166.6L551.5 164.1ZM539.1 174.8L535.7 177.9L528.5 182.8L528.3 182.6L534.7 176.7L538.5 174.1ZM526.5 185.1L523.1 188.3L515.9 193.1L515.7 192.9L522.1 187.0L525.9 184.4ZM513.8 195.4L510.4 198.6L503.2 203.4L503.0 203.1L509.4 197.3L513.3 194.7ZM501.0 205.4L497.5 208.5L490.4 213.4L490.2 213.2L496.6 207.3L500.4 204.7ZM487.6 214.8L484.1 217.8L477.1 223.0L477.0 222.9L483.6 217.2L487.3 214.4ZM567.5 158.2L564.1 161.3L556.7 166.0L556.5 165.7L562.9 159.9L566.9 157.4ZM555.2 168.9L551.9 172.3L544.3 176.6L543.9 176.1L550.1 169.9L554.2 167.6ZM541.4 177.7L537.8 180.7L530.7 185.6L530.5 185.4L537.1 179.7L540.9 177.1ZM528.5 187.7L525.0 190.8L517.8 195.6L517.6 195.4L524.1 189.6L528.0 187.0ZM516.1 198.3L512.6 201.4L505.3 206.1L505.1 205.8L511.5 200.0L515.5 197.5ZM502.9 207.9L499.3 210.8L492.2 215.8L492.2 215.7L498.8 210.2L502.6 207.5ZM489.9 217.7L486.4 220.8L479.3 225.7L479.1 225.5L485.7 219.9L489.6 217.3ZM570.6 162.3L567.1 165.4L559.7 169.9L559.5 169.6L566.0 163.9L570.0 161.5ZM557.1 171.5L553.7 174.8L546.1 179.0L545.8 178.5L552.0 172.4L556.1 170.2ZM544.1 181.3L540.7 184.5L533.2 188.9L532.8 188.5L539.2 182.5L543.3 180.2ZM531.4 191.5L527.9 194.7L520.5 199.1L520.2 198.8L526.7 193.0L530.7 190.6ZM517.7 200.4L514.1 203.4L506.9 208.1L506.7 207.9L513.3 202.3L517.2 199.8ZM504.6 210.1L501.1 213.2L493.8 217.8L493.6 217.6L500.1 212.0L504.1 209.5ZM491.7 220.1L488.1 223.0L480.9 227.9L480.8 227.7L487.5 222.3L491.4 219.7ZM478.7 229.9L475.0 232.8L467.9 237.7L467.8 237.6L474.6 232.2L478.4 229.6ZM573.3 166.0L569.9 169.3L562.1 173.3L561.7 172.8L568.0 166.7L572.2 164.6ZM559.8 175.2L556.4 178.5L548.7 182.5L548.3 182.0L554.7 176.0L558.9 173.9ZM546.4 184.5L543.0 187.7L535.4 191.9L535.1 191.5L541.5 185.7L545.6 183.4ZM533.4 194.4L529.8 197.3L522.5 201.9L522.3 201.7L529.0 196.2L533.0 193.8ZM520.0 203.6L516.4 206.5L509.1 211.2L508.9 211.0L515.7 205.6L519.6 203.1ZM506.6 212.8L502.9 215.7L495.6 220.4L495.5 220.3L502.4 215.0L506.3 212.4ZM493.8 223.0L490.1 225.9L482.8 230.5L482.6 230.3L489.4 224.8L493.3 222.4ZM479.9 231.6L476.2 234.5L469.0 239.3L469.0 239.2L475.8 233.9L479.7 231.3ZM576.0 169.9L572.4 172.9L564.8 177.2L564.6 176.9L571.3 171.4L575.4 169.1ZM562.4 178.9L558.9 182.0L551.2 186.1L550.9 185.6L557.4 179.9L561.6 177.7ZM549.2 188.4L545.5 191.3L538.0 195.7L537.9 195.5L544.7 190.1L548.7 187.8ZM535.2 197.0L531.6 199.8L524.2 204.4L524.1 204.2L530.9 198.9L534.9 196.4ZM522.2 206.8L518.5 209.7L511.1 214.1L510.9 213.9L517.7 208.5L521.8 206.1ZM508.5 215.6L504.8 218.4L497.5 223.0L497.3 222.9L504.3 217.7L508.2 215.2ZM495.3 225.2L491.6 228.1L484.3 232.6L484.1 232.4L491.0 227.1L495.0 224.7ZM578.5 173.6L574.8 176.6L567.2 180.7L567.0 180.4L573.8 175.0L577.9 172.8ZM565.0 182.8L561.4 185.8L553.7 189.8L553.4 189.4L560.1 183.8L564.3 181.7ZM551.1 191.3L547.5 194.2L539.8 198.4L539.6 198.1L546.4 192.6L550.5 190.4ZM537.8 200.7L534.1 203.6L526.5 207.8L526.3 207.5L533.2 202.2L537.3 199.9ZM524.0 209.4L520.3 212.3L512.7 216.5L512.6 216.2L519.4 210.9L523.5 208.6ZM510.8 219.0L507.1 221.8L499.5 226.1L499.3 225.8L506.2 220.6L510.3 218.3ZM497.0 227.7L493.2 230.4L485.8 234.9L485.7 234.8L492.7 229.7L496.7 227.3ZM483.1 236.3L479.4 239.0L471.9 243.5L471.8 243.3L478.8 238.2L482.8 235.8ZM580.9 177.4L577.3 180.4L569.5 184.2L569.2 183.8L575.9 178.2L580.2 176.2ZM567.6 186.8L563.9 189.7L556.1 193.6L555.9 193.2L562.7 187.8L566.9 185.7ZM553.8 195.4L550.0 198.2L542.4 202.4L542.3 202.1L549.3 197.0L553.4 194.8ZM540.2 204.5L536.5 207.3L528.8 211.3L528.6 211.0L535.5 205.7L539.6 203.6ZM525.8 212.2L522.0 214.9L514.5 219.3L514.4 219.1L521.5 214.1L525.5 211.8ZM512.4 221.4L508.6 224.2L501.0 228.4L500.9 228.2L507.9 223.2L512.0 220.9ZM583.9 182.2L580.3 185.2L572.2 188.6L571.9 188.0L578.6 182.4L582.9 180.6ZM570.2 191.0L566.5 194.0L558.6 197.5L558.3 197.0L565.0 191.5L569.4 189.6ZM556.2 199.4L552.5 202.3L544.6 205.9L544.4 205.5L551.3 200.2L555.5 198.2ZM541.7 206.9L538.0 209.7L530.2 213.7L530.1 213.4L537.1 208.3L541.2 206.2ZM528.4 216.4L524.6 219.1L516.9 223.0L516.7 222.7L523.7 217.6L527.9 215.5ZM514.0 224.1L510.2 226.7L502.6 230.9L502.4 230.7L509.6 225.8L513.7 223.6ZM472.2 249.5L468.4 252.1L460.8 256.4L460.8 256.2L468.0 251.5L472.0 249.2ZM586.3 186.2L582.5 188.9L574.6 192.6L574.4 192.3L581.5 187.2L585.7 185.2ZM572.2 194.3L568.4 197.1L560.5 200.8L560.3 200.4L567.3 195.3L571.6 193.3ZM558.3 203.0L554.5 205.6L546.7 209.4L546.6 209.2L553.7 204.2L557.9 202.2ZM543.9 210.6L540.1 213.3L532.3 217.1L532.1 216.8L539.2 211.7L543.4 209.7ZM529.7 218.6L525.9 221.3L518.2 225.2L518.0 224.9L525.1 220.0L529.3 217.9ZM516.1 227.6L512.2 230.2L504.5 234.1L504.4 233.9L511.6 229.1L515.8 227.0ZM588.4 189.9L584.6 192.6L576.7 196.2L576.5 195.8L583.6 190.9L587.9 189.0ZM574.2 197.9L570.4 200.6L562.5 204.1L562.3 203.7L569.3 198.7L573.6 196.8ZM560.1 206.1L556.3 208.8L548.4 212.3L548.2 212.0L555.3 207.0L559.6 205.1ZM545.7 213.6L541.8 216.2L534.0 220.0L533.8 219.7L541.0 214.9L545.3 212.9ZM531.9 222.4L528.0 224.9L520.2 228.8L520.1 228.6L527.4 223.9L531.6 221.9ZM517.6 230.1L513.6 232.7L505.9 236.5L505.8 236.3L513.1 231.6L517.2 229.6ZM503.5 238.4L499.5 240.9L491.9 244.8L491.8 244.7L499.1 240.2L503.3 238.0ZM591.2 194.9L587.3 197.6L579.3 200.8L579.0 200.4L586.1 195.4L590.5 193.6ZM576.8 202.5L573.0 205.3L564.9 208.5L564.6 208.0L571.7 203.0L576.1 201.3ZM562.4 210.2L558.5 212.7L550.5 216.2L550.3 215.9L557.6 211.1L561.9 209.2ZM548.1 217.9L544.2 220.5L536.2 224.0L536.0 223.6L543.3 218.9L547.6 217.0ZM533.7 225.6L529.7 228.0L521.9 231.8L521.8 231.6L529.2 227.1L533.4 225.1ZM519.3 233.2L515.3 235.6L507.5 239.5L507.4 239.3L514.9 235.0L519.1 232.9ZM504.8 240.8L500.8 243.2L493.1 247.0L493.0 246.8L500.4 242.4L504.6 240.4ZM490.5 248.5L486.5 250.9L478.7 254.8L478.7 254.6L486.1 250.3L490.3 248.2ZM476.2 256.5L472.2 258.8L464.5 262.7L464.4 262.6L471.9 258.3L476.1 256.2ZM592.9 198.2L589.0 200.8L581.0 204.0L580.8 203.6L588.0 198.9L592.4 197.2ZM578.5 205.7L574.6 208.4L566.5 211.5L566.3 211.1L573.5 206.3L577.9 204.6ZM564.2 213.5L560.2 216.0L552.3 219.5L552.1 219.2L559.6 214.8L563.8 212.9ZM549.9 221.4L545.9 223.9L538.0 227.3L537.8 227.1L545.3 222.6L549.5 220.7ZM535.4 228.9L531.5 231.4L523.5 234.8L523.3 234.5L530.7 229.9L535.0 228.1ZM520.9 236.3L516.9 238.7L509.0 242.3L508.9 242.1L516.4 237.9L520.7 235.9ZM491.8 251.0L487.7 253.3L479.9 257.0L479.8 256.9L487.4 252.6L491.6 250.6ZM595.3 202.8L591.4 205.4L583.2 208.4L583.0 207.9L590.2 203.1L594.7 201.6ZM580.8 210.4L577.0 213.0L568.7 215.9L568.5 215.4L575.7 210.5L580.1 209.0ZM566.4 217.9L562.4 220.3L554.3 223.5L554.1 223.1L561.5 218.6L565.9 216.9ZM551.5 224.5L547.5 227.0L539.4 230.2L539.3 229.9L546.7 225.4L551.0 223.6ZM537.1 232.2L533.0 234.5L525.1 237.9L525.0 237.7L532.5 233.4L536.8 231.6ZM522.3 239.1L518.3 241.4L510.3 244.8L510.1 244.5L517.6 240.2L521.9 238.4ZM507.6 246.1L503.6 248.5L495.6 251.9L495.5 251.6L503.0 247.3L507.3 245.5ZM478.5 260.8L474.4 263.0L466.5 266.6L466.5 266.5L474.1 262.4L478.3 260.5ZM597.4 207.2L593.4 209.5L585.3 212.7L585.1 212.4L592.7 208.1L597.0 206.4ZM582.7 214.2L578.7 216.7L570.5 219.5L570.2 219.0L577.6 214.3L582.0 212.9ZM567.9 221.0L563.9 223.4L555.7 226.4L555.5 226.0L562.9 221.5L567.3 219.9ZM552.9 227.5L548.8 229.8L540.8 233.0L540.7 232.8L548.2 228.5L552.6 226.8ZM538.6 235.4L534.6 237.7L526.5 240.9L526.4 240.6L533.9 236.4L538.3 234.7ZM523.7 242.1L519.6 244.3L511.7 247.7L511.6 247.5L519.2 243.5L523.5 241.6ZM509.0 249.0L504.8 251.1L496.9 254.6L496.8 254.4L504.5 250.4L508.8 248.6ZM494.3 256.0L490.2 258.2L482.2 261.6L482.1 261.4L489.7 257.3L494.0 255.5ZM599.5 211.8L595.5 214.2L587.3 216.9L587.1 216.5L594.6 212.2L599.0 210.7ZM584.3 217.8L580.3 220.1L572.1 223.0L572.0 222.7L579.5 218.4L583.9 216.9ZM569.6 224.6L565.6 227.1L557.3 229.8L557.1 229.3L564.5 224.8L569.0 223.4ZM554.9 231.7L550.8 233.9L542.6 237.0L542.5 236.7L550.2 232.6L554.5 231.0ZM539.9 238.3L535.8 240.5L527.7 243.6L527.6 243.3L535.3 239.3L539.6 237.6ZM525.0 244.7L520.9 247.0L512.8 250.0L512.6 249.8L520.3 245.6L524.6 244.0ZM510.4 252.1L506.3 254.2L498.3 257.5L498.2 257.3L505.9 253.4L510.2 251.7ZM601.4 216.1L597.4 218.5L589.0 220.9L588.8 220.3L596.2 215.8L600.8 214.5ZM586.2 221.9L582.1 224.1L573.9 227.0L573.7 226.7L581.4 222.6L585.8 221.1ZM571.3 228.5L567.2 230.7L559.0 233.6L558.9 233.3L566.6 229.3L571.0 227.8ZM556.6 235.7L552.5 237.8L544.3 240.7L544.2 240.5L551.9 236.5L556.3 235.0ZM541.4 241.6L537.3 243.7L529.2 246.8L529.1 246.6L536.9 242.8L541.2 241.1ZM526.5 248.1L522.3 250.2L514.2 253.3L514.1 253.1L521.9 249.2L526.2 247.6ZM511.3 254.1L507.1 256.1L499.1 259.3L499.0 259.2L506.8 255.5L511.2 253.8ZM603.2 220.3L599.1 222.6L590.7 224.9L590.5 224.4L598.0 220.0L602.6 218.8ZM588.1 226.6L584.1 229.0L575.7 231.2L575.4 230.6L583.0 226.2L587.5 225.1ZM573.0 232.5L568.9 234.8L560.5 237.2L560.3 236.7L567.9 232.5L572.4 231.2ZM557.9 238.8L553.7 240.8L545.5 243.7L545.4 243.4L553.2 239.6L557.6 238.1ZM542.8 244.9L538.6 246.9L530.5 249.8L530.4 249.6L538.2 245.9L542.6 244.4ZM527.8 251.3L523.6 253.3L515.5 256.3L515.4 256.1L523.3 252.4L527.6 250.9ZM512.7 257.4L508.5 259.4L500.4 262.4L500.3 262.2L508.2 258.6L512.5 257.0ZM604.8 224.3L600.7 226.6L592.3 228.8L592.1 228.3L599.7 224.1L604.3 223.0ZM589.7 230.5L585.6 232.7L577.2 235.0L577.1 234.6L584.8 230.6L589.3 229.4ZM574.5 236.2L570.2 238.2L562.0 240.9L561.9 240.6L569.8 237.0L574.2 235.5ZM559.3 242.2L555.1 244.2L546.8 246.9L546.8 246.6L554.6 243.0L559.0 241.5ZM544.1 248.1L539.9 250.1L531.6 252.7L531.5 252.4L539.3 248.6L543.8 247.3ZM528.9 254.1L524.7 256.0L516.5 258.8L516.4 258.6L524.3 255.0L528.7 253.5ZM514.0 260.5L509.7 262.5L501.5 265.2L501.4 265.0L509.3 261.4L513.7 259.9ZM483.5 272.2L479.3 274.1L471.1 277.0L471.1 276.9L479.0 273.5L483.4 271.9ZM606.4 228.4L602.2 230.4L593.8 232.8L593.7 232.5L601.6 228.9L606.1 227.6ZM591.2 234.3L587.0 236.3L578.6 238.7L578.5 238.4L586.4 234.7L590.9 233.5ZM576.0 240.2L571.8 242.3L563.4 244.6L563.3 244.3L571.2 240.6L575.7 239.3ZM560.6 245.6L556.4 247.5L548.1 250.1L548.0 249.8L555.9 246.2L560.3 244.9ZM545.5 251.9L541.3 253.7L533.0 256.3L532.9 256.1L540.9 252.7L545.3 251.3ZM530.4 257.8L526.1 259.7L517.8 262.2L517.7 262.0L525.7 258.5L530.1 257.2ZM514.9 262.9L510.6 264.7L502.4 267.4L502.3 267.2L510.3 263.9L514.7 262.4ZM608.5 234.2L604.3 236.4L595.8 238.2L595.6 237.6L603.3 233.5L607.9 232.6ZM592.8 238.7L588.5 240.6L580.2 242.9L580.0 242.6L588.0 239.1L592.5 237.9ZM577.7 245.0L573.5 246.9L565.1 249.1L564.9 248.8L572.9 245.2L577.4 244.0ZM562.3 250.4L558.1 252.3L549.7 254.5L549.6 254.1L557.5 250.6L562.0 249.4ZM546.9 255.6L542.6 257.5L534.2 259.7L534.1 259.4L542.0 255.8L546.6 254.7ZM516.0 266.2L511.7 267.9L503.5 270.4L503.4 270.3L511.4 267.0L515.9 265.7ZM485.1 276.5L480.8 278.2L472.6 280.8L472.5 280.7L480.6 277.6L485.0 276.1ZM610.0 238.6L605.8 240.7L597.2 242.4L597.0 241.8L604.9 238.0L609.5 237.2ZM594.2 242.9L590.0 244.8L581.5 246.9L581.4 246.5L589.4 243.1L593.9 242.0ZM578.9 248.5L574.6 250.3L566.2 252.4L566.1 252.0L574.0 248.6L578.6 247.5ZM563.6 254.0L559.3 255.8L550.9 258.0L550.8 257.7L558.8 254.4L563.3 253.2ZM547.9 258.6L543.6 260.4L535.2 262.5L535.1 262.2L543.1 258.7L547.6 257.6ZM532.4 263.5L528.0 265.2L519.7 267.5L519.6 267.3L527.6 264.0L532.1 262.8ZM517.1 269.2L512.7 270.9L504.4 273.2L504.3 273.0L512.4 269.9L516.9 268.7ZM501.4 273.8L497.1 275.5L488.8 277.9L488.7 277.7L496.8 274.6L501.3 273.3ZM486.0 279.2L481.7 280.8L473.4 283.3L473.3 283.1L481.5 280.1L485.9 278.8ZM611.2 242.5L606.9 244.3L598.4 246.2L598.3 245.8L606.3 242.5L610.9 241.5ZM595.5 246.9L591.2 248.6L582.8 250.7L582.7 250.4L590.8 247.3L595.3 246.1ZM580.4 253.2L576.1 255.0L567.6 256.7L567.5 256.3L575.4 252.9L580.0 252.0ZM564.5 256.9L560.2 258.7L551.7 260.6L551.6 260.2L559.6 256.9L564.2 255.9ZM549.2 262.7L544.9 264.4L536.5 266.4L536.4 266.1L544.4 263.0L549.0 261.9ZM533.4 266.6L529.0 268.3L520.6 270.4L520.6 270.2L528.7 267.2L533.2 266.0ZM502.5 277.0L498.1 278.6L489.7 280.9L489.7 280.7L497.8 277.8L502.3 276.6ZM612.9 248.0L608.6 249.9L600.0 251.2L599.8 250.7L607.8 247.1L612.4 246.4ZM597.0 251.6L592.6 253.3L584.1 255.1L584.0 254.8L592.1 251.7L596.7 250.7ZM581.5 256.8L577.2 258.5L568.7 260.3L568.6 260.0L576.7 256.9L581.3 256.0ZM565.7 260.9L561.4 262.6L552.9 264.4L552.8 264.1L560.9 261.0L565.5 260.0ZM550.1 265.6L545.8 267.3L537.3 269.1L537.2 268.7L545.3 265.6L549.8 264.7ZM534.4 269.8L530.0 271.3L521.6 273.5L521.5 273.4L529.7 270.6L534.2 269.4ZM518.9 274.9L514.5 276.5L506.1 278.5L506.0 278.3L514.2 275.4L518.7 274.3ZM503.3 279.7L498.9 281.3L490.5 283.3L490.4 283.1L498.6 280.3L503.1 279.2ZM614.2 252.6L609.9 254.6L601.2 255.6L601.1 255.0L609.1 251.5L613.7 251.0ZM598.4 256.6L594.0 258.3L585.5 259.8L585.4 259.4L593.5 256.3L598.1 255.5ZM582.5 260.3L578.2 262.1L569.6 263.6L569.5 263.1L577.6 260.0L582.2 259.2ZM566.8 264.8L562.4 266.4L554.0 268.1L553.9 267.8L562.0 264.9L566.6 264.0ZM551.1 268.9L546.7 270.5L538.2 272.3L538.1 272.0L546.3 269.2L550.9 268.2ZM535.5 273.7L531.1 275.2L522.6 277.0L522.5 276.7L530.7 273.8L535.2 272.9ZM519.6 277.4L515.1 278.8L506.7 280.8L506.7 280.7L514.9 278.0L519.5 277.0ZM615.4 257.2L611.0 258.9L602.4 260.1L602.3 259.6L610.4 256.5L615.1 255.9ZM599.5 260.7L595.1 262.3L586.5 263.7L586.4 263.4L594.6 260.5L599.2 259.7ZM583.6 264.6L579.3 266.3L570.7 267.5L570.5 267.0L578.7 263.9L583.3 263.3ZM567.7 268.0L563.3 269.4L554.8 271.1L554.7 270.9L562.9 268.2L567.5 267.3ZM552.1 272.8L547.7 274.3L539.2 275.9L539.1 275.6L547.3 273.0L551.9 272.1ZM536.2 276.3L531.7 277.8L523.2 279.4L523.2 279.2L531.4 276.5L536.0 275.6ZM520.5 280.7L516.0 282.1L507.6 283.9L507.5 283.7L515.8 281.2L520.4 280.3ZM488.8 288.6L484.4 289.9L475.9 291.8L475.9 291.6L484.2 289.2L488.7 288.2ZM616.4 261.2L611.9 262.6L603.4 264.0L603.3 263.6L611.5 261.0L616.2 260.2ZM600.5 264.7L596.0 266.1L587.5 267.5L587.4 267.2L595.7 264.6L600.3 263.9ZM584.7 268.8L580.3 270.4L571.6 271.5L571.5 271.0L579.7 268.0L584.4 267.5ZM568.8 272.6L564.4 274.1L555.8 275.3L555.7 275.0L564.0 272.2L568.6 271.5ZM553.0 276.3L548.5 277.6L540.0 279.3L539.9 279.1L548.3 276.7L552.8 275.8ZM537.2 280.5L532.7 281.8L524.2 283.3L524.1 283.0L532.4 280.5L537.0 279.7ZM521.3 283.9L516.8 285.2L508.3 286.9L508.2 286.7L516.6 284.4L521.2 283.5ZM505.4 287.8L500.9 289.1L492.5 290.7L492.4 290.6L500.8 288.3L505.3 287.4ZM617.6 266.7L613.2 268.4L604.5 269.0L604.4 268.4L612.6 265.3L617.3 265.0ZM601.5 269.0L597.0 270.6L588.4 271.5L588.3 271.0L596.5 268.1L601.1 267.6ZM585.6 272.7L581.1 274.2L572.5 275.2L572.4 274.8L580.6 272.0L585.3 271.5ZM569.7 276.6L565.3 278.0L556.7 279.1L556.6 278.7L564.8 276.0L569.5 275.5ZM553.6 279.3L549.2 280.6L540.6 282.0L540.6 281.7L548.9 279.3L553.5 278.6ZM537.9 283.5L533.4 284.9L524.8 286.1L524.8 285.8L533.1 283.4L537.7 282.7ZM618.4 270.2L613.9 271.6L605.3 272.6L605.2 272.2L613.5 269.8L618.2 269.3ZM602.6 274.3L598.1 275.7L589.4 276.5L589.3 276.1L597.6 273.5L602.3 273.0ZM586.5 277.3L582.1 278.7L573.4 279.5L573.3 279.1L581.6 276.4L586.3 276.0ZM570.5 280.5L566.0 281.6L557.5 282.9L557.4 282.7L565.8 280.6L570.4 279.9ZM554.4 283.0L549.9 284.2L541.4 285.5L541.3 285.3L549.7 283.2L554.3 282.5ZM538.5 286.6L534.0 287.8L525.4 289.0L525.4 288.7L533.7 286.4L538.4 285.8ZM522.4 289.2L517.9 290.3L509.4 291.7L509.3 291.6L517.7 289.6L522.3 288.8ZM506.6 293.0L502.0 294.1L493.5 295.5L493.5 295.4L501.9 293.4L506.5 292.6ZM490.5 295.9L486.0 297.0L477.5 298.4L477.4 298.3L485.8 296.2L490.4 295.5ZM619.3 275.0L614.8 276.4L606.2 277.1L606.1 276.7L614.4 274.2L619.1 273.8ZM603.2 277.5L598.7 278.9L590.0 279.6L590.0 279.1L598.3 276.6L602.9 276.3ZM587.2 280.7L582.7 281.8L574.1 282.9L574.0 282.7L582.4 280.6L587.1 280.0ZM571.2 284.1L566.8 285.4L558.1 286.1L558.0 285.7L566.3 283.2L571.0 282.9ZM555.1 286.3L550.5 287.4L542.0 288.6L541.9 288.4L550.3 286.3L555.0 285.7ZM539.2 289.9L534.6 290.9L526.0 292.1L526.0 291.9L534.4 290.0L539.1 289.4ZM523.1 292.6L518.5 293.7L510.0 294.9L510.0 294.8L518.4 292.9L523.0 292.2ZM507.1 295.7L502.5 296.8L494.0 297.9L493.9 297.7L502.4 295.8L507.0 295.1ZM491.0 298.2L486.4 299.2L477.9 300.5L477.9 300.4L486.3 298.6L490.9 297.9ZM620.2 280.1L615.6 281.2L607.0 282.0L607.0 281.7L615.4 279.6L620.0 279.2ZM604.1 282.5L599.5 283.6L590.9 284.5L590.9 284.2L599.3 282.3L603.9 281.8ZM588.0 285.1L583.4 286.1L574.8 287.1L574.8 286.8L583.2 284.9L587.8 284.4ZM571.8 287.1L567.2 288.1L558.6 289.2L558.6 289.0L567.1 287.2L571.7 286.6ZM555.8 290.2L551.2 291.3L542.6 292.2L542.6 292.0L551.0 290.0L555.6 289.5ZM539.7 292.9L535.1 293.9L526.6 295.0L526.5 294.9L535.0 293.2L539.6 292.6ZM507.5 297.9L502.9 298.8L494.3 300.0L494.3 299.9L502.8 298.2L507.4 297.6ZM620.9 284.8L616.4 286.0L607.7 286.3L607.6 285.9L616.0 283.7L620.7 283.5ZM604.7 286.7L600.2 287.8L591.5 288.4L591.5 288.0L599.9 286.1L604.6 285.8ZM588.6 289.2L584.1 290.3L575.4 290.9L575.4 290.6L583.8 288.6L588.5 288.3ZM572.4 291.1L567.8 292.0L559.2 292.9L559.2 292.6L567.7 290.9L572.3 290.5ZM556.4 294.3L551.8 295.2L543.2 296.1L543.2 296.0L551.7 294.4L556.3 293.9ZM524.1 298.5L519.5 299.3L510.9 300.3L510.9 300.2L519.4 298.6L524.0 298.1ZM621.6 289.7L617.0 290.6L608.4 291.2L608.3 290.9L616.8 289.3L621.5 289.0ZM605.3 291.1L600.8 292.1L592.1 292.6L592.1 292.2L600.5 290.4L605.2 290.2ZM589.2 293.5L584.6 294.4L576.0 295.0L576.0 294.8L584.5 293.2L589.1 292.9ZM573.0 295.6L568.5 296.4L559.8 297.2L559.8 297.0L568.3 295.5L573.0 295.1ZM556.8 297.0L552.2 297.9L543.6 298.6L543.6 298.5L552.1 297.0L556.7 296.6ZM540.6 299.2L536.0 300.0L527.4 300.8L527.4 300.6L535.9 299.1L540.6 298.7ZM524.5 301.7L519.9 302.5L511.3 303.3L511.3 303.2L519.8 301.8L524.5 301.3ZM622.1 294.1L617.5 295.0L608.9 295.3L608.8 294.9L617.3 293.2L622.0 293.1ZM605.9 295.8L601.3 296.7L592.7 297.1L592.6 296.9L601.2 295.4L605.8 295.1ZM589.7 297.8L585.1 298.5L576.5 299.1L576.5 298.9L585.0 297.5L589.7 297.2ZM573.5 299.7L568.9 300.5L560.3 300.9L560.3 300.6L568.8 299.1L573.4 298.9ZM557.3 301.4L552.7 302.1L544.1 302.8L544.1 302.6L552.6 301.3L557.3 301.0ZM541.1 303.3L536.5 304.1L527.9 304.6L527.9 304.4L536.4 303.0L541.1 302.7ZM524.9 304.6L520.3 305.2L511.6 306.0L511.6 305.8L520.2 304.6L524.8 304.2ZM622.5 298.1L617.9 298.8L609.3 299.2L609.2 298.9L617.8 297.6L622.5 297.4ZM606.4 300.7L601.8 301.6L593.1 301.6L593.1 301.2L601.6 299.6L606.3 299.6ZM590.1 301.2L585.5 301.8L576.8 302.3L576.8 302.2L585.4 301.0L590.0 300.7ZM573.9 303.5L569.3 304.2L560.7 304.6L560.6 304.4L569.2 303.3L573.9 303.0ZM557.7 305.3L553.1 305.9L544.5 306.4L544.4 306.2L553.0 305.0L557.7 304.8ZM541.4 306.4L536.8 307.0L528.2 307.5L528.2 307.4L536.8 306.3L541.4 306.0ZM623.0 303.9L618.4 304.7L609.7 304.6L609.7 304.2L618.3 302.8L622.9 302.9ZM606.7 304.6L602.1 305.4L593.4 305.3L593.4 304.9L602.0 303.4L606.6 303.5ZM590.5 305.6L585.8 306.3L577.2 306.4L577.2 306.1L585.7 304.9L590.4 304.8ZM574.2 306.8L569.6 307.5L560.9 307.7L560.9 307.4L569.5 306.1L574.1 306.1ZM558.0 308.8L553.4 309.3L544.7 309.6L544.7 309.5L553.3 308.5L558.0 308.3ZM541.7 309.9L537.1 310.5L528.5 310.8L528.5 310.6L537.0 309.5L541.7 309.4ZM525.5 310.7L520.8 311.2L512.2 311.7L512.2 311.5L520.8 310.6L525.4 310.4ZM623.3 307.7L618.7 308.5L610.0 308.1L610.0 307.7L618.5 306.3L623.2 306.5ZM607.0 308.8L602.4 309.5L593.7 309.3L593.7 309.0L602.3 307.7L607.0 307.8ZM590.7 309.5L586.1 310.1L577.5 310.2L577.4 310.0L586.0 309.1L590.7 309.0ZM574.5 311.2L569.9 311.7L561.2 311.9L561.2 311.7L569.8 310.9L574.5 310.8ZM558.2 311.9L553.6 312.5L544.9 312.5L544.9 312.3L553.5 311.3L558.2 311.3ZM542.0 313.3L537.3 313.8L528.7 313.9L528.7 313.7L537.3 312.8L541.9 312.7ZM623.6 312.9L618.9 313.4L610.3 313.3L610.2 313.0L618.9 312.2L623.5 312.2ZM607.3 313.5L602.6 314.0L594.0 313.8L594.0 313.5L602.6 312.5L607.2 312.7ZM591.0 314.8L586.4 315.3L577.7 315.2L577.7 314.9L586.3 314.1L591.0 314.2ZM574.7 314.8L570.1 315.3L561.4 315.1L561.4 314.8L570.0 313.8L574.7 313.9ZM558.4 316.1L553.8 316.6L545.1 316.5L545.1 316.3L553.7 315.5L558.4 315.5ZM542.1 316.0L537.5 316.4L528.8 316.5L528.8 316.4L537.4 315.8L542.1 315.7ZM623.7 317.5L619.1 317.9L610.4 317.7L610.4 317.4L619.0 316.7L623.7 316.9ZM607.4 318.7L602.8 319.0L594.1 318.8L594.1 318.7L602.8 318.1L607.4 318.2ZM591.1 318.8L586.5 319.3L577.8 318.8L577.8 318.5L586.4 317.6L591.1 317.9ZM574.8 318.7L570.2 319.1L561.5 318.8L561.5 318.6L570.1 317.8L574.8 318.0ZM558.5 319.1L553.9 319.4L545.2 319.3L545.2 319.2L553.9 318.6L558.5 318.7ZM623.8 322.6L619.1 323.1L610.5 322.4L610.5 322.1L619.1 321.3L623.8 321.6ZM607.5 322.8L602.8 323.2L594.2 322.7L594.2 322.5L602.8 321.9L607.5 322.1ZM591.2 322.9L586.5 323.3L577.9 322.8L577.9 322.5L586.5 321.9L591.2 322.2ZM574.9 322.5L570.2 322.9L561.6 322.5L561.6 322.2L570.2 321.7L574.9 321.9ZM558.6 322.8L553.9 323.1L545.3 322.7L545.3 322.4L553.9 321.9L558.6 322.1ZM542.3 323.0L537.6 323.3L529.0 323.0L529.0 322.8L537.6 322.4L542.3 322.5ZM623.8 326.8L619.1 327.0L610.5 326.4L610.5 326.2L619.1 325.7L623.8 326.0ZM607.5 326.6L602.8 326.8L594.2 326.3L594.2 326.0L602.8 325.5L607.5 325.8ZM591.2 327.3L586.5 327.6L577.9 327.0L577.9 326.7L586.5 326.3L591.2 326.6ZM574.9 326.6L570.2 326.8L561.6 326.4L561.6 326.2L570.2 326.0L574.9 326.2ZM558.6 326.6L553.9 326.8L545.3 326.2L545.3 326.0L553.9 325.5L558.6 325.9ZM542.3 326.6L537.6 326.7L529.0 326.3L529.0 326.2L537.6 325.9L542.3 326.2ZM623.7 332.4L619.0 332.8L610.4 331.7L610.4 331.3L619.1 330.7L623.7 331.3ZM607.4 331.2L602.8 331.4L594.1 330.7L594.1 330.4L602.8 330.0L607.4 330.5ZM591.1 331.6L586.4 331.8L577.8 331.0L577.8 330.7L586.5 330.3L591.1 330.8ZM574.8 330.4L570.2 330.5L561.5 330.0L561.5 329.8L570.2 329.7L574.8 330.0ZM558.5 330.1L553.9 330.2L545.2 329.6L545.2 329.5L553.9 329.4L558.5 329.7ZM542.2 329.9L537.6 330.0L528.9 329.5L528.9 329.3L537.6 329.3L542.2 329.6ZM525.9 329.5L521.3 329.5L512.6 329.0L512.6 328.8L521.3 328.7L525.9 329.0ZM623.5 336.8L618.9 337.0L610.2 336.0L610.3 335.6L618.9 335.4L623.6 335.9ZM607.2 336.6L602.6 336.7L593.9 335.7L594.0 335.4L602.6 335.3L607.3 335.8ZM591.0 335.4L586.3 335.6L577.7 334.6L577.7 334.2L586.4 334.0L591.0 334.5ZM574.7 334.5L570.0 334.6L561.4 333.8L561.4 333.6L570.1 333.5L574.7 333.9ZM558.4 333.9L553.7 334.0L545.1 333.1L545.1 332.9L553.8 332.8L558.4 333.3ZM542.1 333.3L537.4 333.3L528.8 332.6L528.8 332.4L537.5 332.4L542.1 332.8ZM525.8 332.0L521.2 331.9L512.6 331.3L512.6 331.1L521.2 331.2L525.9 331.6ZM623.2 342.5L618.5 342.7L610.0 341.3L610.0 340.9L618.7 340.6L623.3 341.4ZM607.0 341.0L602.3 341.0L593.7 340.0L593.7 339.8L602.4 339.9L607.0 340.4ZM590.7 339.4L586.1 339.4L577.5 338.3L577.5 338.1L586.2 338.1L590.8 338.7ZM574.5 338.1L569.8 338.1L561.2 337.0L561.2 336.7L569.9 336.6L574.5 337.2ZM558.2 337.2L553.6 337.1L544.9 336.3L545.0 336.1L553.6 336.3L558.2 336.8ZM541.9 336.2L537.3 336.1L528.7 335.3L528.7 335.2L537.3 335.4L542.0 335.9ZM525.7 335.5L521.0 335.3L512.4 334.5L512.4 334.4L521.0 334.7L525.7 335.1ZM623.0 345.7L618.3 345.7L609.7 344.5L609.8 344.2L618.4 344.3L623.0 344.9ZM606.7 345.1L602.0 345.1L593.4 343.8L593.5 343.6L602.1 343.7L606.7 344.4ZM590.4 343.8L585.8 343.7L577.2 342.6L577.2 342.3L585.9 342.6L590.5 343.2ZM574.2 342.3L569.5 342.2L561.0 341.0L561.0 340.7L569.6 340.8L574.3 341.5ZM558.0 340.9L553.3 340.8L544.7 339.7L544.7 339.5L553.4 339.7L558.0 340.3ZM541.7 340.1L537.0 339.9L528.4 338.9L528.4 338.7L537.1 339.1L541.7 339.7ZM525.4 338.9L520.8 338.6L512.2 337.7L512.2 337.6L520.8 338.0L525.4 338.5ZM622.4 351.7L617.8 351.5L609.2 350.2L609.3 349.9L617.9 350.2L622.5 351.0ZM606.3 348.9L601.7 348.7L593.1 347.5L593.1 347.3L601.8 347.7L606.4 348.4ZM590.0 348.4L585.3 348.4L576.8 346.9L576.8 346.5L585.5 346.7L590.1 347.5ZM573.8 346.3L569.2 346.1L560.6 344.8L560.6 344.6L569.3 344.9L573.9 345.6ZM557.6 344.6L553.0 344.4L544.4 343.1L544.4 342.8L553.1 343.2L557.7 343.9ZM622.1 355.4L617.4 355.2L608.9 353.6L608.9 353.3L617.6 353.6L622.2 354.5ZM605.8 354.3L601.1 354.1L592.6 352.6L592.6 352.3L601.3 352.7L605.9 353.6ZM589.6 352.3L584.9 352.0L576.4 350.6L576.4 350.4L585.1 351.0L589.7 351.8ZM573.4 350.6L568.7 350.2L560.2 348.9L560.2 348.7L568.8 349.4L573.4 350.1ZM557.2 348.9L552.5 348.7L544.0 347.2L544.0 346.9L552.7 347.4L557.2 348.2ZM541.0 346.9L536.3 346.6L527.8 345.3L527.8 345.1L536.4 345.8L541.0 346.5ZM524.9 344.5L520.2 344.1L511.7 342.9L511.7 342.7L520.3 343.4L524.9 344.1ZM621.4 360.8L616.7 360.4L608.2 358.8L608.3 358.6L616.9 359.3L621.5 360.2ZM605.3 358.3L600.6 358.0L592.1 356.3L592.2 356.0L600.8 356.6L605.4 357.5ZM589.1 356.1L584.5 355.8L576.0 354.1L576.0 353.8L584.7 354.3L589.2 355.3ZM573.0 353.8L568.3 353.6L559.8 351.9L559.9 351.6L568.5 352.2L573.1 353.1ZM556.8 351.7L552.2 351.2L543.6 349.9L543.7 349.7L552.3 350.6L556.9 351.3ZM524.4 347.9L519.8 347.5L511.3 346.0L511.3 345.9L519.9 346.8L524.5 347.5ZM620.7 365.8L616.0 365.4L607.5 363.6L607.6 363.4L616.2 364.2L620.8 365.2ZM604.6 363.0L600.0 362.6L591.5 360.7L591.5 360.4L600.2 361.1L604.7 362.1ZM588.6 360.0L583.9 359.6L575.4 357.9L575.5 357.6L584.1 358.4L588.7 359.3ZM572.4 357.7L567.8 357.2L559.3 355.5L559.3 355.3L568.0 356.1L572.5 357.0ZM556.3 355.6L551.6 355.1L543.1 353.5L543.2 353.3L551.8 354.2L556.3 355.1ZM540.2 352.8L535.6 352.3L527.1 350.8L527.1 350.6L535.7 351.6L540.3 352.4ZM620.0 370.2L615.3 369.7L606.9 367.7L606.9 367.5L615.5 368.4L620.1 369.4ZM603.9 367.6L599.2 367.2L590.8 365.1L590.9 364.7L599.5 365.5L604.0 366.6ZM587.8 364.8L583.2 364.2L574.7 362.4L574.7 362.3L583.3 363.4L587.9 364.3ZM571.8 361.6L567.2 361.2L558.7 359.3L558.8 359.0L567.4 360.0L571.9 361.0ZM555.6 359.6L551.0 359.0L542.5 357.3L542.5 357.2L551.1 358.4L555.7 359.3ZM539.6 356.6L535.0 356.0L526.5 354.2L526.5 354.1L535.1 355.1L539.7 356.1ZM523.6 353.6L519.0 353.0L510.5 351.3L510.5 351.1L519.1 352.3L523.6 353.2ZM619.1 374.8L614.5 374.3L606.1 372.1L606.2 371.8L614.8 372.7L619.3 373.9ZM603.0 372.3L598.4 371.9L590.0 369.5L590.1 369.2L598.7 370.0L603.2 371.3ZM587.0 369.2L582.4 368.6L574.0 366.5L574.1 366.2L582.7 367.2L587.2 368.4ZM571.1 365.5L566.5 364.9L558.1 362.9L558.1 362.6L566.7 363.7L571.3 364.8ZM555.0 363.2L550.4 362.6L541.9 360.6L542.0 360.3L550.6 361.5L555.1 362.6ZM539.1 359.4L534.5 358.8L526.1 356.8L526.1 356.7L534.7 357.9L539.2 358.9ZM523.1 356.5L518.5 355.9L510.0 354.0L510.0 353.8L518.6 355.0L523.2 356.0ZM618.1 380.3L613.4 379.8L605.1 377.3L605.2 376.9L613.8 377.8L618.3 379.2ZM602.3 376.0L597.7 375.5L589.3 373.1L589.4 372.7L598.0 373.7L602.5 375.0ZM586.4 372.5L581.8 371.8L573.4 369.7L573.4 369.5L582.0 370.8L586.5 372.0ZM570.3 369.5L565.7 368.8L557.3 366.7L557.4 366.6L565.9 367.9L570.4 369.0ZM554.3 366.4L549.7 365.8L541.4 363.5L541.4 363.3L550.0 364.5L554.5 365.7ZM538.4 363.3L533.8 362.5L525.4 360.4L525.4 360.3L533.9 361.6L538.5 362.8ZM522.4 360.1L517.8 359.3L509.4 357.3L509.4 357.1L517.9 358.5L522.5 359.6ZM506.4 356.9L501.8 356.1L493.4 354.1L493.4 354.0L501.9 355.5L506.5 356.5ZM617.3 383.9L612.7 383.2L604.3 380.8L604.4 380.5L613.0 381.9L617.4 383.2ZM601.3 380.5L596.7 379.9L588.4 377.4L588.5 377.0L597.1 378.1L601.5 379.5ZM585.4 377.1L580.8 376.4L572.4 374.1L572.5 373.9L581.0 375.3L585.5 376.6ZM569.6 373.0L565.0 372.2L556.7 369.9L556.7 369.8L565.2 371.3L569.7 372.5ZM553.6 370.1L549.0 369.3L540.6 367.1L540.6 366.9L549.2 368.4L553.7 369.6ZM537.6 366.5L533.1 365.7L524.7 363.5L524.7 363.3L533.3 364.8L537.8 366.0ZM616.2 388.6L611.6 388.0L603.4 385.1L603.5 384.7L612.1 385.8L616.5 387.4ZM600.3 385.0L595.7 384.4L587.4 381.6L587.5 381.3L596.1 382.6L600.5 384.1ZM584.5 380.8L579.9 380.0L571.6 377.5L571.7 377.3L580.2 378.9L584.7 380.2ZM568.7 376.9L564.1 376.0L555.8 373.6L555.9 373.4L564.4 374.9L568.9 376.2ZM552.7 373.8L548.1 373.0L539.8 370.5L539.8 370.4L548.3 372.0L552.8 373.3ZM536.9 369.5L532.4 368.7L524.1 366.3L524.1 366.1L532.6 367.7L537.1 369.0ZM505.3 361.9L500.7 361.0L492.3 358.7L492.4 358.6L500.9 360.3L505.3 361.6ZM614.8 394.1L610.2 393.4L602.0 390.4L602.1 390.1L610.7 391.5L615.1 393.1ZM599.1 389.6L594.6 388.6L586.3 386.0L586.4 385.9L594.8 387.7L599.3 389.0ZM583.5 384.9L578.9 384.0L570.7 381.5L570.7 381.3L579.2 383.1L583.6 384.4ZM567.5 381.7L562.9 380.8L554.7 378.1L554.8 377.8L563.3 379.5L567.7 380.9ZM552.0 376.6L547.4 375.7L539.1 373.1L539.2 372.9L547.7 374.7L552.1 376.1ZM520.3 369.0L515.7 368.0L507.4 365.5L507.5 365.4L515.9 367.3L520.4 368.6ZM613.9 397.6L609.3 396.8L601.1 393.8L601.2 393.5L609.7 395.1L614.1 396.7ZM597.9 394.1L593.4 393.1L585.2 390.3L585.2 390.1L593.7 392.0L598.1 393.5ZM582.3 389.5L577.7 388.5L569.5 385.8L569.6 385.6L578.0 387.5L582.4 389.0ZM566.7 384.6L562.2 383.5L553.9 380.9L554.0 380.8L562.4 382.8L566.8 384.2ZM551.0 380.3L546.5 379.2L538.2 376.6L538.3 376.4L546.7 378.4L551.1 379.8ZM535.1 376.6L530.6 375.6L522.3 372.9L522.4 372.7L530.8 374.6L535.3 376.1ZM519.6 371.6L515.0 370.5L506.8 367.9L506.8 367.7L515.3 369.7L519.7 371.1ZM612.4 402.8L607.8 401.9L599.7 398.7L599.8 398.4L608.3 400.1L612.6 401.8ZM596.7 398.3L592.2 397.2L584.0 394.3L584.1 394.0L592.5 396.0L596.9 397.6ZM581.2 393.3L576.6 392.3L568.5 389.2L568.6 388.9L577.1 390.7L581.4 392.4ZM565.6 388.7L561.0 387.5L552.9 384.7L552.9 384.5L561.3 386.6L565.7 388.2ZM549.9 384.1L545.4 382.9L537.2 380.2L537.2 380.0L545.6 382.2L550.0 383.7ZM611.1 407.0L606.5 406.0L598.5 402.8L598.6 402.5L607.0 404.5L611.3 406.2ZM595.3 402.7L590.8 401.5L582.7 398.4L582.8 398.2L591.2 400.3L595.6 402.0ZM580.0 397.1L575.5 396.0L567.4 392.8L567.5 392.5L576.0 394.5L580.3 396.2ZM564.4 392.5L559.9 391.3L551.8 388.3L551.8 388.1L560.2 390.2L564.6 391.9ZM548.8 387.7L544.3 386.6L536.2 383.5L536.2 383.3L544.6 385.4L549.0 387.1ZM517.8 377.5L513.3 376.3L505.2 373.4L505.2 373.3L513.5 375.6L517.9 377.2ZM612.3 413.4L548.7 390.6L548.8 390.2L613.5 410.0ZM610.8 417.9L540.4 392.0L540.6 391.6L611.6 415.6ZM608.8 423.3L543.8 397.6L543.9 397.2L609.8 420.7ZM607.5 426.5L546.1 401.6L546.2 401.2L608.2 424.7ZM605.6 431.3L535.2 401.1L535.3 400.8L606.5 429.1ZM602.7 437.9L508.8 394.4L509.0 394.0L604.6 433.7ZM601.8 439.8L507.8 396.0L508.0 395.6L603.0 437.2ZM599.2 445.4L512.0 402.5L512.2 402.1L600.3 443.3ZM596.9 450.1L507.7 403.3L507.8 402.9L598.9 446.0ZM595.6 452.6L539.9 423.2L540.0 422.8L596.2 451.5ZM592.7 458.1L531.2 423.2L531.4 422.9L594.0 455.6ZM590.4 462.1L516.5 418.2L516.7 417.9L592.6 458.1ZM588.1 466.1L520.8 425.3L521.0 425.0L589.3 464.0ZM585.7 470.0L515.3 425.8L515.5 425.4L587.0 467.9ZM583.1 474.1L523.6 434.9L523.8 434.5L584.7 471.7ZM580.0 478.8L528.4 442.3L528.7 442.0L582.6 475.0ZM577.2 483.0L491.1 421.8L491.3 421.5L579.2 480.0ZM574.8 486.3L517.8 444.9L518.0 444.6L575.5 485.3ZM572.2 489.9L489.0 427.2L489.2 426.9L573.6 487.9ZM568.5 494.8L487.8 430.7L488.1 430.4L570.7 491.9ZM566.5 497.3L501.3 444.4L501.5 444.1L568.0 495.4ZM563.0 501.6L504.1 452.0L504.4 451.7L564.2 500.1ZM559.8 505.4L506.3 459.0L506.6 458.7L560.5 504.5ZM556.1 509.6L498.9 457.4L499.2 457.1L557.7 507.8ZM553.3 512.6L491.3 453.8L491.6 453.5L555.8 510.0ZM550.6 515.5L505.2 471.3L505.5 471.0L552.2 513.8ZM546.0 520.2L485.3 458.5L485.6 458.2L548.1 518.2ZM543.7 522.5L472.7 449.3L473.0 449.1L545.1 521.2ZM539.5 526.6L473.2 454.0L473.5 453.7L542.8 523.4ZM535.7 530.0L465.0 450.7L465.3 450.4L537.9 528.1ZM531.4 533.8L483.2 475.9L483.5 475.7L534.9 530.8ZM529.4 535.5L466.4 460.5L466.7 460.3L531.3 534.0ZM524.1 540.0L485.5 489.8L485.8 489.6L527.6 537.1ZM521.6 542.0L481.2 490.3L481.5 490.0L522.5 541.2ZM516.9 545.6L453.6 460.2L453.9 460.0L519.7 543.4ZM514.0 547.7L451.4 461.6L451.8 461.4L516.0 546.3ZM508.8 551.5L467.7 490.7L468.0 490.5L511.7 549.4ZM505.6 553.6L455.1 477.9L455.5 477.7L508.0 552.0ZM501.9 556.1L451.9 478.0L452.2 477.8L504.9 554.1ZM498.6 558.3L442.4 469.6L442.7 469.4L499.6 557.6ZM494.2 561.0L448.9 485.5L449.3 485.3L496.3 559.7ZM489.8 563.6L447.0 488.4L447.4 488.2L492.9 561.8ZM486.5 565.5L453.1 505.9L453.4 505.7L487.6 564.9ZM481.4 568.4L441.5 493.1L441.9 492.9L483.5 567.2ZM477.6 570.4L445.4 506.8L445.7 506.6L479.7 569.3ZM471.6 573.4L445.3 516.0L445.7 515.9L475.7 571.4ZM467.3 575.4L433.5 501.1L433.9 500.9L469.9 574.2ZM464.0 577.0L426.9 493.8L427.3 493.6L465.7 576.2ZM459.3 579.0L430.1 509.9L430.5 509.7L461.1 578.3ZM453.9 581.3L421.8 500.0L422.2 499.9L456.5 580.2ZM450.0 582.8L414.5 489.6L414.9 489.4L452.2 582.0ZM445.2 584.6L411.0 489.6L411.4 489.5L447.4 583.8ZM442.4 585.6L418.1 515.5L418.5 515.3L444.3 585.0ZM437.3 587.4L403.8 486.2L404.2 486.1L438.4 587.0ZM430.5 589.6L401.7 490.5L402.1 490.4L434.9 588.2ZM427.2 590.5L409.1 526.0L409.4 525.9L429.1 590.0ZM423.4 591.6L405.5 525.6L405.9 525.5L424.5 591.3ZM418.3 593.0L402.6 527.6L403.0 527.5L421.1 592.2ZM412.9 594.3L399.0 529.4L399.4 529.3L416.4 593.4ZM409.6 591.7L408.4 587.2L406.9 578.7L407.2 578.7L409.5 587.0L410.3 591.6ZM405.5 576.0L404.1 571.5L402.9 562.9L403.2 562.8L405.7 571.1L406.4 575.8ZM402.3 560.0L401.0 555.5L399.7 546.9L399.9 546.9L402.4 555.2L403.1 559.8ZM397.9 544.2L396.7 539.7L395.2 531.2L395.4 531.2L397.6 539.5L398.4 544.1ZM394.8 528.2L393.5 523.7L392.1 515.2L392.3 515.2L394.6 523.5L395.4 528.1ZM391.2 512.3L390.0 507.8L388.5 499.3L388.7 499.3L390.9 507.6L391.7 512.2ZM387.9 496.4L386.7 491.9L385.1 483.4L385.2 483.3L387.3 491.7L388.2 496.3ZM403.8 593.0L402.5 588.5L401.5 579.9L401.8 579.8L404.1 588.1L404.7 592.8ZM401.2 576.9L399.9 572.4L398.8 563.8L399.2 563.7L401.6 572.0L402.1 576.7ZM398.3 560.8L397.2 556.3L395.7 547.8L395.9 547.7L397.9 556.1L398.7 560.7ZM394.6 544.9L393.5 540.4L392.1 531.9L392.3 531.8L394.4 540.2L395.1 544.8ZM390.8 529.1L389.7 524.6L388.4 516.0L388.6 515.9L390.7 524.3L391.4 528.9ZM399.4 593.8L398.2 589.3L397.2 580.7L397.5 580.6L399.8 589.0L400.2 593.7ZM396.2 577.8L395.0 573.3L394.0 564.7L394.3 564.7L396.4 573.1L396.9 577.7ZM393.4 561.8L392.2 557.2L391.2 548.7L391.4 548.6L393.5 557.0L394.0 561.6ZM390.6 545.7L389.5 541.2L388.3 532.6L388.5 532.6L390.5 541.0L391.1 545.6ZM387.6 529.7L386.6 525.1L385.3 516.6L385.5 516.5L387.4 525.0L388.1 529.6ZM395.3 594.5L394.3 590.0L393.3 581.4L393.5 581.3L395.4 589.8L395.9 594.4ZM392.7 578.4L391.6 573.9L390.7 565.3L391.0 565.2L393.1 573.7L393.5 578.3ZM389.2 562.5L388.3 557.9L387.2 549.3L387.4 549.3L389.2 557.8L389.7 562.4ZM386.9 546.4L385.8 541.8L384.9 533.2L385.2 533.2L387.1 541.6L387.6 546.2ZM383.7 530.4L382.8 525.8L381.7 517.2L381.9 517.2L383.6 525.7L384.2 530.3ZM381.8 514.2L380.8 509.6L379.7 501.0L379.9 501.0L381.7 509.5L382.2 514.1ZM390.1 595.4L389.0 590.8L388.4 582.2L388.7 582.1L390.6 590.6L390.9 595.2ZM387.3 579.3L386.3 574.7L385.6 566.1L385.9 566.0L387.8 574.5L388.1 579.2ZM385.5 563.1L384.5 558.5L383.8 549.9L384.0 549.8L385.9 558.3L386.2 563.0ZM383.5 546.9L382.6 542.3L381.7 533.7L381.9 533.7L383.6 542.2L384.1 546.8ZM380.8 530.8L379.9 526.2L378.9 517.6L379.1 517.6L380.7 526.1L381.2 530.7ZM385.2 596.0L384.3 591.4L383.7 582.8L383.9 582.8L385.5 591.3L385.8 595.9ZM382.8 579.9L381.8 575.3L381.4 566.7L381.7 566.6L383.5 575.1L383.7 579.8ZM380.9 563.7L380.1 559.1L379.4 550.5L379.6 550.5L381.1 559.0L381.5 563.6ZM379.4 547.5L378.5 542.9L377.9 534.3L378.2 534.2L379.8 542.7L380.2 547.4ZM376.9 531.4L376.1 526.8L375.3 518.2L375.5 518.1L377.0 526.7L377.4 531.3ZM375.2 515.1L374.4 510.6L373.6 501.9L373.8 501.9L375.3 510.4L375.7 515.1ZM380.5 596.6L379.5 592.0L379.3 583.3L379.7 583.3L381.4 591.8L381.5 596.5ZM378.2 580.4L377.4 575.9L377.0 567.2L377.2 567.2L378.7 575.7L378.9 580.4ZM376.5 564.2L375.8 559.6L375.2 551.0L375.4 551.0L376.7 559.5L377.1 564.2ZM375.3 548.0L374.5 543.4L374.0 534.7L374.2 534.7L375.6 543.3L375.9 547.9ZM373.7 531.8L372.9 527.2L372.3 518.5L372.6 518.5L374.0 527.0L374.3 531.7ZM371.2 515.6L370.4 511.0L369.8 502.4L370.0 502.4L371.3 510.9L371.6 515.6ZM376.4 597.0L375.6 592.4L375.4 583.8L375.7 583.7L377.2 592.3L377.3 596.9ZM375.0 580.8L374.3 576.2L373.9 567.5L374.1 567.5L375.4 576.1L375.6 580.7ZM373.0 564.6L372.2 560.0L372.0 551.3L372.3 551.3L373.7 559.9L373.8 564.5ZM370.8 548.4L370.2 543.8L369.7 535.2L369.9 535.2L371.0 543.7L371.3 548.4ZM369.8 532.2L369.2 527.5L368.6 518.9L368.7 518.9L369.8 527.5L370.1 532.1ZM368.3 515.9L367.7 511.3L367.2 502.7L367.4 502.7L368.5 511.2L368.8 515.9ZM367.0 499.7L366.4 495.1L365.8 486.4L365.9 486.4L367.0 495.0L367.3 499.6ZM371.2 597.5L370.6 592.9L370.4 584.2L370.6 584.2L371.7 592.8L371.8 597.4ZM369.8 581.2L369.1 576.6L369.0 568.0L369.2 567.9L370.4 576.5L370.5 581.2ZM368.7 565.0L368.1 560.4L367.9 551.7L368.1 551.7L369.2 560.3L369.4 564.9ZM366.8 548.8L366.2 544.2L366.0 535.5L366.3 535.5L367.4 544.1L367.5 548.7ZM366.7 597.8L366.0 593.2L366.2 584.5L366.6 584.5L367.9 593.1L367.7 597.7ZM365.3 581.5L364.8 576.9L364.6 568.3L364.8 568.2L365.7 576.9L365.8 581.5ZM364.6 565.3L364.0 560.6L364.0 552.0L364.3 552.0L365.4 560.5L365.4 565.2ZM363.9 549.0L363.4 544.3L363.3 535.7L363.5 535.7L364.5 544.3L364.5 548.9ZM362.6 532.7L362.1 528.1L361.9 519.4L362.0 519.4L362.8 528.0L362.9 532.7ZM361.5 516.5L361.1 511.8L360.8 503.2L361.0 503.2L361.8 511.8L361.9 516.4ZM360.2 500.2L359.8 495.6L359.5 486.9L359.7 486.9L360.4 495.5L360.5 500.2ZM361.1 598.1L360.6 593.4L360.8 584.8L361.0 584.8L361.9 593.4L361.8 598.0ZM360.1 581.8L359.6 577.2L359.9 568.5L360.2 568.5L361.2 577.1L361.0 581.8ZM360.5 565.5L360.1 560.8L360.1 552.2L360.3 552.2L361.1 560.8L361.0 565.4ZM360.0 549.2L359.6 544.5L359.5 535.9L359.6 535.9L360.3 544.5L360.3 549.2ZM359.4 532.9L359.1 528.2L358.9 519.6L359.1 519.6L359.7 528.2L359.8 532.9ZM357.6 500.3L357.2 495.7L357.1 487.0L357.3 487.0L357.9 495.7L358.0 500.3ZM357.2 598.2L356.6 593.6L357.1 584.9L357.5 584.9L358.4 593.5L358.2 598.2ZM356.2 581.9L355.8 577.3L356.1 568.6L356.4 568.6L357.1 577.2L357.0 581.9ZM356.0 565.6L355.6 561.0L355.8 552.3L356.0 552.3L356.7 561.0L356.5 565.6ZM355.9 549.3L355.5 544.7L355.7 536.0L355.9 536.0L356.6 544.6L356.5 549.3ZM355.5 533.0L355.2 528.4L355.3 519.7L355.4 519.7L356.0 528.4L355.9 533.0ZM354.4 516.8L354.0 512.1L354.2 503.5L354.4 503.4L355.0 512.1L354.9 516.7ZM354.6 500.4L354.3 495.8L354.3 487.1L354.5 487.1L355.0 495.8L355.0 500.4ZM352.6 598.3L352.3 593.6L352.6 585.0L352.8 585.0L353.3 593.6L353.2 598.3ZM352.5 582.0L352.2 577.3L352.6 568.7L352.8 568.7L353.4 577.3L353.1 582.0ZM352.0 565.7L351.7 561.0L352.1 552.4L352.4 552.4L353.0 561.0L352.7 565.7ZM351.4 549.4L351.2 544.7L351.5 536.1L351.7 536.1L352.2 544.7L352.0 549.4ZM351.7 533.1L351.4 528.4L351.7 519.8L351.8 519.8L352.3 528.4L352.1 533.1ZM351.4 516.8L351.2 512.1L351.5 503.5L351.6 503.5L352.0 512.1L351.9 516.8ZM346.7 598.3L346.3 593.6L347.2 585.0L347.6 585.0L348.3 593.6L347.8 598.3ZM346.9 582.0L346.6 577.3L347.2 568.7L347.5 568.7L347.9 577.3L347.6 582.0ZM347.7 565.7L347.4 561.0L348.1 552.4L348.4 552.4L348.9 561.0L348.5 565.7ZM347.3 549.4L347.2 544.7L347.6 536.1L347.7 536.1L347.9 544.7L347.7 549.4ZM347.4 533.1L347.3 528.4L347.7 519.8L347.9 519.8L348.1 528.4L347.9 533.1ZM348.4 500.5L348.3 495.8L348.6 487.2L348.8 487.2L348.9 495.8L348.8 500.5ZM342.1 598.2L341.8 593.5L342.8 584.9L343.1 584.9L343.5 593.6L343.0 598.2ZM342.5 581.9L342.4 577.2L343.1 568.6L343.4 568.6L343.6 577.3L343.2 581.9ZM343.8 565.6L343.7 561.0L344.4 552.3L344.6 552.3L344.9 561.0L344.5 565.6ZM344.1 549.3L344.0 544.7L344.6 536.0L344.8 536.0L345.0 544.7L344.6 549.3ZM344.7 533.0L344.6 528.4L345.1 519.7L345.3 519.7L345.3 528.4L345.0 533.0ZM344.6 516.7L344.6 512.1L345.1 503.4L345.3 503.4L345.4 512.1L345.1 516.7ZM344.9 500.4L344.9 495.8L345.4 487.1L345.5 487.1L345.5 495.8L345.2 500.4ZM338.2 598.0L338.2 593.4L338.9 584.8L339.1 584.8L339.1 593.4L338.7 598.1ZM339.1 581.8L339.1 577.1L339.8 568.5L340.0 568.5L340.0 577.1L339.6 581.8ZM339.6 565.5L339.5 560.8L340.3 552.2L340.5 552.2L340.6 560.9L340.2 565.5ZM340.5 549.2L340.4 544.5L341.2 535.9L341.3 535.9L341.3 544.6L340.9 549.2ZM340.9 532.9L340.8 528.2L341.6 519.6L341.8 519.6L341.8 528.3L341.4 532.9ZM341.1 516.6L341.1 511.9L341.8 503.3L341.9 503.3L341.8 512.0L341.4 516.6ZM333.6 597.8L333.6 593.1L334.6 584.5L334.8 584.6L334.7 593.2L334.2 597.8ZM333.5 581.5L333.5 576.8L334.6 568.2L334.8 568.2L334.8 576.9L334.2 581.5ZM334.9 565.2L334.9 560.6L336.0 552.0L336.3 552.0L336.3 560.6L335.7 565.3ZM335.8 549.0L335.8 544.3L336.8 535.7L337.1 535.7L337.0 544.4L336.5 549.0ZM337.1 532.7L337.2 528.0L338.0 519.4L338.2 519.4L338.0 528.1L337.5 532.7ZM338.5 516.5L338.6 511.8L339.4 503.2L339.6 503.2L339.5 511.9L339.0 516.5ZM328.3 597.4L328.3 592.8L329.6 584.2L330.0 584.2L330.0 592.9L329.2 597.5ZM329.1 581.2L329.2 576.5L330.5 567.9L330.8 567.9L330.7 576.6L330.0 581.2ZM330.4 564.9L330.5 560.2L331.7 551.7L331.9 551.7L331.6 560.3L331.0 564.9ZM332.1 548.7L332.3 544.0L333.3 535.4L333.5 535.5L333.1 544.1L332.6 548.7ZM333.1 532.4L333.3 527.8L334.3 519.2L334.5 519.2L334.1 527.8L333.5 532.4ZM335.0 516.2L335.2 511.6L336.1 503.0L336.2 503.0L335.8 511.6L335.3 516.2ZM336.3 500.0L336.5 495.3L337.4 486.7L337.6 486.7L337.2 495.4L336.7 500.0ZM323.4 597.0L323.5 592.3L325.0 583.8L325.3 583.8L325.2 592.5L324.3 597.1ZM324.8 580.8L324.9 576.1L326.4 567.6L326.7 567.6L326.5 576.3L325.7 580.9ZM326.3 564.5L326.6 559.9L327.8 551.3L328.0 551.3L327.5 560.0L326.9 564.6ZM328.6 548.4L328.8 543.7L330.1 535.2L330.3 535.2L330.0 543.8L329.3 548.4ZM330.2 532.2L330.3 527.5L331.6 518.9L331.8 519.0L331.4 527.6L330.8 532.2ZM331.7 515.9L331.9 511.3L333.1 502.7L333.3 502.7L332.8 511.4L332.2 516.0ZM318.8 596.5L319.1 591.9L320.5 583.3L320.8 583.4L320.3 592.0L319.5 596.6ZM320.6 580.3L320.7 575.6L322.3 567.1L322.7 567.2L322.3 575.8L321.4 580.4ZM322.2 564.1L322.5 559.4L323.9 550.9L324.1 550.9L323.5 559.6L322.7 564.2ZM323.8 547.9L324.1 543.2L325.5 534.7L325.7 534.7L325.1 543.3L324.3 547.9ZM327.5 515.5L327.9 510.8L329.2 502.3L329.4 502.3L328.8 510.9L328.0 515.5ZM313.4 595.8L313.6 591.2L315.5 582.7L315.9 582.8L315.5 591.4L314.4 596.0ZM315.7 579.7L316.0 575.1L317.7 566.6L318.0 566.6L317.5 575.2L316.5 579.8ZM318.9 563.7L319.3 559.0L320.7 550.5L320.8 550.5L320.0 559.1L319.3 563.7ZM320.7 547.5L321.1 542.8L322.6 534.3L322.8 534.3L322.0 543.0L321.2 547.5ZM322.3 531.2L322.7 526.6L324.1 518.1L324.3 518.1L323.4 526.7L322.6 531.3ZM309.4 595.3L309.8 590.6L311.6 582.2L311.9 582.2L311.2 590.8L310.2 595.4ZM311.8 579.2L312.2 574.5L314.0 566.0L314.2 566.1L313.5 574.7L312.5 579.3ZM314.3 563.0L314.8 558.4L316.5 549.9L316.6 549.9L315.7 558.5L314.8 563.1ZM316.2 546.8L316.7 542.2L318.4 533.7L318.6 533.8L317.7 542.4L316.8 546.9ZM319.4 530.8L319.8 526.2L321.5 517.7L321.7 517.7L320.9 526.4L319.9 530.9ZM321.7 514.7L322.3 510.1L323.8 501.6L323.9 501.6L322.9 510.2L322.1 514.8ZM323.5 498.5L324.0 493.9L325.6 485.4L325.7 485.4L324.7 494.0L323.9 498.5ZM304.2 594.5L304.7 589.8L306.7 581.4L307.0 581.4L306.1 590.0L305.0 594.6ZM307.6 578.5L308.0 573.8L310.1 565.4L310.4 565.5L309.7 574.1L308.5 578.6ZM309.7 562.3L310.3 557.7L312.1 549.2L312.3 549.3L311.3 557.9L310.3 562.4ZM312.7 546.3L313.2 541.7L315.0 533.2L315.2 533.2L314.1 541.8L313.2 546.4ZM315.1 530.2L315.7 525.5L317.5 517.1L317.7 517.1L316.7 525.7L315.7 530.3ZM318.0 514.1L318.7 509.5L320.3 501.0L320.4 501.0L319.3 509.6L318.3 514.2ZM320.5 498.0L321.1 493.4L322.8 484.9L322.9 484.9L321.7 493.5L320.8 498.1ZM300.5 593.8L301.1 589.2L303.1 580.7L303.3 580.8L302.1 589.4L301.1 593.9ZM302.1 577.5L302.8 572.9L304.8 564.5L305.0 564.5L303.8 573.1L302.7 577.6ZM306.0 561.7L306.6 557.0L308.6 548.6L308.8 548.7L307.7 557.2L306.6 561.8ZM308.5 545.5L309.2 540.9L311.1 532.5L311.2 532.5L309.9 541.1L308.9 545.6ZM311.4 529.5L312.1 524.9L314.0 516.5L314.2 516.5L313.0 525.1L311.9 529.6ZM315.2 513.6L315.9 509.0L317.7 500.6L317.8 500.6L316.5 509.1L315.6 513.7ZM295.5 592.8L296.1 588.2L298.4 579.8L298.7 579.9L297.6 588.5L296.4 593.0ZM299.0 576.9L299.7 572.3L301.8 563.9L302.0 563.9L300.6 572.5L299.5 577.0ZM301.5 560.8L302.1 556.1L304.4 547.8L304.7 547.9L303.6 556.4L302.3 560.9ZM304.5 544.7L305.1 540.1L307.3 531.8L307.5 531.8L306.2 540.4L305.1 544.9ZM308.0 528.8L308.8 524.2L310.8 515.8L310.9 515.8L309.4 524.4L308.4 528.9ZM289.6 591.6L290.3 586.9L292.8 578.6L293.2 578.7L291.9 587.3L290.5 591.8ZM294.4 575.9L295.2 571.3L297.5 563.0L297.8 563.0L296.4 571.6L295.1 576.1ZM297.4 559.9L298.2 555.3L300.5 547.0L300.7 547.0L299.1 555.5L297.9 560.0ZM300.7 543.9L301.5 539.3L303.7 531.0L303.9 531.0L302.4 539.5L301.2 544.0ZM304.6 528.1L305.4 523.5L307.6 515.2L307.8 515.2L306.2 523.7L305.1 528.2ZM308.6 512.3L309.4 507.7L311.6 499.3L311.8 499.4L310.3 507.9L309.1 512.4ZM285.7 590.6L286.4 586.0L289.1 577.8L289.5 577.9L288.2 586.5L286.7 590.9ZM289.2 574.7L289.9 570.1L292.5 561.8L292.8 561.9L291.3 570.4L289.9 574.9ZM293.5 559.0L294.3 554.4L296.7 546.1L296.9 546.1L295.3 554.6L294.0 559.1ZM297.2 543.1L298.1 538.5L300.5 530.2L300.7 530.3L299.0 538.8L297.7 543.2ZM301.1 527.3L302.0 522.7L304.3 514.4L304.5 514.4L302.8 522.9L301.5 527.4ZM305.2 511.5L306.1 506.9L308.4 498.6L308.5 498.6L306.8 507.1L305.5 511.6ZM281.7 589.6L282.5 585.0L285.3 576.8L285.6 576.9L284.1 585.5L282.6 589.9ZM285.0 573.7L285.8 569.1L288.6 560.8L288.8 560.9L287.2 569.4L285.8 573.9ZM289.5 558.0L290.4 553.4L293.0 545.1L293.2 545.2L291.4 553.7L290.0 558.1ZM293.4 542.2L294.4 537.6L296.9 529.3L297.0 529.4L295.2 537.8L293.8 542.3ZM297.3 526.3L298.3 521.8L300.7 513.5L300.9 513.5L298.9 521.9L297.6 526.4ZM301.6 510.6L302.6 506.1L305.1 497.8L305.2 497.8L303.3 506.3L302.0 510.7ZM306.1 494.9L307.1 490.4L309.5 482.1L309.6 482.1L307.8 490.6L306.5 495.0ZM276.0 588.1L276.9 583.5L279.8 575.4L280.1 575.5L278.4 584.0L276.8 588.3ZM281.4 572.7L282.2 568.1L285.2 559.9L285.5 560.0L283.9 568.5L282.3 572.9ZM285.5 556.9L286.5 552.4L289.2 544.1L289.4 544.2L287.6 552.7L286.1 557.1ZM289.2 541.0L290.2 536.5L292.9 528.2L293.1 528.3L291.1 536.7L289.6 541.1ZM294.5 525.6L295.6 521.1L298.2 512.8L298.3 512.8L296.3 521.2L294.9 525.7ZM272.5 587.1L273.6 582.6L276.5 574.4L276.7 574.5L274.7 582.9L273.1 587.3ZM277.2 571.5L278.2 566.9L281.1 558.8L281.3 558.8L279.3 567.3L277.8 571.7ZM281.0 555.6L282.2 551.1L285.0 542.9L285.1 543.0L283.0 551.4L281.5 555.8ZM286.0 540.1L287.2 535.6L289.9 527.4L290.0 527.4L287.8 535.8L286.4 540.2ZM290.9 524.5L292.0 520.0L294.8 511.8L294.9 511.9L292.7 520.2L291.3 524.7ZM267.9 585.7L268.9 581.1L272.1 573.1L272.4 573.2L270.5 581.6L268.7 586.0ZM272.0 569.9L273.1 565.4L276.2 557.3L276.5 557.4L274.4 565.8L272.7 570.1ZM277.7 554.6L278.9 550.1L281.8 542.0L281.9 542.0L279.6 550.3L278.1 554.7ZM281.8 538.8L283.0 534.3L286.0 526.2L286.2 526.2L283.9 534.6L282.3 539.0ZM287.0 523.4L288.2 518.9L291.2 510.7L291.4 510.8L289.1 519.1L287.5 523.5ZM292.3 507.9L293.5 503.4L296.4 495.3L296.6 495.3L294.3 503.7L292.7 508.1ZM296.5 492.2L297.8 487.7L300.7 479.5L300.8 479.6L298.4 487.9L296.9 492.3ZM262.7 584.0L263.9 579.5L267.1 571.5L267.4 571.5L265.1 579.9L263.3 584.2ZM267.8 568.5L268.9 564.0L272.2 556.0L272.5 556.1L270.2 564.4L268.5 568.8ZM272.8 553.0L274.1 548.5L277.3 540.5L277.4 540.5L275.1 548.9L273.4 553.2ZM278.3 537.7L279.6 533.2L282.7 525.1L282.9 525.2L280.5 533.5L278.8 537.8ZM283.1 522.1L284.3 517.6L287.5 509.5L287.7 509.6L285.3 517.9L283.6 522.3ZM288.3 506.6L289.7 502.2L292.7 494.1L292.8 494.1L290.3 502.4L288.7 506.8ZM258.6 582.6L260.0 578.1L263.2 570.1L263.4 570.2L260.9 578.5L259.1 582.8ZM263.9 567.2L265.2 562.7L268.6 554.7L268.9 554.8L266.6 563.2L264.8 567.5ZM269.5 551.9L270.8 547.4L274.1 539.4L274.4 539.5L271.9 547.8L270.1 552.1ZM274.7 536.4L276.0 531.9L279.3 523.9L279.5 524.0L277.0 532.3L275.2 536.6ZM279.8 520.9L281.2 516.5L284.5 508.5L284.6 508.5L282.1 516.8L280.3 521.1ZM291.2 490.4L292.7 486.0L295.8 477.9L295.9 477.9L293.3 486.2L291.6 490.5ZM253.2 580.6L254.6 576.2L258.1 568.3L258.4 568.4L255.9 576.7L254.0 580.9ZM259.2 565.4L260.4 560.9L264.2 553.1L264.6 553.3L262.3 561.6L260.2 565.8ZM265.7 550.5L267.1 546.0L270.5 538.1L270.8 538.2L268.2 546.5L266.3 550.7ZM270.5 534.9L271.9 530.4L275.4 522.5L275.7 522.6L273.1 530.9L271.2 535.1ZM276.2 519.6L277.6 515.2L281.1 507.2L281.3 507.3L278.6 515.6L276.8 519.8ZM282.2 504.4L283.6 500.0L287.0 492.0L287.2 492.1L284.5 500.3L282.7 504.6ZM249.3 579.1L250.6 574.6L254.5 566.9L254.9 567.0L252.5 575.3L250.3 579.5ZM255.2 563.9L256.6 559.5L260.4 551.7L260.7 551.8L258.1 560.1L256.1 564.3ZM261.7 548.9L263.1 544.5L266.7 536.6L266.9 536.7L264.2 544.9L262.3 549.2ZM267.3 533.7L268.9 529.3L272.3 521.3L272.5 521.4L269.7 529.6L267.8 533.8ZM273.4 518.5L274.8 514.1L278.5 506.2L278.7 506.3L276.0 514.6L274.1 518.8ZM278.9 503.2L280.3 498.7L283.9 490.9L284.1 490.9L281.4 499.1L279.4 503.4ZM291.3 473.0L292.8 468.6L296.3 460.7L296.4 460.7L293.5 468.9L291.7 473.2ZM244.8 577.3L246.2 572.8L250.3 565.2L250.7 565.3L248.2 573.6L246.0 577.8ZM250.4 562.0L251.9 557.5L255.9 549.8L256.2 550.0L253.6 558.2L251.4 562.4ZM257.3 547.2L258.6 542.7L262.6 535.0L263.0 535.1L260.4 543.4L258.2 547.5ZM263.9 532.2L265.3 527.8L269.2 520.1L269.5 520.2L266.8 528.4L264.7 532.6ZM269.8 517.1L271.4 512.7L275.0 504.8L275.2 504.9L272.1 513.0L270.2 517.2ZM276.5 502.2L278.2 497.9L281.7 490.0L281.8 490.0L278.8 498.1L276.9 502.4ZM282.3 486.9L283.9 482.6L287.5 474.7L287.6 474.8L284.6 482.9L282.7 487.1ZM240.1 575.3L241.6 570.8L245.7 563.2L246.1 563.4L243.3 571.6L241.0 575.7ZM247.0 560.5L248.5 556.1L252.6 548.4L253.0 548.6L250.2 556.8L248.0 560.9ZM253.5 545.6L255.1 541.2L259.0 533.4L259.2 533.5L256.1 541.6L254.1 545.8ZM259.8 530.5L261.3 526.1L265.4 518.5L265.7 518.6L262.9 526.8L260.7 530.9ZM266.2 515.5L267.9 511.2L271.7 503.4L271.8 503.5L268.7 511.5L266.6 515.7ZM273.4 500.9L275.2 496.6L278.8 488.7L278.9 488.8L275.7 496.8L273.7 501.0ZM279.4 485.7L281.1 481.4L284.9 473.6L285.0 473.7L281.9 481.7L279.9 485.9ZM236.3 573.6L238.0 569.2L242.0 561.6L242.3 561.7L239.2 569.8L237.0 573.9ZM242.3 558.4L244.0 554.0L248.1 546.4L248.4 546.6L245.3 554.7L243.1 558.7ZM249.7 543.8L251.4 539.5L255.3 531.8L255.5 531.9L252.3 539.9L250.2 544.1ZM256.9 529.2L258.6 524.9L262.5 517.2L262.7 517.2L259.4 525.3L257.3 529.4ZM263.0 514.1L264.8 509.8L268.7 502.1L268.8 502.1L265.5 510.1L263.4 514.3ZM270.2 499.5L271.9 495.1L275.9 487.4L276.0 487.5L272.8 495.5L270.7 499.7ZM276.8 484.6L278.6 480.3L282.5 472.5L282.6 472.6L279.3 480.6L277.2 484.7ZM232.1 571.6L233.6 567.2L238.2 559.8L238.6 560.0L235.8 568.2L233.3 572.2ZM239.2 556.9L240.9 552.6L245.1 545.0L245.3 545.1L242.1 553.2L239.8 557.2ZM245.4 541.9L247.1 537.5L251.4 530.0L251.7 530.1L248.6 538.2L246.3 542.3ZM253.1 527.5L255.0 523.2L259.0 515.5L259.1 515.6L255.7 523.5L253.6 527.7ZM259.8 512.6L261.6 508.3L265.6 500.6L265.7 500.7L262.3 508.6L260.1 512.7ZM266.8 497.8L268.6 493.6L272.6 485.9L272.8 486.0L269.3 493.9L267.2 498.0ZM274.3 483.4L276.2 479.1L280.1 471.4L280.3 471.5L276.8 479.4L274.7 483.6ZM227.8 569.5L229.6 565.2L234.0 557.7L234.3 557.9L230.9 565.9L228.6 569.9ZM234.8 554.8L236.7 550.5L241.0 543.0L241.2 543.1L237.8 551.1L235.5 555.1ZM242.0 540.2L243.8 535.9L248.2 528.4L248.5 528.5L245.2 536.6L242.8 540.6ZM249.3 525.6L251.2 521.3L255.3 513.8L255.5 513.8L251.9 521.7L249.7 525.8ZM256.8 511.1L258.6 506.8L262.8 499.3L263.0 499.4L259.6 507.3L257.3 511.4ZM264.2 496.6L266.1 492.4L270.2 484.7L270.4 484.8L266.8 492.7L264.6 496.8ZM223.7 567.5L225.6 563.2L230.1 555.7L230.3 555.9L226.7 563.8L224.3 567.8ZM230.7 552.7L232.5 548.4L237.2 541.1L237.5 541.2L234.1 549.2L231.6 553.2ZM238.9 538.6L240.8 534.3L245.2 526.9L245.4 527.0L241.8 534.8L239.4 538.9ZM245.3 523.5L247.2 519.3L251.7 511.9L251.9 512.0L248.4 519.9L246.0 523.9ZM253.1 509.2L255.0 505.0L259.4 497.5L259.7 497.7L256.1 505.5L253.7 509.5ZM261.3 495.1L263.3 490.9L267.6 483.4L267.8 483.5L264.2 491.4L261.8 495.4ZM268.7 480.6L270.7 476.4L275.0 468.9L275.2 469.0L271.5 476.8L269.2 480.8ZM276.3 466.2L278.3 462.0L282.6 454.4L282.7 454.5L278.9 462.3L276.7 466.4ZM219.2 565.1L221.0 560.7L225.9 553.5L226.3 553.8L223.0 561.8L220.4 565.7ZM227.3 550.9L229.2 546.6L233.8 539.3L234.1 539.4L230.4 547.3L228.0 551.2ZM234.4 536.2L236.3 531.9L241.0 524.6L241.3 524.8L237.8 532.7L235.2 536.6ZM242.1 521.8L244.1 517.6L248.7 510.3L248.9 510.4L245.2 518.2L242.7 522.2ZM249.8 507.5L251.8 503.3L256.3 495.9L256.5 496.0L252.7 503.7L250.3 507.7ZM257.6 493.1L259.6 488.9L264.1 481.6L264.3 481.7L260.5 489.4L258.1 493.4ZM214.4 562.3L216.2 558.0L221.3 551.0L221.7 551.2L218.2 559.2L215.5 563.0ZM222.8 548.4L224.7 544.1L229.6 536.9L229.8 537.1L226.2 544.9L223.5 548.8ZM231.0 534.3L233.0 530.1L237.8 522.9L238.1 523.1L234.5 530.9L231.9 534.8ZM239.5 520.4L241.6 516.2L246.2 508.9L246.3 509.0L242.4 516.7L240.0 520.6ZM247.2 506.0L249.2 501.8L253.9 494.5L254.1 494.6L250.2 502.4L247.7 506.3ZM254.8 491.6L256.9 487.4L261.6 480.1L261.8 480.2L257.9 488.0L255.4 491.9ZM271.1 463.3L273.2 459.2L277.7 451.8L277.9 451.9L273.8 459.6L271.4 463.5ZM210.6 560.1L212.5 555.9L217.6 548.9L218.0 549.1L214.3 557.0L211.6 560.7ZM218.7 546.0L220.9 541.9L225.7 534.7L225.9 534.8L221.9 542.5L219.3 546.4ZM227.8 532.4L229.9 528.3L234.6 521.1L234.8 521.2L230.8 528.8L228.3 532.7ZM235.3 517.9L237.5 513.8L242.2 506.6L242.3 506.6L238.2 514.2L235.6 518.2ZM244.3 504.3L246.4 500.2L251.1 492.9L251.3 493.0L247.2 500.7L244.7 504.6ZM252.2 490.1L254.3 485.9L259.1 478.7L259.3 478.8L255.3 486.5L252.7 490.4ZM206.7 557.8L208.9 553.7L213.9 546.6L214.1 546.8L210.1 554.4L207.4 558.2ZM214.7 543.6L216.8 539.4L221.9 532.4L222.3 532.6L218.4 540.4L215.6 544.1ZM224.1 530.2L226.3 526.1L231.2 519.0L231.4 519.1L227.3 526.8L224.7 530.6ZM232.7 516.4L235.0 512.3L239.7 505.1L239.9 505.2L235.6 512.7L233.1 516.6ZM240.6 502.1L242.9 498.1L247.7 490.9L247.8 490.9L243.6 498.5L241.0 502.4ZM249.2 488.3L251.5 484.2L256.3 477.0L256.5 477.1L252.3 484.7L249.7 488.5ZM258.2 474.6L260.4 470.6L265.2 463.4L265.3 463.4L261.1 471.0L258.5 474.9ZM202.3 555.0L204.5 550.9L209.7 544.0L210.0 544.2L205.9 551.8L203.1 555.6ZM211.5 541.6L213.8 537.5L218.9 530.5L219.1 530.6L214.9 538.2L212.1 542.0ZM219.9 527.6L222.2 523.5L227.3 516.5L227.5 516.7L223.4 524.3L220.6 528.0ZM228.9 514.0L231.2 509.9L236.2 502.9L236.3 503.0L232.0 510.5L229.4 514.3ZM237.7 500.3L239.9 496.2L245.0 489.2L245.2 489.3L240.9 496.8L238.2 500.6ZM255.3 472.8L257.7 468.8L262.5 461.7L262.7 461.8L258.3 469.2L255.6 473.1ZM198.4 552.5L200.5 548.3L206.1 541.6L206.5 541.9L202.5 549.6L199.5 553.2ZM207.7 539.1L210.0 535.1L215.3 528.2L215.5 528.3L211.2 535.9L208.4 539.6ZM216.4 525.3L218.8 521.3L223.9 514.3L224.1 514.5L219.6 521.9L216.9 525.6ZM225.6 511.9L228.1 507.9L233.1 500.9L233.3 501.0L228.8 508.4L226.0 512.2ZM234.8 498.4L237.2 494.4L242.3 487.4L242.5 487.5L238.1 495.0L235.3 498.7ZM243.9 484.9L246.3 480.9L251.4 473.9L251.5 474.0L247.0 481.3L244.3 485.1ZM252.6 471.1L255.1 467.1L260.1 460.1L260.2 460.2L255.7 467.5L252.9 471.3ZM194.7 550.0L197.1 546.0L202.5 539.2L202.7 539.4L198.3 546.8L195.4 550.5ZM204.1 536.7L206.4 532.6L211.9 525.9L212.2 526.1L207.9 533.6L204.9 537.2ZM213.3 523.2L215.6 519.2L221.1 512.4L221.4 512.6L217.1 520.2L214.1 523.8ZM222.1 509.5L224.6 505.6L229.8 498.6L229.9 498.7L225.3 506.0L222.5 509.8ZM231.7 496.3L234.1 492.3L239.4 485.4L239.6 485.6L235.1 493.0L232.3 496.7ZM250.1 469.4L252.6 465.4L257.7 458.5L257.9 458.6L253.3 465.9L250.5 469.7ZM190.1 546.8L192.4 542.7L198.2 536.2L198.6 536.5L194.4 544.1L191.2 547.6ZM199.7 533.6L202.1 529.6L207.7 523.0L208.0 523.2L203.5 530.6L200.5 534.2ZM209.4 520.5L211.9 516.5L217.3 509.8L217.5 509.9L212.9 517.3L210.0 520.9ZM219.4 507.6L221.8 503.6L227.3 496.9L227.6 497.1L223.1 504.5L220.1 508.1ZM228.6 494.2L231.1 490.2L236.5 483.4L236.7 483.6L232.0 490.8L229.1 494.5ZM247.9 467.9L250.5 464.0L255.7 457.1L255.9 457.2L251.1 464.4L248.3 468.1ZM187.2 544.6L189.7 540.7L195.3 534.1L195.6 534.3L191.0 541.7L187.9 545.2ZM196.2 531.0L198.7 527.1L204.2 520.4L204.4 520.6L199.6 527.7L196.6 531.3ZM206.1 518.1L208.7 514.2L214.2 507.5L214.3 507.6L209.5 514.8L206.5 518.4ZM215.7 504.9L218.3 501.0L223.8 494.4L224.1 494.5L219.4 501.8L216.3 505.4ZM225.8 492.1L228.4 488.2L233.9 481.5L234.1 481.7L229.3 488.9L226.4 492.5ZM235.8 479.2L238.4 475.4L243.8 468.6L243.9 468.7L239.0 475.8L236.1 479.4ZM245.0 465.8L247.6 461.9L253.1 455.2L253.2 455.3L248.4 462.5L245.4 466.1ZM183.0 541.5L185.6 537.6L191.3 531.1L191.5 531.2L186.7 538.4L183.6 541.9ZM193.2 528.8L195.9 524.9L201.5 518.3L201.6 518.5L196.7 525.6L193.7 529.1ZM203.3 515.9L205.9 512.1L211.5 505.5L211.8 505.7L206.9 512.9L203.9 516.4ZM212.6 502.5L215.2 498.7L220.8 492.1L221.0 492.2L216.1 499.4L213.1 502.9ZM222.9 489.9L225.6 486.1L231.2 479.5L231.3 479.6L226.4 486.7L223.4 490.3ZM232.6 476.8L235.3 473.0L240.9 466.4L241.0 466.5L236.1 473.6L233.1 477.2ZM242.6 463.9L245.3 460.1L250.8 453.4L250.9 453.5L245.8 460.5L242.8 464.1ZM252.6 451.1L255.3 447.3L260.8 440.6L260.9 440.7L255.9 447.7L252.9 451.3ZM179.0 538.3L181.5 534.3L187.6 528.1L187.9 528.4L183.2 535.8L179.9 539.1ZM189.5 525.8L192.0 521.9L198.0 515.6L198.3 515.9L193.6 523.1L190.3 526.5ZM199.2 512.8L201.9 509.0L207.7 502.5L207.9 502.7L202.9 509.7L199.7 513.2ZM209.5 500.1L212.3 496.4L218.0 489.8L218.1 490.0L213.0 496.9L209.9 500.4ZM219.9 487.5L222.6 483.7L228.3 477.2L228.5 477.4L223.4 484.4L220.3 487.9ZM229.8 474.6L232.5 470.8L238.2 464.3L238.4 464.4L233.3 471.4L230.2 474.9ZM175.8 535.7L178.4 531.8L184.5 525.6L184.8 525.9L179.9 533.1L176.6 536.4ZM186.0 523.0L188.7 519.3L194.6 512.9L194.8 513.0L189.6 520.0L186.5 523.4ZM195.7 509.9L198.4 506.1L204.5 499.9L204.7 500.1L199.8 507.2L196.5 510.5ZM206.7 497.8L209.4 494.0L215.3 487.7L215.6 487.9L210.6 495.0L207.3 498.4ZM217.0 485.2L219.9 481.5L225.6 475.1L225.7 475.1L220.4 482.0L217.3 485.5ZM227.5 472.7L230.3 469.0L236.1 462.6L236.3 462.7L231.1 469.7L228.0 473.1ZM237.8 460.1L240.6 456.4L246.4 449.9L246.5 450.0L241.2 456.9L238.1 460.4ZM172.3 532.8L175.1 529.1L181.1 522.8L181.2 522.9L176.0 529.8L172.8 533.2ZM182.1 519.7L184.9 516.0L190.9 509.8L191.1 509.9L185.9 516.8L182.6 520.2ZM193.2 507.8L195.9 504.0L202.1 497.9L202.4 498.1L197.3 505.2L194.0 508.4ZM203.7 495.3L206.5 491.6L212.5 485.4L212.8 485.6L207.6 492.5L204.3 495.8ZM214.1 482.7L217.0 479.1L222.8 472.7L222.9 472.8L217.5 479.6L214.4 483.0ZM224.7 470.4L227.6 466.8L233.5 460.4L233.6 460.5L228.3 467.3L225.1 470.7ZM168.8 529.7L171.6 526.0L177.7 519.9L178.0 520.1L172.7 527.0L169.4 530.3ZM178.5 516.6L181.2 512.8L187.6 506.9L187.9 507.1L182.8 514.2L179.3 517.3ZM189.4 504.5L192.3 500.8L198.4 494.7L198.7 494.9L193.3 501.7L190.0 505.0ZM201.0 493.0L203.9 489.3L210.0 483.2L210.2 483.3L204.9 490.2L201.6 493.5ZM211.3 480.3L214.2 476.6L220.2 470.4L220.4 470.6L214.9 477.3L211.7 480.6ZM222.8 468.7L225.8 465.1L231.7 458.8L231.8 458.9L226.3 465.6L223.1 469.0ZM164.5 525.9L167.5 522.3L173.7 516.3L173.9 516.5L168.5 523.2L165.1 526.4ZM176.1 514.4L178.9 510.7L185.3 504.8L185.5 505.0L180.2 511.9L176.8 515.0ZM186.3 501.7L189.3 498.1L195.5 492.0L195.7 492.2L190.2 498.9L186.8 502.1ZM197.5 489.8L200.4 486.1L206.7 480.2L206.9 480.4L201.5 487.2L198.1 490.4ZM208.7 477.9L211.6 474.3L217.8 468.3L218.0 468.4L212.5 475.1L209.1 478.4ZM219.8 466.0L222.8 462.4L228.9 456.3L229.0 456.5L223.5 463.1L220.2 466.4ZM231.2 454.4L234.2 450.8L240.3 444.6L240.4 444.7L234.7 451.3L231.5 454.6ZM161.3 522.9L164.2 519.2L170.7 513.5L171.0 513.7L165.6 520.5L162.1 523.6ZM172.8 511.4L175.8 507.8L182.1 501.8L182.3 502.0L176.7 508.6L173.3 511.8ZM183.8 499.3L186.7 495.7L193.2 489.9L193.4 490.1L188.0 496.9L184.5 500.0ZM195.4 487.8L198.4 484.3L204.6 478.2L204.7 478.3L199.0 484.8L195.7 488.1ZM206.5 475.9L209.5 472.4L215.8 466.4L216.0 466.5L210.3 473.1L207.0 476.3ZM217.3 463.7L220.3 460.1L226.6 454.2L226.7 454.3L221.1 460.9L217.7 464.1ZM157.7 519.4L160.7 515.8L167.2 510.1L167.4 510.3L161.8 516.9L158.3 520.0ZM168.7 507.4L171.7 503.8L178.3 498.1L178.5 498.4L172.9 505.0L169.4 508.0ZM180.2 495.8L183.3 492.3L189.8 486.5L190.0 486.8L184.3 493.3L180.8 496.4ZM192.0 484.6L195.1 481.1L201.5 475.2L201.6 475.4L195.9 481.8L192.4 485.0ZM204.0 473.5L207.1 470.0L213.4 464.1L213.5 464.2L207.7 470.5L204.3 473.8ZM215.1 461.5L218.2 458.1L224.5 452.2L224.6 452.3L218.8 458.7L215.4 461.9ZM226.2 449.6L229.4 446.2L235.7 440.3L235.8 440.4L230.0 446.8L226.6 450.0ZM154.3 516.0L157.3 512.4L164.0 506.9L164.3 507.2L158.7 513.8L155.1 516.8ZM166.0 504.6L169.1 501.2L175.6 495.5L175.8 495.7L170.0 502.1L166.5 505.1ZM177.8 493.4L180.9 489.9L187.4 484.2L187.6 484.4L181.8 490.8L178.3 493.9ZM188.9 481.5L192.0 478.0L198.6 472.4L198.8 472.6L193.1 479.0L189.5 482.1ZM200.8 470.3L204.0 467.0L210.4 461.1L210.5 461.2L204.6 467.5L201.1 470.6ZM212.7 459.1L215.9 455.8L222.3 449.9L222.3 450.0L216.3 456.2L212.9 459.4ZM236.1 436.4L239.3 433.0L245.6 427.1L245.7 427.2L239.7 433.5L236.3 436.6ZM150.9 512.4L153.9 508.8L160.8 503.6L161.2 503.9L155.6 510.6L151.8 513.4ZM163.1 501.6L166.2 498.1L172.9 492.7L173.2 492.9L167.4 499.4L163.8 502.3ZM174.9 490.4L178.1 486.9L184.7 481.4L184.9 481.6L178.9 487.9L175.4 490.9ZM186.8 479.2L190.0 475.9L196.5 470.2L196.7 470.3L190.6 476.5L187.1 479.6ZM198.5 467.9L201.7 464.6L208.3 458.9L208.4 459.0L202.4 465.2L198.8 468.3ZM148.1 509.5L151.3 506.0L158.1 500.7L158.4 501.0L152.5 507.4L148.8 510.2ZM159.3 497.6L162.5 494.1L169.4 488.9L169.7 489.2L163.8 495.6L160.1 498.4ZM171.5 486.8L174.8 483.4L181.5 478.0L181.7 478.1L175.6 484.3L172.0 487.3ZM184.3 476.6L187.6 473.3L194.2 467.7L194.4 467.9L188.3 474.0L184.7 477.0ZM195.6 464.8L198.9 461.5L205.6 456.0L205.8 456.2L199.8 462.5L196.1 465.4ZM208.3 454.5L211.6 451.2L218.1 445.6L218.3 445.7L212.1 451.8L208.6 454.8ZM144.2 505.1L147.5 501.8L154.4 496.6L154.7 496.9L148.7 503.1L144.9 505.9ZM157.2 495.2L160.4 491.8L167.3 486.5L167.5 486.8L161.4 492.9L157.7 495.8ZM168.8 483.7L172.1 480.4L178.9 475.1L179.1 475.3L173.0 481.4L169.3 484.2ZM181.5 473.5L184.9 470.2L191.6 464.8L191.7 464.9L185.5 470.9L181.8 473.8ZM193.8 462.8L197.1 459.4L203.9 454.1L204.1 454.3L198.0 460.5L194.3 463.3ZM205.6 451.5L209.0 448.3L215.7 442.8L215.8 443.0L209.6 449.0L206.0 451.9ZM141.8 502.3L145.0 498.9L152.1 493.9L152.4 494.2L146.4 500.5L142.5 503.2ZM153.7 491.2L157.0 487.8L164.0 482.8L164.3 483.1L158.2 489.2L154.4 491.9ZM166.6 481.2L170.0 478.0L176.9 472.7L177.0 472.9L170.7 478.8L167.0 481.7ZM178.7 470.2L182.1 467.0L188.9 461.7L189.0 461.9L182.7 467.7L179.0 470.6ZM191.3 459.9L194.6 456.6L201.5 451.4L201.7 451.6L195.4 457.5L191.7 460.4ZM138.5 498.4L141.9 495.2L149.0 490.2L149.1 490.4L142.8 496.3L139.0 499.0ZM150.7 487.6L154.2 484.4L161.1 479.3L161.2 479.4L154.8 485.2L151.1 488.0ZM163.3 477.2L166.6 474.0L173.8 469.0L174.0 469.3L167.8 475.3L163.9 478.0ZM176.0 467.0L179.4 463.8L186.4 458.7L186.5 458.9L180.2 464.7L176.4 467.5ZM188.9 457.0L192.3 453.9L199.2 448.7L199.4 448.8L192.9 454.6L189.2 457.4ZM201.7 447.0L205.2 443.9L212.1 438.6L212.2 438.7L205.7 444.5L202.0 447.3ZM213.8 436.0L217.3 432.9L224.2 427.6L224.3 427.7L217.8 433.5L214.1 436.3ZM135.4 494.5L138.9 491.4L145.9 486.4L146.1 486.6L139.6 492.3L135.8 495.0ZM148.1 484.4L151.5 481.1L158.8 476.4L159.0 476.7L152.8 482.7L148.9 485.3ZM161.1 474.5L164.6 471.4L171.7 466.4L171.8 466.6L165.4 472.4L161.6 475.1ZM174.1 464.6L177.5 461.4L184.6 456.5L184.8 456.7L178.3 462.5L174.5 465.2ZM186.6 454.1L190.1 451.1L197.0 445.9L197.1 446.0L190.5 451.6L186.8 454.4ZM199.5 444.2L203.1 441.2L210.0 436.0L210.1 436.1L203.5 441.7L199.7 444.5ZM212.2 433.9L215.7 430.9L222.7 425.8L222.8 425.9L216.2 431.6L212.5 434.3ZM132.8 491.2L136.3 488.1L143.5 483.3L143.7 483.6L137.2 489.3L133.3 491.9ZM145.2 480.6L148.6 477.4L156.0 472.8L156.2 473.1L149.8 479.0L145.9 481.4ZM158.2 470.7L161.7 467.6L168.9 462.9L169.1 463.1L162.6 468.9L158.7 471.4ZM171.0 460.6L174.5 457.6L181.7 452.8L181.9 453.0L175.4 458.7L171.5 461.3ZM184.3 451.2L187.9 448.3L194.9 443.2L195.0 443.4L188.4 448.9L184.6 451.6ZM197.1 441.1L200.6 438.1L207.8 433.2L207.9 433.3L201.3 438.9L197.4 441.6ZM210.3 431.5L213.8 428.5L220.9 423.5L221.0 423.7L214.4 429.2L210.6 431.9ZM129.2 486.5L132.7 483.4L140.1 478.8L140.4 479.1L133.8 484.9L129.8 487.3ZM143.0 477.7L146.5 474.6L153.9 470.1L154.2 470.4L147.7 476.2L143.7 478.6ZM155.6 467.3L159.2 464.3L166.5 459.6L166.6 459.8L160.0 465.4L156.1 467.9ZM168.8 457.8L172.4 454.8L179.7 450.0L179.8 450.2L173.1 455.8L169.2 458.3ZM182.0 448.1L185.6 445.2L192.8 440.3L192.8 440.5L186.1 445.8L182.2 448.4ZM195.1 438.4L198.7 435.6L205.9 430.6L205.9 430.7L199.1 436.1L195.3 438.7ZM126.7 483.0L130.3 480.0L137.7 475.5L137.9 475.8L131.3 481.3L127.3 483.7ZM140.3 474.0L143.9 471.0L151.3 466.5L151.6 466.8L145.0 472.5L140.9 474.8ZM153.7 464.7L157.3 461.6L164.7 457.2L164.9 457.5L158.3 463.1L154.3 465.5ZM166.9 455.2L170.6 452.3L177.9 447.6L178.0 447.7L171.2 453.1L167.3 455.6ZM180.3 445.9L184.0 443.0L191.2 438.2L191.3 438.4L184.5 443.7L180.6 446.3ZM193.1 435.7L196.8 432.8L204.1 428.2L204.2 428.4L197.4 433.7L193.5 436.2ZM206.4 426.3L210.1 423.5L217.4 418.7L217.4 418.8L210.6 424.1L206.7 426.6ZM124.3 479.5L128.0 476.7L135.4 472.1L135.5 472.3L128.6 477.6L124.6 480.0ZM137.7 470.2L141.4 467.4L148.8 462.9L148.9 463.1L142.1 468.4L138.1 470.8ZM164.6 451.8L168.4 449.1L175.6 444.4L175.7 444.5L168.7 449.6L164.8 452.1ZM121.4 475.3L125.2 472.5L132.7 468.1L132.8 468.3L125.9 473.5L121.8 475.8ZM135.5 466.9L139.2 464.1L146.6 459.7L146.7 459.8L139.7 464.9L135.7 467.3ZM149.0 457.8L152.8 455.1L160.1 450.6L160.2 450.7L153.2 455.7L149.2 458.2ZM162.6 448.9L166.4 446.2L173.7 441.6L173.8 441.7L166.7 446.7L162.8 449.1ZM189.3 430.2L193.2 427.5L200.5 423.0L200.6 423.1L193.5 428.0L189.5 430.5ZM118.6 470.8L122.4 468.1L129.9 463.8L130.0 464.0L122.9 468.9L118.8 471.2ZM132.9 463.0L136.7 460.3L144.2 456.0L144.3 456.1L137.2 461.0L133.2 463.4ZM146.3 453.7L150.1 451.0L157.6 446.7L157.7 446.9L150.6 451.8L146.6 454.1ZM160.2 445.2L164.1 442.6L171.5 438.2L171.6 438.3L164.5 443.2L160.5 445.5ZM116.6 467.7L120.4 465.0L128.0 460.9L128.1 461.0L121.0 465.9L116.9 468.2ZM130.4 459.0L134.2 456.3L141.9 452.2L142.0 452.4L134.9 457.4L130.8 459.6ZM113.7 462.8L117.5 460.2L125.3 456.2L125.4 456.5L118.2 461.3L114.0 463.4ZM128.3 455.5L132.2 453.0L139.8 448.8L139.9 449.0L132.6 453.7L128.5 455.9ZM142.2 446.9L146.1 444.4L153.7 440.2L153.8 440.4L146.4 445.0L142.4 447.2ZM156.3 438.7L160.2 436.2L167.8 432.1L167.9 432.2L160.6 436.9L156.5 439.1ZM111.4 458.9L115.4 456.4L123.1 452.5L123.2 452.7L115.9 457.3L111.7 459.4ZM125.8 451.1L129.7 448.6L137.4 444.7L137.6 444.9L130.2 449.5L126.1 451.6ZM139.9 443.0L143.9 440.6L151.6 436.6L151.6 436.7L144.2 441.2L140.1 443.3ZM153.9 434.6L157.9 432.2L165.5 428.2L165.6 428.3L158.2 432.8L154.1 434.9ZM108.9 454.3L112.9 451.9L120.7 448.2L120.8 448.3L113.4 452.8L109.2 454.8ZM123.4 446.8L127.4 444.5L135.2 440.7L135.3 440.8L127.8 445.2L123.7 447.3ZM137.8 439.2L141.8 436.9L149.6 433.0L149.7 433.2L142.2 437.6L138.0 439.6ZM152.0 431.2L156.0 428.8L163.8 425.0L163.9 425.2L156.4 429.6L152.2 431.6ZM166.5 423.7L170.5 421.3L178.2 417.5L178.3 417.6L170.9 422.0L166.7 424.1ZM107.1 450.8L111.1 448.5L119.0 444.9L119.1 445.0L111.6 449.4L107.4 451.4ZM121.3 442.9L125.4 440.6L133.2 436.8L133.2 437.0L125.7 441.2L121.5 443.2ZM136.0 435.7L140.0 433.4L147.9 429.7L147.9 429.9L140.4 434.2L136.2 436.2ZM164.9 420.6L168.9 418.3L176.7 414.6L176.8 414.8L169.3 419.0L165.1 421.0ZM104.5 445.8L108.6 443.5L116.6 440.1L116.7 440.4L109.2 444.7L104.9 446.5ZM119.4 439.0L123.4 436.7L131.3 433.2L131.4 433.4L123.9 437.6L119.6 439.5ZM134.2 432.3L138.3 430.1L146.2 426.5L146.3 426.6L138.7 430.8L134.4 432.7ZM148.7 424.9L152.8 422.6L160.7 419.0L160.8 419.2L153.2 423.3L148.9 425.2ZM177.8 410.2L181.9 408.0L189.8 404.3L189.8 404.4L182.2 408.5L178.0 410.5ZM102.9 442.3L106.9 440.1L114.9 436.8L115.0 437.0L107.5 441.2L103.1 442.9ZM117.3 434.8L121.4 432.6L129.4 429.2L129.5 429.4L121.8 433.4L117.5 435.2ZM132.3 428.4L136.5 426.3L144.4 422.8L144.5 422.9L136.8 426.9L132.5 428.8ZM146.7 420.8L150.9 418.6L158.8 415.2L158.9 415.4L151.2 419.4L147.0 421.2ZM100.9 438.2L105.1 436.1L113.1 432.8L113.1 432.9L105.4 436.8L101.1 438.6ZM115.5 430.8L119.6 428.7L127.7 425.5L127.8 425.7L120.1 429.7L115.7 431.4ZM130.5 424.6L134.7 422.5L142.7 419.2L142.8 419.3L135.0 423.2L130.7 425.0ZM145.3 417.7L149.5 415.6L157.5 412.3L157.6 412.5L149.8 416.4L145.5 418.1ZM160.1 410.9L164.3 408.8L172.3 405.5L172.3 405.6L164.6 409.5L160.3 411.2ZM174.9 404.1L179.1 402.0L187.1 398.7L187.1 398.8L179.4 402.6L175.1 404.4ZM98.8 433.5L103.0 431.4L111.1 428.3L111.1 428.4L103.3 432.2L99.0 433.9ZM114.0 427.5L118.2 425.5L126.2 422.3L126.3 422.4L118.5 426.2L114.2 427.9ZM158.6 407.5L162.8 405.5L170.9 402.3L170.9 402.5L163.1 406.2L158.8 407.9ZM173.5 400.9L177.7 398.9L185.8 395.7L185.8 395.8L178.0 399.5L173.7 401.2ZM96.9 428.9L101.1 426.9L109.2 423.9L109.3 424.0L101.4 427.6L97.0 429.2ZM112.2 423.2L116.4 421.3L124.5 418.2L124.5 418.3L116.6 421.8L112.3 423.5ZM127.0 416.5L131.3 414.6L139.4 411.6L139.4 411.7L131.6 415.3L127.2 416.9ZM142.4 410.9L146.6 409.0L154.7 405.9L154.7 406.0L146.8 409.5L142.5 411.2ZM95.1 424.6L99.4 422.6L107.6 419.9L107.7 420.2L99.9 423.8L95.4 425.3ZM110.1 418.1L114.3 416.1L122.6 413.4L122.7 413.7L114.8 417.3L110.4 418.7ZM140.8 407.0L145.1 405.1L153.2 402.3L153.3 402.5L145.4 406.0L141.0 407.5ZM171.1 395.0L175.4 393.1L183.5 390.2L183.5 390.3L175.6 393.7L171.2 395.3ZM93.3 419.7L97.6 417.9L105.8 415.2L105.8 415.3L97.8 418.6L93.4 420.1ZM108.6 414.2L112.9 412.3L121.2 409.8L121.3 410.0L113.3 413.5L108.9 414.8ZM123.9 408.5L128.2 406.7L136.4 404.0L136.5 404.1L128.5 407.5L124.1 408.9ZM139.1 402.5L143.4 400.7L151.6 398.0L151.6 398.2L143.7 401.5L139.2 403.0ZM154.7 397.8L159.0 396.0L167.2 393.2L167.3 393.4L159.3 396.7L154.9 398.2ZM91.6 415.1L95.9 413.3L104.2 410.9L104.3 411.1L96.3 414.4L91.8 415.7ZM107.3 410.6L111.6 408.8L119.9 406.3L120.0 406.5L112.0 409.9L107.5 411.2ZM122.6 405.0L126.9 403.2L135.2 400.7L135.3 400.9L127.3 404.2L122.8 405.5ZM90.4 411.7L94.8 410.0L103.1 407.6L103.2 407.8L95.1 410.9L90.6 412.1ZM105.7 405.9L110.1 404.2L118.4 401.9L118.5 402.1L110.4 405.2L105.9 406.5ZM121.0 400.2L125.3 398.5L133.7 396.2L133.7 396.4L125.7 399.5L121.2 400.7ZM136.5 395.3L140.9 393.7L149.2 391.3L149.3 391.4L141.2 394.5L136.7 395.8ZM88.6 406.1L93.0 404.4L101.4 402.4L101.5 402.7L93.4 405.8L88.9 406.9ZM104.2 401.2L108.6 399.6L116.9 397.4L117.0 397.6L108.9 400.6L104.4 401.7ZM119.8 396.6L124.2 395.0L132.6 392.7L132.6 392.9L124.4 395.7L119.9 397.0ZM135.5 392.2L139.9 390.6L148.2 388.3L148.3 388.4L140.1 391.3L135.7 392.6ZM151.1 387.3L155.5 385.8L163.8 383.4L163.8 383.6L155.7 386.4L151.2 387.7ZM87.3 401.7L91.7 400.1L100.1 398.2L100.2 398.4L92.1 401.4L87.5 402.4ZM103.2 398.1L107.7 396.6L116.0 394.4L116.0 394.5L107.8 397.2L103.3 398.4ZM118.8 393.2L123.2 391.7L131.6 389.5L131.6 389.7L123.4 392.4L118.9 393.6ZM134.2 387.8L138.6 386.3L147.0 384.2L147.0 384.3L138.8 387.1L134.3 388.3ZM149.8 383.1L154.2 381.7L162.6 379.5L162.6 379.6L154.4 382.2L149.9 383.4ZM165.7 379.3L170.1 377.8L178.4 375.6L178.5 375.7L170.3 378.4L165.8 379.6ZM86.0 397.3L90.5 395.8L98.9 393.9L99.0 394.1L90.8 396.9L86.2 397.9ZM101.9 393.5L106.4 392.1L114.8 390.1L114.8 390.3L106.6 392.9L102.1 394.0ZM85.0 393.4L89.5 392.0L97.9 390.1L97.9 390.3L89.6 392.7L85.1 393.8ZM100.5 388.2L105.0 386.8L113.4 385.1L113.5 385.3L105.2 387.8L100.6 388.8ZM116.4 384.4L120.8 383.0L129.3 381.2L129.3 381.4L121.0 383.9L116.5 384.9ZM83.5 387.4L88.0 386.0L96.5 384.6L96.6 384.8L88.3 387.3L83.7 388.1ZM99.7 384.9L104.2 383.6L112.7 382.0L112.7 382.2L104.4 384.7L99.8 385.6ZM115.5 380.9L120.0 379.7L128.5 377.9L128.5 378.1L120.2 380.4L115.6 381.3ZM131.2 376.7L135.7 375.4L144.2 373.7L144.3 373.9L135.9 376.3L131.4 377.2ZM82.7 383.8L87.2 382.5L95.7 381.1L95.8 381.4L87.4 383.7L82.8 384.5ZM98.5 379.8L103.0 378.6L111.5 377.1L111.6 377.3L103.2 379.5L98.6 380.3ZM114.4 376.4L118.9 375.1L127.5 373.7L127.5 373.9L119.2 376.2L114.6 376.9ZM130.3 372.5L134.8 371.3L143.3 369.8L143.3 369.9L134.9 372.1L130.4 372.9ZM146.3 369.4L150.8 368.3L159.3 366.7L159.3 366.8L150.9 368.9L146.4 369.8ZM162.2 366.0L166.7 364.8L175.2 363.2L175.3 363.3L166.9 365.4L162.3 366.3ZM81.6 378.7L86.1 377.5L94.7 376.2L94.7 376.5L86.4 378.6L81.7 379.3ZM97.7 376.0L102.2 374.9L110.8 373.5L110.8 373.7L102.4 375.8L97.8 376.5ZM113.5 371.9L118.0 370.8L126.6 369.4L126.6 369.6L118.2 371.6L113.6 372.4ZM129.7 369.5L134.2 368.4L142.7 367.0L142.8 367.2L134.4 369.3L129.8 370.1ZM145.6 366.1L150.1 365.0L158.6 363.5L158.7 363.7L150.3 365.7L145.7 366.5ZM80.7 374.1L85.2 372.9L93.8 371.9L93.9 372.2L85.5 374.3L80.9 374.8ZM96.8 371.5L101.4 370.4L109.9 369.2L109.9 369.3L101.5 371.2L96.9 371.9ZM128.9 365.6L133.4 364.6L142.0 363.3L142.0 363.4L133.6 365.3L129.0 366.0ZM80.0 369.8L84.5 368.9L93.1 367.8L93.1 367.9L84.7 369.6L80.0 370.2ZM95.9 366.1L100.4 365.1L109.0 364.1L109.1 364.3L100.6 366.2L96.0 366.7ZM112.0 363.7L116.6 362.7L125.2 361.7L125.2 361.9L116.7 363.7L112.1 364.2ZM144.3 359.1L148.9 358.2L157.4 357.0L157.4 357.1L149.0 358.8L144.4 359.5ZM160.3 355.8L164.8 354.8L173.4 353.7L173.4 353.8L164.9 355.5L160.3 356.1ZM79.2 364.7L83.7 363.8L92.3 362.9L92.4 363.0L83.9 364.6L79.2 365.1ZM95.3 362.4L99.9 361.4L108.5 360.6L108.5 360.8L100.0 362.5L95.4 362.9ZM111.4 359.7L115.9 358.8L124.6 357.9L124.6 358.1L116.1 359.7L111.5 360.2ZM127.5 357.2L132.1 356.3L140.7 355.4L140.7 355.6L132.2 357.3L127.6 357.8ZM143.7 355.6L148.3 354.8L156.9 353.8L156.9 353.9L148.4 355.5L143.8 356.1ZM78.5 359.9L83.1 359.0L91.7 358.3L91.7 358.5L83.2 360.1L78.6 360.4ZM94.8 358.5L99.3 357.7L108.0 356.8L108.0 357.0L99.4 358.4L94.8 358.9ZM110.8 355.3L115.4 354.5L124.0 353.8L124.0 354.0L115.5 355.5L110.9 355.9ZM127.1 354.1L131.6 353.3L140.3 352.5L140.3 352.7L131.8 354.1L127.1 354.6ZM143.2 351.6L147.8 350.8L156.4 350.0L156.4 350.2L147.9 351.6L143.2 352.0ZM78.0 355.5L82.6 354.8L91.2 354.1L91.2 354.3L82.7 355.6L78.0 355.9ZM94.2 354.0L98.8 353.3L107.4 352.6L107.4 352.7L98.9 354.0L94.2 354.4ZM110.3 351.5L114.9 350.8L123.6 350.2L123.6 350.5L115.0 351.9L110.4 352.2ZM126.5 349.3L131.1 348.7L139.7 348.0L139.7 348.1L131.2 349.3L126.5 349.7ZM142.7 348.0L147.3 347.4L156.0 346.6L156.0 346.8L147.4 348.0L142.8 348.4ZM77.4 349.7L82.0 348.9L90.6 348.7L90.7 349.0L82.1 350.4L77.4 350.5ZM93.6 348.4L98.2 347.7L106.9 347.4L106.9 347.6L98.3 348.9L93.7 349.0ZM109.9 347.5L114.5 346.8L123.2 346.4L123.2 346.6L114.6 347.9L110.0 348.1ZM126.2 346.4L130.8 345.8L139.4 345.2L139.4 345.4L130.9 346.6L126.2 346.8ZM77.0 345.8L81.6 345.1L90.3 345.0L90.3 345.2L81.8 346.5L77.1 346.5ZM93.3 344.4L97.9 343.8L106.5 343.5L106.6 343.7L98.0 344.8L93.3 344.9ZM109.5 342.6L114.1 342.1L122.8 341.8L122.8 341.9L114.2 342.9L109.5 343.1ZM125.8 342.2L130.4 341.7L139.1 341.3L139.1 341.5L130.5 342.5L125.8 342.7ZM142.0 340.6L146.6 340.0L155.3 339.6L155.3 339.8L146.7 340.7L142.0 340.9ZM76.7 341.4L81.4 340.8L90.0 340.7L90.0 340.9L81.4 341.9L76.8 341.9ZM92.9 339.4L97.6 339.0L106.2 338.8L106.2 338.9L97.6 339.7L93.0 339.8ZM109.3 339.6L113.9 339.1L122.6 338.9L122.6 339.0L114.0 339.9L109.3 340.0ZM76.5 336.6L81.1 336.2L89.8 336.2L89.8 336.3L81.1 337.1L76.5 337.1ZM92.7 335.7L97.4 335.2L106.0 335.3L106.0 335.5L97.4 336.4L92.8 336.3ZM109.0 334.6L113.7 334.2L122.3 334.2L122.3 334.3L113.7 335.1L109.0 335.1ZM125.3 333.8L129.9 333.4L138.6 333.3L138.6 333.5L130.0 334.1L125.3 334.2ZM141.6 333.2L146.2 332.9L154.9 332.8L154.9 332.9L146.3 333.6L141.6 333.6ZM76.3 331.2L80.9 331.0L89.6 331.0L89.6 331.2L81.0 331.7L76.3 331.7ZM92.6 331.0L97.2 330.6L105.9 330.8L105.9 331.0L97.3 331.7L92.6 331.6ZM108.9 330.2L113.5 329.9L122.2 330.0L122.2 330.2L113.5 330.7L108.9 330.6ZM125.2 330.6L129.8 330.2L138.5 330.3L138.5 330.5L129.9 331.2L125.2 331.1ZM141.5 329.8L146.1 329.5L154.8 329.6L154.8 329.7L146.1 330.3L141.5 330.2ZM76.2 326.8L80.9 326.5L89.5 326.8L89.5 327.0L80.9 327.4L76.2 327.3ZM92.5 326.6L97.2 326.4L105.8 326.7L105.8 326.8L97.2 327.3L92.5 327.1ZM108.8 326.4L113.5 326.2L122.1 326.4L122.1 326.5L113.5 326.8L108.8 326.7ZM76.2 321.2L80.9 321.0L89.5 321.5L89.5 321.7L80.9 322.0L76.2 321.7ZM92.5 321.7L97.2 321.5L105.8 322.0L105.8 322.2L97.2 322.5L92.5 322.2ZM108.8 322.0L113.5 321.8L122.1 322.3L122.1 322.6L113.5 322.9L108.8 322.6ZM141.4 322.3L146.1 322.1L154.7 322.5L154.7 322.7L146.1 322.9L141.4 322.7ZM76.3 317.0L81.0 316.9L89.6 317.6L89.6 317.8L80.9 318.1L76.3 317.7ZM92.6 317.9L97.2 317.7L105.9 318.4L105.9 318.7L97.2 318.9L92.6 318.5ZM108.9 318.2L113.5 318.1L122.2 318.7L122.2 318.9L113.5 319.0L108.9 318.7ZM125.2 318.9L129.8 318.8L138.5 319.3L138.5 319.5L129.8 319.7L125.2 319.4ZM141.5 318.9L146.1 318.8L154.8 319.4L154.8 319.5L146.1 319.6L141.5 319.3ZM73.3 311.1L160.5 315.9L160.5 316.3L73.2 313.4ZM73.5 307.6L167.1 313.3L167.1 313.7L73.5 308.2ZM73.9 302.7L176.6 311.1L176.6 311.5L73.7 304.2ZM74.4 296.6L188.4 308.3L188.3 308.7L74.3 297.8ZM74.9 292.2L188.5 305.7L188.5 306.1L74.7 293.5ZM75.4 287.8L194.8 303.9L194.8 304.3L75.3 288.8ZM76.2 282.3L182.9 298.9L182.8 299.2L76.1 283.3ZM76.8 278.5L153.8 291.9L153.8 292.3L76.5 280.3ZM77.6 274.3L184.6 294.1L184.6 294.5L77.4 275.2ZM78.8 268.0L183.2 289.9L183.1 290.3L78.6 269.2ZM79.8 263.6L167.0 283.5L166.9 283.9L79.5 264.8ZM80.6 260.3L193.0 287.0L192.9 287.4L80.4 260.9ZM82.1 254.0L210.0 287.8L209.9 288.2L81.8 255.2ZM83.4 249.2L200.3 282.4L200.2 282.8L83.1 250.4ZM84.4 245.9L208.4 282.7L208.3 283.1L84.0 247.1ZM86.3 239.7L166.6 266.0L166.5 266.4L85.7 241.5ZM87.7 235.3L183.1 268.3L182.9 268.7L87.0 237.6ZM88.9 231.9L191.5 268.5L191.4 268.9L88.5 233.1ZM90.5 227.6L178.1 260.6L178.0 260.9L90.1 228.8ZM92.6 222.1L191.5 261.6L191.4 261.9L92.3 223.0ZM94.6 217.2L214.9 268.2L214.7 268.6L93.7 219.4ZM96.3 213.3L218.8 267.5L218.7 267.8L95.3 215.5ZM98.4 208.5L173.1 243.1L172.9 243.5L98.0 209.4ZM100.4 204.3L196.1 250.7L195.9 251.0L99.8 205.7ZM102.5 200.2L217.7 258.2L217.5 258.6L101.9 201.3ZM104.1 197.0L187.4 240.3L187.2 240.7L103.6 197.9ZM106.9 191.7L212.0 249.3L211.8 249.7L106.3 192.8ZM109.5 187.1L180.4 227.6L180.2 228.0L109.2 187.6ZM112.1 182.7L246.3 262.7L246.1 263.0L111.5 183.5ZM114.0 179.5L245.0 260.2L244.8 260.5L113.2 180.9ZM116.9 174.8L255.4 263.7L255.1 264.1L116.4 175.7ZM119.5 170.9L200.0 225.0L199.8 225.3L118.6 172.3ZM121.9 167.3L244.4 251.7L244.2 252.1L121.4 168.1ZM124.9 163.1L211.0 225.4L210.8 225.7L123.7 164.7ZM127.6 159.4L200.4 214.1L200.2 214.4L126.4 161.0ZM131.3 154.5L227.1 230.1L226.9 230.4L129.0 157.5ZM133.9 151.2L265.8 257.7L265.6 258.0L131.5 154.2ZM137.4 146.9L257.7 247.6L257.5 247.9L136.4 148.2ZM140.4 143.4L258.2 245.4L257.9 245.7L139.3 144.7ZM143.3 140.1L270.0 253.6L269.8 253.9L141.3 142.3ZM146.4 136.6L252.8 235.3L252.5 235.6L144.8 138.4ZM149.7 133.2L224.3 204.5L224.0 204.8L149.0 133.9ZM152.8 130.0L272.3 248.3L272.0 248.6L151.1 131.7ZM156.7 126.1L227.4 199.3L227.1 199.6L155.2 127.5ZM159.5 123.4L238.1 207.0L237.9 207.3L158.0 124.8ZM162.7 120.4L261.8 228.5L261.5 228.8L162.0 121.1ZM167.0 116.6L245.7 206.8L245.4 207.0L165.2 118.2ZM171.6 112.6L235.1 188.8L234.8 189.1L170.0 113.9ZM174.7 110.0L240.2 191.7L239.9 192.0L171.8 112.4ZM178.7 106.8L254.6 203.7L254.3 204.0L177.4 107.8ZM181.4 104.7L251.0 195.9L250.7 196.1L180.1 105.7ZM185.1 101.9L256.8 199.2L256.5 199.4L183.8 102.9ZM190.1 98.3L242.4 172.5L242.1 172.7L189.3 98.9ZM193.1 96.2L279.9 222.7L279.5 223.0L191.8 97.1ZM198.3 92.7L249.2 172.3L248.8 172.6L195.1 94.8ZM201.4 90.8L252.6 172.3L252.3 172.5L199.7 91.8ZM206.4 87.6L259.0 175.5L258.7 175.7L204.3 88.9ZM209.6 85.7L271.1 190.8L270.7 191.0L208.2 86.6ZM215.1 82.6L299.5 234.4L299.1 234.6L213.0 83.7ZM217.9 81.1L274.0 185.1L273.7 185.3L216.4 81.8ZM221.8 78.9L291.7 212.8L291.3 213.0L220.9 79.4ZM227.7 76.0L283.8 190.8L283.5 191.0L225.9 76.9ZM231.0 74.4L284.5 187.0L284.1 187.2L230.0 74.8ZM235.8 72.1L291.6 196.6L291.3 196.7L233.6 73.2ZM240.1 70.2L294.3 197.0L294.0 197.2L237.4 71.4ZM245.3 68.1L290.0 178.9L289.6 179.1L243.0 69.0ZM249.0 66.6L285.4 161.1L285.1 161.3L246.8 67.4ZM253.6 64.8L292.8 170.6L292.4 170.8L252.7 65.2ZM257.8 63.3L308.6 208.2L308.2 208.3L255.5 64.1ZM263.1 61.5L295.1 159.5L294.7 159.7L261.2 62.1ZM268.1 59.9L317.6 221.1L317.2 221.2L265.2 60.8ZM271.4 58.9L308.4 184.7L308.0 184.8L269.8 59.4ZM276.8 57.3L314.2 194.7L313.9 194.8L275.3 57.8ZM282.0 56.0L317.4 196.6L317.0 196.7L280.5 56.4ZM286.7 54.8L320.3 200.9L319.9 201.0L283.0 55.7ZM291.4 53.8L323.9 205.0L323.5 205.1L289.4 54.2ZM295.6 56.2L297.2 60.6L297.8 69.3L297.2 69.4L294.3 61.2L294.0 56.5ZM298.8 72.1L300.4 76.6L301.0 85.3L300.4 85.4L297.5 77.2L297.2 72.5ZM302.6 88.0L304.0 92.5L305.0 101.1L304.6 101.2L302.2 92.8L301.6 88.2ZM305.6 104.0L307.0 108.5L307.9 117.1L307.6 117.2L305.0 108.9L304.5 104.2ZM308.4 120.1L309.7 124.6L310.9 133.2L310.6 133.2L308.3 124.9L307.7 120.2ZM312.3 135.9L313.6 140.4L314.7 149.0L314.4 149.1L312.2 140.7L311.6 136.1ZM314.8 152.1L315.9 156.6L317.3 165.1L317.2 165.2L315.1 156.7L314.3 152.2ZM318.0 168.0L319.2 172.6L320.5 181.1L320.4 181.1L318.3 172.7L317.5 168.1ZM321.9 183.9L323.0 188.4L324.4 196.9L324.3 197.0L322.3 188.5L321.5 184.0ZM301.6 55.0L303.1 59.5L303.4 68.2L302.8 68.3L300.0 60.0L299.8 55.3ZM302.9 71.3L304.2 75.8L305.1 84.5L304.8 84.5L302.6 76.1L302.1 71.5ZM306.9 87.2L308.2 91.7L308.9 100.3L308.5 100.4L306.0 92.1L305.7 87.4ZM309.7 103.2L310.9 107.7L311.8 116.4L311.4 116.4L309.2 108.1L308.7 103.4ZM311.9 119.4L313.1 123.9L314.1 132.5L313.8 132.6L311.6 124.2L311.1 119.6ZM317.9 151.4L319.1 156.0L320.2 164.6L319.9 164.6L317.8 156.2L317.2 151.6ZM320.9 167.5L321.9 172.0L323.2 180.6L323.0 180.6L321.0 172.2L320.4 167.6ZM324.3 183.4L325.3 188.0L326.6 196.5L326.5 196.5L324.6 188.1L323.9 183.5ZM305.9 54.3L307.0 58.8L307.7 67.5L307.3 67.5L305.2 59.1L304.8 54.5ZM308.1 70.4L309.3 75.0L310.0 83.6L309.6 83.7L307.5 75.3L307.1 70.6ZM310.4 86.6L311.5 91.1L312.3 99.7L312.0 99.8L310.0 91.4L309.6 86.7ZM313.2 102.6L314.2 107.2L315.2 115.8L314.9 115.8L313.0 107.4L312.5 102.7ZM316.2 118.7L317.3 123.2L318.1 131.8L317.8 131.9L315.7 123.5L315.3 118.8ZM319.1 134.7L320.2 139.2L321.0 147.9L320.7 147.9L318.7 139.5L318.3 134.8ZM321.6 150.8L322.6 155.4L323.6 164.0L323.4 164.0L321.5 155.5L321.0 150.9ZM326.3 183.1L327.3 187.6L328.4 196.2L328.2 196.2L326.4 187.8L325.9 183.1ZM310.3 53.6L311.3 58.1L311.9 66.8L311.5 66.9L309.5 58.4L309.3 53.7ZM312.5 69.7L313.9 74.2L313.9 83.0L313.3 83.1L310.7 74.7L310.8 70.0ZM314.7 85.9L316.0 90.4L316.3 99.1L315.8 99.2L313.5 90.8L313.4 86.1ZM316.9 102.1L317.8 106.6L318.6 115.2L318.4 115.3L316.6 106.8L316.2 102.2ZM319.7 118.1L320.8 122.7L321.3 131.3L320.9 131.4L318.9 122.9L318.6 118.3ZM322.1 134.2L322.9 138.8L323.9 147.4L323.7 147.4L322.1 138.9L321.6 134.3ZM324.4 150.4L325.3 154.9L326.2 163.6L326.0 163.6L324.3 155.1L323.8 150.5ZM326.6 166.5L327.4 171.1L328.4 179.7L328.3 179.7L326.8 171.2L326.2 166.6ZM314.7 53.0L316.1 57.5L315.9 66.2L315.2 66.3L312.7 57.9L312.9 53.2ZM316.9 69.1L318.2 73.7L318.1 82.4L317.6 82.5L315.3 74.0L315.3 69.3ZM319.3 85.3L320.4 89.8L320.7 98.5L320.2 98.6L318.2 90.1L318.1 85.4ZM321.3 101.4L322.3 106.0L322.8 114.7L322.5 114.7L320.8 106.2L320.5 101.5ZM323.6 117.6L324.5 122.2L325.0 130.8L324.7 130.8L323.0 122.4L322.7 117.7ZM325.6 133.8L326.5 138.3L327.0 147.0L326.7 147.0L325.0 138.5L324.7 133.9ZM329.7 166.1L330.5 170.7L331.3 179.3L331.1 179.3L329.6 170.8L329.2 166.2ZM319.5 52.4L320.5 57.0L320.7 65.7L320.3 65.7L318.6 57.2L318.5 52.5ZM321.1 68.6L322.0 73.2L322.3 81.9L322.0 81.9L320.4 73.4L320.2 68.7ZM323.5 84.8L324.6 89.3L324.5 98.0L323.9 98.1L321.8 89.6L321.9 84.9ZM325.3 101.0L326.2 105.5L326.5 114.2L326.2 114.2L324.6 105.7L324.4 101.1ZM326.7 117.2L327.7 121.8L327.9 130.5L327.5 130.5L325.7 122.0L325.6 117.3ZM328.2 133.4L329.1 138.0L329.5 146.7L329.2 146.7L327.5 138.2L327.4 133.5ZM330.1 149.6L330.9 154.2L331.4 162.9L331.1 162.9L329.5 154.4L329.3 149.7ZM332.0 165.8L332.7 170.4L333.4 179.0L333.3 179.1L332.0 170.5L331.6 165.9ZM334.0 182.0L334.7 186.6L335.4 195.2L335.2 195.2L333.9 186.7L333.6 182.0ZM324.4 51.9L325.3 56.5L325.4 65.2L325.0 65.2L323.5 56.7L323.5 52.0ZM326.2 68.1L327.2 72.7L327.0 81.4L326.4 81.4L324.5 72.9L324.6 68.3ZM327.1 84.4L328.1 89.0L328.0 97.7L327.5 97.7L325.7 89.2L325.8 84.5ZM329.6 100.5L330.5 105.1L330.5 113.8L330.0 113.8L328.3 105.3L328.4 100.6ZM330.9 116.8L331.8 121.4L331.8 130.1L331.4 130.1L329.8 121.6L329.8 116.9ZM332.1 133.0L332.9 137.6L333.2 146.3L332.9 146.3L331.6 137.8L331.4 133.1ZM333.7 149.3L334.4 153.9L334.8 162.5L334.6 162.5L333.3 154.0L333.1 149.3ZM334.6 165.5L335.2 170.2L335.8 178.8L335.7 178.8L334.5 170.2L334.2 165.6ZM329.4 51.5L330.6 56.0L329.9 64.8L329.1 64.8L327.0 56.3L327.5 51.6ZM330.2 67.8L331.1 72.4L330.8 81.1L330.3 81.1L328.7 72.6L328.8 67.9ZM331.5 84.0L332.2 88.6L332.2 97.3L331.9 97.3L330.7 88.7L330.6 84.1ZM332.4 100.3L333.2 104.9L333.2 113.6L332.8 113.6L331.4 105.0L331.4 100.4ZM334.4 116.5L335.0 121.1L335.1 129.8L334.8 129.8L333.6 121.2L333.6 116.5ZM334.9 132.8L335.7 137.4L335.7 146.1L335.4 146.1L334.0 137.5L334.0 132.9ZM336.7 149.0L337.2 153.6L337.6 162.3L337.5 162.3L336.6 153.7L336.4 149.0ZM337.4 165.3L337.9 169.9L338.3 178.6L338.2 178.6L337.2 170.0L337.0 165.3ZM334.5 51.1L335.3 55.8L334.9 64.4L334.4 64.5L333.0 55.9L333.3 51.2ZM334.8 67.5L335.5 72.1L335.2 80.7L334.8 80.8L333.4 72.2L333.6 67.5ZM335.8 83.7L336.5 88.3L336.3 97.0L336.0 97.0L334.7 88.4L334.8 83.8ZM336.9 100.0L337.6 104.6L337.4 113.3L337.1 113.3L335.9 104.7L336.0 100.0ZM337.8 116.3L338.4 120.9L338.4 129.5L338.2 129.6L337.1 121.0L337.1 116.3ZM338.6 132.5L339.2 137.2L339.2 145.8L338.9 145.8L337.8 137.2L337.9 132.6ZM341.2 181.4L341.6 186.0L341.9 194.7L341.8 194.7L341.0 186.0L340.8 181.4ZM339.0 50.9L339.8 55.5L339.1 64.2L338.6 64.2L337.2 55.7L337.6 51.0ZM338.8 67.2L339.5 71.9L339.0 80.5L338.6 80.6L337.4 72.0L337.6 67.3ZM340.6 83.5L341.2 88.1L340.8 96.8L340.4 96.8L339.3 88.2L339.5 83.5ZM340.7 99.8L341.2 104.4L341.0 113.1L340.8 113.1L339.9 104.5L340.0 99.8ZM341.7 116.1L342.4 120.7L342.0 129.4L341.6 129.4L340.4 120.8L340.7 116.1ZM341.8 132.4L342.3 137.0L342.2 145.7L342.0 145.7L341.1 137.1L341.2 132.4ZM343.4 164.9L343.8 169.6L343.8 178.2L343.7 178.2L343.0 169.6L343.0 165.0ZM344.3 181.2L344.7 185.9L344.7 194.5L344.6 194.5L343.9 185.9L343.9 181.2ZM343.2 50.8L344.1 55.4L343.0 64.1L342.3 64.1L340.7 55.5L341.3 50.8ZM344.2 67.1L345.0 71.7L344.0 80.4L343.4 80.4L342.0 71.8L342.5 67.1ZM344.0 83.4L344.6 88.0L344.0 96.7L343.6 96.7L342.5 88.1L342.8 83.4ZM344.5 99.7L345.1 104.3L344.4 113.0L344.0 113.0L342.9 104.4L343.2 99.7ZM344.7 116.0L345.2 120.6L344.8 129.3L344.4 129.3L343.5 120.7L343.8 116.0ZM345.3 132.3L345.7 136.9L345.5 145.6L345.3 145.6L344.6 136.9L344.7 132.3ZM345.7 148.6L346.0 153.2L345.8 161.9L345.6 161.9L345.0 153.2L345.1 148.6ZM345.7 164.9L346.0 169.5L346.0 178.2L345.9 178.2L345.4 169.5L345.4 164.9ZM348.9 50.7L349.6 55.4L348.5 64.0L348.0 64.0L346.8 55.4L347.4 50.7ZM348.1 67.0L348.6 71.7L347.9 80.3L347.5 80.3L346.6 71.7L347.0 67.0ZM348.3 83.3L348.9 88.0L347.9 96.6L347.4 96.6L346.2 88.0L346.7 83.3ZM348.9 99.6L349.3 104.3L348.7 112.9L348.4 112.9L347.7 104.3L348.0 99.6ZM348.7 115.9L349.1 120.6L348.6 129.2L348.2 129.2L347.5 120.6L347.9 115.9ZM348.2 132.2L348.5 136.9L348.2 145.5L348.1 145.5L347.7 136.9L347.8 132.2ZM348.4 164.8L348.6 169.5L348.4 178.1L348.3 178.1L348.0 169.5L348.0 164.8ZM349.1 181.1L349.3 185.8L349.0 194.4L348.9 194.4L348.4 185.8L348.6 181.1ZM623.8 298.7L583.8 300.7L583.6 299.2L623.2 292.8ZM616.0 401.9L573.5 386.7L574.0 384.8L618.4 393.3ZM605.3 432.0L539.8 402.0L540.4 400.6L608.3 424.6ZM595.4 452.9L528.0 415.7L528.4 414.9L598.2 447.6ZM578.0 481.9L507.2 431.2L507.8 430.3L581.3 476.9ZM557.4 508.1L493.1 449.5L493.7 448.8L560.7 504.3ZM151.5 244.4L179.1 256.4L178.5 257.8L150.2 247.7ZM164.3 294.9L205.7 302.2L205.6 303.2L163.9 297.9ZM110.9 184.7L155.4 211.6L154.9 212.4L109.4 187.3ZM203.7 147.0L279.7 239.9L278.9 240.6L200.6 149.6ZM215.5 113.7L285.1 223.6L284.2 224.1L212.2 115.9ZM257.7 147.1L303.5 236.0L302.6 236.4L254.6 148.7ZM214.5 191.3L264.0 240.8L263.3 241.5L212.1 193.8ZM273.0 107.8L299.2 183.4L298.2 183.7L269.7 109.0ZM391.0 50.5L380.7 111.7L379.2 111.5L386.1 49.8ZM526.1 538.3L478.2 478.0L478.9 477.4L530.0 535.1ZM486.3 565.6L457.1 510.9L457.9 510.4L490.7 563.1ZM451.9 582.1L430.1 524.0L431.0 523.7L455.6 580.6ZM235 573L241 576L281 498L306 445L305 444L277 496Z" fill="#f8f8f8"/>
</g></g>
<polygon points="146.0,205.0 150.0,209.0 165.0,218.0 182.5,227.5 200.0,238.0 217.5,250.0 230.0,259.0 250.0,252.5 275.0,247.0 285.0,240.0 290.0,225.0 295.0,210.0 300.0,197.0 305.0,200.0 301.0,192.0 300.0,180.0 315.0,167.5 322.5,152.5 347.5,145.0 352.5,143.8 375.0,146.0 385.0,147.5 397.5,145.0 415.0,156.0 425.0,162.5 450.0,164.0 459.0,164.0 461.0,175.0 467.5,180.0 475.0,179.0 487.5,181.0 500.0,187.5 510.0,192.5 517.5,191.0 527.5,199.0 530.0,210.0 526.0,217.5 530.0,227.5 535.0,240.0 537.5,250.0 532.5,262.5 532.5,275.0 545.0,290.0 555.0,296.0 564.0,297.5 567.5,315.0 562.5,321.0 562.5,335.0 565.0,344.0 575.0,347.5 577.5,357.5 569.0,361.0 566.0,372.5 557.5,382.5 550.0,392.5 552.5,405.0 551.0,414.0 544.0,415.0 535.0,422.5 529.0,435.0 527.0,447.5 514.0,454.0 515.0,465.0 507.5,475.0 510.0,482.0 500.0,480.0 485.0,487.5 475.0,491.0 467.5,494.0 457.5,492.5 447.5,494.0 437.5,497.5 425.0,497.5 412.5,495.0 400.0,492.5 387.5,492.5 377.5,485.0 380.0,467.5 387.5,450.0 385.0,435.0 377.5,430.0 370.0,437.5 357.5,435.0 342.5,430.0 330.0,426.0 320.0,424.0 312.5,426.0 305.0,430.0 300.0,425.0 290.0,425.0 275.0,431.0 262.5,425.0 250.0,420.0 240.0,410.0 229.0,414.0 230.0,405.0 225.0,395.0 220.0,387.5 217.5,375.0 222.5,367.5 220.0,355.0 210.0,354.0 202.5,360.0 192.5,357.5 189.0,345.0 195.0,337.5 194.0,325.0 197.5,312.5 205.0,302.5 200.0,292.5 202.5,277.5 198.0,268.0 188.0,262.0 177.5,260.0 170.0,255.0 160.0,245.0 150.0,230.0 146.0,212.0" fill="#f80000" stroke="#000" stroke-width="1" stroke-linejoin="round"/>
<polygon points="171.0,263.0 180.0,261.0 192.0,262.0 200.0,266.0 202.0,274.0 196.0,280.0 186.0,279.0 178.0,275.0 172.0,270.0" fill="#f80000" stroke="#000" stroke-width="1"/>
<g clip-path="url(#contclip)"><path d="M481.4 425.1L459.2 407.5L459.5 407.1L482.4 423.8ZM465.5 424.2L456.7 415.9L457.0 415.5L466.6 422.8ZM467.2 454.8L460.8 447.0L461.1 446.7L468.3 453.8ZM533.4 375.7L511.1 369.2L511.2 368.8L533.7 374.7ZM423.9 519.1L416.5 497.9L417.0 497.8L425.7 518.4ZM436.0 355.5L417.6 348.6L417.8 348.2L436.4 354.4ZM450.0 364.6L442.1 360.9L442.3 360.4L450.6 363.0ZM502.7 438.4L487.5 426.3L487.8 425.9L503.9 436.9ZM477.9 432.7L464.4 420.8L464.7 420.4L478.8 431.6ZM423.4 527.6L415.0 502.5L415.5 502.3L425.3 526.9ZM447.7 379.1L435.3 371.9L435.5 371.5L448.2 378.1ZM430.3 444.8L415.8 422.5L416.3 422.2L431.6 444.0ZM418.2 490.7L415.5 483.2L416.0 483.0L419.4 490.2ZM416.1 465.8L404.0 438.8L404.4 438.6L417.6 465.1ZM515.1 367.6L490.9 360.9L491.0 360.4L515.5 366.2ZM484.0 362.1L456.0 353.6L456.1 353.1L484.5 360.0ZM454.8 357.3L445.1 354.0L445.2 353.5L455.1 356.2ZM408.7 419.4L398.4 401.9L398.8 401.7L410.2 418.5ZM506.7 387.1L496.8 382.4L497.0 382.0L507.4 385.3ZM477.2 364.1L465.2 359.9L465.3 359.5L477.6 362.7ZM416.0 493.1L411.4 479.2L411.9 479.0L418.2 492.3ZM482.6 380.9L458.2 369.9L458.4 369.4L483.4 379.1ZM543.4 380.7L531.3 376.8L531.5 376.3L543.8 379.4ZM418.2 428.0L410.4 415.8L410.9 415.5L419.1 427.4ZM497.5 366.1L484.8 361.9L485.0 361.4L498.0 364.3ZM479.3 407.2L455.0 391.2L455.3 390.8L480.2 405.8ZM482.3 455.3L474.0 446.6L474.3 446.2L483.2 454.4ZM427.6 488.7L422.1 476.4L422.6 476.2L428.8 488.2ZM462.7 483.8L456.3 473.3L456.7 473.0L464.7 482.4ZM422.2 467.0L414.6 451.4L415.0 451.2L423.2 466.4ZM544.0 367.9L531.2 364.3L531.3 363.8L544.4 365.9ZM521.3 406.7L502.4 397.2L502.6 396.7L521.9 405.4ZM505.2 383.3L496.4 379.6L496.6 379.1L505.7 382.1ZM489.9 458.6L474.7 443.4L475.0 443.0L490.9 457.5ZM392.8 418.0L389.6 410.3L390.1 410.0L394.0 417.4ZM421.0 378.4L411.8 370.9L412.1 370.5L421.9 377.2ZM422.0 396.4L411.2 384.6L411.5 384.3L423.6 394.8ZM411.3 485.3L403.5 463.4L404.0 463.2L413.0 484.6ZM428.0 351.7L420.3 348.2L420.5 347.7L428.7 349.5ZM468.5 478.1L463.9 471.0L464.3 470.7L470.1 476.9ZM483.5 434.0L472.5 423.8L472.8 423.4L485.1 432.0ZM504.4 365.7L481.1 358.7L481.3 358.2L504.9 363.4ZM454.2 471.1L440.1 449.9L440.5 449.7L456.1 469.8ZM503.5 418.5L480.2 403.4L480.5 402.9L504.7 416.5ZM506.6 435.4L484.9 419.3L485.1 418.9L507.6 433.9ZM441.7 425.9L428.1 410.1L428.5 409.8L443.1 424.6ZM520.4 370.8L491.8 362.3L491.9 361.8L521.0 368.5ZM432.6 438.5L418.8 418.6L419.2 418.3L434.1 437.4ZM494.6 432.5L487.1 426.0L487.4 425.6L495.8 430.8ZM507.2 358.0L489.1 353.8L489.2 353.3L507.5 356.7ZM442.4 444.2L429.8 426.7L430.2 426.4L444.2 442.7ZM427.3 362.2L414.4 355.3L414.6 354.8L428.1 360.4ZM459.2 370.0L433.6 358.8L433.8 358.3L459.9 368.2ZM503.9 439.7L492.1 430.0L492.4 429.6L505.1 438.1ZM486.3 380.6L462.8 370.1L463.0 369.7L487.2 378.4ZM411.9 446.7L402.8 427.9L403.3 427.7L413.2 446.0ZM497.9 374.2L473.0 365.1L473.2 364.7L498.6 372.1ZM469.6 482.4L461.4 471.0L461.8 470.7L470.6 481.6ZM441.9 394.9L432.1 386.8L432.4 386.4L442.9 393.6ZM446.5 431.7L437.1 420.0L437.4 419.7L448.2 430.1ZM495.4 346.0L490.9 345.1L491.0 344.5L495.6 345.0ZM362.3 110.9L361.8 115.2L361.2 115.1L361.3 110.8ZM508.7 270.0L502.5 271.9L502.3 271.3L508.3 269.0ZM426.8 310.3L421.8 311.0L421.7 310.5L426.7 309.3ZM410.7 265.5L402.9 272.9L402.5 272.4L410.0 264.8ZM389.5 236.0L387.5 239.9L387.0 239.7L388.6 235.6ZM484.2 256.4L476.1 260.4L475.8 259.8L483.8 255.5ZM542.1 237.5L531.4 242.2L531.1 241.6L541.7 236.6ZM452.2 284.7L444.9 287.4L444.7 286.8L451.8 283.7ZM374.9 249.0L372.3 256.3L371.7 256.1L373.9 248.7ZM449.5 291.6L443.6 293.3L443.4 292.8L449.2 290.6ZM458.1 168.6L453.3 175.2L452.8 174.8L457.3 168.0ZM524.3 230.2L517.9 233.5L517.6 232.9L523.8 229.3ZM565.9 283.8L561.2 284.5L561.1 283.9L565.7 282.8ZM540.3 335.8L535.3 335.4L535.3 334.8L540.3 334.8ZM479.4 197.4L471.2 205.2L470.8 204.8L478.7 196.7ZM455.6 188.6L448.7 197.3L448.2 196.9L454.8 188.0ZM575.2 284.0L567.6 285.2L567.4 284.6L575.0 283.0ZM452.3 277.6L443.4 281.5L443.1 281.0L451.9 276.7ZM530.6 299.1L521.0 300.3L520.9 299.7L530.5 298.1ZM432.6 114.3L428.1 125.3L427.6 125.1L431.7 113.9ZM514.7 347.4L504.5 345.8L504.5 345.2L514.8 346.4ZM470.6 132.8L464.6 141.9L464.1 141.6L469.7 132.3ZM402.3 250.3L397.8 256.4L397.3 256.0L401.5 249.7ZM514.8 209.8L508.3 214.2L507.9 213.7L514.3 209.0ZM360.6 120.8L360.2 125.3L359.6 125.3L359.6 120.8ZM452.8 306.8L446.2 307.8L446.1 307.2L452.7 305.9ZM445.9 306.0L440.8 306.8L440.7 306.2L445.7 305.0ZM504.4 203.0L495.9 209.5L495.5 209.0L503.8 202.2ZM564.1 242.6L556.6 245.2L556.4 244.7L563.8 241.6ZM439.2 332.7L433.4 332.0L433.5 331.4L439.2 331.7ZM450.7 248.3L442.8 254.1L442.4 253.7L450.1 247.5ZM497.8 252.6L488.1 257.1L487.8 256.6L497.4 251.7ZM455.5 253.9L449.5 257.7L449.2 257.2L454.9 253.1ZM568.8 304.0L563.1 304.4L563.1 303.8L568.7 303.0ZM582.3 305.0L574.1 305.5L574.1 304.9L582.2 304.0ZM443.2 265.3L436.1 269.6L435.8 269.1L442.7 264.4ZM482.0 215.7L478.6 218.2L478.2 217.7L481.3 214.9ZM508.5 344.3L501.4 343.2L501.5 342.6L508.7 343.3ZM515.6 296.1L507.7 297.3L507.6 296.7L515.4 295.1ZM433.2 293.3L425.4 296.0L425.1 295.5L432.8 292.3ZM505.4 148.9L497.7 157.3L497.2 156.9L504.6 148.2ZM418.7 190.3L416.2 194.7L415.7 194.4L417.8 189.9ZM495.7 170.9L487.9 178.9L487.5 178.5L495.0 170.2ZM443.7 239.8L439.4 243.4L439.0 242.9L443.0 239.1ZM546.8 219.5L542.3 221.7L542.0 221.2L546.3 218.6ZM427.6 308.4L422.1 309.4L422.0 308.8L427.3 307.4ZM422.5 152.7L419.8 158.7L419.2 158.4L421.6 152.3ZM451.5 183.2L448.6 187.0L448.1 186.7L450.7 182.6ZM443.6 296.6L435.9 298.7L435.7 298.1L443.4 295.6ZM397.0 225.2L393.3 232.6L392.8 232.3L396.1 224.7ZM445.3 225.5L440.1 230.6L439.6 230.2L444.5 224.8ZM431.0 263.9L426.4 267.1L426.1 266.7L430.4 263.1ZM511.1 243.4L503.7 247.0L503.4 246.4L510.7 242.5ZM528.1 309.8L517.3 310.5L517.2 309.9L528.0 308.8ZM429.1 141.9L424.7 151.4L424.2 151.2L428.1 141.5ZM477.1 325.6L470.5 325.4L470.5 324.8L477.1 324.6ZM466.8 329.6L454.8 329.0L454.8 328.4L466.8 328.6ZM447.3 322.9L441.4 322.8L441.4 322.2L447.3 321.9ZM461.2 290.3L456.5 291.5L456.4 291.0L460.9 289.4ZM307.7 212.4L311.2 222.1L310.6 222.3L306.8 212.7ZM242.0 277.7L250.7 281.6L250.4 282.2L241.6 278.6ZM250.7 295.2L259.7 298.0L259.6 298.6L250.4 296.2ZM309.0 177.4L310.1 182.2L309.6 182.4L308.0 177.7ZM255.7 219.5L261.0 225.6L260.5 226.0L255.0 220.2ZM300.9 239.9L303.0 244.0L302.5 244.3L300.0 240.4ZM265.7 290.1L273.5 293.4L273.2 294.0L265.3 291.0ZM267.5 230.6L270.8 234.6L270.3 235.0L266.7 231.3ZM256.7 276.4L266.1 281.4L265.9 282.0L256.2 277.3ZM322.9 177.3L323.6 182.0L323.0 182.2L321.9 177.5ZM204.3 273.7L211.5 276.4L211.3 277.0L204.0 274.7ZM303.2 224.3L306.3 231.4L305.8 231.6L302.3 224.7ZM271.6 235.1L277.3 241.8L276.8 242.2L270.8 235.8ZM215.6 285.8L225.9 288.9L225.8 289.5L215.4 286.8ZM241.6 269.2L250.3 273.9L250.1 274.4L241.1 270.1ZM276.0 258.7L279.9 262.4L279.5 262.9L275.4 259.5ZM289.0 255.3L296.3 263.7L295.9 264.1L288.3 256.0ZM295.9 195.1L300.0 205.2L299.4 205.5L295.0 195.5ZM284.8 227.2L289.5 234.6L289.0 235.0L283.9 227.8ZM243.4 206.2L250.2 214.1L249.8 214.5L242.6 206.9ZM152.2 222.3L164.0 228.6L163.7 229.3L151.6 223.4ZM181.5 194.2L189.4 200.5L188.9 201.1L180.8 195.1ZM181.6 182.7L191.4 191.2L190.9 191.8L180.8 183.7ZM183.6 196.8L191.5 203.0L191.0 203.7L182.8 197.7ZM218.4 226.6L225.9 232.3L225.4 233.0L217.7 227.5ZM213.5 240.6L221.6 245.7L221.1 246.4L212.9 241.6ZM187.0 210.6L193.7 215.5L193.2 216.1L186.3 211.6ZM197.2 191.4L204.1 197.7L203.6 198.3L196.4 192.3ZM188.3 209.7L197.4 216.4L196.9 217.0L187.6 210.7ZM152.9 211.0L163.6 217.3L163.2 218.0L152.3 212.0ZM176.2 197.4L188.9 206.8L188.4 207.5L175.5 198.4ZM162.3 246.3L174.6 251.6L174.3 252.3L161.8 247.4ZM187.8 240.7L193.5 243.8L193.1 244.5L187.2 241.8ZM187.1 244.7L193.3 247.9L192.9 248.6L186.6 245.8ZM154.0 223.9L164.1 229.3L163.7 230.0L153.4 224.9ZM160.2 204.5L170.0 210.9L169.6 211.5L159.6 205.5ZM509.7 453.1L436.4 392.6L437.0 391.8L513.4 448.3ZM489.7 467.7L434.5 409.7L435.2 409.0L493.2 464.2ZM528.7 434.8L478.3 402.2L478.8 401.3L531.3 430.5ZM468.5 479.4L429.6 427.2L430.4 426.6L471.6 476.9ZM515.1 396.2L460.3 371.8L460.7 370.9L516.3 393.5ZM449.4 486.4L423.8 443.5L424.6 443.0L452.0 484.8ZM509.4 468.8L476.7 437.9L478.0 436.4L512.7 465.1ZM525.0 449.5L497.0 428.4L497.9 427.1L527.3 446.2ZM485.7 478.2L456.5 443.9L457.6 442.9L488.7 475.5Z" fill="#b0b0b0"/></g>
<path d="M25 196.5L26 207L33.5 211L30 220L21 231" fill="none" stroke="#f8f8f8" stroke-width="1.6"/>
<path d="M33.5 204.5V211M28 211.5H39.5" fill="none" stroke="#f8f8f8" stroke-width="1.6"/>
<path d="M147 202h5v7h-5z" fill="#b0b0b0" stroke="#000" stroke-width="0.8"/>
<path d="M142 213l3 1v5l-3 -1z" fill="#b0b0b0"/>
<path d="M133.5 193v10" stroke="#000" stroke-width="1" fill="none"/>
<path d="M147 188h4v3h-4zM146 195h3v5h-3z" fill="#f8f8f8" stroke="#000" stroke-width="0.8"/>
<path d="M176 266l5 2l3 5l4 -3l3 4l5 -6M180 270l2 6l6 2l5 -3l4 3" fill="none" stroke="#000" stroke-width="0.8"/>
<path d="M190 274l8 1l3 4l-6 3l-6 -3z" fill="#0000f8"/>
<circle cx="350" cy="324.5" r="16.7" fill="#b0b0b0"/>
<path d="M350 324h1v1h-1zM350 318h1v1h-1zM350 312h1v1h-1zM350 305h1v1h-1zM350 299h1v1h-1zM350 293h1v1h-1zM350 287h1v1h-1zM350 281h1v1h-1zM350 275h1v1h-1zM350 268h1v1h-1zM350 262h1v1h-1zM350 256h1v1h-1zM350 250h1v1h-1zM350 243h1v1h-1zM350 237h1v1h-1zM350 231h1v1h-1zM350 225h1v1h-1zM350 219h1v1h-1zM350 212h1v1h-1zM350 206h1v1h-1zM350 200h1v1h-1zM350 194h1v1h-1zM350 187h1v1h-1zM350 181h1v1h-1zM350 175h1v1h-1zM350 168h1v1h-1zM350 162h1v1h-1zM350 156h1v1h-1zM350 149h1v1h-1zM350 143h1v1h-1zM350 137h1v1h-1zM350 130h1v1h-1zM350 124h1v1h-1zM350 117h1v1h-1zM350 111h1v1h-1zM350 104h1v1h-1zM350 98h1v1h-1zM350 91h1v1h-1zM350 85h1v1h-1zM350 78h1v1h-1zM350 72h1v1h-1zM350 65h1v1h-1zM350 59h1v1h-1zM350 52h1v1h-1zM350 46h1v1h-1zM350 39h1v1h-1zM350 32h1v1h-1zM350 26h1v1h-1zM350 19h1v1h-1zM350 12h1v1h-1zM350 5h1v1h-1zM350 -1h1v1h-1zM350 -8h1v1h-1zM350 -15h1v1h-1zM350 -22h1v1h-1zM350 -29h1v1h-1zM350 -36h1v1h-1zM350 -43h1v1h-1zM350 -50h1v1h-1zM350 -57h1v1h-1zM350 -64h1v1h-1zM350 -71h1v1h-1zM350 -78h1v1h-1zM350 -85h1v1h-1zM350 -92h1v1h-1zM350 -100h1v1h-1zM350 -107h1v1h-1zM350 -114h1v1h-1zM350 -121h1v1h-1zM350 -129h1v1h-1zM350 -136h1v1h-1zM350 -144h1v1h-1zM350 -151h1v1h-1zM350 324h1v1h-1zM352 318h1v1h-1zM354 312h1v1h-1zM356 307h1v1h-1zM358 301h1v1h-1zM360 295h1v1h-1zM362 289h1v1h-1zM364 283h1v1h-1zM366 278h1v1h-1zM369 272h1v1h-1zM371 266h1v1h-1zM373 260h1v1h-1zM375 254h1v1h-1zM377 248h1v1h-1zM379 243h1v1h-1zM381 237h1v1h-1zM383 231h1v1h-1zM386 225h1v1h-1zM388 219h1v1h-1zM390 213h1v1h-1zM392 207h1v1h-1zM394 201h1v1h-1zM396 195h1v1h-1zM398 190h1v1h-1zM401 184h1v1h-1zM403 178h1v1h-1zM405 172h1v1h-1zM407 166h1v1h-1zM409 160h1v1h-1zM411 154h1v1h-1zM414 148h1v1h-1zM416 142h1v1h-1zM418 136h1v1h-1zM420 130h1v1h-1zM422 124h1v1h-1zM425 118h1v1h-1zM427 112h1v1h-1zM429 106h1v1h-1zM431 99h1v1h-1zM433 93h1v1h-1zM436 87h1v1h-1zM438 81h1v1h-1zM440 75h1v1h-1zM442 69h1v1h-1zM445 62h1v1h-1zM447 56h1v1h-1zM449 50h1v1h-1zM452 44h1v1h-1zM454 37h1v1h-1zM456 31h1v1h-1zM458 25h1v1h-1zM461 18h1v1h-1zM463 12h1v1h-1zM465 5h1v1h-1zM468 -1h1v1h-1zM470 -8h1v1h-1zM473 -14h1v1h-1zM475 -21h1v1h-1zM477 -27h1v1h-1zM480 -34h1v1h-1zM482 -40h1v1h-1zM485 -47h1v1h-1zM487 -54h1v1h-1zM489 -60h1v1h-1zM492 -67h1v1h-1zM494 -74h1v1h-1zM497 -81h1v1h-1zM499 -88h1v1h-1zM502 -95h1v1h-1zM504 -101h1v1h-1zM507 -108h1v1h-1zM509 -115h1v1h-1zM512 -122h1v1h-1zM350 324h1v1h-1zM353 319h1v1h-1zM357 315h1v1h-1zM361 310h1v1h-1zM365 305h1v1h-1zM369 300h1v1h-1zM373 296h1v1h-1zM377 291h1v1h-1zM381 286h1v1h-1zM385 281h1v1h-1zM389 277h1v1h-1zM393 272h1v1h-1zM397 267h1v1h-1zM401 262h1v1h-1zM405 258h1v1h-1zM409 253h1v1h-1zM413 248h1v1h-1zM417 243h1v1h-1zM421 238h1v1h-1zM425 234h1v1h-1zM429 229h1v1h-1zM433 224h1v1h-1zM437 219h1v1h-1zM441 214h1v1h-1zM446 210h1v1h-1zM450 205h1v1h-1zM454 200h1v1h-1zM458 195h1v1h-1zM462 190h1v1h-1zM466 185h1v1h-1zM470 180h1v1h-1zM474 176h1v1h-1zM478 171h1v1h-1zM482 166h1v1h-1zM486 161h1v1h-1zM491 156h1v1h-1zM495 151h1v1h-1zM499 146h1v1h-1zM503 141h1v1h-1zM507 136h1v1h-1zM512 131h1v1h-1zM516 126h1v1h-1zM520 121h1v1h-1zM524 116h1v1h-1zM528 111h1v1h-1zM533 106h1v1h-1zM537 100h1v1h-1zM541 95h1v1h-1zM546 90h1v1h-1zM550 85h1v1h-1zM554 80h1v1h-1zM559 75h1v1h-1zM563 69h1v1h-1zM567 64h1v1h-1zM572 59h1v1h-1zM576 54h1v1h-1zM581 48h1v1h-1zM585 43h1v1h-1zM590 38h1v1h-1zM594 32h1v1h-1zM599 27h1v1h-1zM603 21h1v1h-1zM608 16h1v1h-1zM612 11h1v1h-1zM617 5h1v1h-1zM622 0h1v1h-1zM626 -6h1v1h-1zM631 -12h1v1h-1zM636 -17h1v1h-1zM641 -23h1v1h-1zM645 -29h1v1h-1zM650 -34h1v1h-1zM655 -40h1v1h-1zM350 324h1v1h-1zM355 321h1v1h-1zM360 318h1v1h-1zM366 315h1v1h-1zM371 312h1v1h-1zM376 309h1v1h-1zM382 305h1v1h-1zM387 302h1v1h-1zM392 299h1v1h-1zM398 296h1v1h-1zM403 293h1v1h-1zM408 290h1v1h-1zM414 287h1v1h-1zM419 284h1v1h-1zM425 281h1v1h-1zM430 278h1v1h-1zM435 274h1v1h-1zM441 271h1v1h-1zM446 268h1v1h-1zM452 265h1v1h-1zM457 262h1v1h-1zM462 259h1v1h-1zM468 256h1v1h-1zM473 252h1v1h-1zM479 249h1v1h-1zM484 246h1v1h-1zM490 243h1v1h-1zM495 240h1v1h-1zM501 237h1v1h-1zM506 233h1v1h-1zM512 230h1v1h-1zM517 227h1v1h-1zM523 224h1v1h-1zM528 221h1v1h-1zM534 217h1v1h-1zM540 214h1v1h-1zM545 211h1v1h-1zM551 208h1v1h-1zM556 204h1v1h-1zM562 201h1v1h-1zM568 198h1v1h-1zM573 195h1v1h-1zM579 191h1v1h-1zM585 188h1v1h-1zM591 185h1v1h-1zM596 181h1v1h-1zM602 178h1v1h-1zM608 175h1v1h-1zM614 171h1v1h-1zM620 168h1v1h-1zM625 165h1v1h-1zM631 161h1v1h-1zM637 158h1v1h-1zM643 154h1v1h-1zM649 151h1v1h-1zM655 148h1v1h-1zM661 144h1v1h-1zM667 141h1v1h-1zM673 137h1v1h-1zM679 134h1v1h-1zM685 130h1v1h-1zM691 127h1v1h-1zM698 123h1v1h-1zM704 119h1v1h-1zM710 116h1v1h-1zM716 112h1v1h-1zM723 109h1v1h-1zM729 105h1v1h-1zM735 101h1v1h-1zM742 98h1v1h-1zM748 94h1v1h-1zM754 90h1v1h-1zM761 86h1v1h-1zM350 324h1v1h-1zM356 323h1v1h-1zM362 322h1v1h-1zM368 321h1v1h-1zM374 320h1v1h-1zM380 319h1v1h-1zM386 318h1v1h-1zM392 316h1v1h-1zM398 315h1v1h-1zM404 314h1v1h-1zM410 313h1v1h-1zM417 312h1v1h-1zM423 311h1v1h-1zM429 310h1v1h-1zM435 309h1v1h-1zM441 308h1v1h-1zM447 307h1v1h-1zM453 306h1v1h-1zM459 305h1v1h-1zM466 304h1v1h-1zM472 302h1v1h-1zM478 301h1v1h-1zM484 300h1v1h-1zM490 299h1v1h-1zM497 298h1v1h-1zM503 297h1v1h-1zM509 296h1v1h-1zM515 295h1v1h-1zM522 294h1v1h-1zM528 293h1v1h-1zM534 291h1v1h-1zM540 290h1v1h-1zM547 289h1v1h-1zM553 288h1v1h-1zM559 287h1v1h-1zM566 286h1v1h-1zM572 285h1v1h-1zM578 284h1v1h-1zM585 282h1v1h-1zM591 281h1v1h-1zM598 280h1v1h-1zM604 279h1v1h-1zM611 278h1v1h-1zM617 277h1v1h-1zM624 276h1v1h-1zM630 274h1v1h-1zM637 273h1v1h-1zM643 272h1v1h-1zM650 271h1v1h-1zM657 270h1v1h-1zM663 269h1v1h-1zM670 267h1v1h-1zM677 266h1v1h-1zM683 265h1v1h-1zM690 264h1v1h-1zM697 263h1v1h-1zM704 262h1v1h-1zM711 260h1v1h-1zM718 259h1v1h-1zM724 258h1v1h-1zM731 257h1v1h-1zM738 255h1v1h-1zM745 254h1v1h-1zM752 253h1v1h-1zM760 252h1v1h-1zM767 250h1v1h-1zM774 249h1v1h-1zM781 248h1v1h-1zM788 247h1v1h-1zM795 245h1v1h-1zM803 244h1v1h-1zM810 243h1v1h-1zM817 242h1v1h-1zM350 324h1v1h-1zM356 325h1v1h-1zM362 326h1v1h-1zM368 327h1v1h-1zM374 328h1v1h-1zM380 329h1v1h-1zM386 330h1v1h-1zM392 332h1v1h-1zM398 333h1v1h-1zM404 334h1v1h-1zM410 335h1v1h-1zM417 336h1v1h-1zM423 337h1v1h-1zM429 338h1v1h-1zM435 339h1v1h-1zM441 340h1v1h-1zM447 341h1v1h-1zM453 342h1v1h-1zM459 343h1v1h-1zM466 344h1v1h-1zM472 346h1v1h-1zM478 347h1v1h-1zM484 348h1v1h-1zM490 349h1v1h-1zM497 350h1v1h-1zM503 351h1v1h-1zM509 352h1v1h-1zM515 353h1v1h-1zM522 354h1v1h-1zM528 355h1v1h-1zM534 357h1v1h-1zM540 358h1v1h-1zM547 359h1v1h-1zM553 360h1v1h-1zM559 361h1v1h-1zM566 362h1v1h-1zM572 363h1v1h-1zM578 364h1v1h-1zM585 366h1v1h-1zM591 367h1v1h-1zM598 368h1v1h-1zM604 369h1v1h-1zM611 370h1v1h-1zM617 371h1v1h-1zM624 372h1v1h-1zM630 374h1v1h-1zM637 375h1v1h-1zM643 376h1v1h-1zM650 377h1v1h-1zM657 378h1v1h-1zM663 379h1v1h-1zM670 381h1v1h-1zM677 382h1v1h-1zM683 383h1v1h-1zM690 384h1v1h-1zM697 385h1v1h-1zM704 386h1v1h-1zM711 388h1v1h-1zM718 389h1v1h-1zM724 390h1v1h-1zM731 391h1v1h-1zM738 393h1v1h-1zM745 394h1v1h-1zM752 395h1v1h-1zM760 396h1v1h-1zM767 398h1v1h-1zM774 399h1v1h-1zM781 400h1v1h-1zM788 401h1v1h-1zM795 403h1v1h-1zM803 404h1v1h-1zM810 405h1v1h-1zM817 406h1v1h-1zM350 324h1v1h-1zM355 327h1v1h-1zM360 330h1v1h-1zM366 333h1v1h-1zM371 336h1v1h-1zM376 339h1v1h-1zM382 343h1v1h-1zM387 346h1v1h-1zM392 349h1v1h-1zM398 352h1v1h-1zM403 355h1v1h-1zM408 358h1v1h-1zM414 361h1v1h-1zM419 364h1v1h-1zM425 367h1v1h-1zM430 370h1v1h-1zM435 374h1v1h-1zM441 377h1v1h-1zM446 380h1v1h-1zM452 383h1v1h-1zM457 386h1v1h-1zM462 389h1v1h-1zM468 392h1v1h-1zM473 396h1v1h-1zM479 399h1v1h-1zM484 402h1v1h-1zM490 405h1v1h-1zM495 408h1v1h-1zM501 411h1v1h-1zM506 415h1v1h-1zM512 418h1v1h-1zM517 421h1v1h-1zM523 424h1v1h-1zM528 427h1v1h-1zM534 431h1v1h-1zM540 434h1v1h-1zM545 437h1v1h-1zM551 440h1v1h-1zM556 444h1v1h-1zM562 447h1v1h-1zM568 450h1v1h-1zM573 453h1v1h-1zM579 457h1v1h-1zM585 460h1v1h-1zM591 463h1v1h-1zM596 467h1v1h-1zM602 470h1v1h-1zM608 473h1v1h-1zM614 477h1v1h-1zM620 480h1v1h-1zM625 483h1v1h-1zM631 487h1v1h-1zM637 490h1v1h-1zM643 494h1v1h-1zM649 497h1v1h-1zM655 500h1v1h-1zM661 504h1v1h-1zM667 507h1v1h-1zM673 511h1v1h-1zM679 514h1v1h-1zM685 518h1v1h-1zM691 521h1v1h-1zM698 525h1v1h-1zM704 529h1v1h-1zM710 532h1v1h-1zM716 536h1v1h-1zM723 539h1v1h-1zM729 543h1v1h-1zM735 547h1v1h-1zM742 550h1v1h-1zM748 554h1v1h-1zM754 558h1v1h-1zM761 562h1v1h-1zM350 324h1v1h-1zM353 329h1v1h-1zM357 333h1v1h-1zM361 338h1v1h-1zM365 343h1v1h-1zM369 348h1v1h-1zM373 352h1v1h-1zM377 357h1v1h-1zM381 362h1v1h-1zM385 367h1v1h-1zM389 371h1v1h-1zM393 376h1v1h-1zM397 381h1v1h-1zM401 386h1v1h-1zM405 390h1v1h-1zM409 395h1v1h-1zM413 400h1v1h-1zM417 405h1v1h-1zM421 410h1v1h-1zM425 414h1v1h-1zM429 419h1v1h-1zM433 424h1v1h-1zM437 429h1v1h-1zM441 434h1v1h-1zM446 438h1v1h-1zM450 443h1v1h-1zM454 448h1v1h-1zM458 453h1v1h-1zM462 458h1v1h-1zM466 463h1v1h-1zM470 468h1v1h-1zM474 472h1v1h-1zM478 477h1v1h-1zM482 482h1v1h-1zM486 487h1v1h-1zM491 492h1v1h-1zM495 497h1v1h-1zM499 502h1v1h-1zM503 507h1v1h-1zM507 512h1v1h-1zM512 517h1v1h-1zM516 522h1v1h-1zM520 527h1v1h-1zM524 532h1v1h-1zM528 537h1v1h-1zM533 542h1v1h-1zM537 548h1v1h-1zM541 553h1v1h-1zM546 558h1v1h-1zM550 563h1v1h-1zM554 568h1v1h-1zM559 573h1v1h-1zM563 579h1v1h-1zM567 584h1v1h-1zM572 589h1v1h-1zM576 594h1v1h-1zM581 600h1v1h-1zM585 605h1v1h-1zM590 610h1v1h-1zM594 616h1v1h-1zM599 621h1v1h-1zM603 627h1v1h-1zM608 632h1v1h-1zM612 637h1v1h-1zM617 643h1v1h-1zM622 648h1v1h-1zM626 654h1v1h-1zM631 660h1v1h-1zM636 665h1v1h-1zM641 671h1v1h-1zM645 677h1v1h-1zM650 682h1v1h-1zM655 688h1v1h-1zM350 324h1v1h-1zM352 330h1v1h-1zM354 336h1v1h-1zM356 341h1v1h-1zM358 347h1v1h-1zM360 353h1v1h-1zM362 359h1v1h-1zM364 365h1v1h-1zM366 370h1v1h-1zM369 376h1v1h-1zM371 382h1v1h-1zM373 388h1v1h-1zM375 394h1v1h-1zM377 400h1v1h-1zM379 405h1v1h-1zM381 411h1v1h-1zM383 417h1v1h-1zM386 423h1v1h-1zM388 429h1v1h-1zM390 435h1v1h-1zM392 441h1v1h-1zM394 447h1v1h-1zM396 453h1v1h-1zM398 458h1v1h-1zM401 464h1v1h-1zM403 470h1v1h-1zM405 476h1v1h-1zM407 482h1v1h-1zM409 488h1v1h-1zM411 494h1v1h-1zM414 500h1v1h-1zM416 506h1v1h-1zM418 512h1v1h-1zM420 518h1v1h-1zM422 524h1v1h-1zM425 530h1v1h-1zM427 536h1v1h-1zM429 542h1v1h-1zM431 549h1v1h-1zM433 555h1v1h-1zM436 561h1v1h-1zM438 567h1v1h-1zM440 573h1v1h-1zM442 579h1v1h-1zM445 586h1v1h-1zM447 592h1v1h-1zM449 598h1v1h-1zM452 604h1v1h-1zM454 611h1v1h-1zM456 617h1v1h-1zM458 623h1v1h-1zM461 630h1v1h-1zM463 636h1v1h-1zM465 643h1v1h-1zM468 649h1v1h-1zM470 656h1v1h-1zM473 662h1v1h-1zM475 669h1v1h-1zM477 675h1v1h-1zM480 682h1v1h-1zM482 688h1v1h-1zM485 695h1v1h-1zM487 702h1v1h-1zM489 708h1v1h-1zM492 715h1v1h-1zM494 722h1v1h-1zM497 729h1v1h-1zM499 736h1v1h-1zM502 743h1v1h-1zM504 749h1v1h-1zM507 756h1v1h-1zM509 763h1v1h-1zM512 770h1v1h-1zM350 324h1v1h-1zM350 330h1v1h-1zM350 336h1v1h-1zM350 343h1v1h-1zM350 349h1v1h-1zM350 355h1v1h-1zM350 361h1v1h-1zM350 367h1v1h-1zM350 373h1v1h-1zM350 380h1v1h-1zM350 386h1v1h-1zM350 392h1v1h-1zM350 398h1v1h-1zM350 405h1v1h-1zM350 411h1v1h-1zM350 417h1v1h-1zM350 423h1v1h-1zM350 429h1v1h-1zM350 436h1v1h-1zM350 442h1v1h-1zM350 448h1v1h-1zM350 454h1v1h-1zM350 461h1v1h-1zM350 467h1v1h-1zM350 473h1v1h-1zM350 480h1v1h-1zM350 486h1v1h-1zM350 492h1v1h-1zM350 499h1v1h-1zM350 505h1v1h-1zM350 511h1v1h-1zM350 518h1v1h-1zM350 524h1v1h-1zM350 531h1v1h-1zM350 537h1v1h-1zM350 544h1v1h-1zM350 550h1v1h-1zM350 557h1v1h-1zM350 563h1v1h-1zM350 570h1v1h-1zM350 576h1v1h-1zM350 583h1v1h-1zM350 589h1v1h-1zM350 596h1v1h-1zM350 602h1v1h-1zM350 609h1v1h-1zM350 616h1v1h-1zM350 622h1v1h-1zM350 629h1v1h-1zM350 636h1v1h-1zM350 643h1v1h-1zM350 649h1v1h-1zM350 656h1v1h-1zM350 663h1v1h-1zM350 670h1v1h-1zM350 677h1v1h-1zM350 684h1v1h-1zM350 691h1v1h-1zM350 698h1v1h-1zM350 705h1v1h-1zM350 712h1v1h-1zM350 719h1v1h-1zM350 726h1v1h-1zM350 733h1v1h-1zM350 740h1v1h-1zM350 748h1v1h-1zM350 755h1v1h-1zM350 762h1v1h-1zM350 769h1v1h-1zM350 777h1v1h-1zM350 784h1v1h-1zM350 792h1v1h-1zM350 799h1v1h-1zM350 324h1v1h-1zM347 330h1v1h-1zM345 336h1v1h-1zM343 341h1v1h-1zM341 347h1v1h-1zM339 353h1v1h-1zM337 359h1v1h-1zM335 365h1v1h-1zM333 370h1v1h-1zM330 376h1v1h-1zM328 382h1v1h-1zM326 388h1v1h-1zM324 394h1v1h-1zM322 400h1v1h-1zM320 405h1v1h-1zM318 411h1v1h-1zM316 417h1v1h-1zM313 423h1v1h-1zM311 429h1v1h-1zM309 435h1v1h-1zM307 441h1v1h-1zM305 447h1v1h-1zM303 453h1v1h-1zM301 458h1v1h-1zM298 464h1v1h-1zM296 470h1v1h-1zM294 476h1v1h-1zM292 482h1v1h-1zM290 488h1v1h-1zM288 494h1v1h-1zM285 500h1v1h-1zM283 506h1v1h-1zM281 512h1v1h-1zM279 518h1v1h-1zM277 524h1v1h-1zM274 530h1v1h-1zM272 536h1v1h-1zM270 542h1v1h-1zM268 549h1v1h-1zM266 555h1v1h-1zM263 561h1v1h-1zM261 567h1v1h-1zM259 573h1v1h-1zM257 579h1v1h-1zM254 586h1v1h-1zM252 592h1v1h-1zM250 598h1v1h-1zM247 604h1v1h-1zM245 611h1v1h-1zM243 617h1v1h-1zM241 623h1v1h-1zM238 630h1v1h-1zM236 636h1v1h-1zM234 643h1v1h-1zM231 649h1v1h-1zM229 656h1v1h-1zM226 662h1v1h-1zM224 669h1v1h-1zM222 675h1v1h-1zM219 682h1v1h-1zM217 688h1v1h-1zM214 695h1v1h-1zM212 702h1v1h-1zM210 708h1v1h-1zM207 715h1v1h-1zM205 722h1v1h-1zM202 729h1v1h-1zM200 736h1v1h-1zM197 743h1v1h-1zM195 749h1v1h-1zM192 756h1v1h-1zM190 763h1v1h-1zM187 770h1v1h-1zM350 324h1v1h-1zM346 329h1v1h-1zM342 333h1v1h-1zM338 338h1v1h-1zM334 343h1v1h-1zM330 348h1v1h-1zM326 352h1v1h-1zM322 357h1v1h-1zM318 362h1v1h-1zM314 367h1v1h-1zM310 371h1v1h-1zM306 376h1v1h-1zM302 381h1v1h-1zM298 386h1v1h-1zM294 390h1v1h-1zM290 395h1v1h-1zM286 400h1v1h-1zM282 405h1v1h-1zM278 410h1v1h-1zM274 414h1v1h-1zM270 419h1v1h-1zM266 424h1v1h-1zM262 429h1v1h-1zM258 434h1v1h-1zM253 438h1v1h-1zM249 443h1v1h-1zM245 448h1v1h-1zM241 453h1v1h-1zM237 458h1v1h-1zM233 463h1v1h-1zM229 468h1v1h-1zM225 472h1v1h-1zM221 477h1v1h-1zM217 482h1v1h-1zM213 487h1v1h-1zM208 492h1v1h-1zM204 497h1v1h-1zM200 502h1v1h-1zM196 507h1v1h-1zM192 512h1v1h-1zM187 517h1v1h-1zM183 522h1v1h-1zM179 527h1v1h-1zM175 532h1v1h-1zM171 537h1v1h-1zM166 542h1v1h-1zM162 548h1v1h-1zM158 553h1v1h-1zM153 558h1v1h-1zM149 563h1v1h-1zM145 568h1v1h-1zM140 573h1v1h-1zM136 579h1v1h-1zM132 584h1v1h-1zM127 589h1v1h-1zM123 594h1v1h-1zM118 600h1v1h-1zM114 605h1v1h-1zM109 610h1v1h-1zM105 616h1v1h-1zM100 621h1v1h-1zM96 627h1v1h-1zM91 632h1v1h-1zM87 637h1v1h-1zM82 643h1v1h-1zM77 648h1v1h-1zM73 654h1v1h-1zM68 660h1v1h-1zM63 665h1v1h-1zM58 671h1v1h-1zM54 677h1v1h-1zM49 682h1v1h-1zM44 688h1v1h-1zM350 324h1v1h-1zM344 327h1v1h-1zM339 330h1v1h-1zM333 333h1v1h-1zM328 336h1v1h-1zM323 339h1v1h-1zM317 343h1v1h-1zM312 346h1v1h-1zM307 349h1v1h-1zM301 352h1v1h-1zM296 355h1v1h-1zM291 358h1v1h-1zM285 361h1v1h-1zM280 364h1v1h-1zM274 367h1v1h-1zM269 370h1v1h-1zM264 374h1v1h-1zM258 377h1v1h-1zM253 380h1v1h-1zM247 383h1v1h-1zM242 386h1v1h-1zM237 389h1v1h-1zM231 392h1v1h-1zM226 396h1v1h-1zM220 399h1v1h-1zM215 402h1v1h-1zM209 405h1v1h-1zM204 408h1v1h-1zM198 411h1v1h-1zM193 415h1v1h-1zM187 418h1v1h-1zM182 421h1v1h-1zM176 424h1v1h-1zM171 427h1v1h-1zM165 431h1v1h-1zM159 434h1v1h-1zM154 437h1v1h-1zM148 440h1v1h-1zM143 444h1v1h-1zM137 447h1v1h-1zM131 450h1v1h-1zM126 453h1v1h-1zM120 457h1v1h-1zM114 460h1v1h-1zM108 463h1v1h-1zM103 467h1v1h-1zM97 470h1v1h-1zM91 473h1v1h-1zM85 477h1v1h-1zM79 480h1v1h-1zM74 483h1v1h-1zM68 487h1v1h-1zM62 490h1v1h-1zM56 494h1v1h-1zM50 497h1v1h-1zM44 500h1v1h-1zM38 504h1v1h-1zM32 507h1v1h-1zM26 511h1v1h-1zM20 514h1v1h-1zM14 518h1v1h-1zM8 521h1v1h-1zM1 525h1v1h-1zM-5 529h1v1h-1zM-11 532h1v1h-1zM-17 536h1v1h-1zM-24 539h1v1h-1zM-30 543h1v1h-1zM-36 547h1v1h-1zM-43 550h1v1h-1zM-49 554h1v1h-1zM-55 558h1v1h-1zM-62 562h1v1h-1zM350 324h1v1h-1zM343 325h1v1h-1zM337 326h1v1h-1zM331 327h1v1h-1zM325 328h1v1h-1zM319 329h1v1h-1zM313 330h1v1h-1zM307 332h1v1h-1zM301 333h1v1h-1zM295 334h1v1h-1zM289 335h1v1h-1zM282 336h1v1h-1zM276 337h1v1h-1zM270 338h1v1h-1zM264 339h1v1h-1zM258 340h1v1h-1zM252 341h1v1h-1zM246 342h1v1h-1zM240 343h1v1h-1zM233 344h1v1h-1zM227 346h1v1h-1zM221 347h1v1h-1zM215 348h1v1h-1zM209 349h1v1h-1zM202 350h1v1h-1zM196 351h1v1h-1zM190 352h1v1h-1zM184 353h1v1h-1zM177 354h1v1h-1zM171 355h1v1h-1zM165 357h1v1h-1zM159 358h1v1h-1zM152 359h1v1h-1zM146 360h1v1h-1zM140 361h1v1h-1zM133 362h1v1h-1zM127 363h1v1h-1zM121 364h1v1h-1zM114 366h1v1h-1zM108 367h1v1h-1zM101 368h1v1h-1zM95 369h1v1h-1zM88 370h1v1h-1zM82 371h1v1h-1zM75 372h1v1h-1zM69 374h1v1h-1zM62 375h1v1h-1zM56 376h1v1h-1zM49 377h1v1h-1zM42 378h1v1h-1zM36 379h1v1h-1zM29 381h1v1h-1zM22 382h1v1h-1zM16 383h1v1h-1zM9 384h1v1h-1zM2 385h1v1h-1zM-5 386h1v1h-1zM-12 388h1v1h-1zM-19 389h1v1h-1zM-25 390h1v1h-1zM-32 391h1v1h-1zM-39 393h1v1h-1zM-46 394h1v1h-1zM-53 395h1v1h-1zM-61 396h1v1h-1zM-68 398h1v1h-1zM-75 399h1v1h-1zM-82 400h1v1h-1zM-89 401h1v1h-1zM-96 403h1v1h-1zM-104 404h1v1h-1zM-111 405h1v1h-1zM-118 406h1v1h-1zM350 324h1v1h-1zM343 323h1v1h-1zM337 322h1v1h-1zM331 321h1v1h-1zM325 320h1v1h-1zM319 319h1v1h-1zM313 318h1v1h-1zM307 316h1v1h-1zM301 315h1v1h-1zM295 314h1v1h-1zM289 313h1v1h-1zM282 312h1v1h-1zM276 311h1v1h-1zM270 310h1v1h-1zM264 309h1v1h-1zM258 308h1v1h-1zM252 307h1v1h-1zM246 306h1v1h-1zM240 305h1v1h-1zM233 304h1v1h-1zM227 302h1v1h-1zM221 301h1v1h-1zM215 300h1v1h-1zM209 299h1v1h-1zM202 298h1v1h-1zM196 297h1v1h-1zM190 296h1v1h-1zM184 295h1v1h-1zM177 294h1v1h-1zM171 293h1v1h-1zM165 291h1v1h-1zM159 290h1v1h-1zM152 289h1v1h-1zM146 288h1v1h-1zM140 287h1v1h-1zM133 286h1v1h-1zM127 285h1v1h-1zM121 284h1v1h-1zM114 282h1v1h-1zM108 281h1v1h-1zM101 280h1v1h-1zM95 279h1v1h-1zM88 278h1v1h-1zM82 277h1v1h-1zM75 276h1v1h-1zM69 274h1v1h-1zM62 273h1v1h-1zM56 272h1v1h-1zM49 271h1v1h-1zM42 270h1v1h-1zM36 269h1v1h-1zM29 267h1v1h-1zM22 266h1v1h-1zM16 265h1v1h-1zM9 264h1v1h-1zM2 263h1v1h-1zM-5 262h1v1h-1zM-12 260h1v1h-1zM-19 259h1v1h-1zM-25 258h1v1h-1zM-32 257h1v1h-1zM-39 255h1v1h-1zM-46 254h1v1h-1zM-53 253h1v1h-1zM-61 252h1v1h-1zM-68 250h1v1h-1zM-75 249h1v1h-1zM-82 248h1v1h-1zM-89 247h1v1h-1zM-96 245h1v1h-1zM-104 244h1v1h-1zM-111 243h1v1h-1zM-118 242h1v1h-1zM350 324h1v1h-1zM344 321h1v1h-1zM339 318h1v1h-1zM333 315h1v1h-1zM328 312h1v1h-1zM323 309h1v1h-1zM317 305h1v1h-1zM312 302h1v1h-1zM307 299h1v1h-1zM301 296h1v1h-1zM296 293h1v1h-1zM291 290h1v1h-1zM285 287h1v1h-1zM280 284h1v1h-1zM274 281h1v1h-1zM269 278h1v1h-1zM264 274h1v1h-1zM258 271h1v1h-1zM253 268h1v1h-1zM247 265h1v1h-1zM242 262h1v1h-1zM237 259h1v1h-1zM231 256h1v1h-1zM226 252h1v1h-1zM220 249h1v1h-1zM215 246h1v1h-1zM209 243h1v1h-1zM204 240h1v1h-1zM198 237h1v1h-1zM193 233h1v1h-1zM187 230h1v1h-1zM182 227h1v1h-1zM176 224h1v1h-1zM171 221h1v1h-1zM165 217h1v1h-1zM159 214h1v1h-1zM154 211h1v1h-1zM148 208h1v1h-1zM143 204h1v1h-1zM137 201h1v1h-1zM131 198h1v1h-1zM126 195h1v1h-1zM120 191h1v1h-1zM114 188h1v1h-1zM108 185h1v1h-1zM103 181h1v1h-1zM97 178h1v1h-1zM91 175h1v1h-1zM85 171h1v1h-1zM79 168h1v1h-1zM74 165h1v1h-1zM68 161h1v1h-1zM62 158h1v1h-1zM56 154h1v1h-1zM50 151h1v1h-1zM44 148h1v1h-1zM38 144h1v1h-1zM32 141h1v1h-1zM26 137h1v1h-1zM20 134h1v1h-1zM14 130h1v1h-1zM8 127h1v1h-1zM1 123h1v1h-1zM-5 119h1v1h-1zM-11 116h1v1h-1zM-17 112h1v1h-1zM-24 109h1v1h-1zM-30 105h1v1h-1zM-36 101h1v1h-1zM-43 98h1v1h-1zM-49 94h1v1h-1zM-55 90h1v1h-1zM-62 86h1v1h-1zM350 324h1v1h-1zM346 319h1v1h-1zM342 315h1v1h-1zM338 310h1v1h-1zM334 305h1v1h-1zM330 300h1v1h-1zM326 296h1v1h-1zM322 291h1v1h-1zM318 286h1v1h-1zM314 281h1v1h-1zM310 277h1v1h-1zM306 272h1v1h-1zM302 267h1v1h-1zM298 262h1v1h-1zM294 258h1v1h-1zM290 253h1v1h-1zM286 248h1v1h-1zM282 243h1v1h-1zM278 238h1v1h-1zM274 234h1v1h-1zM270 229h1v1h-1zM266 224h1v1h-1zM262 219h1v1h-1zM258 214h1v1h-1zM253 210h1v1h-1zM249 205h1v1h-1zM245 200h1v1h-1zM241 195h1v1h-1zM237 190h1v1h-1zM233 185h1v1h-1zM229 180h1v1h-1zM225 176h1v1h-1zM221 171h1v1h-1zM217 166h1v1h-1zM213 161h1v1h-1zM208 156h1v1h-1zM204 151h1v1h-1zM200 146h1v1h-1zM196 141h1v1h-1zM192 136h1v1h-1zM187 131h1v1h-1zM183 126h1v1h-1zM179 121h1v1h-1zM175 116h1v1h-1zM171 111h1v1h-1zM166 106h1v1h-1zM162 100h1v1h-1zM158 95h1v1h-1zM153 90h1v1h-1zM149 85h1v1h-1zM145 80h1v1h-1zM140 75h1v1h-1zM136 69h1v1h-1zM132 64h1v1h-1zM127 59h1v1h-1zM123 54h1v1h-1zM118 48h1v1h-1zM114 43h1v1h-1zM109 38h1v1h-1zM105 32h1v1h-1zM100 27h1v1h-1zM96 21h1v1h-1zM91 16h1v1h-1zM87 11h1v1h-1zM82 5h1v1h-1zM77 0h1v1h-1zM73 -6h1v1h-1zM68 -12h1v1h-1zM63 -17h1v1h-1zM58 -23h1v1h-1zM54 -29h1v1h-1zM49 -34h1v1h-1zM44 -40h1v1h-1zM350 324h1v1h-1zM347 318h1v1h-1zM345 312h1v1h-1zM343 307h1v1h-1zM341 301h1v1h-1zM339 295h1v1h-1zM337 289h1v1h-1zM335 283h1v1h-1zM333 278h1v1h-1zM330 272h1v1h-1zM328 266h1v1h-1zM326 260h1v1h-1zM324 254h1v1h-1zM322 248h1v1h-1zM320 243h1v1h-1zM318 237h1v1h-1zM316 231h1v1h-1zM313 225h1v1h-1zM311 219h1v1h-1zM309 213h1v1h-1zM307 207h1v1h-1zM305 201h1v1h-1zM303 195h1v1h-1zM301 190h1v1h-1zM298 184h1v1h-1zM296 178h1v1h-1zM294 172h1v1h-1zM292 166h1v1h-1zM290 160h1v1h-1zM288 154h1v1h-1zM285 148h1v1h-1zM283 142h1v1h-1zM281 136h1v1h-1zM279 130h1v1h-1zM277 124h1v1h-1zM274 118h1v1h-1zM272 112h1v1h-1zM270 106h1v1h-1zM268 99h1v1h-1zM266 93h1v1h-1zM263 87h1v1h-1zM261 81h1v1h-1zM259 75h1v1h-1zM257 69h1v1h-1zM254 62h1v1h-1zM252 56h1v1h-1zM250 50h1v1h-1zM247 44h1v1h-1zM245 37h1v1h-1zM243 31h1v1h-1zM241 25h1v1h-1zM238 18h1v1h-1zM236 12h1v1h-1zM234 5h1v1h-1zM231 -1h1v1h-1zM229 -8h1v1h-1zM226 -14h1v1h-1zM224 -21h1v1h-1zM222 -27h1v1h-1zM219 -34h1v1h-1zM217 -40h1v1h-1zM214 -47h1v1h-1zM212 -54h1v1h-1zM210 -60h1v1h-1zM207 -67h1v1h-1zM205 -74h1v1h-1zM202 -81h1v1h-1zM200 -88h1v1h-1zM197 -95h1v1h-1zM195 -101h1v1h-1zM192 -108h1v1h-1zM190 -115h1v1h-1zM187 -122h1v1h-1zM350 234h1v1h-1zM356 234h1v1h-1zM362 235h1v1h-1zM368 236h1v1h-1zM374 238h1v1h-1zM380 240h1v1h-1zM386 242h1v1h-1zM391 244h1v1h-1zM397 248h1v1h-1zM402 251h1v1h-1zM407 255h1v1h-1zM411 259h1v1h-1zM416 263h1v1h-1zM420 268h1v1h-1zM423 273h1v1h-1zM427 278h1v1h-1zM430 284h1v1h-1zM432 289h1v1h-1zM435 295h1v1h-1zM436 301h1v1h-1zM438 307h1v1h-1zM439 313h1v1h-1zM439 319h1v1h-1zM439 326h1v1h-1zM439 332h1v1h-1zM438 338h1v1h-1zM437 344h1v1h-1zM435 350h1v1h-1zM433 356h1v1h-1zM431 362h1v1h-1zM428 367h1v1h-1zM425 372h1v1h-1zM422 378h1v1h-1zM418 382h1v1h-1zM414 387h1v1h-1zM409 391h1v1h-1zM404 395h1v1h-1zM399 399h1v1h-1zM394 402h1v1h-1zM388 405h1v1h-1zM383 407h1v1h-1zM377 409h1v1h-1zM371 411h1v1h-1zM365 412h1v1h-1zM359 413h1v1h-1zM353 414h1v1h-1zM346 414h1v1h-1zM340 413h1v1h-1zM334 412h1v1h-1zM328 411h1v1h-1zM322 409h1v1h-1zM316 407h1v1h-1zM311 405h1v1h-1zM305 402h1v1h-1zM300 399h1v1h-1zM295 395h1v1h-1zM290 391h1v1h-1zM285 387h1v1h-1zM281 382h1v1h-1zM277 378h1v1h-1zM274 372h1v1h-1zM271 367h1v1h-1zM268 362h1v1h-1zM266 356h1v1h-1zM264 350h1v1h-1zM262 344h1v1h-1zM261 338h1v1h-1zM260 332h1v1h-1zM260 326h1v1h-1zM260 319h1v1h-1zM260 313h1v1h-1zM261 307h1v1h-1zM263 301h1v1h-1zM264 295h1v1h-1zM267 289h1v1h-1zM269 284h1v1h-1zM272 278h1v1h-1zM276 273h1v1h-1zM279 268h1v1h-1zM283 263h1v1h-1zM288 259h1v1h-1zM292 255h1v1h-1zM297 251h1v1h-1zM302 248h1v1h-1zM308 244h1v1h-1zM313 242h1v1h-1zM319 240h1v1h-1zM325 238h1v1h-1zM331 236h1v1h-1zM337 235h1v1h-1zM343 234h1v1h-1zM350 143h1v1h-1zM356 143h1v1h-1zM362 143h1v1h-1zM368 144h1v1h-1zM374 145h1v1h-1zM380 146h1v1h-1zM387 147h1v1h-1zM393 148h1v1h-1zM399 150h1v1h-1zM405 152h1v1h-1zM410 154h1v1h-1zM416 156h1v1h-1zM422 158h1v1h-1zM428 161h1v1h-1zM433 164h1v1h-1zM439 167h1v1h-1zM444 170h1v1h-1zM449 173h1v1h-1zM454 177h1v1h-1zM459 180h1v1h-1zM464 184h1v1h-1zM469 188h1v1h-1zM474 192h1v1h-1zM478 197h1v1h-1zM482 201h1v1h-1zM486 206h1v1h-1zM490 210h1v1h-1zM494 215h1v1h-1zM498 220h1v1h-1zM501 226h1v1h-1zM505 231h1v1h-1zM508 236h1v1h-1zM511 242h1v1h-1zM513 247h1v1h-1zM516 253h1v1h-1zM518 259h1v1h-1zM520 265h1v1h-1zM522 270h1v1h-1zM524 276h1v1h-1zM526 282h1v1h-1zM527 289h1v1h-1zM528 295h1v1h-1zM529 301h1v1h-1zM530 307h1v1h-1zM530 313h1v1h-1zM530 319h1v1h-1zM530 326h1v1h-1zM530 332h1v1h-1zM530 338h1v1h-1zM529 344h1v1h-1zM529 350h1v1h-1zM528 356h1v1h-1zM526 363h1v1h-1zM525 369h1v1h-1zM523 375h1v1h-1zM521 381h1v1h-1zM519 386h1v1h-1zM517 392h1v1h-1zM515 398h1v1h-1zM512 404h1v1h-1zM509 409h1v1h-1zM506 414h1v1h-1zM503 420h1v1h-1zM500 425h1v1h-1zM496 430h1v1h-1zM492 435h1v1h-1zM488 440h1v1h-1zM484 445h1v1h-1zM480 449h1v1h-1zM476 454h1v1h-1zM471 458h1v1h-1zM467 462h1v1h-1zM462 466h1v1h-1zM457 470h1v1h-1zM452 473h1v1h-1zM447 477h1v1h-1zM441 480h1v1h-1zM436 483h1v1h-1zM430 486h1v1h-1zM425 489h1v1h-1zM419 491h1v1h-1zM413 493h1v1h-1zM407 495h1v1h-1zM402 497h1v1h-1zM396 499h1v1h-1zM390 500h1v1h-1zM383 502h1v1h-1zM377 503h1v1h-1zM371 504h1v1h-1zM365 504h1v1h-1zM359 505h1v1h-1zM353 505h1v1h-1zM346 505h1v1h-1zM340 505h1v1h-1zM334 504h1v1h-1zM328 504h1v1h-1zM322 503h1v1h-1zM316 502h1v1h-1zM309 500h1v1h-1zM303 499h1v1h-1zM297 497h1v1h-1zM292 495h1v1h-1zM286 493h1v1h-1zM280 491h1v1h-1zM274 489h1v1h-1zM269 486h1v1h-1zM263 483h1v1h-1zM258 480h1v1h-1zM252 477h1v1h-1zM247 473h1v1h-1zM242 470h1v1h-1zM237 466h1v1h-1zM232 462h1v1h-1zM228 458h1v1h-1zM223 454h1v1h-1zM219 449h1v1h-1zM215 445h1v1h-1zM211 440h1v1h-1zM207 435h1v1h-1zM203 430h1v1h-1zM199 425h1v1h-1zM196 420h1v1h-1zM193 414h1v1h-1zM190 409h1v1h-1zM187 404h1v1h-1zM184 398h1v1h-1zM182 392h1v1h-1zM180 386h1v1h-1zM178 381h1v1h-1zM176 375h1v1h-1zM174 369h1v1h-1zM173 363h1v1h-1zM171 356h1v1h-1zM170 350h1v1h-1zM170 344h1v1h-1zM169 338h1v1h-1zM169 332h1v1h-1zM169 326h1v1h-1zM169 319h1v1h-1zM169 313h1v1h-1zM169 307h1v1h-1zM170 301h1v1h-1zM171 295h1v1h-1zM172 289h1v1h-1zM173 282h1v1h-1zM175 276h1v1h-1zM177 270h1v1h-1zM179 265h1v1h-1zM181 259h1v1h-1zM183 253h1v1h-1zM186 247h1v1h-1zM188 242h1v1h-1zM191 236h1v1h-1zM194 231h1v1h-1zM198 226h1v1h-1zM201 220h1v1h-1zM205 215h1v1h-1zM209 210h1v1h-1zM213 206h1v1h-1zM217 201h1v1h-1zM221 197h1v1h-1zM225 192h1v1h-1zM230 188h1v1h-1zM235 184h1v1h-1zM240 180h1v1h-1zM245 177h1v1h-1zM250 173h1v1h-1zM255 170h1v1h-1zM260 167h1v1h-1zM266 164h1v1h-1zM271 161h1v1h-1zM277 158h1v1h-1zM283 156h1v1h-1zM289 154h1v1h-1zM294 152h1v1h-1zM300 150h1v1h-1zM306 148h1v1h-1zM312 147h1v1h-1zM319 146h1v1h-1zM325 145h1v1h-1zM331 144h1v1h-1zM337 143h1v1h-1zM343 143h1v1h-1zM350 49h1v1h-1zM356 49h1v1h-1zM362 49h1v1h-1zM368 50h1v1h-1zM374 50h1v1h-1zM380 51h1v1h-1zM387 52h1v1h-1zM393 52h1v1h-1zM399 53h1v1h-1zM405 55h1v1h-1zM411 56h1v1h-1zM417 57h1v1h-1zM423 59h1v1h-1zM429 61h1v1h-1zM435 63h1v1h-1zM441 65h1v1h-1zM446 67h1v1h-1zM452 69h1v1h-1zM458 71h1v1h-1zM464 74h1v1h-1zM469 76h1v1h-1zM475 79h1v1h-1zM480 82h1v1h-1zM486 85h1v1h-1zM491 88h1v1h-1zM496 91h1v1h-1zM501 95h1v1h-1zM507 98h1v1h-1zM512 102h1v1h-1zM517 106h1v1h-1zM521 109h1v1h-1zM526 113h1v1h-1zM531 117h1v1h-1zM536 122h1v1h-1zM540 126h1v1h-1zM545 130h1v1h-1zM549 135h1v1h-1zM553 139h1v1h-1zM557 144h1v1h-1zM561 148h1v1h-1zM565 153h1v1h-1zM569 158h1v1h-1zM573 163h1v1h-1zM576 168h1v1h-1zM580 173h1v1h-1zM583 179h1v1h-1zM586 184h1v1h-1zM589 189h1v1h-1zM592 195h1v1h-1zM595 200h1v1h-1zM598 206h1v1h-1zM600 211h1v1h-1zM603 217h1v1h-1zM605 223h1v1h-1zM607 228h1v1h-1zM609 234h1v1h-1zM611 240h1v1h-1zM613 246h1v1h-1zM615 252h1v1h-1zM616 258h1v1h-1zM618 264h1v1h-1zM619 270h1v1h-1zM620 276h1v1h-1zM621 282h1v1h-1zM622 288h1v1h-1zM623 295h1v1h-1zM624 301h1v1h-1zM624 307h1v1h-1zM624 313h1v1h-1zM624 319h1v1h-1zM624 326h1v1h-1zM624 332h1v1h-1zM624 338h1v1h-1zM624 344h1v1h-1zM623 350h1v1h-1zM623 356h1v1h-1zM622 363h1v1h-1zM621 369h1v1h-1zM620 375h1v1h-1zM619 381h1v1h-1zM617 387h1v1h-1zM616 393h1v1h-1zM614 399h1v1h-1zM612 405h1v1h-1zM610 411h1v1h-1zM608 417h1v1h-1zM606 422h1v1h-1zM604 428h1v1h-1zM602 434h1v1h-1zM599 440h1v1h-1zM596 445h1v1h-1zM594 451h1v1h-1zM591 456h1v1h-1zM588 461h1v1h-1zM585 467h1v1h-1zM581 472h1v1h-1zM578 477h1v1h-1zM574 482h1v1h-1zM571 487h1v1h-1zM567 492h1v1h-1zM563 497h1v1h-1zM559 502h1v1h-1zM555 507h1v1h-1zM551 511h1v1h-1zM547 516h1v1h-1zM542 520h1v1h-1zM538 524h1v1h-1zM533 529h1v1h-1zM529 533h1v1h-1zM524 537h1v1h-1zM519 541h1v1h-1zM514 544h1v1h-1zM509 548h1v1h-1zM504 551h1v1h-1zM499 555h1v1h-1zM494 558h1v1h-1zM488 561h1v1h-1zM483 564h1v1h-1zM478 567h1v1h-1zM472 570h1v1h-1zM466 573h1v1h-1zM461 575h1v1h-1zM455 578h1v1h-1zM449 580h1v1h-1zM444 582h1v1h-1zM438 584h1v1h-1zM432 586h1v1h-1zM426 588h1v1h-1zM420 590h1v1h-1zM414 591h1v1h-1zM408 593h1v1h-1zM402 594h1v1h-1zM396 595h1v1h-1zM390 596h1v1h-1zM383 597h1v1h-1zM377 598h1v1h-1zM371 598h1v1h-1zM365 599h1v1h-1zM359 599h1v1h-1zM353 599h1v1h-1zM346 599h1v1h-1zM340 599h1v1h-1zM334 599h1v1h-1zM328 598h1v1h-1zM322 598h1v1h-1zM316 597h1v1h-1zM309 596h1v1h-1zM303 595h1v1h-1zM297 594h1v1h-1zM291 593h1v1h-1zM285 591h1v1h-1zM279 590h1v1h-1zM273 588h1v1h-1zM267 586h1v1h-1zM261 584h1v1h-1zM255 582h1v1h-1zM250 580h1v1h-1zM244 578h1v1h-1zM238 575h1v1h-1zM233 573h1v1h-1zM227 570h1v1h-1zM221 567h1v1h-1zM216 564h1v1h-1zM211 561h1v1h-1zM205 558h1v1h-1zM200 555h1v1h-1zM195 551h1v1h-1zM190 548h1v1h-1zM185 544h1v1h-1zM180 541h1v1h-1zM175 537h1v1h-1zM170 533h1v1h-1zM166 529h1v1h-1zM161 524h1v1h-1zM157 520h1v1h-1zM152 516h1v1h-1zM148 511h1v1h-1zM144 507h1v1h-1zM140 502h1v1h-1zM136 497h1v1h-1zM132 492h1v1h-1zM128 487h1v1h-1zM125 482h1v1h-1zM121 477h1v1h-1zM118 472h1v1h-1zM114 467h1v1h-1zM111 462h1v1h-1zM108 456h1v1h-1zM105 451h1v1h-1zM103 445h1v1h-1zM100 440h1v1h-1zM97 434h1v1h-1zM95 428h1v1h-1zM93 422h1v1h-1zM91 417h1v1h-1zM89 411h1v1h-1zM87 405h1v1h-1zM85 399h1v1h-1zM83 393h1v1h-1zM82 387h1v1h-1zM80 381h1v1h-1zM79 375h1v1h-1zM78 369h1v1h-1zM77 363h1v1h-1zM76 356h1v1h-1zM76 350h1v1h-1zM75 344h1v1h-1zM75 338h1v1h-1zM75 332h1v1h-1zM75 326h1v1h-1zM75 319h1v1h-1zM75 313h1v1h-1zM75 307h1v1h-1zM75 301h1v1h-1zM76 295h1v1h-1zM77 288h1v1h-1zM78 282h1v1h-1zM79 276h1v1h-1zM80 270h1v1h-1zM81 264h1v1h-1zM83 258h1v1h-1zM84 252h1v1h-1zM86 246h1v1h-1zM88 240h1v1h-1zM90 234h1v1h-1zM92 228h1v1h-1zM94 223h1v1h-1zM96 217h1v1h-1zM99 211h1v1h-1zM101 206h1v1h-1zM104 200h1v1h-1zM107 195h1v1h-1zM110 189h1v1h-1zM113 184h1v1h-1zM116 179h1v1h-1zM119 173h1v1h-1zM123 168h1v1h-1zM126 163h1v1h-1zM130 158h1v1h-1zM134 153h1v1h-1zM138 148h1v1h-1zM142 144h1v1h-1zM146 139h1v1h-1zM150 135h1v1h-1zM154 130h1v1h-1zM159 126h1v1h-1zM163 122h1v1h-1zM168 117h1v1h-1zM173 113h1v1h-1zM178 109h1v1h-1zM182 106h1v1h-1zM187 102h1v1h-1zM192 98h1v1h-1zM198 95h1v1h-1zM203 91h1v1h-1zM208 88h1v1h-1zM213 85h1v1h-1zM219 82h1v1h-1zM224 79h1v1h-1zM230 76h1v1h-1zM235 74h1v1h-1zM241 71h1v1h-1zM247 69h1v1h-1zM253 67h1v1h-1zM258 65h1v1h-1zM264 63h1v1h-1zM270 61h1v1h-1zM276 59h1v1h-1zM282 57h1v1h-1zM288 56h1v1h-1zM294 55h1v1h-1zM300 53h1v1h-1zM306 52h1v1h-1zM312 52h1v1h-1zM319 51h1v1h-1zM325 50h1v1h-1zM331 50h1v1h-1zM337 49h1v1h-1zM343 49h1v1h-1z" fill="#000"/>
<text x="340" y="50.5" font-size="10.5" textLength="21" lengthAdjust="spacing" stroke="#000" stroke-width="0.25">&#8722;60</text>
<text x="340" y="236.5" font-size="10.5" textLength="21" lengthAdjust="spacing" stroke="#000" stroke-width="0.25">&#8722;80</text>
</g>
<rect x="7.5" y="34.5" width="686" height="581" fill="none" stroke="#000" stroke-width="1"/>
<text x="350" y="640" font-size="12.5" text-anchor="middle" textLength="166" lengthAdjust="spacing">Sea Ice Concentration (%)</text>
<rect x="105" y="646" width="49" height="35" fill="#f800f8"/>
<rect x="154" y="646" width="49" height="35" fill="#9800f8"/>
<rect x="203" y="646" width="49" height="35" fill="#0000f8"/>
<rect x="252" y="646" width="49" height="35" fill="#0098f8"/>
<rect x="301" y="646" width="49" height="35" fill="#00f8f8"/>
<rect x="350" y="646" width="49" height="35" fill="#00f898"/>
<rect x="399" y="646" width="49" height="35" fill="#00f800"/>
<rect x="448" y="646" width="49" height="35" fill="#98f800"/>
<rect x="497" y="646" width="49" height="35" fill="#f8f800"/>
<rect x="546" y="646" width="49" height="35" fill="#f89800"/>
<rect x="105.5" y="646.5" width="490" height="35" fill="none" stroke="#000"/>
<path d="M130.0 646v5M130.0 682v-5M154.5 646v5M154.5 682v-5M179.0 646v5M179.0 682v-5M203.5 646v5M203.5 682v-5M228.0 646v5M228.0 682v-5M252.5 646v5M252.5 682v-5M277.0 646v5M277.0 682v-5M301.5 646v5M301.5 682v-5M326.0 646v5M326.0 682v-5M350.5 646v5M350.5 682v-5M375.0 646v5M375.0 682v-5M399.5 646v5M399.5 682v-5M424.0 646v5M424.0 682v-5M448.5 646v5M448.5 682v-5M473.0 646v5M473.0 682v-5M497.5 646v5M497.5 682v-5M522.0 646v5M522.0 682v-5M546.5 646v5M546.5 682v-5M571.0 646v5M571.0 682v-5" stroke="#000" stroke-width="1" fill="none"/>
<text x="105" y="696" font-size="11.5" text-anchor="middle">0</text>
<text x="154" y="696" font-size="11.5" text-anchor="middle">10</text>
<text x="203" y="696" font-size="11.5" text-anchor="middle">20</text>
<text x="252" y="696" font-size="11.5" text-anchor="middle">30</text>
<text x="301" y="696" font-size="11.5" text-anchor="middle">40</text>
<text x="350" y="696" font-size="11.5" text-anchor="middle">50</text>
<text x="399" y="696" font-size="11.5" text-anchor="middle">60</text>
<text x="448" y="696" font-size="11.5" text-anchor="middle">70</text>
<text x="497" y="696" font-size="11.5" text-anchor="middle">80</text>
<text x="546" y="696" font-size="11.5" text-anchor="middle">90</text>
<text x="595" y="696" font-size="11.5" text-anchor="middle">100</text>
<text x="604" y="665" font-size="11.5" fill="#f89800" textLength="22" lengthAdjust="spacing">+&#8722;&gt;</text>
<text x="631" y="665" font-size="11.5">100</text>
</svg></body></html>
